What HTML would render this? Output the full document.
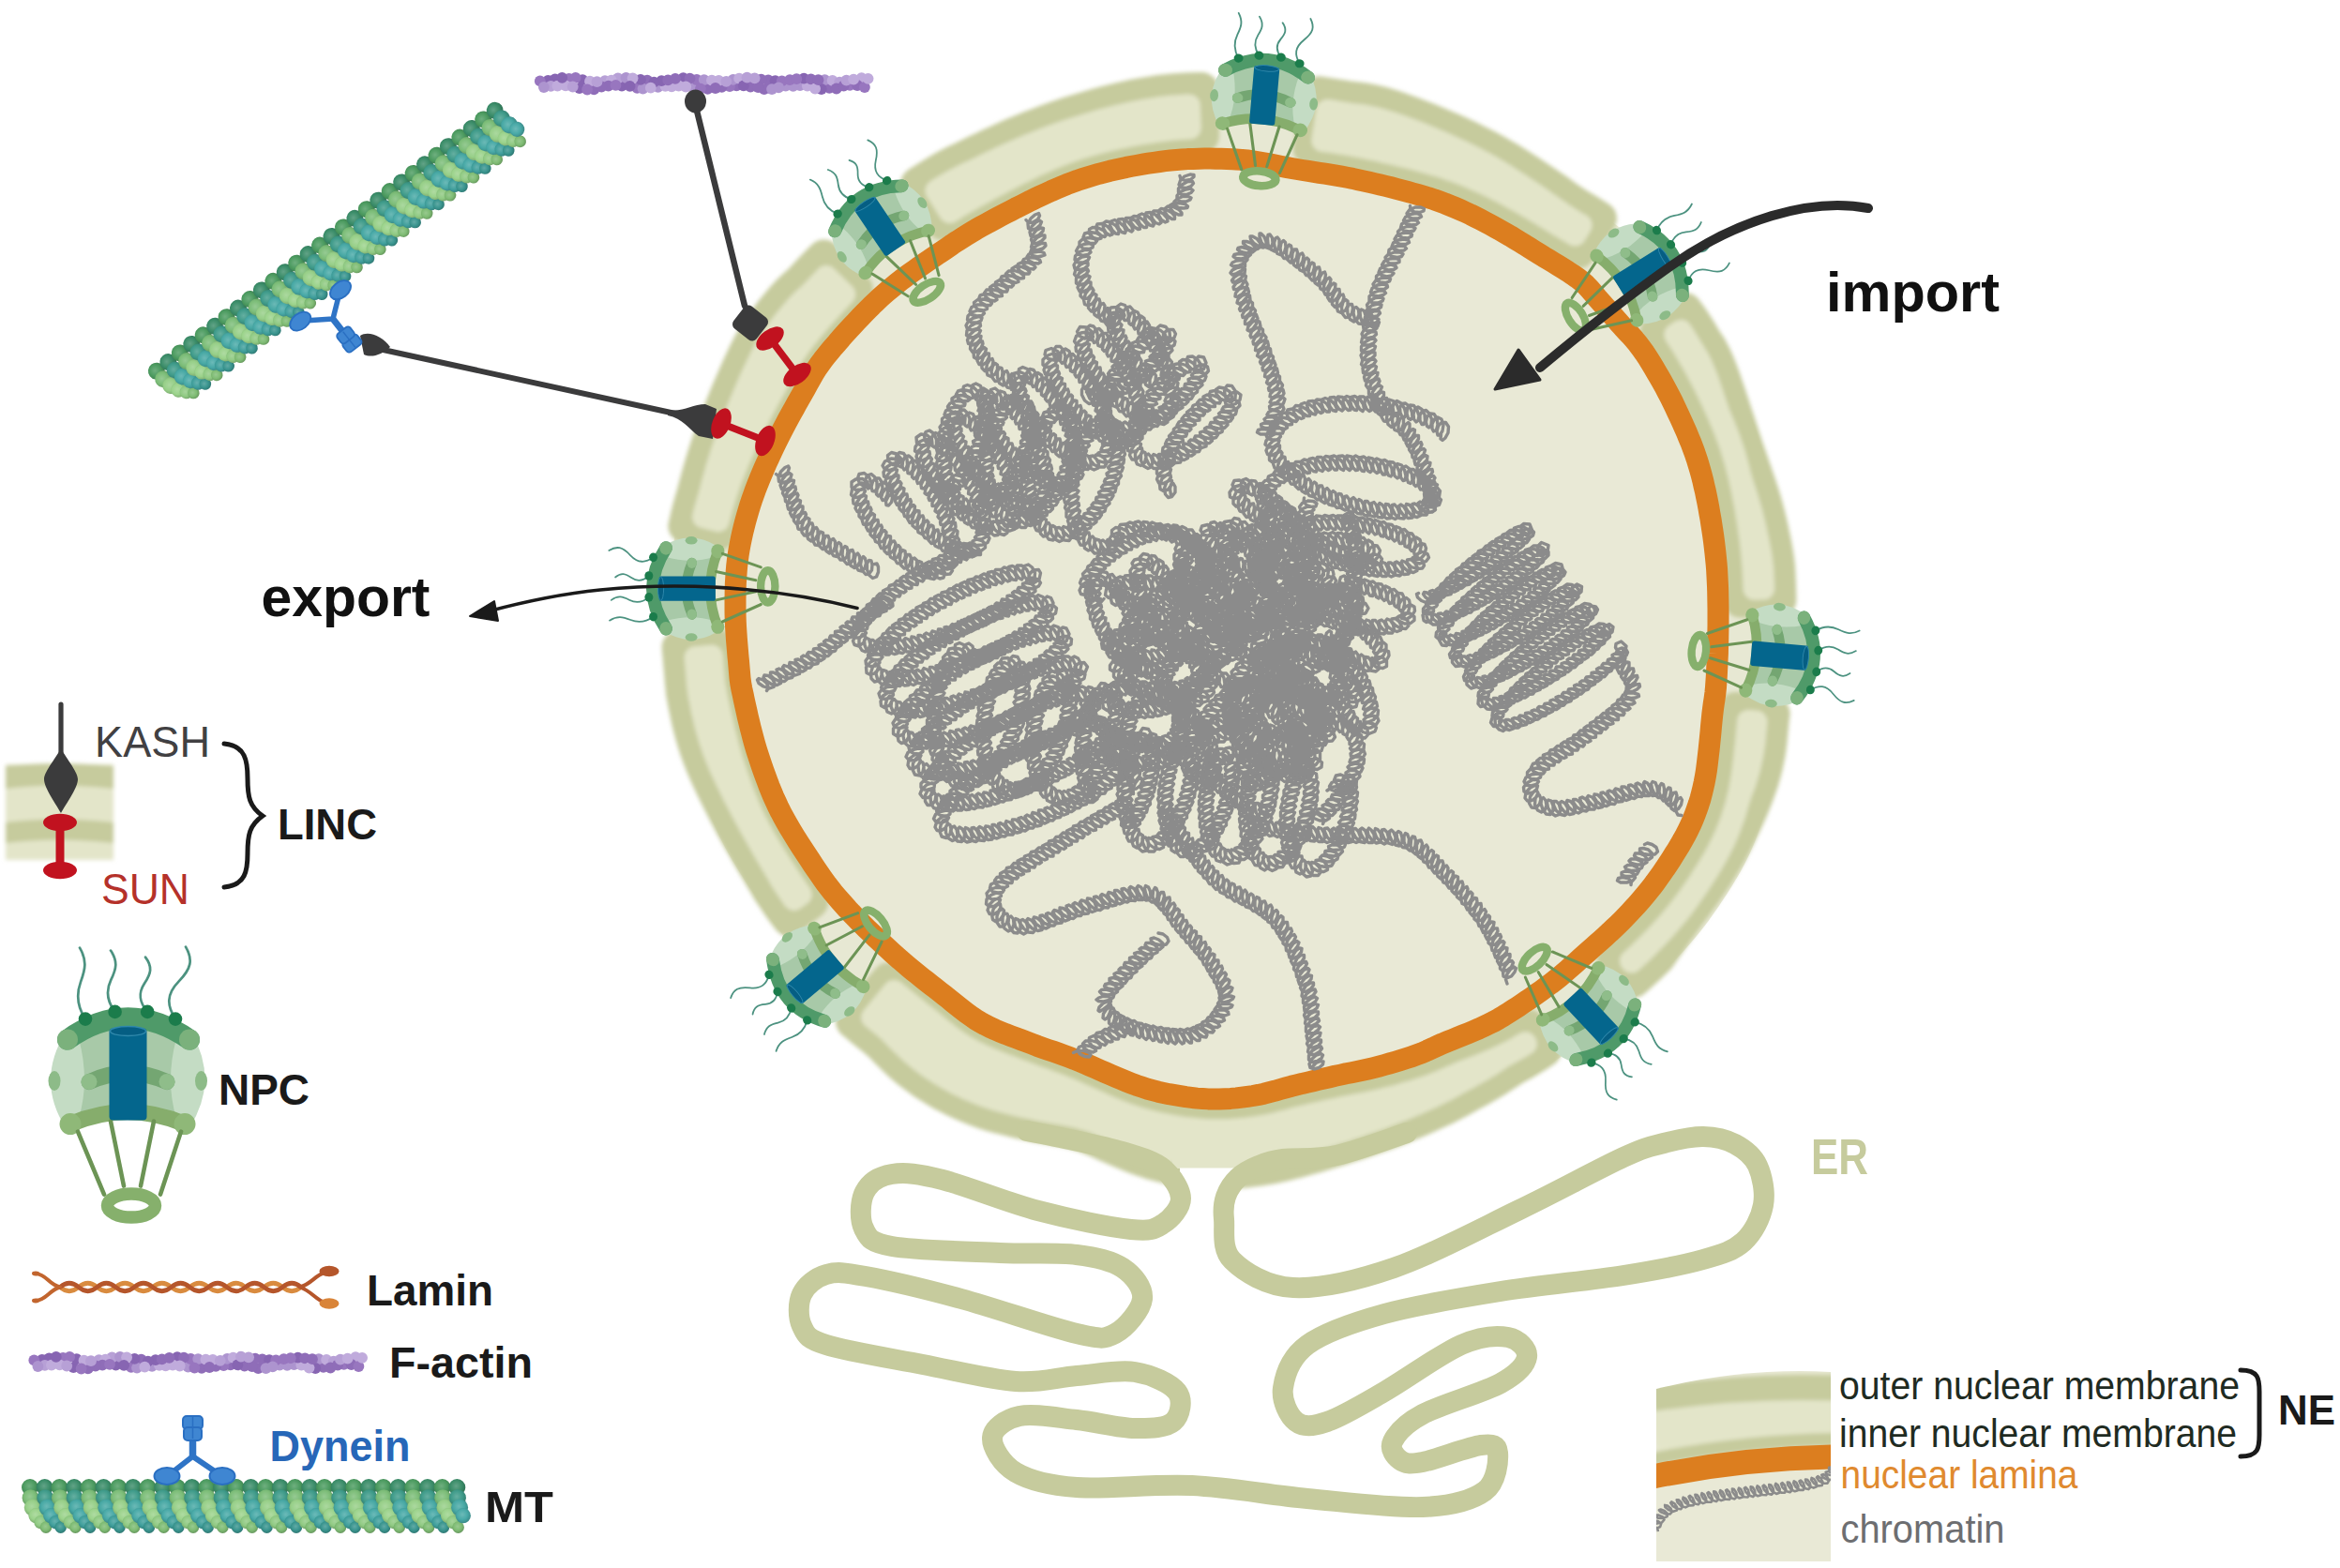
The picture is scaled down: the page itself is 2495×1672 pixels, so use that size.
<!DOCTYPE html>
<html><head><meta charset="utf-8"><title>Nucleus</title>
<style>html,body{margin:0;padding:0;background:#fff}svg{display:block}text{font-family:"Liberation Sans",sans-serif}</style></head><body>
<svg width="2495" height="1672" viewBox="0 0 2495 1672">
<defs>
<filter id="soft" x="-5%" y="-5%" width="110%" height="110%"><feGaussianBlur stdDeviation="2.1"/></filter>
<g id="npc">
<path d="M-45 -66 c-9 -13.7 -10 -25.8 -5 -39.5 s7 -22.8 -1 -36.5" fill="none" stroke="#4c9280" stroke-width="2.7" stroke-linecap="round"/>
<path d="M-13.4 -73.7 c-9 -11.8 -10 -22.2 -4.3 -34 s7.7 -19.6 -0.3 -31.3" fill="none" stroke="#4c9280" stroke-width="2.7" stroke-linecap="round"/>
<path d="M21.2 -73.7 c-9 -10.5 -10 -19.8 -3.1 -30.3 s8.9 -17.5 0.9 -28" fill="none" stroke="#4c9280" stroke-width="2.7" stroke-linecap="round"/>
<path d="M51 -66 c-9 -13.9 -10 -26.2 3.5 -40 s15.5 -23.1 7.5 -37" fill="none" stroke="#4c9280" stroke-width="2.7" stroke-linecap="round"/>
<path d="M-66 -52 Q0 -84 68 -52 Q98 0 66 50 Q0 26 -66 50 Q-98 0 -66 -52Z" fill="#c4dcc4"/>
<path d="M-52 -45 Q0 -66 52 -45 Q40 0 52 40 Q0 24 -52 40 Q-40 0 -52 -45Z" fill="#a8c9a8"/>
<ellipse cx="-78" cy="0" rx="6.5" ry="10.5" fill="#8dbb88"/><ellipse cx="78.5" cy="0" rx="6.5" ry="10.5" fill="#8dbb88"/>
<path d="M-61 46 Q0 20 61 46" fill="none" stroke="#86ad6c" stroke-width="17" stroke-linecap="round"/>
<circle cx="-61" cy="46" r="11.5" fill="#8fb878"/><circle cx="61" cy="46" r="11.5" fill="#8fb878"/>
<path d="M-41 1 Q0 -18 42 1" fill="none" stroke="#74a672" stroke-width="17" stroke-linecap="round"/>
<circle cx="-41" cy="1" r="8.5" fill="#8fbd8a"/><circle cx="42" cy="1" r="8.5" fill="#8fbd8a"/>
<path d="M-64 -44 Q0 -90 66 -44" fill="none" stroke="#4f9a69" stroke-width="22" stroke-linecap="round"/>
<circle cx="-64" cy="-44" r="11" fill="#7bb17c"/><circle cx="66" cy="-44" r="11" fill="#7bb17c"/>
<path d="M-53 54L-25 121" stroke="#6c9455" stroke-width="4.6" stroke-linecap="round"/>
<path d="M-18 43L-4 112" stroke="#6c9455" stroke-width="4.6" stroke-linecap="round"/>
<path d="M28 43L14 112" stroke="#6c9455" stroke-width="4.6" stroke-linecap="round"/>
<path d="M57 54L35 121" stroke="#6c9455" stroke-width="4.6" stroke-linecap="round"/>
<ellipse cx="4" cy="133" rx="25.5" ry="12.5" fill="none" stroke="#86b06c" stroke-width="13.5"/>
<rect x="-19.5" y="-56" width="40" height="98" rx="4" fill="#04668d"/>
<ellipse cx="0.5" cy="-53" rx="19" ry="5" fill="#055e83" stroke="#2f88ab" stroke-width="1.5"/>
<circle cx="-45" cy="-66" r="7.3" fill="#1b7c4b"/>
<circle cx="-13.4" cy="-73.7" r="7.3" fill="#1b7c4b"/>
<circle cx="21.2" cy="-73.7" r="7.3" fill="#1b7c4b"/>
<circle cx="51" cy="-66" r="7.3" fill="#1b7c4b"/>
</g>
<radialGradient id="mg0" cx="0.45" cy="0.42" r="0.62"><stop offset="0" stop-color="#6faf7f"/><stop offset="0.55" stop-color="#4c9b60"/><stop offset="1" stop-color="#3b784a"/></radialGradient>
<radialGradient id="mg1" cx="0.45" cy="0.42" r="0.62"><stop offset="0" stop-color="#96ca93"/><stop offset="0.55" stop-color="#7cbd78"/><stop offset="1" stop-color="#60935d"/></radialGradient>
<radialGradient id="mg2" cx="0.45" cy="0.42" r="0.62"><stop offset="0" stop-color="#abd89f"/><stop offset="0.55" stop-color="#97cf88"/><stop offset="1" stop-color="#75a16a"/></radialGradient>
<radialGradient id="mg3" cx="0.45" cy="0.42" r="0.62"><stop offset="0" stop-color="#afdba2"/><stop offset="0.55" stop-color="#9bd38b"/><stop offset="1" stop-color="#78a46c"/></radialGradient>
<radialGradient id="mg4" cx="0.45" cy="0.42" r="0.62"><stop offset="0" stop-color="#a6d49b"/><stop offset="0.55" stop-color="#90ca83"/><stop offset="1" stop-color="#709d66"/></radialGradient>
<radialGradient id="mg5" cx="0.45" cy="0.42" r="0.62"><stop offset="0" stop-color="#98c98f"/><stop offset="0.55" stop-color="#7fbc74"/><stop offset="1" stop-color="#63925a"/></radialGradient>
<radialGradient id="mt0" cx="0.45" cy="0.42" r="0.62"><stop offset="0" stop-color="#62a387"/><stop offset="0.55" stop-color="#3b8d69"/><stop offset="1" stop-color="#2e6d51"/></radialGradient>
<radialGradient id="mt1" cx="0.45" cy="0.42" r="0.62"><stop offset="0" stop-color="#65afa1"/><stop offset="0.55" stop-color="#3f9b8a"/><stop offset="1" stop-color="#31786b"/></radialGradient>
<radialGradient id="mt2" cx="0.45" cy="0.42" r="0.62"><stop offset="0" stop-color="#6bb9b6"/><stop offset="0.55" stop-color="#47a8a4"/><stop offset="1" stop-color="#37837f"/></radialGradient>
<radialGradient id="mt3" cx="0.45" cy="0.42" r="0.62"><stop offset="0" stop-color="#6cbab8"/><stop offset="0.55" stop-color="#48a9a7"/><stop offset="1" stop-color="#388382"/></radialGradient>
<radialGradient id="mt4" cx="0.45" cy="0.42" r="0.62"><stop offset="0" stop-color="#66b2af"/><stop offset="0.55" stop-color="#409f9c"/><stop offset="1" stop-color="#317c79"/></radialGradient>
<radialGradient id="mt5" cx="0.45" cy="0.42" r="0.62"><stop offset="0" stop-color="#61aaa5"/><stop offset="0.55" stop-color="#3a958f"/><stop offset="1" stop-color="#2d746f"/></radialGradient>
<g id="mt"><circle cx="9" cy="8" r="9" fill="url(#mg0)"/>
<circle cx="9.6" cy="19.2" r="9" fill="url(#mg1)"/>
<circle cx="11.8" cy="29.6" r="9" fill="url(#mg2)"/>
<circle cx="15.5" cy="38.2" r="8.1" fill="url(#mg3)"/>
<circle cx="20.5" cy="45.2" r="7.2" fill="url(#mg4)"/>
<circle cx="26" cy="50.6" r="6.3" fill="url(#mg5)"/>
<circle cx="24.7" cy="8" r="9" fill="url(#mt0)"/>
<circle cx="25.3" cy="19.2" r="9" fill="url(#mt1)"/>
<circle cx="27.5" cy="29.6" r="9" fill="url(#mt2)"/>
<circle cx="31.2" cy="38.2" r="8.1" fill="url(#mt3)"/>
<circle cx="36.2" cy="45.2" r="7.2" fill="url(#mt4)"/>
<circle cx="41.7" cy="50.6" r="6.3" fill="url(#mt5)"/>
<circle cx="40.4" cy="8" r="9" fill="url(#mg0)"/>
<circle cx="41" cy="19.2" r="9" fill="url(#mg1)"/>
<circle cx="43.2" cy="29.6" r="9" fill="url(#mg2)"/>
<circle cx="46.9" cy="38.2" r="8.1" fill="url(#mg3)"/>
<circle cx="51.9" cy="45.2" r="7.2" fill="url(#mg4)"/>
<circle cx="57.4" cy="50.6" r="6.3" fill="url(#mg5)"/>
<circle cx="56.1" cy="8" r="9" fill="url(#mt0)"/>
<circle cx="56.7" cy="19.2" r="9" fill="url(#mt1)"/>
<circle cx="58.9" cy="29.6" r="9" fill="url(#mt2)"/>
<circle cx="62.6" cy="38.2" r="8.1" fill="url(#mt3)"/>
<circle cx="67.6" cy="45.2" r="7.2" fill="url(#mt4)"/>
<circle cx="73.1" cy="50.6" r="6.3" fill="url(#mt5)"/>
<circle cx="71.8" cy="8" r="9" fill="url(#mg0)"/>
<circle cx="72.4" cy="19.2" r="9" fill="url(#mg1)"/>
<circle cx="74.6" cy="29.6" r="9" fill="url(#mg2)"/>
<circle cx="78.3" cy="38.2" r="8.1" fill="url(#mg3)"/>
<circle cx="83.3" cy="45.2" r="7.2" fill="url(#mg4)"/>
<circle cx="88.8" cy="50.6" r="6.3" fill="url(#mg5)"/>
<circle cx="87.5" cy="8" r="9" fill="url(#mt0)"/>
<circle cx="88.1" cy="19.2" r="9" fill="url(#mt1)"/>
<circle cx="90.3" cy="29.6" r="9" fill="url(#mt2)"/>
<circle cx="94" cy="38.2" r="8.1" fill="url(#mt3)"/>
<circle cx="99" cy="45.2" r="7.2" fill="url(#mt4)"/>
<circle cx="104.5" cy="50.6" r="6.3" fill="url(#mt5)"/>
<circle cx="103.2" cy="8" r="9" fill="url(#mg0)"/>
<circle cx="103.8" cy="19.2" r="9" fill="url(#mg1)"/>
<circle cx="106" cy="29.6" r="9" fill="url(#mg2)"/>
<circle cx="109.7" cy="38.2" r="8.1" fill="url(#mg3)"/>
<circle cx="114.7" cy="45.2" r="7.2" fill="url(#mg4)"/>
<circle cx="120.2" cy="50.6" r="6.3" fill="url(#mg5)"/>
<circle cx="118.9" cy="8" r="9" fill="url(#mt0)"/>
<circle cx="119.5" cy="19.2" r="9" fill="url(#mt1)"/>
<circle cx="121.7" cy="29.6" r="9" fill="url(#mt2)"/>
<circle cx="125.4" cy="38.2" r="8.1" fill="url(#mt3)"/>
<circle cx="130.4" cy="45.2" r="7.2" fill="url(#mt4)"/>
<circle cx="135.9" cy="50.6" r="6.3" fill="url(#mt5)"/>
<circle cx="134.6" cy="8" r="9" fill="url(#mg0)"/>
<circle cx="135.2" cy="19.2" r="9" fill="url(#mg1)"/>
<circle cx="137.4" cy="29.6" r="9" fill="url(#mg2)"/>
<circle cx="141.1" cy="38.2" r="8.1" fill="url(#mg3)"/>
<circle cx="146.1" cy="45.2" r="7.2" fill="url(#mg4)"/>
<circle cx="151.6" cy="50.6" r="6.3" fill="url(#mg5)"/>
<circle cx="150.3" cy="8" r="9" fill="url(#mt0)"/>
<circle cx="150.9" cy="19.2" r="9" fill="url(#mt1)"/>
<circle cx="153.1" cy="29.6" r="9" fill="url(#mt2)"/>
<circle cx="156.8" cy="38.2" r="8.1" fill="url(#mt3)"/>
<circle cx="161.8" cy="45.2" r="7.2" fill="url(#mt4)"/>
<circle cx="167.3" cy="50.6" r="6.3" fill="url(#mt5)"/>
<circle cx="166" cy="8" r="9" fill="url(#mg0)"/>
<circle cx="166.6" cy="19.2" r="9" fill="url(#mg1)"/>
<circle cx="168.8" cy="29.6" r="9" fill="url(#mg2)"/>
<circle cx="172.5" cy="38.2" r="8.1" fill="url(#mg3)"/>
<circle cx="177.5" cy="45.2" r="7.2" fill="url(#mg4)"/>
<circle cx="183" cy="50.6" r="6.3" fill="url(#mg5)"/>
<circle cx="181.7" cy="8" r="9" fill="url(#mt0)"/>
<circle cx="182.3" cy="19.2" r="9" fill="url(#mt1)"/>
<circle cx="184.5" cy="29.6" r="9" fill="url(#mt2)"/>
<circle cx="188.2" cy="38.2" r="8.1" fill="url(#mt3)"/>
<circle cx="193.2" cy="45.2" r="7.2" fill="url(#mt4)"/>
<circle cx="198.7" cy="50.6" r="6.3" fill="url(#mt5)"/>
<circle cx="197.4" cy="8" r="9" fill="url(#mg0)"/>
<circle cx="198" cy="19.2" r="9" fill="url(#mg1)"/>
<circle cx="200.2" cy="29.6" r="9" fill="url(#mg2)"/>
<circle cx="203.9" cy="38.2" r="8.1" fill="url(#mg3)"/>
<circle cx="208.9" cy="45.2" r="7.2" fill="url(#mg4)"/>
<circle cx="214.4" cy="50.6" r="6.3" fill="url(#mg5)"/>
<circle cx="213.1" cy="8" r="9" fill="url(#mt0)"/>
<circle cx="213.7" cy="19.2" r="9" fill="url(#mt1)"/>
<circle cx="215.9" cy="29.6" r="9" fill="url(#mt2)"/>
<circle cx="219.6" cy="38.2" r="8.1" fill="url(#mt3)"/>
<circle cx="224.6" cy="45.2" r="7.2" fill="url(#mt4)"/>
<circle cx="230.1" cy="50.6" r="6.3" fill="url(#mt5)"/>
<circle cx="228.8" cy="8" r="9" fill="url(#mg0)"/>
<circle cx="229.4" cy="19.2" r="9" fill="url(#mg1)"/>
<circle cx="231.6" cy="29.6" r="9" fill="url(#mg2)"/>
<circle cx="235.3" cy="38.2" r="8.1" fill="url(#mg3)"/>
<circle cx="240.3" cy="45.2" r="7.2" fill="url(#mg4)"/>
<circle cx="245.8" cy="50.6" r="6.3" fill="url(#mg5)"/>
<circle cx="244.5" cy="8" r="9" fill="url(#mt0)"/>
<circle cx="245.1" cy="19.2" r="9" fill="url(#mt1)"/>
<circle cx="247.3" cy="29.6" r="9" fill="url(#mt2)"/>
<circle cx="251" cy="38.2" r="8.1" fill="url(#mt3)"/>
<circle cx="256" cy="45.2" r="7.2" fill="url(#mt4)"/>
<circle cx="261.5" cy="50.6" r="6.3" fill="url(#mt5)"/>
<circle cx="260.2" cy="8" r="9" fill="url(#mg0)"/>
<circle cx="260.8" cy="19.2" r="9" fill="url(#mg1)"/>
<circle cx="263" cy="29.6" r="9" fill="url(#mg2)"/>
<circle cx="266.7" cy="38.2" r="8.1" fill="url(#mg3)"/>
<circle cx="271.7" cy="45.2" r="7.2" fill="url(#mg4)"/>
<circle cx="277.2" cy="50.6" r="6.3" fill="url(#mg5)"/>
<circle cx="275.9" cy="8" r="9" fill="url(#mt0)"/>
<circle cx="276.5" cy="19.2" r="9" fill="url(#mt1)"/>
<circle cx="278.7" cy="29.6" r="9" fill="url(#mt2)"/>
<circle cx="282.4" cy="38.2" r="8.1" fill="url(#mt3)"/>
<circle cx="287.4" cy="45.2" r="7.2" fill="url(#mt4)"/>
<circle cx="292.9" cy="50.6" r="6.3" fill="url(#mt5)"/>
<circle cx="291.6" cy="8" r="9" fill="url(#mg0)"/>
<circle cx="292.2" cy="19.2" r="9" fill="url(#mg1)"/>
<circle cx="294.4" cy="29.6" r="9" fill="url(#mg2)"/>
<circle cx="298.1" cy="38.2" r="8.1" fill="url(#mg3)"/>
<circle cx="303.1" cy="45.2" r="7.2" fill="url(#mg4)"/>
<circle cx="308.6" cy="50.6" r="6.3" fill="url(#mg5)"/>
<circle cx="307.3" cy="8" r="9" fill="url(#mt0)"/>
<circle cx="307.9" cy="19.2" r="9" fill="url(#mt1)"/>
<circle cx="310.1" cy="29.6" r="9" fill="url(#mt2)"/>
<circle cx="313.8" cy="38.2" r="8.1" fill="url(#mt3)"/>
<circle cx="318.8" cy="45.2" r="7.2" fill="url(#mt4)"/>
<circle cx="324.3" cy="50.6" r="6.3" fill="url(#mt5)"/>
<circle cx="323" cy="8" r="9" fill="url(#mg0)"/>
<circle cx="323.6" cy="19.2" r="9" fill="url(#mg1)"/>
<circle cx="325.8" cy="29.6" r="9" fill="url(#mg2)"/>
<circle cx="329.5" cy="38.2" r="8.1" fill="url(#mg3)"/>
<circle cx="334.5" cy="45.2" r="7.2" fill="url(#mg4)"/>
<circle cx="340" cy="50.6" r="6.3" fill="url(#mg5)"/>
<circle cx="338.7" cy="8" r="9" fill="url(#mt0)"/>
<circle cx="339.3" cy="19.2" r="9" fill="url(#mt1)"/>
<circle cx="341.5" cy="29.6" r="9" fill="url(#mt2)"/>
<circle cx="345.2" cy="38.2" r="8.1" fill="url(#mt3)"/>
<circle cx="350.2" cy="45.2" r="7.2" fill="url(#mt4)"/>
<circle cx="355.7" cy="50.6" r="6.3" fill="url(#mt5)"/>
<circle cx="354.4" cy="8" r="9" fill="url(#mg0)"/>
<circle cx="355" cy="19.2" r="9" fill="url(#mg1)"/>
<circle cx="357.2" cy="29.6" r="9" fill="url(#mg2)"/>
<circle cx="360.9" cy="38.2" r="8.1" fill="url(#mg3)"/>
<circle cx="365.9" cy="45.2" r="7.2" fill="url(#mg4)"/>
<circle cx="371.4" cy="50.6" r="6.3" fill="url(#mg5)"/>
<circle cx="370.1" cy="8" r="9" fill="url(#mt0)"/>
<circle cx="370.7" cy="19.2" r="9" fill="url(#mt1)"/>
<circle cx="372.9" cy="29.6" r="9" fill="url(#mt2)"/>
<circle cx="376.6" cy="38.2" r="8.1" fill="url(#mt3)"/>
<circle cx="381.6" cy="45.2" r="7.2" fill="url(#mt4)"/>
<circle cx="387.1" cy="50.6" r="6.3" fill="url(#mt5)"/>
<circle cx="385.8" cy="8" r="9" fill="url(#mg0)"/>
<circle cx="386.4" cy="19.2" r="9" fill="url(#mg1)"/>
<circle cx="388.6" cy="29.6" r="9" fill="url(#mg2)"/>
<circle cx="392.3" cy="38.2" r="8.1" fill="url(#mg3)"/>
<circle cx="397.3" cy="45.2" r="7.2" fill="url(#mg4)"/>
<circle cx="402.8" cy="50.6" r="6.3" fill="url(#mg5)"/>
<circle cx="401.5" cy="8" r="9" fill="url(#mt0)"/>
<circle cx="402.1" cy="19.2" r="9" fill="url(#mt1)"/>
<circle cx="404.3" cy="29.6" r="9" fill="url(#mt2)"/>
<circle cx="408" cy="38.2" r="8.1" fill="url(#mt3)"/>
<circle cx="413" cy="45.2" r="7.2" fill="url(#mt4)"/>
<circle cx="418.5" cy="50.6" r="6.3" fill="url(#mt5)"/>
<circle cx="417.2" cy="8" r="9" fill="url(#mg0)"/>
<circle cx="417.8" cy="19.2" r="9" fill="url(#mg1)"/>
<circle cx="420" cy="29.6" r="9" fill="url(#mg2)"/>
<circle cx="423.7" cy="38.2" r="8.1" fill="url(#mg3)"/>
<circle cx="428.7" cy="45.2" r="7.2" fill="url(#mg4)"/>
<circle cx="434.2" cy="50.6" r="6.3" fill="url(#mg5)"/>
<circle cx="432.9" cy="8" r="9" fill="url(#mt0)"/>
<circle cx="433.5" cy="19.2" r="9" fill="url(#mt1)"/>
<circle cx="435.7" cy="29.6" r="9" fill="url(#mt2)"/>
<circle cx="439.4" cy="38.2" r="8.1" fill="url(#mt3)"/>
<circle cx="444.4" cy="45.2" r="7.2" fill="url(#mt4)"/>
<circle cx="449.9" cy="50.6" r="6.3" fill="url(#mt5)"/>
<circle cx="448.6" cy="8" r="9" fill="url(#mg0)"/>
<circle cx="449.2" cy="19.2" r="9" fill="url(#mg1)"/>
<circle cx="451.4" cy="29.6" r="9" fill="url(#mg2)"/>
<circle cx="455.1" cy="38.2" r="8.1" fill="url(#mg3)"/>
<circle cx="460.1" cy="45.2" r="7.2" fill="url(#mg4)"/>
<circle cx="465.6" cy="50.6" r="6.3" fill="url(#mg5)"/>
<circle cx="464.3" cy="8" r="9" fill="url(#mt0)"/>
<circle cx="464.9" cy="19.2" r="9" fill="url(#mt1)"/>
<circle cx="467.1" cy="29.6" r="9" fill="url(#mt2)"/>
<circle cx="470.8" cy="38.2" r="8.1" fill="url(#mt3)"/></g>
<g id="actin"><circle cx="243.8" cy="6.2" r="5.9" fill="#8f6db8"/>
<circle cx="214.3" cy="2.3" r="5.9" fill="#8f6db8"/>
<circle cx="282" cy="2.2" r="5.9" fill="#ad94cf"/>
<circle cx="313.3" cy="4.9" r="5.9" fill="#8f6db8"/>
<circle cx="289.8" cy="2.6" r="5.9" fill="#c0abdc"/>
<circle cx="92" cy="2.5" r="5.9" fill="#8765b2"/>
<circle cx="169" cy="4.7" r="5.9" fill="#ad94cf"/>
<circle cx="183.5" cy="5.8" r="5.9" fill="#8f6db8"/>
<circle cx="87.9" cy="-5.5" r="5.9" fill="#b7a0d6"/>
<circle cx="207" cy="3.2" r="5.9" fill="#9876bf"/>
<circle cx="248.2" cy="-3.5" r="5.9" fill="#8f6db8"/>
<circle cx="130.6" cy="3.8" r="5.9" fill="#ad94cf"/>
<circle cx="74" cy="-2.8" r="5.9" fill="#b7a0d6"/>
<circle cx="286.1" cy="-5.3" r="5.9" fill="#8765b2"/>
<circle cx="255.6" cy="-2.8" r="5.9" fill="#8765b2"/>
<circle cx="266.7" cy="2.7" r="5.9" fill="#ad94cf"/>
<circle cx="252" cy="6.1" r="5.9" fill="#ad94cf"/>
<circle cx="308.4" cy="-3.8" r="5.9" fill="#ad94cf"/>
<circle cx="108.3" cy="4.9" r="5.9" fill="#9876bf"/>
<circle cx="316.6" cy="-3.1" r="5.9" fill="#c0abdc"/>
<circle cx="262.7" cy="-2.7" r="5.9" fill="#9876bf"/>
<circle cx="20.8" cy="-4.6" r="5.9" fill="#8765b2"/>
<circle cx="335.2" cy="1.8" r="5.9" fill="#9876bf"/>
<circle cx="171.9" cy="-4" r="5.9" fill="#9876bf"/>
<circle cx="138.4" cy="2.8" r="5.9" fill="#c0abdc"/>
<circle cx="229.2" cy="3.5" r="5.9" fill="#8f6db8"/>
<circle cx="210.7" cy="-4.2" r="5.9" fill="#ad94cf"/>
<circle cx="13.3" cy="-3.2" r="5.9" fill="#8765b2"/>
<circle cx="347.6" cy="-5.9" r="5.9" fill="#c0abdc"/>
<circle cx="217.1" cy="-5.3" r="5.9" fill="#c0abdc"/>
<circle cx="293.7" cy="-4.7" r="5.9" fill="#8f6db8"/>
<circle cx="96.5" cy="-6.1" r="5.9" fill="#ad94cf"/>
<circle cx="198.6" cy="3.9" r="5.9" fill="#8f6db8"/>
<circle cx="46.8" cy="5.1" r="5.9" fill="#8765b2"/>
<circle cx="157.5" cy="-5.9" r="5.9" fill="#8765b2"/>
<circle cx="179.7" cy="-3.9" r="5.9" fill="#ad94cf"/>
<circle cx="343.1" cy="2" r="5.9" fill="#8f6db8"/>
<circle cx="259.2" cy="4.4" r="5.9" fill="#ad94cf"/>
<circle cx="119.1" cy="-3.4" r="5.9" fill="#8f6db8"/>
<circle cx="50.2" cy="-3.9" r="5.9" fill="#8765b2"/>
<circle cx="350.9" cy="4" r="5.9" fill="#9876bf"/>
<circle cx="35.7" cy="-5.1" r="5.9" fill="#9876bf"/>
<circle cx="134.3" cy="-2.8" r="5.9" fill="#8765b2"/>
<circle cx="195.4" cy="-3.1" r="5.9" fill="#c0abdc"/>
<circle cx="304.8" cy="6" r="5.9" fill="#8765b2"/>
<circle cx="42.7" cy="-6.1" r="5.9" fill="#9876bf"/>
<circle cx="354.6" cy="-5.2" r="5.9" fill="#c0abdc"/>
<circle cx="4.8" cy="-2.6" r="5.9" fill="#9876bf"/>
<circle cx="114.5" cy="5.6" r="5.9" fill="#ad94cf"/>
<circle cx="16.3" cy="2.8" r="5.9" fill="#b7a0d6"/>
<circle cx="324.2" cy="-1.4" r="5.9" fill="#b7a0d6"/>
<circle cx="62.3" cy="6.3" r="5.9" fill="#8f6db8"/>
<circle cx="320.8" cy="5.5" r="5.9" fill="#8f6db8"/>
<circle cx="8.9" cy="4" r="5.9" fill="#ad94cf"/>
<circle cx="175.9" cy="5.6" r="5.9" fill="#9876bf"/>
<circle cx="126.3" cy="-1.4" r="5.9" fill="#8765b2"/>
<circle cx="240.6" cy="-4.3" r="5.9" fill="#8f6db8"/>
<circle cx="274.7" cy="2.8" r="5.9" fill="#ad94cf"/>
<circle cx="122.8" cy="4.7" r="5.9" fill="#c0abdc"/>
<circle cx="237.3" cy="4.1" r="5.9" fill="#8f6db8"/>
<circle cx="152.6" cy="2.5" r="5.9" fill="#c0abdc"/>
<circle cx="271.1" cy="-3.9" r="5.9" fill="#9876bf"/>
<circle cx="23.4" cy="2.6" r="5.9" fill="#c0abdc"/>
<circle cx="145.1" cy="3.3" r="5.9" fill="#c0abdc"/>
<circle cx="58" cy="-2.3" r="5.9" fill="#c0abdc"/>
<circle cx="112" cy="-4.1" r="5.9" fill="#8765b2"/>
<circle cx="32.1" cy="2.4" r="5.9" fill="#c0abdc"/>
<circle cx="298.1" cy="5.6" r="5.9" fill="#c0abdc"/>
<circle cx="301.5" cy="-3.8" r="5.9" fill="#8f6db8"/>
<circle cx="328.6" cy="2.5" r="5.9" fill="#8f6db8"/>
<circle cx="278.3" cy="-4.8" r="5.9" fill="#9876bf"/>
<circle cx="80.8" cy="-3.4" r="5.9" fill="#c0abdc"/>
<circle cx="77.7" cy="2.7" r="5.9" fill="#8f6db8"/>
<circle cx="28.3" cy="-6.1" r="5.9" fill="#8765b2"/>
<circle cx="141.2" cy="-3.7" r="5.9" fill="#8f6db8"/>
<circle cx="233.6" cy="-5.7" r="5.9" fill="#b7a0d6"/>
<circle cx="149" cy="-5.1" r="5.9" fill="#8f6db8"/>
<circle cx="70.3" cy="3.5" r="5.9" fill="#8f6db8"/>
<circle cx="55.1" cy="6.5" r="5.9" fill="#9876bf"/>
<circle cx="203.3" cy="-2.2" r="5.9" fill="#b7a0d6"/>
<circle cx="331.4" cy="-3.3" r="5.9" fill="#b7a0d6"/>
<circle cx="103.6" cy="-5.7" r="5.9" fill="#c0abdc"/>
<circle cx="85.5" cy="1.9" r="5.9" fill="#9876bf"/>
<circle cx="164.5" cy="-5.3" r="5.9" fill="#8f6db8"/>
<circle cx="39.7" cy="3.5" r="5.9" fill="#b7a0d6"/>
<circle cx="221.8" cy="2.4" r="5.9" fill="#8765b2"/>
<circle cx="339.1" cy="-4.3" r="5.9" fill="#c0abdc"/>
<circle cx="187.9" cy="-3.3" r="5.9" fill="#c0abdc"/>
<circle cx="191.8" cy="5" r="5.9" fill="#8f6db8"/>
<circle cx="100.6" cy="2.8" r="5.9" fill="#8765b2"/>
<circle cx="160.2" cy="3.5" r="5.9" fill="#c0abdc"/>
<circle cx="225.5" cy="-6.4" r="5.9" fill="#b7a0d6"/>
<circle cx="65.5" cy="-1.8" r="5.9" fill="#b7a0d6"/></g>
<g id="dyn" fill="#3f86d2" stroke="#2a6fc2" stroke-width="2" stroke-linejoin="round">
<path d="M0 0L-27 21M0 0L31 21" fill="none" stroke="#2f74c6" stroke-width="6" stroke-linecap="round"/>
<path d="M0 2L0 -18" fill="none" stroke="#2f74c6" stroke-width="7.5"/>
<ellipse cx="-27.5" cy="21" rx="13.5" ry="9"/>
<ellipse cx="31.5" cy="21" rx="13.5" ry="9"/>
<rect x="-10.5" y="-43" width="21" height="14" rx="4"/>
<rect x="-9.5" y="-31" width="19" height="14" rx="4"/>
<path d="M0 -42L0 -19" fill="none" stroke-width="1.5"/>
</g>
<clipPath id="lgclip"><path d="M1766 1481Q1860 1458 1952 1463L1952 1665L1766 1665Z"/></clipPath>
</defs>
<rect width="2495" height="1672" fill="#fff"/>
<path d="M1318 170 L1324 170.4 L1330 171 L1335.9 171.8 L1341.8 172.8 L1347.7 173.8 L1353.6 174.9 L1359.5 176.1 L1365.4 177.3 L1371.3 178.4 L1377.2 179.5 L1383.1 180.5 L1389 181.5 L1395 182.4 L1400.9 183.3 L1406.8 184.3 L1412.7 185.2 L1418.7 186.2 L1424.6 187.2 L1430.5 188.2 L1436.4 189.3 L1442.3 190.4 L1448.1 191.7 L1454 192.9 L1459.9 194.2 L1465.7 195.6 L1471.6 197 L1477.4 198.4 L1483.2 199.8 L1489 201.3 L1494.8 202.8 L1500.6 204.4 L1506.4 206 L1512.2 207.6 L1517.9 209.3 L1523.7 211.1 L1529.4 212.9 L1535 214.9 L1540.7 217 L1546.2 219.2 L1551.8 221.5 L1557.3 223.9 L1562.8 226.4 L1568.2 228.9 L1573.6 231.6 L1578.9 234.3 L1584.2 237.1 L1589.5 239.9 L1594.8 242.8 L1600 245.7 L1605.2 248.7 L1610.4 251.7 L1615.5 254.8 L1620.7 258 L1625.8 261.1 L1630.8 264.3 L1635.9 267.5 L1641 270.6 L1646.1 273.8 L1651.3 276.9 L1656.4 280 L1661.5 283.1 L1666.6 286.3 L1671.7 289.5 L1676.7 292.8 L1681.6 296.2 L1686.4 299.9 L1690.9 303.9 L1695 308.2 L1698.9 312.8 L1702.7 317.4 L1706.7 321.9 L1710.7 326.4 L1714.7 330.9 L1718.6 335.4 L1722.6 339.9 L1726.5 344.4 L1730.5 348.9 L1734.6 353.3 L1738.7 357.7 L1742.7 362.2 L1746.5 366.8 L1750.1 371.6 L1753.6 376.5 L1756.9 381.5 L1760.1 386.6 L1763.2 391.7 L1766.2 396.9 L1769.2 402.1 L1772.2 407.3 L1775.1 412.5 L1777.9 417.8 L1780.7 423.1 L1783.4 428.5 L1786 433.9 L1788.5 439.3 L1791.1 444.8 L1793.5 450.2 L1796 455.7 L1798.4 461.2 L1800.7 466.8 L1803 472.3 L1805.1 477.9 L1807.2 483.6 L1809.1 489.2 L1810.9 495 L1812.6 500.7 L1814.2 506.5 L1815.7 512.3 L1817 518.2 L1818.4 524 L1819.6 529.9 L1820.8 535.8 L1821.9 541.7 L1822.9 547.6 L1824 553.5 L1824.9 559.4 L1825.8 565.3 L1826.7 571.3 L1827.5 577.2 L1828.2 583.2 L1828.9 589.1 L1829.5 595.1 L1830.1 601.1 L1830.6 607.1 L1830.9 613 L1831.2 619 L1831.5 625 L1831.7 631 L1831.8 637 L1831.9 643 L1832 649 L1832 655 L1832 661 L1832 667 L1831.9 673 L1831.8 679 L1831.7 685 L1831.5 691 L1831.4 697 L1831.1 703 L1830.9 709 L1830.6 715 L1830.3 721 L1829.9 727 L1829.5 733 L1828.9 738.9 L1828.1 744.9 L1827.2 750.8 L1826.4 756.8 L1825.7 762.7 L1825.1 768.7 L1824.5 774.7 L1824 780.6 L1823.4 786.6 L1822.8 792.6 L1822.2 798.5 L1821.5 804.5 L1820.8 810.5 L1820.1 816.4 L1819.3 822.4 L1818.3 828.3 L1817.2 834.2 L1815.9 840.1 L1814.5 845.9 L1813 851.7 L1811.2 857.4 L1809.2 863.1 L1807.2 868.7 L1804.9 874.3 L1802.5 879.8 L1799.9 885.2 L1797.2 890.5 L1794.3 895.8 L1791.3 901 L1788.2 906.1 L1785 911.2 L1781.8 916.3 L1778.5 921.3 L1775.2 926.3 L1771.8 931.2 L1768.3 936.1 L1764.8 941 L1761.2 945.8 L1757.4 950.5 L1753.6 955.1 L1749.7 959.7 L1745.8 964.2 L1741.8 968.6 L1737.7 973 L1733.5 977.4 L1729.3 981.7 L1725.1 985.9 L1720.7 990 L1716.4 994.1 L1711.9 998.2 L1707.5 1002.2 L1703 1006.2 L1698.5 1010.1 L1694 1014.1 L1689.5 1018.1 L1685.1 1022.1 L1680.6 1026.2 L1676.1 1030.2 L1671.6 1034.1 L1667.1 1038 L1662.5 1041.9 L1657.8 1045.6 L1653 1049.3 L1648.2 1052.8 L1643.4 1056.4 L1638.5 1059.8 L1633.5 1063.3 L1628.6 1066.7 L1623.6 1070 L1618.6 1073.4 L1613.6 1076.7 L1608.6 1079.9 L1603.5 1083.1 L1598.3 1086.2 L1593.1 1089.1 L1587.7 1091.8 L1582.3 1094.4 L1576.9 1096.9 L1571.4 1099.3 L1565.8 1101.6 L1560.3 1103.8 L1554.7 1106 L1549.1 1108.3 L1543.6 1110.5 L1538 1112.8 L1532.6 1115.3 L1527.1 1117.8 L1521.7 1120.3 L1516.1 1122.7 L1510.5 1124.8 L1504.9 1126.8 L1499.2 1128.7 L1493.4 1130.5 L1487.7 1132.2 L1481.9 1133.9 L1476.2 1135.5 L1470.4 1137.1 L1464.6 1138.6 L1458.7 1140 L1452.9 1141.3 L1447 1142.5 L1441.1 1143.7 L1435.2 1144.8 L1429.4 1146.1 L1423.5 1147.3 L1417.6 1148.7 L1411.8 1150 L1405.9 1151.3 L1400.1 1152.7 L1394.3 1154.1 L1388.4 1155.4 L1382.6 1156.9 L1376.8 1158.3 L1371 1159.9 L1365.2 1161.5 L1359.4 1163.2 L1353.6 1164.7 L1347.8 1166.2 L1342 1167.4 L1336 1168.5 L1330.1 1169.4 L1324.2 1170.2 L1318.2 1170.9 L1312.2 1171.4 L1306.2 1171.7 L1300.2 1172 L1294.2 1172 L1288.2 1171.9 L1282.3 1171.5 L1276.3 1171.1 L1270.3 1170.4 L1264.4 1169.7 L1258.4 1168.7 L1252.5 1167.7 L1246.6 1166.7 L1240.7 1165.5 L1234.9 1164.2 L1229.1 1162.7 L1223.3 1161.1 L1217.6 1159.2 L1211.9 1157.3 L1206.3 1155.2 L1200.7 1153 L1195.1 1150.7 L1189.6 1148.4 L1184.1 1146 L1178.6 1143.6 L1173.1 1141.2 L1167.6 1138.8 L1162.1 1136.4 L1156.6 1134 L1151.1 1131.7 L1145.5 1129.4 L1139.9 1127.3 L1134.3 1125.2 L1128.6 1123.2 L1123 1121.2 L1117.3 1119.3 L1111.6 1117.3 L1106 1115.3 L1100.4 1113.1 L1094.8 1111 L1089.1 1108.9 L1083.5 1106.8 L1077.9 1104.7 L1072.3 1102.6 L1066.7 1100.3 L1061.2 1098 L1055.7 1095.5 L1050.4 1092.8 L1045.1 1089.9 L1040 1086.8 L1035.1 1083.4 L1030.2 1079.9 L1025.4 1076.2 L1020.8 1072.5 L1016.1 1068.7 L1011.4 1064.9 L1006.8 1061.2 L1002 1057.5 L997.3 1053.8 L992.5 1050.1 L987.8 1046.4 L983.1 1042.7 L978.4 1038.9 L973.8 1035.2 L969.1 1031.3 L964.6 1027.5 L960 1023.6 L955.5 1019.6 L951 1015.6 L946.6 1011.6 L942.2 1007.5 L937.8 1003.4 L933.4 999.3 L929.1 995.1 L924.8 990.9 L920.5 986.7 L916.3 982.5 L912.1 978.2 L907.9 973.9 L903.8 969.5 L899.8 965 L895.8 960.5 L891.9 956 L888 951.4 L884.3 946.7 L880.7 942 L877.2 937.1 L873.8 932.1 L870.4 927.2 L867 922.2 L863.7 917.2 L860.4 912.2 L857.1 907.2 L853.8 902.2 L850.6 897.1 L847.4 892 L844.3 886.9 L841.2 881.8 L838.2 876.6 L835.3 871.3 L832.5 866 L829.8 860.6 L827.3 855.2 L824.8 849.7 L822.5 844.2 L820.2 838.6 L818.1 833 L816 827.4 L814 821.8 L812 816.1 L810.1 810.4 L808.2 804.7 L806.4 799 L804.7 793.2 L803.1 787.4 L801.6 781.6 L800.1 775.8 L798.7 770 L797.3 764.2 L796 758.3 L794.7 752.5 L793.4 746.6 L792.2 740.7 L790.9 734.9 L789.8 729 L789 723 L788.5 717 L788 711.1 L787.5 705.1 L786.9 699.1 L786.4 693.1 L785.9 687.2 L785.4 681.2 L785 675.2 L784.6 669.2 L784.3 663.2 L784.1 657.2 L784 651.2 L784 645.2 L784 639.2 L784.1 633.2 L784.2 627.2 L784.4 621.2 L784.8 615.2 L785.2 609.2 L785.7 603.3 L786.4 597.3 L787.2 591.4 L788.2 585.4 L789.3 579.5 L790.5 573.7 L791.8 567.8 L793.2 562 L794.7 556.2 L796.3 550.4 L798 544.6 L799.7 538.9 L801.6 533.2 L803.6 527.5 L805.6 521.9 L807.8 516.3 L810 510.7 L812.3 505.2 L814.7 499.6 L817.1 494.2 L819.6 488.7 L822.1 483.2 L824.6 477.8 L827.2 472.4 L829.9 467 L832.6 461.7 L835.4 456.4 L838.2 451 L841 445.8 L843.9 440.5 L846.8 435.3 L849.7 430 L852.7 424.8 L855.7 419.6 L858.6 414.4 L861.5 409.1 L864.4 403.9 L867.4 398.6 L870.5 393.5 L873.9 388.6 L877.5 383.7 L881.2 379 L885 374.4 L888.8 369.8 L892.8 365.3 L896.7 360.7 L900.7 356.2 L904.7 351.8 L908.8 347.4 L912.9 343 L917 338.6 L921.2 334.3 L925.4 330 L929.6 325.8 L933.9 321.7 L938.3 317.5 L942.8 313.5 L947.3 309.6 L951.9 305.8 L956.6 302 L961.3 298.3 L966.1 294.7 L971 291.2 L975.8 287.7 L980.7 284.2 L985.7 280.8 L990.6 277.4 L995.6 274 L1000.5 270.6 L1005.5 267.3 L1010.5 263.9 L1015.4 260.5 L1020.4 257.2 L1025.5 254 L1030.6 250.8 L1035.7 247.7 L1040.8 244.6 L1046.1 241.6 L1051.3 238.7 L1056.6 235.8 L1061.9 233 L1067.2 230.2 L1072.5 227.4 L1077.8 224.7 L1083.1 221.9 L1088.5 219.2 L1093.9 216.5 L1099.2 213.8 L1104.6 211.2 L1110 208.6 L1115.5 206.1 L1120.9 203.6 L1126.4 201.2 L1132 198.9 L1137.5 196.6 L1143.1 194.5 L1148.8 192.4 L1154.5 190.5 L1160.2 188.7 L1165.9 187 L1171.7 185.3 L1177.5 183.8 L1183.3 182.3 L1189.2 181 L1195 179.7 L1200.9 178.4 L1206.8 177.3 L1212.7 176.2 L1218.6 175.2 L1224.5 174.2 L1230.4 173.3 L1236.4 172.5 L1242.3 171.7 L1248.3 171 L1254.3 170.5 L1260.2 170 L1266.2 169.6 L1272.2 169.4 L1278.2 169.2 L1284.2 169.1 L1290.2 169.1 L1296.2 169.2 L1302.2 169.3 L1308.2 169.5 L1314.2 169.8Z" fill="none" stroke="#e7e8d3" stroke-width="140" stroke-linejoin="round"/>
<g filter="url(#soft)">
<path d="M1406.1 99.2 L1414 100.5 L1422 101.7 L1430.4 103.1 L1438.9 104.5 L1447.8 105.5 L1456.8 106.7 L1465.7 108.5 L1474.3 110.6 L1482.7 113.1 L1491 115.7 L1499.2 118.6 L1507.4 121.6 L1515.5 124.7 L1523.7 128 L1532 131.4 L1540.5 135 L1549.3 138.8 L1558.3 142.9 L1567.3 147.1 L1576.1 151.5 L1584.8 155.9 L1593.3 160.4 L1601.6 165.1 L1609.5 169.8 L1617.2 174.6 L1624.7 179.4 L1632.2 184.2 L1639.7 189.2 L1647.2 194.2 L1654.4 199.1 L1661.3 203.9 L1667.9 208.6 L1674.2 213.2 L1680.7 217.4 L1687.4 221.4 L1694.5 225.7 L1702 230.3 L1705.9 232.8 L1683 268.2 L1679.5 266 L1672.4 261.6 L1665.5 257.4 L1658.7 253.3 L1651.9 249.2 L1645.2 245 L1638.4 240.7 L1631.5 236.4 L1624.4 232.2 L1617.3 227.9 L1610 223.8 L1602.7 219.8 L1595.4 215.9 L1588 212 L1580.5 208.2 L1572.9 204.6 L1565.1 201.1 L1557.2 197.7 L1549.2 194.6 L1541.1 191.6 L1533 188.9 L1524.9 186.4 L1516.9 184 L1508.9 181.8 L1501 179.6 L1493 177.6 L1485.1 175.6 L1477.1 173.6 L1469.2 171.8 L1461.2 169.9 L1453.1 168.2 L1445 166.5 L1436.8 165 L1428.7 163.5 L1420.6 162.2 L1412.6 160.9 L1404.6 159.6 L1396.7 158.4Z M1796.9 330.2 L1803.4 339 L1809.1 347.6 L1814.2 355.8 L1818.8 363.6 L1823.7 370.9 L1827.8 378.6 L1831.5 386.8 L1834.9 395.4 L1838.1 404 L1841 412.5 L1843.8 420.7 L1846.5 428.9 L1849.2 437.2 L1852 445.7 L1854.9 454.4 L1857.8 463.3 L1860.7 472.3 L1863.7 481.3 L1866.8 490.1 L1869.8 498.9 L1872.8 507.5 L1875.7 516.1 L1878.5 524.5 L1881.1 532.9 L1883.5 541.3 L1885.7 549.8 L1887.8 558.3 L1889.7 566.9 L1891.5 575.6 L1893.2 584.4 L1894.7 593.4 L1895.9 602.4 L1896.5 611.5 L1896.9 620.4 L1897.2 629.2 L1897.4 637.9 L1897.4 640 L1855.9 640.7 L1855.8 638.6 L1855.7 630.4 L1855.4 622.1 L1855 613.7 L1854.5 605.4 L1853.8 597 L1853 588.6 L1852.1 580.3 L1851 572.1 L1849.9 563.8 L1848.6 555.7 L1847.3 547.5 L1845.9 539.3 L1844.3 531.2 L1842.7 523 L1840.9 514.8 L1838.9 506.5 L1836.8 498.3 L1834.4 490 L1831.9 481.8 L1829.1 473.6 L1826.1 465.5 L1822.9 457.6 L1819.6 449.9 L1816.3 442.3 L1812.9 434.8 L1809.4 427.3 L1805.9 419.8 L1802.1 412.2 L1798.1 404.7 L1794.1 397.4 L1790 390.2 L1785.9 383 L1781.6 375.8 L1777 368.4 L1772.1 361 L1766.7 353.6Z M1890.6 761 L1889.7 768.1 L1889 775.2 L1888.3 782.9 L1887.5 790.9 L1886.5 799.2 L1885 807.4 L1883.3 815.8 L1881.1 824.6 L1878.4 833.9 L1875.1 843.3 L1871.5 852.8 L1867.7 862.2 L1863.5 871.7 L1859.2 880.9 L1854.8 889.9 L1850.2 898.9 L1845.5 907.7 L1840.6 916.2 L1835.7 924.3 L1830.9 932.1 L1826 939.6 L1821.1 946.8 L1816.1 954 L1810.9 961.2 L1805.6 968.5 L1800.1 975.9 L1794.7 983.4 L1789.3 990.8 L1784.1 998.3 L1779.1 1005.8 L1773.9 1013.3 L1768.7 1020.8 L1762.2 1027.2 L1755.7 1033.4 L1749.2 1039.2 L1743 1044.9 L1741.4 1046.3 L1720.4 1022.7 L1722 1021.4 L1728.1 1015.9 L1734.2 1010.3 L1740.3 1004.5 L1746.3 998.6 L1752.3 992.5 L1758 986.4 L1763.7 980.1 L1769.3 973.7 L1774.8 967.2 L1780.1 960.5 L1785.3 953.6 L1790.3 946.7 L1795 939.7 L1799.7 932.8 L1804.2 925.8 L1808.7 918.6 L1813.1 911.3 L1817.3 903.7 L1821.4 895.8 L1825.2 887.7 L1828.7 879.5 L1831.9 871.1 L1834.7 862.7 L1837.2 854.1 L1839.3 845.4 L1841.1 836.8 L1842.7 828.2 L1843.9 819.6 L1844.9 811.3 L1845.8 803.1 L1846.7 795.1 L1847.5 787 L1848.2 779 L1849 771.1 L1849.8 763.5 L1850.7 755.9Z M1646.9 1120 L1639.5 1124.8 L1631.6 1129.7 L1623.1 1134.7 L1614.3 1139.4 L1606 1144.8 L1598.1 1150 L1590.2 1154.8 L1582.7 1159.2 L1575.6 1163.2 L1569 1166.8 L1562.9 1170.1 L1556.5 1173.6 L1548.9 1177.7 L1540.1 1182.2 L1530.7 1186.5 L1521.7 1190.5 L1513.3 1194.2 L1505 1197.7 L1496.6 1201.1 L1488.1 1204.5 L1479.2 1207.9 L1470.3 1211.1 L1461.8 1214 L1454 1216.7 L1446.8 1219.1 L1439.7 1221.4 L1432.6 1223.8 L1425.2 1226.1 L1417.8 1228.4 L1410.5 1230.6 L1403.5 1232.6 L1396.8 1234.5 L1389.9 1236.4 L1382 1238.6 L1372.9 1240.9 L1362.6 1243.2 L1351.9 1245.2 L1341.3 1246.9 L1331 1248.2 L1320.6 1249.1 L1309.9 1249.8 L1299 1250 L1288.1 1249.7 L1277.2 1249.1 L1266.5 1248 L1256.2 1246.6 L1246.4 1244.7 L1236.9 1242.5 L1227.3 1239.8 L1217.4 1236.5 L1207.4 1232.8 L1197.6 1228.8 L1188 1224.7 L1178.9 1220.7 L1170.2 1216.7 L1161.9 1213.2 L1153.9 1210.2 L1146.1 1207.8 L1138.3 1205.9 L1130.8 1204.4 L1123.7 1203.2 L1117 1202.1 L1110.4 1201 L1103.5 1199.7 L1096.1 1198.2 L1087.9 1196.5 L1079.2 1194.5 L1070.8 1192.4 L1062.8 1190.3 L1055.1 1188.1 L1046.9 1185.5 L1038.1 1182.2 L1028.5 1178.2 L1018.1 1173.4 L1007 1167.8 L995.9 1161.4 L985.5 1154.8 L976.3 1148.2 L968.3 1142.1 L961.6 1136.5 L956 1131.3 L950.6 1126.1 L945.2 1120.7 L939.5 1114.6 L933 1109 L926.2 1103.6 L919.4 1098 L912.5 1092.2 L909 1089.3 L947.4 1044.4 L950.6 1047.1 L957 1052.4 L963.4 1057.6 L969.8 1062.7 L976.2 1067.8 L982.5 1072.7 L988.8 1077.6 L994.9 1082.4 L1001.1 1087.4 L1007.4 1092.6 L1014.2 1097.8 L1021.4 1103.1 L1029 1108.2 L1037.1 1112.9 L1045.3 1117.1 L1053.5 1120.8 L1061.5 1124.1 L1069.3 1127.1 L1077 1130 L1084.4 1132.8 L1092 1135.6 L1099.6 1138.5 L1107.4 1141.3 L1115.1 1143.9 L1122.5 1146.5 L1129.7 1149.1 L1136.7 1151.8 L1143.8 1154.6 L1150.8 1157.6 L1158 1160.7 L1165.3 1164 L1172.7 1167.2 L1180.2 1170.5 L1187.8 1173.7 L1195.7 1176.9 L1203.9 1179.9 L1212.2 1182.7 L1220.7 1185.3 L1229.3 1187.5 L1237.8 1189.4 L1246.2 1191 L1254.7 1192.5 L1263.2 1193.7 L1271.9 1194.7 L1280.7 1195.5 L1289.6 1195.9 L1298.5 1196 L1307.4 1195.7 L1316.2 1195.1 L1324.9 1194.3 L1333.5 1193.2 L1342.3 1191.8 L1351 1190.1 L1359.5 1188 L1367.7 1185.8 L1375.4 1183.6 L1382.9 1181.5 L1390.3 1179.7 L1397.9 1177.9 L1405.6 1176.1 L1413.3 1174.3 L1421 1172.5 L1428.6 1170.8 L1436.3 1169.1 L1444 1167.6 L1451.9 1166 L1460 1164.3 L1468.3 1162.4 L1476.5 1160.3 L1484.6 1158.1 L1492.6 1155.8 L1500.6 1153.4 L1508.6 1150.8 L1516.8 1148 L1525.1 1144.9 L1533.1 1141.5 L1540.5 1138 L1547.6 1134.9 L1554.6 1131.9 L1561.8 1129 L1569.3 1126 L1576.9 1122.9 L1584.7 1119.6 L1592.5 1116.1 L1600.4 1112.3 L1608.3 1108.1 L1615.9 1103.6 L1623.1 1099.1 L1630.1 1094.5Z M841.2 980.3 L835.4 972.5 L830.1 965 L825.2 957.9 L820.6 951 L816.5 943.8 L812.2 936.5 L807.9 929.2 L803.5 921.8 L799 914.2 L794.6 906.3 L790 898.3 L785.4 890 L780.8 881.7 L776.4 873.4 L772.1 865.2 L768 857 L763.9 848.8 L760 840.8 L756.2 832.8 L752.5 824.7 L748.9 816.4 L745.6 807.8 L742.5 799.3 L739.8 790.9 L737.4 782.5 L735.2 774.2 L733.3 766.1 L731.6 757.8 L729.7 748.7 L727.9 738.4 L726.9 728.2 L726.1 718.7 L725.4 710.6 L724.7 702.6 L723.9 694.3 L723.6 690 L761.8 687 L762.1 691.1 L762.8 699.2 L763.5 707.2 L764.3 715.2 L765 723.8 L766.1 732.6 L767.8 741.4 L769.5 749.7 L771.3 757.6 L773.1 765.6 L774.9 773.6 L776.9 781.6 L778.9 789.7 L781.1 797.8 L783.5 805.9 L786 814 L788.6 821.9 L791.3 829.8 L794.2 837.6 L797.2 845.5 L800.3 853.4 L803.7 861.3 L807.3 869.1 L811.1 876.9 L815.2 884.6 L819.4 892 L823.7 899.3 L828.1 906.4 L832.5 913.4 L837 920.3 L841.5 927.2 L846 933.9 L850.6 940.7 L855.2 947.5 L860.1 954.5 L865.3 961.5Z M730.4 560.9 L732.5 551.7 L734.7 542.5 L737.2 533.6 L739.8 524.7 L742.2 515.7 L744.6 506.6 L747.2 497.6 L749.8 488.7 L752.6 480 L755.4 471.5 L758.4 463.2 L761.4 455 L764.5 446.7 L767.7 438.4 L771 430.1 L774.3 421.9 L777.7 413.9 L781.1 406 L784.5 398.2 L787.9 390.5 L791.3 383.3 L794.6 376.3 L798.4 368.6 L803.3 359.9 L809.3 350.3 L816 340.9 L822.5 332.5 L828.7 324.9 L834.6 317.9 L840.6 311.3 L847 305.2 L853.6 299.3 L859.6 292.9 L865.7 286.4 L872 280 L878.5 273.5 L912.9 308.6 L906.9 314.6 L901.1 320.5 L895.4 326.5 L889.7 332.6 L884.2 338.7 L878.7 344.9 L873.2 351.1 L867.8 357.5 L862.4 364.1 L856.9 371.1 L851.7 378.6 L846.8 386.2 L842.6 393.7 L838.7 400.9 L834.8 407.8 L830.8 414.7 L826.8 421.8 L822.9 428.9 L818.9 436.1 L815.1 443.4 L811.2 450.7 L807.5 458.1 L803.8 465.6 L800.3 473.1 L796.9 480.6 L793.5 488.2 L790.2 495.8 L787 503.6 L783.9 511.5 L780.9 519.5 L778.2 527.6 L775.6 535.7 L773.2 543.8 L771 552 L768.9 560.3 L767 568.7Z M978.1 196.2 L985.7 191.3 L993.4 186.5 L1001.4 181.7 L1009.4 177 L1017.6 172.9 L1025.5 169.1 L1033.1 165.4 L1040.6 161.8 L1048.2 158.2 L1055.8 154.6 L1063.6 151 L1071.5 147.4 L1079.6 143.8 L1087.9 140.3 L1096.3 136.8 L1105 133.4 L1113.9 130 L1123.1 126.7 L1132.3 123.5 L1141.5 120.4 L1150.6 117.6 L1159.7 114.9 L1168.7 112.3 L1177.6 109.9 L1186.5 107.6 L1195.4 105.5 L1204.3 103.5 L1213.2 101.8 L1222.1 100.2 L1231.2 98.7 L1240.6 97.4 L1250.2 96.5 L1259.9 95.8 L1269.4 95.3 L1278.9 95.1 L1281.3 95.1 L1281.9 145.1 L1279.8 145.1 L1271.3 145.4 L1262.8 145.8 L1254.3 146.4 L1245.8 147.2 L1237.4 148.1 L1229 149.3 L1220.8 150.5 L1212.6 151.9 L1204.3 153.3 L1196.1 154.9 L1187.9 156.7 L1179.7 158.5 L1171.5 160.6 L1163.3 162.8 L1155.1 165.1 L1146.9 167.7 L1138.8 170.5 L1130.7 173.5 L1122.8 176.7 L1115 180 L1107.4 183.4 L1099.8 186.9 L1092.4 190.5 L1085 194.1 L1077.7 197.8 L1070.4 201.5 L1063.2 205.2 L1056 209 L1048.8 212.8 L1041.5 216.7 L1034.2 220.7 L1026.9 224.9 L1019.7 229.3 L1012.6 233.7 L1005.6 238.3Z" fill="#c6cb9d" stroke="#c6cb9d" stroke-width="36" stroke-linejoin="round"/>
<path d="M1415.3 117.9 L1423.4 119.2 L1431.8 120.5 L1440.3 121.8 L1449.1 122.8 L1457.8 124.2 L1466.4 126.1 L1474.8 128.4 L1483 130.9 L1491.1 133.7 L1499.1 136.6 L1507.2 139.6 L1515.2 142.7 L1523.3 146 L1531.4 149.5 L1539.8 153.1 L1548.3 156.9 L1556.9 160.9 L1565.5 165.1 L1573.9 169.3 L1582.1 173.6 L1590.2 178.1 L1598 182.6 L1605.6 187.3 L1612.9 192 L1620.2 196.7 L1627.5 201.5 L1634.8 206.3 L1642 211.2 L1648.9 216 L1655.6 220.7 L1662.1 225.3 L1668.5 229.8 L1675.2 233.9 L1682 238.1 L1685.6 240.2 L1679.3 250.4 L1675.8 248.3 L1668.9 244.2 L1662.1 240.1 L1655.4 236 L1648.6 231.9 L1641.7 227.6 L1634.6 223.4 L1627.3 219.1 L1619.9 214.8 L1612.4 210.8 L1605 206.8 L1597.5 202.9 L1589.8 199.1 L1582 195.3 L1574 191.7 L1565.9 188.2 L1557.6 184.9 L1549.3 181.8 L1540.9 178.9 L1532.5 176.3 L1524.2 173.9 L1516.1 171.6 L1508 169.5 L1499.9 167.4 L1491.9 165.5 L1483.8 163.6 L1475.7 161.7 L1467.6 159.9 L1459.5 158.2 L1451.2 156.5 L1442.9 155 L1434.6 153.5 L1426.4 152.2 L1418.3 151 L1410.3 149.8Z M1792.2 352.9 L1797.4 360.8 L1802 368.5 L1806.6 375.8 L1811 383 L1814.8 390.8 L1818.2 399 L1821.4 407.3 L1824.2 415.6 L1827 423.8 L1829.6 431.8 L1832.3 439.8 L1835.6 447.7 L1839 455.8 L1842.3 464.1 L1845.3 472.6 L1848.2 481.2 L1850.8 489.8 L1853.1 498.4 L1855.3 507 L1857.7 515.4 L1860.5 523.7 L1863.1 531.8 L1865.6 540.1 L1867.9 548.3 L1869.9 556.6 L1871.9 565 L1873.7 573.4 L1875.4 581.9 L1877.1 590.5 L1878.4 599.2 L1879.3 608 L1879.7 616.8 L1880.1 625.4 L1880.1 627.6 L1870.6 627.8 L1870.5 625.7 L1870.2 617.2 L1869.7 608.6 L1869.1 600 L1868.3 591.3 L1867.4 582.8 L1866.4 574.3 L1865.2 565.9 L1864 557.5 L1862.6 549.2 L1861.2 540.8 L1859.7 532.5 L1858 524.2 L1856.3 515.7 L1854.3 507.3 L1852.2 498.7 L1849.8 490.1 L1847.2 481.5 L1844.4 472.9 L1841.3 464.4 L1838.1 456.1 L1834.7 448.1 L1831.3 440.2 L1827.8 432.6 L1824.3 425 L1820.7 417.3 L1816.9 409.6 L1812.8 401.8 L1808.7 394.1 L1804.5 386.7 L1800.3 379.4 L1795.9 372.1 L1791.3 364.6 L1786.3 356.9Z M1872.5 769.8 L1871.7 777.3 L1871 785.2 L1870.1 793.3 L1868.9 801.5 L1867.3 809.7 L1865.4 818.1 L1863 826.8 L1860.1 835.7 L1856.7 844.6 L1853.6 853.5 L1851.1 862.7 L1848.2 871.9 L1844.9 880.9 L1841.4 889.7 L1837.4 898.4 L1833.2 906.9 L1828.7 915.1 L1824.2 922.9 L1819.5 930.4 L1814.9 937.6 L1810.1 944.8 L1805.3 951.9 L1800.2 959.1 L1794.9 966.2 L1789.4 973.3 L1783.7 980.2 L1777.9 986.9 L1772 993.4 L1766.1 999.7 L1760 1006 L1753.8 1012.2 L1747.5 1018.2 L1741.1 1024 L1739.6 1025.5 L1738.9 1024.7 L1740.5 1023.3 L1746.8 1017.5 L1753.1 1011.5 L1759.3 1005.3 L1765.4 999.1 L1771.3 992.7 L1777.1 986.2 L1782.9 979.5 L1788.6 972.7 L1794.1 965.6 L1799.4 958.5 L1804.4 951.3 L1809.3 944.2 L1814 937.1 L1818.7 929.8 L1823.3 922.3 L1827.9 914.6 L1832.3 906.4 L1836.5 898 L1840.5 889.3 L1844 880.5 L1847.2 871.6 L1850.1 862.5 L1852.6 853.3 L1854.7 844.1 L1856.5 835 L1857.9 826 L1859.1 817.3 L1860.1 808.9 L1861 800.7 L1861.9 792.5 L1862.7 784.4 L1863.4 776.5 L1864.2 768.9Z M1626.8 1113 L1619 1117.7 L1610.8 1122.2 L1602.6 1126.7 L1595 1132 L1587.5 1136.8 L1580 1141.3 L1572.7 1145.4 L1565.8 1149.3 L1559.3 1152.8 L1552.9 1156.2 L1546 1160.1 L1538 1164.3 L1529.4 1168.5 L1520.6 1172.5 L1512.3 1176.2 L1504.2 1179.7 L1496.1 1183.1 L1487.9 1186.4 L1479.5 1189.7 L1470.9 1193 L1462.4 1196 L1454.4 1198.7 L1446.9 1201.3 L1439.7 1203.6 L1432.5 1206 L1425.1 1208.4 L1417.7 1210.7 L1410.2 1212.9 L1402.9 1215.1 L1395.9 1217.1 L1389 1219 L1381.6 1221.1 L1373.3 1223.3 L1363.9 1225.5 L1353.9 1227.6 L1343.9 1229.3 L1334 1230.7 L1324.2 1231.8 L1314.2 1232.5 L1304 1232.9 L1293.7 1232.9 L1283.4 1232.5 L1273.3 1231.6 L1263.3 1230.4 L1253.7 1228.9 L1244.5 1226.9 L1235.3 1224.5 L1226.1 1221.6 L1216.7 1218.3 L1207.3 1214.6 L1198.2 1210.7 L1189.3 1206.8 L1180.8 1202.9 L1172.6 1199.2 L1164.7 1196 L1156.8 1193.3 L1149 1191.2 L1141.3 1189.5 L1133.8 1188.1 L1126.7 1186.8 L1119.7 1185.7 L1112.8 1184.4 L1105.5 1182.9 L1097.7 1181.3 L1089.3 1179.5 L1080.8 1177.5 L1072.7 1175.4 L1064.9 1173.3 L1057.1 1171 L1048.8 1168.1 L1039.9 1164.6 L1030.5 1160.5 L1020.4 1155.6 L1010 1150 L999.9 1143.9 L990.7 1137.7 L982.5 1131.7 L975.4 1125.9 L969.3 1120.6 L963.8 1115.4 L958.4 1110.1 L952.8 1104.3 L946.9 1098.3 L940.3 1093 L933.6 1087.6 L930.2 1084.8 L953.3 1056.9 L956.5 1059.5 L962.9 1064.8 L969.3 1069.9 L975.7 1075 L981.9 1080 L988 1084.8 L994.1 1089.7 L1000.3 1094.9 L1006.9 1100.2 L1013.9 1105.7 L1021.6 1111.1 L1029.7 1116.3 L1038.1 1121 L1046.6 1125.1 L1054.9 1128.8 L1062.9 1132.1 L1070.7 1135.1 L1078.2 1138 L1085.7 1140.9 L1093.3 1143.8 L1101.1 1146.8 L1108.8 1149.6 L1116.3 1152.2 L1123.5 1154.9 L1130.5 1157.5 L1137.4 1160.3 L1144.3 1163.3 L1151.3 1166.4 L1158.4 1169.6 L1165.7 1173 L1173.2 1176.3 L1180.8 1179.7 L1188.7 1183 L1196.9 1186.3 L1205.3 1189.4 L1214 1192.3 L1222.8 1194.8 L1231.6 1197 L1240.3 1198.9 L1249 1200.5 L1257.6 1202 L1266.5 1203.3 L1275.5 1204.3 L1284.7 1205 L1294 1205.3 L1303.2 1205.3 L1312.4 1205 L1321.5 1204.3 L1330.4 1203.4 L1339.5 1202.2 L1348.6 1200.7 L1357.6 1198.8 L1366.2 1196.6 L1374.3 1194.5 L1381.8 1192.4 L1389.2 1190.6 L1396.5 1188.9 L1404.1 1187.2 L1411.8 1185.5 L1419.5 1183.8 L1427.2 1182.1 L1434.7 1180.5 L1442.3 1179 L1450.1 1177.6 L1458.2 1176 L1466.6 1174.3 L1475.1 1172.3 L1483.5 1170.2 L1491.8 1168 L1499.9 1165.6 L1508.1 1163.2 L1516.5 1160.5 L1525.2 1157.5 L1533.8 1154.2 L1541.7 1150.6 L1549 1147.4 L1555.8 1144.5 L1562.8 1141.8 L1570.1 1138.9 L1577.8 1135.9 L1585.7 1132.7 L1593.8 1129.3 L1602 1125.5 L1610.3 1121.4 L1618.5 1116.9 L1626.3 1112.2Z M846.5 958.9 L841.6 951.8 L837 944.9 L832.6 938 L828.6 930.8 L824.3 923.6 L820 916.4 L815.7 909.1 L811.5 901.6 L807.1 894 L802.7 886.2 L798.4 878.4 L794.1 870.5 L789.9 862.6 L785.8 854.7 L781.8 846.9 L777.9 839 L774.2 831.3 L770.5 823.5 L766.9 815.5 L763.5 807.4 L760.4 799.1 L757.6 790.8 L755.1 782.7 L752.8 774.5 L750.8 766.4 L749 758.3 L747.3 750 L745.5 740.7 L744.1 731 L743.4 721.6 L742.7 713.1 L742 705.1 L741.6 701.1 L758.8 699.6 L759.2 703.6 L759.9 711.5 L760.6 719.9 L761.4 728.7 L762.9 737.7 L764.7 746.4 L766.4 754.5 L768.2 762.5 L770 770.5 L771.9 778.6 L773.9 786.7 L776 794.8 L778.3 803.1 L780.7 811.2 L783.3 819.2 L786 827.2 L788.7 835.1 L791.6 843.1 L794.7 851.1 L798 859.1 L801.5 867 L805.2 875 L809.2 882.8 L813.4 890.5 L817.6 898 L822 905.3 L826.4 912.4 L830.9 919.4 L835.3 926.3 L839.8 933.2 L844.3 939.9 L848.9 946.8 L853.7 953.8Z M750.1 551.2 L752.3 542.5 L754.8 533.9 L757.3 525.4 L759.5 516.7 L761.9 508 L764.3 499.3 L766.9 490.8 L769.6 482.5 L772.4 474.2 L775.3 466.2 L778.3 458.1 L781.3 450 L784.5 441.9 L787.7 433.8 L791 425.9 L794.3 418.1 L797.6 410.3 L801 402.6 L804.4 395.2 L807.8 388.1 L811.3 380.9 L815.4 373 L820.5 364.2 L826.5 355.3 L832.8 346.9 L838.8 339.3 L844.6 332.3 L850.4 325.7 L856.5 319.5 L863 313.8 L869 307.7 L874.9 301.4 L881 295.1 L900.2 313.8 L894.4 319.9 L888.7 326 L883.1 332.2 L877.6 338.4 L872.1 344.6 L866.7 351 L861.2 357.6 L855.7 364.5 L850.3 372 L845.1 379.8 L840.5 387.6 L836.4 395 L832.6 402.1 L828.7 408.9 L824.8 416 L820.8 423.1 L816.9 430.4 L813 437.6 L809.2 445 L805.4 452.4 L801.7 459.9 L798.1 467.5 L794.6 475 L791.2 482.6 L787.9 490.3 L784.6 498.1 L781.5 506 L778.4 514 L775.6 522.2 L772.9 530.3 L770.4 538.6 L768.1 546.8 L765.9 555.2Z M998.5 203.3 L1006.2 198.6 L1013.9 194 L1021.8 189.7 L1029.6 185.9 L1037.3 182.3 L1044.8 178.7 L1052.2 175.1 L1059.7 171.5 L1067.3 168 L1075 164.4 L1082.9 160.9 L1090.8 157.5 L1098.9 154.1 L1107.2 150.8 L1115.7 147.5 L1124.4 144.2 L1133.2 141.1 L1142.1 138.1 L1150.8 135.3 L1159.6 132.6 L1168.3 130.1 L1176.9 127.6 L1185.6 125.3 L1194.2 123.2 L1202.9 121.2 L1211.5 119.4 L1220.1 117.8 L1228.9 116.3 L1237.8 114.9 L1247 113.8 L1256.3 113.1 L1265.5 112.5 L1267.8 112.4 L1268.8 136.4 L1266.6 136.5 L1257.9 137.1 L1249.2 137.9 L1240.6 138.9 L1232 140.1 L1223.6 141.3 L1215.3 142.7 L1207 144.2 L1198.6 145.9 L1190.3 147.6 L1182 149.6 L1173.6 151.6 L1165.3 153.9 L1157 156.3 L1148.6 158.9 L1140.3 161.7 L1132.1 164.8 L1123.9 168 L1116 171.4 L1108.2 174.9 L1100.5 178.5 L1093 182.1 L1085.5 185.8 L1078.1 189.6 L1070.8 193.3 L1063.6 197.2 L1056.4 201 L1049.2 204.8 L1042 208.8 L1034.6 212.9 L1027.3 217.1 L1019.9 221.5 L1012.7 226Z" fill="#e3e5c9" stroke="#e3e5c9" stroke-width="24" stroke-linejoin="round"/>
</g>
<rect x="1250" y="1218" width="74" height="28" fill="#e3e5c9"/>
<rect x="1258" y="1245.5" width="62" height="40" fill="#fff"/>
<path d="M1095 1206C1104.2 1207.8 1132.5 1213.2 1150 1217C1167.5 1220.8 1185 1224.2 1200 1229C1215 1233.8 1230.2 1237.8 1240 1246C1249.8 1254.2 1259 1268.2 1259 1278C1259 1287.8 1248.8 1299.5 1240 1305C1231.2 1310.5 1228.2 1313.3 1206 1311C1183.8 1308.7 1140.5 1299.8 1107 1291C1073.5 1282.2 1031 1264.5 1005 1258C979 1251.5 964.8 1249.8 951 1252C937.2 1254.2 927 1261.3 922 1271C917 1280.7 916.2 1300.3 921 1310C925.8 1319.7 926.8 1324.7 951 1329C975.2 1333.3 1033.2 1334.5 1066 1336C1098.8 1337.5 1126.2 1335.3 1148 1338C1169.8 1340.7 1185.3 1344.2 1197 1352C1208.7 1359.8 1219.3 1373.3 1218 1385C1216.7 1396.7 1200.7 1415.8 1189 1422C1177.3 1428.2 1175.3 1428.2 1148 1422C1120.7 1415.8 1062.5 1395.2 1025 1385C987.5 1374.8 947 1365.3 923 1361C899 1356.7 892.3 1355.8 881 1359C869.7 1362.2 859.3 1370.8 855 1380C850.7 1389.2 850.7 1405 855 1414C859.3 1423 859.5 1427.2 881 1434C902.5 1440.8 950.3 1448.5 984 1455C1017.7 1461.5 1055.7 1471 1083 1473C1110.3 1475 1126.8 1468.7 1148 1467C1169.2 1465.3 1192.2 1460.2 1210 1463C1227.8 1465.8 1248.2 1475.2 1255 1484C1261.8 1492.8 1258.5 1509.5 1251 1516C1243.5 1522.5 1227.2 1523.3 1210 1523C1192.8 1522.7 1168.5 1516.2 1148 1514C1127.5 1511.8 1102 1506.8 1087 1510C1072 1513.2 1058.7 1523 1058 1533C1057.3 1543 1068 1561.2 1083 1570C1098 1578.8 1116.7 1583.7 1148 1586C1179.3 1588.3 1230 1582 1271 1584C1312 1586 1353 1594.2 1394 1598C1435 1601.8 1485.5 1608.3 1517 1607C1548.5 1605.7 1569.7 1599.7 1583 1590C1596.3 1580.3 1597.7 1557.2 1597 1549C1596.3 1540.8 1592.3 1539.3 1579 1541C1565.7 1542.7 1531.3 1556.3 1517 1559C1502.7 1561.7 1498.3 1560.7 1493 1557C1487.7 1553.3 1481 1545.2 1485 1537C1489 1528.8 1497.8 1518.3 1517 1508C1536.2 1497.7 1581.5 1485.2 1600 1475C1618.5 1464.8 1626.7 1455.2 1628 1447C1629.3 1438.8 1619.7 1428.2 1608 1426C1596.3 1423.8 1580 1424.3 1558 1434C1536 1443.7 1499.8 1470.3 1476 1484C1452.2 1497.7 1430.7 1510.7 1415 1516C1399.3 1521.3 1389.8 1522 1382 1516C1374.2 1510 1366 1493.7 1368 1480C1370 1466.3 1376 1447.2 1394 1434C1412 1420.8 1441.7 1410.5 1476 1401C1510.3 1391.5 1557.5 1383.8 1600 1377C1642.5 1370.2 1695 1365.7 1731 1360C1767 1354.3 1794.7 1349 1816 1343C1837.3 1337 1848.3 1333.7 1859 1324C1869.7 1314.3 1877.5 1298.5 1880 1285C1882.5 1271.5 1879 1253.8 1874 1243C1869 1232.2 1859.7 1225.2 1850 1220C1840.3 1214.8 1828.7 1212.2 1816 1212C1803.3 1211.8 1788.2 1215.3 1774 1219C1759.8 1222.7 1756.7 1222.2 1731 1234C1705.3 1245.8 1660.8 1270.3 1620 1290C1579.2 1309.7 1526.2 1338.2 1486 1352C1445.8 1365.8 1407.7 1374.3 1379 1373C1350.3 1371.7 1326.3 1356.2 1314 1344C1301.7 1331.8 1306.2 1311.3 1305 1300C1303.8 1288.7 1304.5 1283.3 1307 1276C1309.5 1268.7 1314.2 1261.5 1320 1256C1325.8 1250.5 1334 1246.3 1342 1243C1350 1239.7 1354.2 1237.8 1368 1236C1381.8 1234.2 1403 1236.7 1425 1232C1447 1227.3 1487.5 1212 1500 1208" fill="none" stroke="#c6cb9d" stroke-width="22" stroke-linecap="round" stroke-linejoin="round"/>
<path d="M1318 170 L1324 170.4 L1330 171 L1335.9 171.8 L1341.8 172.8 L1347.7 173.8 L1353.6 174.9 L1359.5 176.1 L1365.4 177.3 L1371.3 178.4 L1377.2 179.5 L1383.1 180.5 L1389 181.5 L1395 182.4 L1400.9 183.3 L1406.8 184.3 L1412.7 185.2 L1418.7 186.2 L1424.6 187.2 L1430.5 188.2 L1436.4 189.3 L1442.3 190.4 L1448.1 191.7 L1454 192.9 L1459.9 194.2 L1465.7 195.6 L1471.6 197 L1477.4 198.4 L1483.2 199.8 L1489 201.3 L1494.8 202.8 L1500.6 204.4 L1506.4 206 L1512.2 207.6 L1517.9 209.3 L1523.7 211.1 L1529.4 212.9 L1535 214.9 L1540.7 217 L1546.2 219.2 L1551.8 221.5 L1557.3 223.9 L1562.8 226.4 L1568.2 228.9 L1573.6 231.6 L1578.9 234.3 L1584.2 237.1 L1589.5 239.9 L1594.8 242.8 L1600 245.7 L1605.2 248.7 L1610.4 251.7 L1615.5 254.8 L1620.7 258 L1625.8 261.1 L1630.8 264.3 L1635.9 267.5 L1641 270.6 L1646.1 273.8 L1651.3 276.9 L1656.4 280 L1661.5 283.1 L1666.6 286.3 L1671.7 289.5 L1676.7 292.8 L1681.6 296.2 L1686.4 299.9 L1690.9 303.9 L1695 308.2 L1698.9 312.8 L1702.7 317.4 L1706.7 321.9 L1710.7 326.4 L1714.7 330.9 L1718.6 335.4 L1722.6 339.9 L1726.5 344.4 L1730.5 348.9 L1734.6 353.3 L1738.7 357.7 L1742.7 362.2 L1746.5 366.8 L1750.1 371.6 L1753.6 376.5 L1756.9 381.5 L1760.1 386.6 L1763.2 391.7 L1766.2 396.9 L1769.2 402.1 L1772.2 407.3 L1775.1 412.5 L1777.9 417.8 L1780.7 423.1 L1783.4 428.5 L1786 433.9 L1788.5 439.3 L1791.1 444.8 L1793.5 450.2 L1796 455.7 L1798.4 461.2 L1800.7 466.8 L1803 472.3 L1805.1 477.9 L1807.2 483.6 L1809.1 489.2 L1810.9 495 L1812.6 500.7 L1814.2 506.5 L1815.7 512.3 L1817 518.2 L1818.4 524 L1819.6 529.9 L1820.8 535.8 L1821.9 541.7 L1822.9 547.6 L1824 553.5 L1824.9 559.4 L1825.8 565.3 L1826.7 571.3 L1827.5 577.2 L1828.2 583.2 L1828.9 589.1 L1829.5 595.1 L1830.1 601.1 L1830.6 607.1 L1830.9 613 L1831.2 619 L1831.5 625 L1831.7 631 L1831.8 637 L1831.9 643 L1832 649 L1832 655 L1832 661 L1832 667 L1831.9 673 L1831.8 679 L1831.7 685 L1831.5 691 L1831.4 697 L1831.1 703 L1830.9 709 L1830.6 715 L1830.3 721 L1829.9 727 L1829.5 733 L1828.9 738.9 L1828.1 744.9 L1827.2 750.8 L1826.4 756.8 L1825.7 762.7 L1825.1 768.7 L1824.5 774.7 L1824 780.6 L1823.4 786.6 L1822.8 792.6 L1822.2 798.5 L1821.5 804.5 L1820.8 810.5 L1820.1 816.4 L1819.3 822.4 L1818.3 828.3 L1817.2 834.2 L1815.9 840.1 L1814.5 845.9 L1813 851.7 L1811.2 857.4 L1809.2 863.1 L1807.2 868.7 L1804.9 874.3 L1802.5 879.8 L1799.9 885.2 L1797.2 890.5 L1794.3 895.8 L1791.3 901 L1788.2 906.1 L1785 911.2 L1781.8 916.3 L1778.5 921.3 L1775.2 926.3 L1771.8 931.2 L1768.3 936.1 L1764.8 941 L1761.2 945.8 L1757.4 950.5 L1753.6 955.1 L1749.7 959.7 L1745.8 964.2 L1741.8 968.6 L1737.7 973 L1733.5 977.4 L1729.3 981.7 L1725.1 985.9 L1720.7 990 L1716.4 994.1 L1711.9 998.2 L1707.5 1002.2 L1703 1006.2 L1698.5 1010.1 L1694 1014.1 L1689.5 1018.1 L1685.1 1022.1 L1680.6 1026.2 L1676.1 1030.2 L1671.6 1034.1 L1667.1 1038 L1662.5 1041.9 L1657.8 1045.6 L1653 1049.3 L1648.2 1052.8 L1643.4 1056.4 L1638.5 1059.8 L1633.5 1063.3 L1628.6 1066.7 L1623.6 1070 L1618.6 1073.4 L1613.6 1076.7 L1608.6 1079.9 L1603.5 1083.1 L1598.3 1086.2 L1593.1 1089.1 L1587.7 1091.8 L1582.3 1094.4 L1576.9 1096.9 L1571.4 1099.3 L1565.8 1101.6 L1560.3 1103.8 L1554.7 1106 L1549.1 1108.3 L1543.6 1110.5 L1538 1112.8 L1532.6 1115.3 L1527.1 1117.8 L1521.7 1120.3 L1516.1 1122.7 L1510.5 1124.8 L1504.9 1126.8 L1499.2 1128.7 L1493.4 1130.5 L1487.7 1132.2 L1481.9 1133.9 L1476.2 1135.5 L1470.4 1137.1 L1464.6 1138.6 L1458.7 1140 L1452.9 1141.3 L1447 1142.5 L1441.1 1143.7 L1435.2 1144.8 L1429.4 1146.1 L1423.5 1147.3 L1417.6 1148.7 L1411.8 1150 L1405.9 1151.3 L1400.1 1152.7 L1394.3 1154.1 L1388.4 1155.4 L1382.6 1156.9 L1376.8 1158.3 L1371 1159.9 L1365.2 1161.5 L1359.4 1163.2 L1353.6 1164.7 L1347.8 1166.2 L1342 1167.4 L1336 1168.5 L1330.1 1169.4 L1324.2 1170.2 L1318.2 1170.9 L1312.2 1171.4 L1306.2 1171.7 L1300.2 1172 L1294.2 1172 L1288.2 1171.9 L1282.3 1171.5 L1276.3 1171.1 L1270.3 1170.4 L1264.4 1169.7 L1258.4 1168.7 L1252.5 1167.7 L1246.6 1166.7 L1240.7 1165.5 L1234.9 1164.2 L1229.1 1162.7 L1223.3 1161.1 L1217.6 1159.2 L1211.9 1157.3 L1206.3 1155.2 L1200.7 1153 L1195.1 1150.7 L1189.6 1148.4 L1184.1 1146 L1178.6 1143.6 L1173.1 1141.2 L1167.6 1138.8 L1162.1 1136.4 L1156.6 1134 L1151.1 1131.7 L1145.5 1129.4 L1139.9 1127.3 L1134.3 1125.2 L1128.6 1123.2 L1123 1121.2 L1117.3 1119.3 L1111.6 1117.3 L1106 1115.3 L1100.4 1113.1 L1094.8 1111 L1089.1 1108.9 L1083.5 1106.8 L1077.9 1104.7 L1072.3 1102.6 L1066.7 1100.3 L1061.2 1098 L1055.7 1095.5 L1050.4 1092.8 L1045.1 1089.9 L1040 1086.8 L1035.1 1083.4 L1030.2 1079.9 L1025.4 1076.2 L1020.8 1072.5 L1016.1 1068.7 L1011.4 1064.9 L1006.8 1061.2 L1002 1057.5 L997.3 1053.8 L992.5 1050.1 L987.8 1046.4 L983.1 1042.7 L978.4 1038.9 L973.8 1035.2 L969.1 1031.3 L964.6 1027.5 L960 1023.6 L955.5 1019.6 L951 1015.6 L946.6 1011.6 L942.2 1007.5 L937.8 1003.4 L933.4 999.3 L929.1 995.1 L924.8 990.9 L920.5 986.7 L916.3 982.5 L912.1 978.2 L907.9 973.9 L903.8 969.5 L899.8 965 L895.8 960.5 L891.9 956 L888 951.4 L884.3 946.7 L880.7 942 L877.2 937.1 L873.8 932.1 L870.4 927.2 L867 922.2 L863.7 917.2 L860.4 912.2 L857.1 907.2 L853.8 902.2 L850.6 897.1 L847.4 892 L844.3 886.9 L841.2 881.8 L838.2 876.6 L835.3 871.3 L832.5 866 L829.8 860.6 L827.3 855.2 L824.8 849.7 L822.5 844.2 L820.2 838.6 L818.1 833 L816 827.4 L814 821.8 L812 816.1 L810.1 810.4 L808.2 804.7 L806.4 799 L804.7 793.2 L803.1 787.4 L801.6 781.6 L800.1 775.8 L798.7 770 L797.3 764.2 L796 758.3 L794.7 752.5 L793.4 746.6 L792.2 740.7 L790.9 734.9 L789.8 729 L789 723 L788.5 717 L788 711.1 L787.5 705.1 L786.9 699.1 L786.4 693.1 L785.9 687.2 L785.4 681.2 L785 675.2 L784.6 669.2 L784.3 663.2 L784.1 657.2 L784 651.2 L784 645.2 L784 639.2 L784.1 633.2 L784.2 627.2 L784.4 621.2 L784.8 615.2 L785.2 609.2 L785.7 603.3 L786.4 597.3 L787.2 591.4 L788.2 585.4 L789.3 579.5 L790.5 573.7 L791.8 567.8 L793.2 562 L794.7 556.2 L796.3 550.4 L798 544.6 L799.7 538.9 L801.6 533.2 L803.6 527.5 L805.6 521.9 L807.8 516.3 L810 510.7 L812.3 505.2 L814.7 499.6 L817.1 494.2 L819.6 488.7 L822.1 483.2 L824.6 477.8 L827.2 472.4 L829.9 467 L832.6 461.7 L835.4 456.4 L838.2 451 L841 445.8 L843.9 440.5 L846.8 435.3 L849.7 430 L852.7 424.8 L855.7 419.6 L858.6 414.4 L861.5 409.1 L864.4 403.9 L867.4 398.6 L870.5 393.5 L873.9 388.6 L877.5 383.7 L881.2 379 L885 374.4 L888.8 369.8 L892.8 365.3 L896.7 360.7 L900.7 356.2 L904.7 351.8 L908.8 347.4 L912.9 343 L917 338.6 L921.2 334.3 L925.4 330 L929.6 325.8 L933.9 321.7 L938.3 317.5 L942.8 313.5 L947.3 309.6 L951.9 305.8 L956.6 302 L961.3 298.3 L966.1 294.7 L971 291.2 L975.8 287.7 L980.7 284.2 L985.7 280.8 L990.6 277.4 L995.6 274 L1000.5 270.6 L1005.5 267.3 L1010.5 263.9 L1015.4 260.5 L1020.4 257.2 L1025.5 254 L1030.6 250.8 L1035.7 247.7 L1040.8 244.6 L1046.1 241.6 L1051.3 238.7 L1056.6 235.8 L1061.9 233 L1067.2 230.2 L1072.5 227.4 L1077.8 224.7 L1083.1 221.9 L1088.5 219.2 L1093.9 216.5 L1099.2 213.8 L1104.6 211.2 L1110 208.6 L1115.5 206.1 L1120.9 203.6 L1126.4 201.2 L1132 198.9 L1137.5 196.6 L1143.1 194.5 L1148.8 192.4 L1154.5 190.5 L1160.2 188.7 L1165.9 187 L1171.7 185.3 L1177.5 183.8 L1183.3 182.3 L1189.2 181 L1195 179.7 L1200.9 178.4 L1206.8 177.3 L1212.7 176.2 L1218.6 175.2 L1224.5 174.2 L1230.4 173.3 L1236.4 172.5 L1242.3 171.7 L1248.3 171 L1254.3 170.5 L1260.2 170 L1266.2 169.6 L1272.2 169.4 L1278.2 169.2 L1284.2 169.1 L1290.2 169.1 L1296.2 169.2 L1302.2 169.3 L1308.2 169.5 L1314.2 169.8Z" fill="#e9e9d6" stroke="#dc7e1f" stroke-width="23" stroke-linejoin="round"/>
<g fill="none" stroke="#8b8b8b" stroke-width="6.8" stroke-linejoin="round" stroke-linecap="round" transform="scale(0.5)">
<path d="M2516 375l2 7 9 3 12-2 7-6 0-4-8-1-12 4-9 9-3 9 5 6 10 1 11-4 5-6-2-4-10 0-11 6-9 9 0 8 6 5 11 0 10-4 4-5-5-4-10 2-12 5-7 8 0 8 8 5 11 0 9-4 2-4-6-3-12 0-11 5-7 6 0 7 9 6 11 1 8-1 1-3-6-5-13-2-12 1-7 4 1 7 7 8 10 5 7 0 0-4-6-7-12-6-12-1-6 5 0 7 6 9 9 6 6 0 0-6-7-8-11-6-11-2-6 5 1 9 6 10 8 5 5-2-1-7-8-9-11-6-10 0-5 6 2 10 7 9 8 3 4-3-3-8-9-9-11-5-9 1-3 8 3 10 8 8 7 2 2-4-5-9-10-9-11-4-7 3-2 9 5 10 8 7 6 0 1-6-7-9-11-8-10-1-7 5 1 9 7 9 8 5 4-1-1-7-8-10-11-6-10 0-4 6 2 10 6 9 8 4 3-3-3-9-8-9-11-6-9 1-3 8 3 10 7 9 7 2 2-5-4-9-10-9-10-5-8 3-2 9 5 10 7 7 6 1 1-7-6-10-11-8-10-2-7 5 1 10 6 10 8 5 5-2-2-8-8-9-12-6-10 1-3 7 3 10 9 8 7 2 3-4-5-9-12-6-12-1-7 4 0 9 8 9 10 3 7-2-1-6-9-5-14-2-11 3-3 8 5 8 10 5 10 0 4-5-5-5-11-2-13 2-8 7 0 8 8 6 12 1 8-3 1-5-8-4-12 2-11 5-5 9 4 7 10 3 11-2 6-5-2-5-10 0-12 4-9 9-1 8 7 6 11 0 10-5 3-6-5-3-11 2-11 7-6 10 2 8 9 3 11-3 8-7 0-5-7-1-10 5-9 10-3 10 5 6 10 0 10-6 5-7-2-4-8 2-10 7-6 11 0 10 7 4 11-3 8-8 3-7-5-3-9 5-8 10-4 11 4 8 8 1 10-5 6-8 0-7-6 0-8 7-7 11-1 11 6 6 10-1 8-8 4-9-3-5-7 3-7 9-4 13 2 10 8 3 9-5 7-10 1-8-5-3-7 6-5 12 0 13 6 7 8-1 8-8 3-10-2-7-5 0-5 9-3 13 3 11 7 5 8-4 6-10 1-10-3-5-6 3-4 11 0 13 5 10 8 2 7-6 4-11 0-9-5-3-5 6-3 11 2 13 6 8 8 0 6-8 3-11-2-8-4-1-5 8-2 12 3 12 6 6 8-2 M2188 469l5 6 10-1 10-6 4-8-2-5-8 3-9 8-6 11 1 10 7 4 10-4 8-7 3-7-4-3-8 4-9 9-4 12 2 8 8 2 10-4 8-8 1-6-5-1-10 5-8 10-3 10 3 7 9 1 10-5 7-7 0-5-7 0-10 5-9 10-3 10 5 6 10 0 10-3 6-6-1-5-8 0-11 5-10 7-3 8 4 6 11 3 10-2 6-2-2-5-9-3-13 2-10 4-4 6 4 8 10 5 10 1 5-3-2-5-10-4-13-1-11 4-3 6 5 8 10 6 9 1 4-4-4-5-11-5-13-1-9 4-2 7 6 8 10 6 9 0 2-4-6-6-12-5-12-1-8 5 0 8 7 8 11 5 7-1 0-5-8-7-12-4-12 1-6 6 2 9 9 7 10 3 6-2-2-6-10-6-13-2-11 3-3 7 5 8 10 6 9 1 4-4-5-6-11-4-13-1-9 5-1 8 7 7 10 5 8 0 2-5-7-6-12-4-12 1-7 5 1 8 8 8 10 3 7-1-1-5-8-6-13-3-11 1-5 7 3 8 9 7 10 2 5-3-3-6-10-5-13-1-10 3-3 8 6 8 10 5 9 0 3-4-5-6-12-3-13 1-8 6 1 8 8 7 11 2 8-3 0-5-9-4-13 0-11 5-4 9 4 7 11 3 11-1 5-5-3-5-11-1-13 4-8 8-1 8 8 6 12 0 9-4 2-6-7-3-11 3-11 7-5 9 3 8 10 2 11-3 7-6-1-6-9 0-11 6-8 10-1 10 6 5 10-1 10-6 4-8-4-3-9 3-10 9-5 11 2 8 9 3 10-5 7-8 1-6-6-1-9 6-7 11-1 11 5 7 9-1 9-8 4-9-1-5-7 2-8 10-4 12 1 10 7 4 10-5 7-9 2-8-4-3-7 5-7 11-1 12 4 8 8 1 8-6 5-10 0-8-5 0-7 7-4 12 1 12 6 6 8-2 8-8 2-10-2-6-5 2-6 9-2 13 3 11 7 3 9-5 5-10 0-10-4-3-6 5-3 12 2 13 6 8 8-1 7-8 1-11-2-8-5-1-4 8 0 13 4 12 8 5 8-4 4-10-1-11-3-6-5 2-3 10 2 13 7 10 8 2 6-6 3-11-2-10-5-4-4 5-1 11 4 13 7 8 7 0 6-7 1-12 M2711 930l-1-8-8-6-11-1-8 2-2 5 7 4 12 0 12-3 7-7-2-8-9-5-12-1-7 3 1 5 9 3 13 0 11-5 4-8-5-7-10-4-11 1-5 4 3 5 11 1 13-3 9-7 1-8-7-5-12-2-9 4-3 5 6 3 12-1 12-5 6-9-3-8-9-3-12 1-7 5 1 6 9 1 12-5 8-9 3-9-7-6-11 1-10 5-4 7 4 3 10-2 10-9 6-11-2-8-9-2-10 3-8 8-1 6 6 2 10-6 8-10 3-11-5-7-9 0-10 6-6 8 1 5 8-1 9-7 6-12 0-10-6-5-10 3-9 7-3 8 3 3 8-3 9-9 4-12-2-9-7-2-10 4-8 8-1 7 5 2 8-5 8-11 2-11-3-8-9 0-10 6-6 8 1 6 6 0 8-7 7-11 1-11-6-6-9 2-9 6-4 9 2 4 7-2 8-8 6-12-1-10-7-4-9 4-9 7-3 8 4 3 8-4 8-10 4-11-2-9-8-2-10 5-7 8-1 8 5 1 9-6 7-11 2-12-5-6-9 0-9 6-5 9 1 6 6-1 8-8 6-12 0-10-6-5-9 2-9 7-3 9 2 4 8-3 8-9 4-12-2-10-7-3-9 4-8 9-2 8 4 2 8-5 7-10 3-12-3-8-8-1-10 5-6 9 0 7 5 0 8-6 7-11 2-12-5-6-9 1-9 6-5 9 1 5 6-1 9-8 6-11 0-11-6-5-10 3-8 7-4 8 2 4 8-3 8-9 5-11-1-10-7-3-10 4-8 7-2 8 4 2 8-4 9-10 4-11-2-8-9-2-10 4-7 8-1 7 5 1 10-6 8-10 3-11-4-7-10 0-10 5-6 8 1 5 7 0 9-7 8-11 2-10-6-5-10 1-9 6-5 7 2 4 8-2 10-7 7-10 1-9-7-5-10 2-10 5-4 6 4 4 9-3 11-6 7-9 0-9-7-4-11 1-9 4-3 5 4 3 11-1 12-5 8-8 0-7-8-5-11-1-9 2-2 4 6 4 11 1 13-3 7-6 0-7-8-6-11-3-8 2-1 3 7 5 12 3 13-2 6-5-1-7-8-8-10-3-7 0 0 4 8 7 12 5 11 0 6-5-1-8-7-9-9-5-5 0 1 6 7 9 11 7 9 2 6-3 0-10-4-10-7-7-3 0 0 7 4 12 8 10 8 3 5-3 3-9-1-11-5-7-4 1-1 8 1 12 6 11 8 4 7-4 3-10 0-11-4-5-4 2-3 10 2 13 5 10 8 3 7-6 3-11-1-10-4-4-5 5-2 11 2 13 6 9 8 0 6-7 3-11-2-9-4-2-5 7-1 12 2 12 7 7 7-1 6-9 2-11-2-7-5 0-4 8-1 13 4 12 6 5 8-4 5-9 2-11-3-6-6 3-3 10-1 13 5 10 7 3 7-5 5-10 0-10-4-4-5 4-3 11 1 13 5 9 8 1 7-7 3-11-1-8-4-2-5 6-3 13 2 12 6 7 8-1 7-9 2-10-2-8-5 1-4 8-2 12 2 12 7 5 8-3 6-9 2-10-2-6-5 2-6 10-1 13 3 11 6 3 8-4 6-10 2-9-3-4-6 4-5 10-2 13 4 9 7 2 8-5 6-10 1-9-4-2-7 6-5 11-1 13 5 8 8 0 8-7 5-10-1-8-5 0-6 8-5 12 1 12 6 6 8-2 8-9 3-10-2-6-6 2-6 10-2 13 3 11 7 3 9-5 5-10 0-10-4-3-6 5-3 11 1 13 7 9 8-1 6-8 2-11-2-8-6 0-4 8 1 12 5 12 8 5 7-5 4-10-1-11-5-5-5 2-1 11 3 12 8 10 8 1 6-7 1-11-3-10-6-3-3 5 1 12 5 12 9 6 7-1 4-9 0-12-5-8-5 0-2 7 2 12 7 11 8 5 7-4 3-9 M3007 439l1 8 8 5 11 1 9-3 1-5-7-3-12 0-12 5-6 8 3 7 9 4 12 0 7-4-2-4-9-3-13 2-10 6-4 7 5 7 11 3 11-1 5-4-4-5-11-1-12 3-9 6-2 8 7 6 11 2 10-2 3-5-6-4-11 0-13 4-7 7 1 8 9 5 11 1 8-4 1-4-8-4-12 1-12 5-5 8 3 7 10 4 11 0 7-4-2-5-9-2-13 2-10 6-3 8 5 6 11 3 10-1 5-4-4-5-11-1-13 3-9 6-1 8 7 6 12 2 9-2 3-5-6-4-12 0-13 4-7 7 2 7 8 6 12 0 8-3 0-5-8-3-13 1-11 5-5 8 4 7 10 4 11-1 6-4-2-4-10-3-13 3-10 6-3 8 6 6 11 3 10-2 5-5-5-4-11-1-13 4-8 7 0 8 8 5 11 1 9-3 2-5-7-3-12 1-12 5-6 8 3 7 9 4 12 0 7-5-1-4-9-2-12 2-11 7-3 8 5 7 11 2 11-3 5-4-4-5-10 0-12 4-9 8 0 9 7 5 11 0 10-4 2-5-5-3-12 1-11 6-7 9 2 8 9 3 11-1 8-5 1-5-8-2-12 3-10 8-4 8 4 7 10 2 11-2 6-6-2-4-9-1-12 5-9 8-2 9 6 5 11 1 10-4 4-6-4-3-10 1-12 6-7 9 1 8 8 4 11-1 9-5 1-6-6-2-11 3-11 8-5 9 3 7 10 2 11-2 7-6-1-5-8-1-11 5-10 9-2 9 5 6 11 0 10-4 5-6-3-4-9 1-12 7-7 9 0 9 7 4 12-2 9-5 2-6-5-3-10 4-11 8-5 10 3 8 9 2 11-4 7-6 0-6-7-1-10 6-9 10-3 10 5 6 10-1 11-5 5-7-3-4-8 1-10 8-7 10 1 10 7 4 10-3 9-7 2-7-4-3-9 4-9 10-4 11 2 8 9 2 10-5 7-8 1-6-6-1-9 6-8 11-2 11 5 7 10-1 9-7 5-8-2-5-7 2-9 8-5 12 0 10 7 4 10-3 8-8 3-8-4-3-8 3-8 11-3 11 2 9 8 2 10-5 7-9 0-7-5-1-8 6-6 11-2 12 5 7 9-1 9-7 5-9-1-6-7 1-7 8-5 13 0 10 7 5 9-3 8-8 2-10-3-4-7 4-6 10-2 14 5 9 7 1 8-6 5-11-1-8-5-2-6 8-2 12 3 13 7 6 7-3 6-9 1-11-3-7-5 2-4 10 1 13 4 11 8 3 7-5 4-11 0-10-3-4-5 4-3 11 0 13 4 9 8 2 7-6 5-10 0-9-3-3-6 5-5 11-1 12 3 9 8 2 9-7 5-9 1-7-4-2-7 6-6 11-2 12 4 8 8 0 9-7 6-9 0-7-6 0-8 8-5 11-1 11 5 7 9-2 9-7 4-9-2-5-6 2-8 8-5 12 1 10 6 5 9-3 9-8 3-9-3-3-8 3-8 10-4 12 2 9 8 2 9-4 8-8 1-8-4-2-8 5-8 11-2 12 3 7 9 1 9-6 6-8 1-6-6-1-9 7-7 11-1 11 5 6 9-1 9-6 5-8-1-5-7 1-9 8-6 11 0 10 6 5 10-2 8-7 4-8-3-4-8 3-8 9-6 11 1 9 8 3 10-3 8-7 3-6-5-3-9 4-9 9-5 9 1 8 8 3 11-2 8-6 2-5-5-2-11 3-10 7-6 9 2 7 8 3 11-1 8-4 1-5-6-2-12 2-11 6-6 8 3 7 10 4 11-1 7-5-1-4-9-2-12 2-11 8-2 9 M1655 1011l6 5 10-2 9-7 3-9-2-4-7 3-9 9-5 12 1 9 7 3 10-3 8-8 2-7-4-3-8 4-8 10-4 12 3 8 8 2 10-5 7-9 1-6-6-1-9 6-7 11-2 11 4 7 10-1 9-6 5-8-1-6-7 1-8 8-7 12 1 10 6 5 9-3 9-7 3-8-2-4-8 3-9 10-4 12 2 9 8 2 9-4 8-9 1-7-4-2-8 5-8 11-2 12 4 8 9 0 9-6 5-9 0-7-6 0-8 8-6 12 1 11 5 6 10-3 8-8 3-9-2-4-7 2-7 10-3 13 2 10 8 2 9-5 6-9 1-9-5-3-7 6-4 12 0 13 5 7 8 0 8-8 3-11-2-7-5 0-5 9-2 13 3 11 7 5 8-4 6-10 0-10-3-5-5 3-4 11 1 13 5 10 8 1 7-6 3-11-1-10-5-2-4 6-2 12 3 12 7 7 7-1 6-8 2-11-3-8-5 0-4 8 0 12 5 12 7 5 8-4 4-10 0-11-4-6-5 3-2 10 1 13 6 10 8 2 7-6 3-10-2-11-4-3-4 4-2 11 3 13 6 9 8 0 6-7 2-11-2-9-4-2-5 6-1 12 4 13 6 7 8-2 6-9 1-11-3-8-5 1-3 8 0 13 4 11 8 5 7-4 5-10-1-11-4-6-4 3-3 10 2 13 6 10 8 2 6-6 3-11-2-10-4-4-4 6-2 11 4 13 7 8 7-1 6-8 1-11-2-9-5-1-4 7 0 13 5 12 7 6 8-3 4-10 0-11-3-7-5 1 M1635 1473l4-6-4-10-8-7-9-3-3 3 3 7 10 7 13 4 9-3 2-8-5-9-9-7-8-1-2 5 6 7 11 7 12 2 8-4 0-9-6-9-10-5-6 0 0 6 7 7 12 6 11 0 6-5-2-9-7-9-9-4-5 2 2 7 9 7 12 5 10-2 4-6-4-10-8-7-9-3-3 4 4 7 10 7 13 3 9-3 1-8-5-9-9-6-8-1-1 5 6 7 11 6 12 1 7-4 0-9-7-8-10-5-6 1 1 5 8 8 12 5 11-1 5-6-2-9-9-8-9-3-4 3 2 6 10 7 13 3 10-2 3-8-5-8-10-7-8-1-3 4 5 7 12 6 12 1 8-5 1-8-7-8-10-5-7 1-1 5 8 6 12 5 12-1 6-6-2-8-9-8-10-3-5 2 2 6 9 6 13 3 11-3 3-7-4-9-10-6-9-1-4 3 4 6 11 6 13 1 9-5 2-7-7-8-10-5-8 0-2 4 7 7 12 4 12-1 7-5-1-9-8-7-10-3-7 1 0 5 9 6 13 3 11-2 5-6-3-9-9-6-10-3-5 3 3 6 10 5 13 2 10-3 3-7-5-8-10-6-9-1-3 3 4 6 11 6 13 1 9-5 1-7-6-8-10-6-8 0-2 5 7 6 12 5 12 0 7-5-1-8-8-8-10-4-6 1 0 5 9 7 12 4 12-2 5-6-3-8-9-8-9-2-5 2 2 6 10 6 13 3 10-2 3-7-5-9-9-7-9-1-3 4 5 6 11 6 12 1 9-3 1-8-6-9-10-5-8 0-1 5 7 6 12 5 12 0 7-5-1-8-8-8-10-4-6 1 1 6 M2395 1700l-4 6 4 9 9 8 8 2 4-3-4-7-11-7-12-2-9 3-2 7 6 9 9 6 8 1 2-4-6-8-12-5-12-1-7 4 0 9 7 8 9 5 7-1 0-5-8-8-12-4-12 0-5 6 2 9 8 8 10 3 5-2-3-7-9-7-13-3-10 2-3 7 4 9 9 7 8 2 4-4-5-7-11-6-12-3-9 4-1 8 6 9 9 5 8 1 1-5-6-7-12-6-12 0-7 5 1 8 7 8 10 5 6-1-1-6-8-7-13-5-11 1-5 6 3 9 9 8 9 3 4-3-3-6-9-7-13-3-10 2-3 8 5 9 9 6 9 2 3-4-6-7-11-6-12-2-8 4-1 8 6 9 10 5 7 0 1-5-7-7-12-5-12-1-6 6 1 8 8 8 9 5 6-2-1-6-9-7-12-4-11 1-5 7 4 9 9 7 9 3 4-3-4-7-10-6-12-3-10 2-2 8 5 9 9 6 8 1 3-4-6-7-11-6-12-1-8 4-1 8 7 9 10 5 7 0 0-6-8-7-12-5-11 0-6 6 1 8 8 8 10 4 5-2-1-6-9-7-13-4-11 2-4 7 4 9 9 7 9 2 4-3-4-7-11-6-12-3-9 3-2 8 5 9 10 6 8 1 2-5-6-7-12-5-12-1-8 4 1 9 7 8 10 5 7-1-1-6-8-6-12-5-12 1-5 6 3 9 8 7 10 3 5-2-3-6-10-7-13-2-10 2-3 8 5 8 10 6 9 1 3-3-5-7-12-5-12-1-9 5 0 9 7 7 11 4 7 0 1-5-8-6-13-3-12 2-5 7 3 8 9 6 10 1 6-3-2-6-10-3-13 0-11 5-2 8 6 8 11 2 10-1 3-5-6-5-12 0-12 4-7 8 2 9 10 4 11-1 8-6-1-5-9-2-12 5-9 9-1 10 6 5 11 0 10-7 3-7-5-3-9 4-9 9-4 12 4 8 9 1 10-6 5-9-1-7-6 1-8 8-4 13 2 11 6 4 10-4 6-9 2-10-4-4-7 5-4 11 0 13 6 9 8 0 7-8 3-11-2-8-6-1-4 8 0 13 4 11 8 6 8-4 4-11-1-11-5-6-5 3-1 11 4 12 8 9 8 1 6-8 0-11-5-10-5-2-3 6 2 11 9 11 9 5 7-4 2-9-3-11-8-7-5 2 0 7 7 10 10 8 10 1 6-7-2-10-7-9-8-4-3 4 3 8 9 9 12 5 9-2 2-8-4-10-8-7-7-2-2 5 6 9 11 8 11 2 7-4 0-9-6-9-9-6-5 1 0 6 8 9 12 6 10 0 5-6-2-9-8-9-8-3-4 2 3 8 9 8 12 4 9-1 3-7-3-10-9-8-7-2-3 4 5 8 10 8 12 3 8-3 1-8-5-10-9-6-7-1 0 6 6 8 12 7 11 2 6-5 0-9-7-10-9-5-5 2 1 6 8 9 12 6 10 0 5-6-2-10-8-8-8-4-4 3 3 7 9 9 12 5 9-1 3-8-3-10-8-8-7-2-3 4 5 9 10 8 11 4 8-3 1-8-4-10-8-7-7-1-1 6 7 9 10 8 11 2 7-5-1-9-6-10-8-5-5 1 1 7 8 9 11 6 10 1 5-7-2-9-8-9-8-4-3 3 3 8 9 9 12 5 9-2 2-7-3-10-8-8-7-2-2 4 4 9 10 8 12 4 7-3 2-9-6-10-8-7-6 0 0 6 6 9 11 8 10 2 7-5-1-9-6-10-7-5-5 1 1 7 7 10 11 7 10 1 5-6-2-10-6-10-7-4-3 3 2 8 7 10 11 7 9 0 4-7-2-11-6-9-6-3-3 4 3 10 7 11 10 6 7-1 3-7-1-11-4-9-6-3-2 6 2 10 5 12 8 7 8-1 4-9 1-11-3-8-3-2-4 7-1 12 4 13 6 6 6-1 6-8 3-11-2-8-5 0-4 7-2 13 1 12 6 6 9-2 6-9 3-10-1-6-5 1-6 9-3 12 2 12 6 4 8-3 7-8 3-10-3-5-6 3-6 9-3 13 3 10 7 3 8-4 7-9 2-9-4-4-7 5-5 11-2 13 4 8 8 1 8-6 6-10-1-8-4-1-7 7-4 12 0 12 6 7 8-1 7-9 4-10-2-6-6 1-6 9-2 13 3 11 6 4 9-4 6-9 1-10-3-4-6 3-5 11-1 13 4 9 8 2 8-6 5-10 0-9-4-2-6 6-4 12 0 12 5 8 8 0 7-8 4-10 0-7-5-1-6 8-4 13 1 11 6 6 8-2 8-8 3-10-2-6-6 2-6 9-3 12 3 11 6 4 9-4 6-9 2-9-3-4-6 3-6 11-2 13 3 9 7 2 9-5 6-10 1-8-4-2-6 5-6 11-2 12 4 9 8 0 9-6 5-9 0-8-5 0-7 7-5 11-1 12 5 7 9-2 8-7 5-10-2-6-6 2-7 8-4 13 1 11 6 4 9-3 7-8 4-9-3-4-7 3-7 9-4 13 2 9 7 3 9-4 8-8 2-8-4-3-8 5-7 10-4 11 2 8 8 2 10-4 7-7 2-6-4-2-10 4-9 9-5 10 2 7 8 3 11-3 8-5 2-4-5-2-12 2-11 6-6 8 1 6 9 5 11 0 8-3 2-4-7-3-13 0-12 4-6 8 3 6 8 5 11 2 8-3-1-5-8-4-12 0-12 4-5 7 3 7 10 6 10 1 6-3-2-5-9-4-13-1-11 4-4 7 5 7 9 6 10 1 5-3-4-6-11-5-12-1-10 4-2 7 5 8 10 6 9 1 3-4-6-6-10-5-13-2-9 3-1 8 6 9 9 6 7 1 2-5-6-7-11-7-12-2-7 4 0 8 5 9 9 7 6 0 1-6-7-8-10-8-10-3-7 4-1 9 5 10 8 7 4 0 0-7-5-10-10-9-10-3-6 5 0 10 5 10 6 6 4-2 0-8-6-11-10-9-9-1-5 6 1 11 4 10 6 4 3-3-1-10-6-12-9-7-9 0-4 8 1 11 5 9 5 3 3-6-2-11-7-11-9-6-8 2-3 9 2 11 5 8 5 1 2-7-3-12-8-10-9-5-7 4-2 10 3 11 5 6 4-1 1-9-4-12-8-9-8-3-6 6-1 10 2 11 6 5 4-4 0-10-5-12-8-8-8-1-5 7-1 11 4 10 5 3 3-6-1-11-5-12-8-7-8 1-4 9 0 11 4 9 5 1 2-7-1-12-5-12-8-5-8 2-4 10 1 11 3 7 5-1 2-8-1-13-5-11-8-4-6 4-4 10 0 11 3 6 5-3 2-10 0-13-5-10-7-3-7 5-5 10 0 10 4 4 5-4 3-10 1-13-4-9-8-3-7 6-6 9-1 9 4 3 6-4 5-11 3-12-3-9-6-2-9 4-8 8-2 7 3 2 7-4 10-8 7-9 0-7-6-4-11 0-9 3-5 4 4 3 11 1 12-3 9-6 2-7-7-7-11-3-9 1-4 4 5 5 12 2 13-2 8-5 1-7-7-7-11-4-9 2-2 4 7 5 12 2 12-1 8-6-2-8-8-7-10-3-8 2 0 5 9 5 12 2 12-2 5-7-3-8-9-6-10-2-6 3 2 5 10 5 13 1 11-3 3-8-5-7-10-6-10 0-4 4 5 5 11 4 13 0 9-5 1-8-7-7-11-4-8 0-2 5 7 5 12 3 12-1 8-5-2-8-8-7-10-4-7 2 0 5 8 5 13 3 12-2 5-7-3-8-9-6-10-2-6 2 3 6 10 5 13 2 10-3 3-7-5-9-10-5-9-1-4 3 5 6 11 5 13 0 9-4 1-8-7-8-10-4-8 0-2 5 7 6 12 3 12 0 7-6-1-8-8-7-10-4-7 2 1 5 8 6 13 3 11-2 5-7-3-8-9-7-10-2 M2396 2178l-4 6 2 10 8 8 8 3 4-2-3-8-9-8-12-4-9 2-3 7 4 10 8 7 8 2 2-4-5-8-10-8-12-2-8 3-1 8 6 10 9 6 6 0 1-6-7-8-12-6-11-1-6 5 1 9 7 9 9 4 5-1-1-7-9-8-12-5-11 2-4 6 4 10 8 7 9 3 4-4-5-7-10-7-13-2-9 4-1 8 6 9 11 5 7-1 1-5-7-6-13-4-12 1-6 6 2 9 9 6 11 3 6-3-3-5-9-5-14-2-10 4-3 7 5 8 10 5 10 1 3-4-4-5-11-4-13 0-9 4 M2470 1734l7 3 9-4 7-9 2-9-4-4-6 5-6 11-2 12 3 9 8 1 8-5 6-10 1-8-5-1-7 6-5 12-1 12 5 7 8-1 8-7 5-10-1-6-6 0-6 9-5 12 1 11 6 5 9-2 7-9 3-9-2-5-6 3-7 9-3 13 2 10 7 3 9-4 7-10 1-8-3-3-7 5-6 11-2 12 4 9 8 0 9-6 5-10 0-7-5-1-7 7-5 12 0 12 6 6 8-1 8-8 4-9-1-7-6 2-7 8-4 13 2 11 6 4 9-3 7-9 3-9-3-5-7 4-6 10-2 13 3 9 7 3 9-6 6-10 1-8-4-2-7 5-5 12-1 12 5 8 8 0 8-7 5-10-1-7-5-1-7 8-3 13 1 12 6 5 8-2 7-9 3-10-2-6-6 3-6 9-2 13 4 11 7 3 8-5 6-10 0-9-3-4-6 5-5 11 0 13 5 9 8 1 8-8 3-11-1-8-5-1-5 8-2 12 2 12 6 7 9-3 6-9 1-11-3-7-5 2-4 10 0 13 5 11 7 3 8-5 4-11-1-10-4-4-5 4-2 11 2 13 6 9 8 1 7-8 2-11-2-9-5-2-4 7-1 12 4 12 7 7 8-2 5-9 1-12-3-7-5 1-4 8 1 13 6 11 7 4 7-4 4-10-1-11-4-6-4 3-2 11 2 13 6 9 8 2 6-6 3-11-2-10-4-3-5 5-1 11 3 13 7 8 8 0 5-8 2-12-2-8-5-2-4 8 0 12 3 12 7 6 8-2 5-9 1-11-3-7-5 1-3 8 0 13 3 11 7 5 8-4 5-9 1-11-3-6-5 3-4 10 0 13 3 10 7 3 8-4 5-10 1-10-3-4-6 4-4 11-1 12 3 10 8 2 8-6 6-10 0-8-4-3-6 6-5 11-1 12 4 9 8 0 9-6 5-10-1-8-5 0-6 7-5 11-1 12 5 7 9-1 8-8 5-9-2-6-6 1-6 8-5 12 0 11 6 5 9-2 8-8 4-9-3-5-7 3-7 9-4 12 1 10 7 4 10-4 7-9 3-8-4-3-8 5-7 10-3 12 2 8 8 2 10-5 7-9 1-7-5-1-8 6-7 11-3 11 4 7 9 0 10-6 5-8 0-6-7 0-8 7-6 12-1 11 5 5 10-1 9-8 4-8-2-4-7 2-9 8-5 12 1 10 7 4 9-4 8-7 3-8-3-3-9 4-8 10-4 11 3 9 8 2 10-5 7-8 1-7-5-1-9 6-8 10-2 11 4 7 8 1 10-6 6-8 0-5-6 0-10 6-7 11-2 11 5 5 10-1 9-5 6-8-2-5-8 2-10 8-7 10 0 9 6 5 11-2 9-6 4-7-4-3-9 3-10 8-5 10 1 9 7 3 11-3 8-6 3-7-6-2-9 4-10 9-5 11 3 7 9 2 11-4 7-7 0-5-7-1-10 5-9 10-2 10 4 6 10 0 10-5 6-6-2-5-8 1-10 7-8 10 0 10 6 4 11-1 9-7 4-6-4-3-10 2-9 9-6 11 2 8 8 3 10-4 8-6 2-7-6-1-9 4-10 10-4 10 4 7 9 1 11-4 6-7 0-5-7 0-10 6-9 9-2 10 5 6 10 0 10-6 5-7-2-4-8 2-11 7-7 10 0 9 7 5 11-2 9-6 3-7-4-3-10 3-10 9-5 10 2 8 8 3 11-3 8-7 1-6-6-1-10 4-9 10 M2664 1776l7-3 3-9-3-11-5-7-5 0-1 8 4 12 8 9 9 4 6-5 1-11-3-10-6-6-4 3 0 9 6 12 8 8 9 1 5-7 0-11-4-9-6-4-3 5 1 10 7 12 9 7 8-2 4-8-2-11-5-9-5-1-2 6 3 12 7 10 9 5 7-3 3-10-3-11-5-7-5 1-1 8 5 12 8 10 9 2 6-5 1-11-4-10-6-5-4 3 1 9 6 12 8 8 9 1 5-8-1-11-5-9-5-3-3 5 2 11 7 11 9 6 8-2 3-9-2-11-5-8-5-1-2 7 3 12 8 10 10 4 6-4 2-10-3-11-6-6-4 1-1 9 5 12 9 9 9 1 6-6 0-10-5-10-5-5-4 4 1 10 7 11 9 7 9 0 4-8-2-11-5-9-6-2-2 5 3 11 7 11 10 5 8-3 2-9-3-11-6-8-6 1 0 7 5 11 9 9 9 3 6-5 1-10-5-10-6-6-4 3 1 8 6 11 10 8 9 1 4-7-1-11-5-9-7-4-3 5 3 10 8 10 10 6 8-2 3-8-3-11-6-8-6-1-1 6 4 11 9 9 9 4 7-3 2-10-4-10-6-7-5 1-1 7 6 11 9 9 10 2 5-5 0-10-4-11-7-5-4 3 2 9 6 11 10 8 9 0 4-7-1-11-6-9-5-4-3 5 2 10 8 11 9 6 8-2 3-8-2-11-6-8-5-2-2 7 4 11 8 10 9 5 7-4 2-10-3-11-6-6-5 1 0 7 5 12 8 9 9 3 6-5 1-10-4-11-5-5-4 3 0 9 5 11 8 9 8 2 6-7 0-11-3-10-5-3-4 4 1 10 5 12 7 8 8 1 5-8 1-11-4-10-4-2-3 6 0 12 4 12 8 7 7-1 5-9 1-11-2-8-5-1-3 8-1 12 4 12 7 6 7-3 5-9 2-11-3-7-5 1-4 9 0 13 3 11 7 5 8-4 5-9 1-11-3-5-4 3-5 10-1 13 4 10 7 3 8-5 5-10 1-10-4-3-5 4-5 11 0 13 4 9 8 1 8-6 4-11 0-8-4-2-6 7-4 12 1 12 5 7 9-1 7-8 3-10-2-7-5 0-5 9-3 13 3 11 6 5 8-3 7-10 1-10-3-5-5 3-5 10-1 13 4 10 7 3 8-6 5-10 1-9-4-3-6 5-4 11 0 13 5 8 8 1 7-7 4-10 0-8-5-2-6 7-3 13 1 12 6 6 8-1 7-8 3-10-2-7-5 1-5 8-3 13 2 11 6 5 9-3 6-9 2-10-2-5-6 3-6 10-1 13 3 10 7 3 8-5 6-10 1-9-4-4-6 6-5 11 0 12 4 9 8 1 8-7 5-10-1-8-4-1-7 7-4 12 0 12 6 7 8-1 8-8 3-10-1-7-6 1-6 9-3 12 1 11 6 5 9-3 7-8 3-10-3-5-6 3-6 10-3 13 3 10 7 3 9-5 6-9 1-9-3-3-6 5-7 11-2 12 4 9 8 1 8-6 6-10 1-7-5-1-7 6-6 12-1 11 4 8 9-1 9-7 5-9-1-6-6 0-7 8-6 12 0 11 6 5 9-2 8-8 4-8-2-5-7 2-7 9-5 12 2 11 7 3 9-4 7-8 3-8-3-3-8 4-7 10-4 12 3 9 8 2 9-6 7-8 1-8-5-1-8 6-7 11-1 12 4 7 9 0 9-7 5-9 0-6-7 1-8 7-6 12 0 11 6 5 9-2 9-7 4-9-3-4-7 2-8 9-4 12 1 10 7 4 10-4 7-9 3-8-4-3-8 5-7 10-3 12 3 9 M3441 1421l7 4 9-4 7-9 2-9-3-4-7 5-6 11-1 13 4 8 7 1 9-6 5-10 0-8-5-1-6 7-5 12-1 12 5 7 9-1 8-7 5-10-1-6-5 0-8 8-5 12 0 11 4 5 9-1 9-7 5-9-1-4-6 1-9 8-7 10-1 11 5 4 8 0 10-5 6-6-1-5-7 1-11 5-10 7-4 8 5 7 9 2 10-1 7-3-1-4-10-3-12 0-11 4-4 7 4 7 9 6 11 0 5-3-2-4-10-4-13-1-11 3-3 8 5 7 10 6 10 0 4-3-5-5-11-5-13-1-9 5-1 7 6 8 10 5 9 0 2-4-6-6-12-4-13 0-7 5 0 8 8 7 10 4 7 0 0-5-8-7-12-3-12 1-6 6 3 8 8 7 10 3 6-2-2-5-10-6-12-3-11 2-4 7 5 9 9 6 9 2 4-4-4-6-11-5-13-2-9 4-1 7 6 9 10 5 8 0 2-4-7-6-11-5-13 0-7 5 0 8 8 8 10 4 7-1 0-6-8-6-13-3-12 1-5 6 3 9 9 7 9 3 6-3-3-6-9-6-13-2-11 2-3 7 4 8 10 7 9 2 3-4-4-6-11-6-12-2-9 3-2 8 6 9 9 6 8 0 2-4-6-7-12-6-12-1-7 5 0 8 7 9 10 5 7-1-1-6-8-7-12-4-11 0-6 6 3 9 8 7 9 4 5-2-2-7-10-6-12-4-10 2-4 7 4 9 10 7 8 2 4-4-5-7-11-6-12-1-9 3-1 8 6 9 10 5 8 0 1-5-7-6-12-5-12 1-7 6 2 8 8 7 10 3 6-1-1-7-10-5-13-2-10 3-4 8 5 8 11 5 10 0 3-4-5-5-11-3-14 2-7 7 0 8 8 6 12 1 8-4 1-5-8-3-13 2-11 6-4 9 4 7 11 2 11-3 5-6-3-4-10 0-12 7-7 9 1 9 8 4 11-2 8-7 2-7-6-1-10 5-9 10-2 12 5 6 10-1 9-7 4-9-3-5-7 3-7 10-2 14 5 9 9 1 8-8 3-11-3-8-5-1-4 8-1 13 6 12 8 4 7-4 4-10-2-11-5-6-4 3-1 10 4 13 7 9 9 1 6-8 0-11-4-10-6-2-3 5 2 12 7 11 9 6 8-3 3-9-3-12-6-7-6 0 0 8 5 11 10 9 9 2 6-5 0-11-6-10-7-4-4 3 2 9 8 10 11 6 9-2 3-7-3-11-7-8-7-2-2 5 5 9 10 9 11 4 7-4 1-9-5-10-8-6-6 0 0 6 7 10 11 7 10 2 6-5-1-10-6-10-8-5-5 2 2 8 8 10 11 6 10 0 4-7-2-10-7-9-8-3-3 4 4 8 9 9 11 5 9-2 2-8-4-10-8-8-7-1-1 6 6 9 10 8 11 2 7-4 0-9-6-10-8-6-5 1 0 7 8 9 11 7 10 1 5-6-1-10-7-9-8-4-4 2 2 8 9 9 12 5 9-1 3-7-3-10-8-8-7-2-3 4 5 8 10 9 11 4 8-3 1-9-4-10-8-7-7 0 0 6 6 9 10 7 11 3 6-4 0-10-5-10-8-5-5 1 0 7 8 9 10 7 10 1 5-5-1-10-6-10-7-4-4 2 2 8 8 10 10 7 9 0 4-7-2-11-6-9-6-3-2 3 2 10 7 11 10 6 8-1 3-7-1-10-4-10-6-2-3 5 2 10 5 11 8 8 8 0 5-8 0-11-2-9-4-2-4 6-1 12 4 12 5 7 8 0 6-9 2-11-1-7-4-1-5 7-2 13 2 12 6 6 8-2 6-8 3-11-2-7-5 1-5 9-2 13 2 11 7 5 8-4 6-9 2-10-3-5-6 3-5 10 0 14 5 10 8 1 M3478 1887l1-8-8-6-11-2-9 2-2 5 7 4 13 0 12-3 6-7-2-8-9-5-11-1-7 3 0 5 9 3 13 0 11-5 4-7-4-7-10-5-10 0-6 4 3 5 10 3 13-1 10-5 3-8-6-7-10-4-10 0-4 4 5 5 11 3 13 0 9-5 1-7-7-8-10-4-9 0-2 5 6 5 12 4 13-1 7-5 0-8-8-8-11-3-7 1 0 5 8 6 12 2 12-1 6-6-3-9-9-6-10-3-6 3 M1902 1052l-8 7-5 10 1 8 5 1 6-7 3-13-1-12-6-6-8 2-7 9-3 10 3 6 5-1 5-10 2-13-4-11-7-3-8 5-5 10-1 10 4 4 5-5 4-11-1-13-6-9-8 0-6 7-3 11 2 9 6 1 4-7 0-13-5-11-7-6-9 3-4 11 2 11 4 6 6-3 1-10-5-12-10-8-11 2-3 9 4 11 10 6 8-2-1-7-11-7-14 1-9 6 0 11 9 6 11-1 9-5 0-7-8-2-10 5-10 9-2 11 6 6 10-1 10-5 4-8-3-4-9 2-9 9-5 11 1 9 8 3 10-3 8-9 1-7-4-2-9 5-7 11-3 12 4 7 9 0 10-6 5-9-1-6-6 1-8 7-5 12 0 11 6 6 9-3 8-8 3-9-2-5-7 3-7 10-4 13 3 10 8 2 8-5 7-9 1-8-4-3-7 6-6 11-1 12 4 8 9 0 8-7 5-9-1-7-5 0-7 7-4 13 0 11 6 6 9-2 7-9 3-10-2-5-6 2-6 10-3 13 3 10 7 3 9-4 6-10 1-9-4-4-6 5-5 11 0 13 4 9 8 1 8-7 4-11 0-8-5-1-6 7-3 13 1 12 6 6 8-2 7-8 3-11-3-6-5 1-5 9-1 14 3 10 7 4 8-4 5-10 1-10-4-5-5 4-4 12 1 13 5 9 7 1 8-7 3-10-1-10-5-2-5 7-1 12 2 13 7 7 8-2 5-9 2-11-3-7-5 0-4 9 1 13 4 11 8 4 7-4 4-10 0-11-5-5-5 3-1 11 2 13 7 9 8 1 6-7 2-11-4-10-5-2-3 6 1 12 5 12 7 6 9-2 4-10-2-11-5-8-4 1-2 8 4 13 8 9 10 2 6-5 0-11-5-10-7-4-4 4 3 10 8 10 11 5 8-2 3-10-5-11-9-6-6 0-1 7 8 9 14 4 10-1 5-7-4-9-11-7-10 1-3 4 5 5 12 3 13-3 8-8-2-7-9-5-11-1-8 5 1 6 8 1 12-3 11-7 3-9-6-7-11-1-11 5-4 5 4 4 10-1 11-7 7-10-1-9-8-3-11 3-9 6-1 5 6 3 11-5 9-9 3-11-4-6-9-1-11 5-6 7 2 5 8 0 9-8 7-10 1-10-6-5-10 2-10 6-3 8 4 4 8-3 9-10 4-11-1-9-8-2-10 4-8 8-1 7 5 2 9-6 7-11 3-11-5-7-8 0-10 6-6 8 1 6 7 0 9-8 5-12 0-11-6-5-9 3-9 8-3 8 3 4 7-3 8-10 4-12-3-9-7-3-9 5-7 9-2 7 4 3 8-6 7-11 1-12-4-8-8 0-9 7-5 9 0 7 6 0 7-8 5-12 0-12-6-5-9 2-8 9-3 9 2 5 7-2 6-10 4-13-3-10-7-3-9 4-6 10-2 9 4 3 7-5 5-11 2-13-5-9-8 0-8 7-5 10 1 7 5 1 6-7 4-12-1-12-6-7-8 2-7 9-3 10 2 6 6-2 5-9 2-13-3-11-7-4-8 5-6 10-1 10 4 4 6-5 4-11 0-13-6-9-7-1-8 7-3 11 1 9 5 1 5-7 2-12-3-13-7-6-8 2-5 10-1 11 4 7 4-2 3-9-1-13-7-11-9-2-6 6-2 11 5 11 7 3 2-6-2-11-10-11-11-3-8 6 1 12 10 8 10 1 5-7-6-6-13-1-13 6-5 9 4 7 10 3 12-4 5-7-2-4-9 1-11 7-7 11 1 9 7 4 11-3 8-7 2-8-5-2-9 5-8 10-3 11 4 8 9 1 10-6 5-9 0-6-7 1-8 7-6 12 0 11 6 5 9-2 9-8 3-9-3-4-7 3-8 10-3 12 2 10 8 2 9-5 7-9 1-8-4-2-8 6-6 11-1 12 4 8 8 0 9-7 5-10-1-6-5 0-7 7-5 13 1 11 6 6 9-3 7-8 3-10-2-5-6 3-7 9-2 13 3 11 7 3 8-5 6-10 1-9-3-3-7 5-5 11-1 13 5 9 8 0 8-7 4-10 0-8-5-1-6 7-4 13 1 12 7 6 8-2 7-9 2-10-2-6-5 1-6 10-1 13 2 11 8 4 8-5 5-10 1-10-3-4-6 4-4 11 0 13 5 9 8 2 7-7 4-11-1-9-4-2-6 7-2 12 2 13 6 7 8-2 7-9 1-11-2-7-5 1-4 9-1 13 4 11 8 4 7-4 5-11 0-10-4-5-5 3-3 11 2 13 6 10 8 1 7-7 2-12-2-9-5-2-4 6 0 12 4 12 8 7 8-2 4-9 0-12-4-7-5 0-2 8 2 13 8 11 8 3 7-6 1-10-3-11-6-5-5 4 1 10 7 12 9 7 9-1 4-9-3-11-7-8-6-1-1 6 5 11 12 8 11 0 6-5-2-10-8-9-10-2-5 3 4 7 11 6 14 1 9-7 0-8-7-7-11-3-9 4 0 6 8 3 13-1 11-5 4-9-5-8-11-2-10 3-5 5 3 4 11 0 12-6 7-9 0-8-8-4-11 1-9 6-2 6 7 2 11-4 9-9 4-9-3-7-10-2-11 5-6 7 1 5 8-1 10-6 8-11 1-9-6-6-11 2-9 7-4 7 4 3 9-3 9-9 5-11-2-8-8-3-10 4-8 8-1 7 5 1 9-6 8-10 3-11-4-7-10 0-9 6-6 8 1 6 7-1 9-8 6-11 0-11-6-5-10 3-8 7-4 9 3 4 8-4 8-9 4-12-2-10-8-2-10 4-7 9-1 8 5 2 7-6 7-11 2-12-4-7-9 0-9 6-5 10 1 6 6 0 7-8 5-12 0-11-6-6-9 2-8 8-3 10 2 5 7-3 7-10 3-12-2-10-8-3-9 4-6 9-2 9 5 3 6-5 6-11 1-13-4-8-8 0-8 6-6 10 1 8 5 0 7-7 4-13-1-11-6-6-8 2-8 8-3 10 3 6 6-2 5-10 2-12-2-11-7-4-9 5-6 10-1 9 4 4 6-4 4-12 0-13-4-8-8-1-8 7-4 10 2 9 4 1 5-7 3-12-2-13-7-6-8 2-6 10-1 10 2 7 5-2 4-9 0-14-6-10-8-3-6 6-4 10 2 11 6 4 4-5 0-11-5-13-10-7-8 3-3 9 3 12 9 6 5-1-1-10-10-9-13-2-10 7 1 11 9 6 12-1 7-6-1-5-10-1-13 6-7 10-1 9 7 4 12-2 9-7 2-6-5-2-9 4-10 10-3 11 4 8 9 0 10-5 6-8-1-6-7 0-9 7-6 12 0 10 6 6 9-3 9-7 3-9-3-4-7 3-8 10-3 12 2 9 7 3 10-5 7-9 1-8-5-2-7 6-6 11-2 12 4 8 9 0 9-7 4-10 0-6-6 0-7 8-5 12 1 12 6 5 9-2 7-9 3-10-2-5-6 3-7 10-3 13 3 10 7 3 9-5 6-10 1-9-4-2-6 5-5 11-1 13 4 8 8 1 9-7 4-11-1-8-5 0-6 8-3 12 1 12 6 6 8-2 7-9 3-10-3-6-5 2-5 9-2 13 3 11 7 4 8-5 6-10 1-10-4-4-6 5-4 11 0 13 5 9 8 1 7-7 4-11 0-8-5-2-6 7-2 12 2 13 6 6 8-1 6-9 3-11-3-7-5 1-5 9 0 13 4 11 7 4 8-4 5-10 0-11-4-5-6 4-2 11 2 13 6 9 7 1 7-7 3-11-2-9-6-3-4 7 0 12 4 12 7 7 8-2 5-9 0-12-4-7-5 0-3 9 3 13 6 10 8 4 7-5 3-12-4-10-5-5-4 4 1 10 5 12 10 8 8-1 4-8-2-11-5-9-7-1-2 7 5 10 10 9 10 3 7-5 0-11-8-10-8-4-4 3 2 8 11 8 13 2 9-3 1-8-6-9-12-4-8 2-1 4 8 5 14 2 12-6 4-8-4-7-11-3-11 1-5 6 4 5 10 0 13-5 8-8 0-9-9-5-12 1-8 5-2 6 6 2 12-3 11-9 3-10-4-6-9-2-11 4-6 7 1 5 9 0 10-7 8-10 1-10-7-4-10 1-10 6-3 7 4 4 9-3 9-9 5-11-2-9-8-2-10 4-8 7-1 7 6 1 9-5 8-11 2-11-4-7-9 1-10 5-5 9 1 5 7-1 9-8 6-11 0-11-7-4-9 2-9 8-3 8 3 4 8-4 8-9 4-12-3-9-7-3-10 5-7 9-1 7 5 2 8-6 6-11 2-12-4-7-9 0-9 7-5 9 1 6 6 0 8-8 5-13-1-11-6-5-9 3-8 8-3 9 2 5 7-3 7-10 3-13-2-9-7-3-9 5-7 9-1 8 4 3 7-5 6-12 1-12-5-8-8 0-8 7-5 9 1 8 5 0 7-8 4-12-1-12-6-6-9 3-7 8-3 10 2 6 6-2 6-10 3-13-3-11-8-3-8 5-6 10-1 9 4 4 6-5 5-12 0-13-5-8-8-1-7 8-5 10 1 8 6 1 5-7 2-13-2-12-6-6-8 2-6 10-2 11 3 6 5-2 4-9 0-13-5-11-8-3-8 6-3 11 2 10 4 3 5-5 1-12-5-12-7-7-9 1-5 10 3 12 5 7 7-1 1-10-8-10-13-5-11 5-2 8 8 10 13 2 7-4-1-7-10-3-12 5-9 9-1 10 8 5 11-2 9-6 2-7-6-3-9 5-9 9-4 11 4 8 10 1 9-6 6-8 0-6-7 1-10 7-6 12 0 11 6 4 10-2 8-8 4-8-4-4-7 3-8 10-4 12 3 9 7 3 10-5 7-9 1-8-5-2-8 6-6 12-1 12 4 7 9 0 8-7 5-10-1-7-6 1-7 8-4 13 1 11 6 5 9-3 7-8 3-10-3-5-6 4-6 10-3 12 3 10 7 3 9-5 6-10 1-9-5-2-6 5-5 12 0 12 4 8 8 0 8-7 5-10-1-7-6-1-6 8-3 13 1 12 7 5 8-2 7-9 2-10-2-6-6 2-5 10-2 13 3 11 8 3 8-5 5-10 1-10-4-3-6 4-4 12 1 13 5 8 7 1 8-7 4-11-1-8-5-1-6 7-2 12 2 13 7 6 8-2 6-9 2-11-3-7-5 2-5 9 0 13 4 11 8 4 7-5 5-11 0-10-4-4-5 4-3 11 2 13 6 9 8 1 6-8 3-11-2-9-5-2-5 7 0 12 4 12 8 7 7-3 5-9 0-11-4-8-6 1-2 9 3 13 6 10 8 4 7-5 2-12-3-11-5-4-4 4 0 10 6 12 9 8 9-1 4-9-2-11-6-8-5-1-3 7 5 11 10 9 10 2 6-4 0-11-7-10-8-4-5 3 3 7 10 9 14 2 9-4 1-7-6-9-12-4-8 2 0 5 8 5 13 1 12-5 4-8-4-7-11-4-11 1-5 6 5 5 10 0 13-5 8-8-1-8-9-5-11 1-9 5-1 6 7 1 11-3 11-8 3-11-4-6-10-1-11 4-6 7 2 4 9 0 11-7 7-10 0-9-6-5-11 2-9 6-3 7 4 3 9-3 10-9 4-11-2-8-8-2-11 4-7 7-1 7 7 1 9-6 7-11 2-11-4-6-9 0-10 6-5 9 1 5 8-1 8-9 6-11 0-10-7-5-10 3-8 8-3 8 4 4 8-4 7-10 4-12-3-9-7-2-10 5-7 9-1 7 5 1 8-6 7-11 1-12-4-7-9 1-9 7-5 9 1 6 7-1 7-8 5-13-1-10-6-5-9 3-8 8-3 9 3 4 7-3 7-10 3-13-3-9-8-2-8 5-7 9-1 8 4 2 7-5 6-12 1-12-5-8-8 0-8 8-5 9 1 7 5 0 7-8 4-12-1-12-6-5-9 2-7 9-2 10 2 5 6-2 6-10 2-13-3-10-8-3-8 5-5 10-1 9 3 3 7-5 4-12 0-13-5-8-8 0-7 7-4 11 1 8 5 1 6-8 2-13-3-12-6-5-8 2-6 10-2 11 4 6 5-2 3-10 0-14-5-10-9-3-7 7-2 11 1 10 5 3 5-6 0-12-5-12-8-7-9 3-4 10 3 11 7 7 7-3-1-8-9-11-14-3-9 4-1 11 10 8 11 1 7-5-2-7-10-1-12 5-9 10 1 10 8 3 10-1 9-7 2-7-6-2-9 5-9 10-4 11 5 7 9 0 10-6 6-8-1-5-8 1-9 8-6 11 1 11 6 4 10-3 8-7 3-9-4-4-7 4-8 10-3 13 3 8 8 2 9-5 7-9 0-8-5-1-7 6-6 12-1 12 4 7 9-1 9-7 4-10-1-6-6 1-7 9-4 12 1 11 6 5 9-4 7-8 3-10-3-4-7 4-6 10-2 13 3 9 7 2 9-5 6-10 0-9-4-2-6 6-5 12 0 12 5 8 8 0 8-8 4-10-2-7-5 0-6 8-3 13 2 11 6 6 8-3 7-9 2-10-3-6-5 3-5 10-2 13 4 10 7 3 8-5 6-10 0-10-4-3-6 5-4 12 1 13 5 8 8 0 7-7 4-11-1-8-6-1-5 8-2 12 3 12 7 6 7-3 6-9 2-10-3-7-5 2-4 10 0 13 4 10 8 4 7-6 4-10 0-10-4-4-6 4-2 12 3 12 6 9 8 0 6-7 2-11-2-10-6-1-4 7 1 12 4 12 8 6 7-2 5-10-1-12-4-6-5 1-2 9 3 13 6 10 9 3 7-6 1-12-3-10-6-4-3 4 0 11 7 12 10 7 8-2 3-8-2-12-7-8-7 0 0 8 5 10 10 8 11 2 7-7-2-11-8-8-8-4-4 5 3 8 12 7 12 1 9-4 0-10-8-8-11-3-7 2 0 5 9 6 14-1 10-5 4-8-5-7-12-3-11 3-4 5 5 4 11-1 12-5 7-9-1-9-9-3-11 2-9 5 0 5 7 2 12-4 9-9 3-10-4-6-11-1-10 5-5 7 2 5 9-2 10-7 7-10 0-9-7-5-11 2-9 7-2 7 4 3 9-4 9-9 5-11-3-8-9-2-10 5-7 8 0 6 6 0 9-6 8-11 1-11-4-6-10 1-10 7-4 8 2 5 7-2 8-9 6-11-1-10-6-4-10 3-8 8-3 8 4 3 8-4 7-10 4-12-3-9-8-1-10 5-6 9-1 7 5 1 8-7 6-11 2-12-5-6-9 1-9 7-4 9 1 6 6-2 8-8 4-12-1-11-6-4-9 3-8 8-2 9 3 4 7-3 6-11 3-12-3-10-8-2-9 6-6 9 0 9 4 1 7-6 5-12 1-12-5-7-8 1-8 7-5 10 2 7 5-1 7-8 3-13-1-11-7-5-8 3-7 9-3 10 4 5 6-3 5-11 1-13-3-10-7-2-9 5-5 11 0 9 4 3 6-6 4-12-1-13-5-8-8 1-8 8-3 11 2 7 5 0 5-8 2-13-3-12-8-5-8 4-5 10 0 10 3 6 5-3 4-11-2-13-6-9-8-2-6 7-3 12 4 9 5 3 3-6-1-13-7-12-10-4-8 4-1 12 6 10 9 4 6-6-5-8-13-6-14 4-5 8 3 9 12 4 11-3 5-6-4-6-10 1-11 8-6 10 1 9 9 3 11-3 7-8 2-6-7-1-10 5-7 11-2 11 4 6 10 0 9-7 5-8-2-5-7 2-8 8-6 12 1 10 7 4 10-4 8-8 2-8-4-3-7 4-7 11-3 12 3 9 8 1 9-6 6-9 1-8-5 0-8 6-6 12 0 12 5 7 9-2 8-8 4-9-1-6-6 2-7 8-4 13 2 11 6 4 9-4 7-9 2-9-3-4-7 4-6 11-1 12 4 10 7 1 8-6 6-10 0-8-5-2-6 7-5 12 1 12 5 7 9-1 7-8 3-10-1-7-5 1-6 8-3 13 2 12 7 4 8-3 6-10 2-10-3-5-6 4-4 10-1 13 3 10 8 2 8-6 5-10 0-9-4-3-6 6-3 12 1 12 5 8 8 0 7-8 3-11-2-8-5 0-4 8-2 13 3 11 7 6 8-3 5-10 1-11-3-6-5 3-4 10 1 13 5 10 8 3 7-6 3-11-1-10-4-3-5 5-1 11 2 13 7 8 9 0 5-9 1-11-3-8-5-1-3 7 0 13 6 12 9 5 7-4 3-10-1-11-5-7-5 2-2 11 5 12 8 9 8 1 6-6 0-12-5-10-6-3-3 6 3 10 7 11 11 5 9-4 1-9-5-10-7-7-6 1 0 9 8 9 12 5 10 0 5-8-5-11-9-6-9-1-3 4 6 8 13 4 13-2 6-7-2-8-10-6-11 0-7 3 2 5 10 3 14-3 9-8 2-8-7-6-11-1-10 4-3 7 5 3 11-2 11-7 6-10-2-8-10-3-11 4-7 6 0 5 7 1 11-5 9-10 2-10-5-6-11 0-9 6-5 7 3 4 8-2 11-8 6-11-1-9-8-3-10 3-9 7-2 7 5 2 10-4 8-11 4-11-4-7-9-1-10 5-6 8 0 6 7 0 9-7 7-11 0-11-5-5-10 1-9 7-4 9 2 4 8-2 8-9 5-12-1-10-7-3-10 4-8 8-2 8 4 3 8-5 8-11 2-12-4-8-8-1-9 6-6 9 0 7 5 1 8-7 6-12 1-12-6-6-9 2-8 7-4 10 2 5 6-2 7-9 5-12-2-11-7-4-9 4-7 9-2 9 3 4 7-5 6-10 2-13-3-9-8-1-9 6-5 10 0 7 4 2 7-7 5-12 0-12-6-7-8 1-8 8-3 10 1 7 6-1 6-9 3-13-2-11-7-5-8 4-7 10-1 9 3 5 6-4 5-11 1-13-5-9-7-2-8 6-5 11 1 9 4 2 6-6 3-13-2-12-6-7-8 1-6 8-3 11 3 8 5-1 5-9 0-13-4-11-8-5-8 5-4 11 1 10 4 5 5-4 2-11-4-13-7-8-9 0-6 10 2 11 5 8 8 0 1-9-7-10-13-6-12 4-2 9 7 9 13 3 8-4 0-7-10-3-12 4-10 9 0 11 6 5 11-1 10-6 2-8-4-3-9 4-10 9-4 11 3 9 9 1 10-5 7-8 0-6-7-1-9 7-7 12 0 11 5 5 9-1 9-8 4-8-2-5-7 2-8 10-4 12 1 10 7 3 10-4 7-9 2-9-4-2-8 5-6 11-2 12 4 8 8 1 9-7 5-9 0-7-6-1-7 8-5 12 1 12 5 6 9-2 8-9 3-9-2-6-6 2-6 10-3 13 2 10 7 4 9-5 6-9 1-10-3-3-7 5-5 11-1 13 4 8 8 1 8-6 5-11 0-8-5-1-6 7-4 13 1 12 5 6 9-1 7-9 3-10-2-7-6 2-5 9-2 13 3 11 7 4 8-4 6-10 1-10-4-4-5 4-4 10-1 13 5 10 8 1 7-6 4-11 0-9-5-2-5 6-3 13 2 12 6 7 8-1 7-8 2-11-3-8-5 1-4 8-1 13 4 12 8 4 7-4 5-10 0-11-4-5-5 3-2 11 1 13 6 9 8 2 6-6 3-12-2-10-5-2-4 6 0 11 4 13 7 7 8-1 5-10 0-11-4-8-5 0-2 8 2 13 7 11 9 3 6-5 2-10-3-11-5-5-5 3 0 11 7 11 9 7 8 0 5-8-2-12-8-8-6-2-1 6 5 11 11 8 12 1 6-5-2-10-7-9-11-3-5 4 4 6 11 6 14 2 9-7 0-8-7-7-11-3-9 3 0 7 8 3 12-1 12-5 4-9-5-8-11-2-10 2-6 5 4 5 11 0 12-6 7-9 0-8-8-4-11 1-9 6-2 6 6 2 11-4 10-8 4-10-4-8-10-1-10 4-6 7 1 5 7 0 11-7 7-10 1-10-6-5-10 2-10 6-3 7 3 4 8-3 10-9 5-11-2-9-8-3-10 5-7 7-2 7 5 2 9-6 8-10 3-12-4-7-9 0-10 6-6 9 1 5 7 0 8-8 7-12 0-10-6-5-10 2-8 8-4 8 3 4 7-3 8-9 4-12-2-10-7-3-10 5-7 9-1 8 4 2 8-6 7-11 2-12-5-8-8 0-9 7-5 9 0 7 6 0 7-8 6-12-1-11-6-6-9 2-7 9-4 9 2 5 7-3 7-9 3-13-2-10-7-3-9 4-7 10-1 8 4 3 6-4 6-12 1-12-4-9-8 0-8 6-5 11 0 7 5 1 7-7 4-13-1-12-6-6-9 2-7 9-3 10 3 6 5-2 6-9 2-13-3-11-8-4-8 5-5 10-1 9 4 4 5-4 5-12-1-13-5-9-8 0-7 7-4 11 2 8 5 2 5-8 1-12-3-12-6-6-8 2-6 10 0 11 3 7 5-2 3-10-2-14-7-9-8-2-7 6-1 13 5 9 6 3 4-7-4-12-10-8-14-1-6 10 4 9 12 6 10-3 3-5-8-6-13 2-10 7-4 11 5 7 11 1 10-5 5-7-3-5-9 2-10 8-6 11 1 9 8 4 11-4 7-8 2-7-5-2-9 6-8 11-2 11 4 7 9 0 9-6 6-9-1-6-7 1-8 8-5 12 0 10 6 5 9-2 9-8 3-10-3-4-7 4-7 10-4 12 3 10 7 2 10-5 6-10 1-8-4-2-7 6-6 12-1 12 4 8 9-1 8-7 5-10-1-7-6 1-6 8-5 13 1 11 6 5 9-3 8-8 2-10-3-5-5 3-6 10-3 13 3 10 8 2 8-5 6-10 1-9-4-3-6 6-5 11 0 13 5 8 7 1 8-8 4-10-1-8-5-1-5 8-3 13 1 12 7 6 8-3 6-9 3-10-3-6-5 2-5 9-1 13 3 11 7 3 8-4 6-11 0-10-4-4-6 5-3 11 1 13 5 9 8 1 7-7 3-11-1-9-5-2-5 7-1 13 3 12 6 7 8-3 6-9 1-11-3-7-5 1-4 10 1 13 5 10 8 4 7-5 4-11-2-10-4-5-4 4-2 11 3 13 7 9 8 0 6-8 1-11-3-9-5-2-3 6 0 12 7 12 9 6 7-4 3-9-2-12-5-6-6 1-1 10 6 11 9 8 9 2 5-7-1-12-6-9-7-3-3 5 4 10 10 9 12 3 8-5 0-8-7-10-11-4-6 2 2 6 10 6 14 3 10-6 3-7-6-8-12-4-10 3-2 5 7 4 12 0 12-4 6-9-3-8-10-4-11 2-7 5 2 5 9 2 12-5 9-9 2-9-7-5-11 0-10 5-3 7 4 3 10-3 11-8 6-10-2-8-10-3-10 4-8 7 0 5 6 1 10-5 9-10 2-11-5-6-9 0-10 6-5 8 1 4 8-1 10-8 6-11 0-10-7-4-10 3-9 7-3 8 4 2 9-3 9-10 3-12-2-8-9-2-9 5-7 9-1 6 5 1 9-6 7-11 2-12-5-6-9 1-9 7-5 8 1 6 7-2 8-8 5-12 0-11-7-4-9 3-8 9-3 8 3 4 7-4 8-10 3-13-3-9-8-2-9 6-6 9-1 8 5 1 7-6 6-11 1-13-5-7-8 1-9 7-4 10 1 6 6-1 7-8 4-12-1-12-7-5-8 4-8 8-2 10 3 4 6-3 6-10 3-13-4-10-7-2-9 5-5 10-1 9 4 2 6-5 5-12 0-13-5-8-8 1-7 7-4 11 1 7 5 0 6-8 3-13-2-12-7-5-8 3-6 9-2 10 3 6 6-3 4-10 1-13-5-10-7-3-8 6-4 11 1 10 4 3 5-6 2-12-2-13-7-8-8 2-6 8-1 12 3 7 6 0 3-9-2-12-6-11-9-3-8 6-1 11 5 10 8 4 4-6-4-10-13-8-12 1-7 8 5 11 11 4 11-3 3-8-5-3-12 2-11 8-5 10 4 7 9 2 12-5 5-8-1-4-8 1-10 7-7 11 1 11 7 4 10-3 8-7 3-8-4-4-9 5-7 10-4 11 3 9 8 1 10-5 6-9 1-7-6-1-8 7-6 12-1 11 5 6 9-1 9-7 4-10-2-5-6 2-7 9-5 12 2 11 7 4 9-4 7-9 2-9-3-4-7 5-6 10-3 13 4 9 8 1 9-6 5-10 0-7-4-2-7 7-5 12 0 12 6 7 8-1 8-8 3-10-1-7-6 1-6 9-3 13 2 11 7 5 8-4 7-10 1-9-3-5-6 4-5 10-1 13 4 10 8 2 8-6 4-10 0-9-4-2-6 6-3 12 0 12 6 8 8-1 7-8 3-11-2-7-5 0-5 8-2 13 3 12 7 5 8-3 6-10 1-11-3-5-6 3-4 10 0 13 5 10 7 3 M2072 1158l-1 9 6 10 8 6 6 0 0-6-6-9-12-7-11-1-6 5 2 10 6 9 9 4 5-2-2-7-9-8-12-5-10 1-3 7 3 9 8 8 8 3 3-4-4-7-10-8-12-4-9 3-1 8 5 10 9 6 7 1 1-5-6-8-11-7-12-1-7 4 0 9 7 9 9 5 6-1-1-6-8-8-12-5-11 0-5 6 3 9 8 8 9 4 4-3-3-7-9-7-13-4-9 2-3 7 4 9 9 7 8 2 3-4-5-8-11-6-13-2-8 4 0 8 6 9 9 6 7-1 1-5-7-7-12-6-12 0-6 5 2 9 7 8 10 4 5-2-2-6-9-7-12-4-11 1-4 7 4 9 9 7 9 3 3-3-4-7-10-7-13-2-9 3-2 8 6 8 10 6 8 1 1-4-6-7-12-6-12-1-7 5 0 8 8 9 10 4 6-1 0-6-9-6-12-4-11 1-5 6 2 9 9 7 10 3 4-3-2-6-10-6-13-3-10 3-3 7 5 9 10 6 9 1 2-4-5-6-11-5-13-1-8 4-1 8 7 8 10 5 8-1 1-5-8-6-12-4-12 1-6 6 2 8 8 8 11 3 6-2-2-6-9-6-13-2-11 3-4 7 5 8 9 6 10 1 4-3-4-6-11-5-13 0-9 4-2 8 7 8 11 4 9-1 1-4-6-6-13-2-12 1-7 6 1 8 9 7 11 2 7-3-1-5-9-4-13 0-11 4-4 7 4 8 11 4 10 0 5-5-4-5-11-1-13 2-8 7-1 7 7 7 13 1 9-4 1-5-7-3-12 2-11 6-5 11 5 8 11 0 10-4 6-6-4-6-10 1-9 10-5 12 3 8 10 3 10-8 4-10-2-7-5 0-7 10 0 14 6 10 7 3 7-5 4-11-3-11-7-3-3 5 1 11 5 12 9 7 7-1 5-10-2-12-6-7-5 0-1 7 4 12 8 10 9 3 7-5 1-11-5-10-6-5-4 2 1 9 7 11 10 8 8 0 5-7-2-11-6-9-6-3-3 5 4 10 8 10 11 4 7-2 3-9-4-11-7-7-6 0-1 7 6 10 10 8 10 2 6-5 0-9-5-10-8-6-4 2 1 8 8 10 11 7 9 0 4-7-2-10-7-9-7-3-3 3 3 9 9 9 12 5 8-2 2-8-4-10-8-8-6-1-1 6 5 9 11 8 11 3 6-5 1-9-6-10-8-5-5 0 0 7 7 10 12 6 10 1 5-6-2-10-7-9-8-4-4 3 3 8 9 9 12 5 9-2 3-7-4-10-8-8-7-2-3 5 5 8 11 8 11 3 8-3 1-9-6-10-8-6-6 0-1 6 7 8 11 7 11 2 6-5-1-10-7-9-8-4-5 1 2 7 8 9 12 5 10-1 4-7-3-9-8-8-8-3-3 3 4 8 10 8 12 4 8-3 2-8-5-10-9-6-7-1-1 5 6 8 11 7 12 1 7-4-1-9-6-9-9-5-6 1 1 6 8 8 12 5 10 0 5-6-2-9-8-8-9-4-4 3 3 7 9 7 12 5 10-2 3-7-4-10-9-7-8-2-3 4 5 8 11 6 12 3 9-4 0-8-6-9-9-6-7 0 0 5 6 8 12 5 12 1 6-6-1-8-8-9-9-4-6 2 2 6 9 7 12 5 11-2 4-6-4-9-9-8-9-2-3 3 4 7 10 6 13 3 9-4 2-7-6-9-9-6-8-1-2 5 6 7 12 5 12 1 7-5 0-9-8-8-10-4-6 1 0 6 8 6 13 4 11-1 6-7-4-8-9-7-10-3-4 3 3 6 10 6 13 2 10-3 2-8-5-9-11-5-9 0-2 4 6 6 11 4 13 0 8-6-1-9-8-7-11-2-7 2 0 4 8 5 14 2 12-6 4-7-5-7-10-4-12 2-4 7 4 3 11 0 13-8 3-14-4-7-12 1-9 10 0 11 5 4 7-6 1-13-6-12-8-6-9 3-3 11 3 11 6 7 5-2 0-8-6-12-10-8-10 0-4 6 1 11 6 9 7 4 3-5-3-9-9-10-11-5-8 2-2 9 4 10 7 8 7 1 1-6-6-10-10-8-11-3-6 5 0 9 6 10 8 6 5-2-2-7-7-9-12-7-10 0-4 7 2 10 8 8 7 4 4-4-4-8-9-8-11-5-9 2-3 8 5 10 8 7 7 1 2-4-6-9-11-7-11-3-7 4-1 9 6 9 9 6 6 0-1-7-7-8-12-6-10-1-6 6 2 9 8 9 8 4 5-2-3-8-9-8-12-5-10 2-3 7 4 10 8 7 8 2 3-4-5-7-10-8-12-3-9 4-1 8 6 9 9 7 7 0 0-5-6-8-12-7-11-1-7 5 1 9 8 9 9 5 5-2-1-6-9-8-12-5-10 1-5 6 3 9 9 8 8 3 4-3-3-7-11-7-12-3-9 2-2 8 5 9 9 7 8 1 2-5-6-7-11-6-12-2-8 4 0 9 7 9 9 5 7-1 0-6-8-7-12-5-12 0-5 6 2 9 8 8 9 4 5-3-2-6-9-7-13-4-10 3-4 7 5 9 9 6 9 2 3-4-5-6-11-7-12-2-9 4-1 8 6 9 10 5 7 1 2-6-7-7-12-4-12 0-7 5 1 8 8 8 10 4 6-1-1-6-9-7-12-3-11 1-5 7 4 8 9 7 9 3 5-3-4-7-10-5-13-2-10 3-2 8 6 8 9 6 9 0 2-4-5-6-12-5-13 0-8 5 1 8 7 8 11 4 7-1 0-6-8-6-13-3-11 1-6 7 3 8 9 7 10 2 6-3-3-5-10-5-13-2-10 4-3 7 5 8 10 6 9 0 4-4-5-6-12-3-13 0-8 6 0 7 7 8 11 3 8-1 1-5-7-6-13-1-12 3-6 7 3 8 9 5 11 1 7-3-2-5-10-4-14 1-10 6-2 8 6 7 11 3 10-2 4-5-6-5-12 0-12 5-6 8 1 8 9 4 12-1 8-7-1-5-8-1-11 5-9 11 1 12 8 4 9-3 8-8 1-9-7-4-6 7-4 13 1 12 7 7 11-3 4-11 0-11-4-5-4 2-4 11 4 14 8 8 8 1 5-8 1-11-4-10-6-2-4 7 3 11 8 11 9 5 7-3 3-10-3-11-6-7-6 2 0 8 6 11 9 8 9 2 6-6-1-10-4-10-7-5-4 4 2 10 8 10 10 6 9-1 3-8-3-11-6-8-6-2-2 5 4 10 9 10 11 4 7-4 1-9-5-10-7-7-5 0 0 7 6 10 10 8 10 2 6-5-1-10-6-10-8-5-4 3 3 8 8 9 11 7 9-1 4-7-3-11-7-8-7-3-3 5 4 9 10 9 11 3 8-2 2-9-5-10-8-7-6 0-1 5 6 10 11 7 10 3 7-5 0-10-7-9-8-5-5 1 1 7 8 9 12 6 10 0 4-6-2-10-8-9-7-3-4 3 4 8 9 9 12 4 9-2 2-8-4-10-9-7-7-1-1 5 5 8 11 8 11 2 7-4 1-8-6-10-9-6-6 1 1 6 7 9 12 6 10 0 6-5-2-10-7-8-9-4-4 2 2 7 9 8 12 5 10-1 3-7-3-10-9-8-8-2-3 4 5 8 10 7 12 3 9-3 1-8-6-9-8-7-7 0-1 5 6 8 12 7 11 1 7-5-1-9-7-9-9-4-6 1 2 6 8 8 12 5 11 0 4-7-3-9-8-8-8-3-4 3 3 7 10 7 12 4 10-3 2-7-5-9-9-7-8-1-2 4 6 7 11 7 12 2 7-4 1-9-7-9-9-5-7 1 0 5 8 8 12 5 11 0 6-6-2-9-8-8-10-4-5 2 3 7 9 7 13 4 10-3 3-7-4-9-9-6-9-2-3 3 4 7 11 6 13 2 8-3 2-8-7-9-9-5-8 0-1 5 7 6 12 5 12 0 6-5-1-9-8-8-10-4-6 2 1 6 9 6 13 3 11-2 4-7-4-8-9-7-9-1-5 3 4 6 11 5 13 1 9-4 2-8-7-8-10-4-9 0-2 5 7 6 12 2 13-2 6-6-1-8-9-6-11-2-8 5 2 4 9 3 13-1 11-6 2-11-7-6-11 0-10 6-1 10 7 1 11-7 4-15-5-11-8-3-9 8-1 13 4 8 5 2 3-8-3-12-8-10-10-4-6 5-1 10 4 11 7 5 5-3-2-8-7-11-10-7-9 0-4 7 2 11 7 9 7 3 2-5-4-9-10-10-10-4-8 3-2 8 5 11 8 7 6 0 0-6-6-10-11-7-11-2-6 5 1 9 6 10 8 5 5-2-2-8-8-9-11-5-10 0-4 7 3 10 7 8 8 3 3-4-4-8-10-8-12-4-8 3-2 8 5 9 9 7 7 1 1-5-6-9-11-7-12-2-6 4 0 9 6 10 9 5 6-1-1-7-8-8-12-6-11 0-4 7 2 9 8 8 8 4 4-3-3-7-10-8-12-4-9 2-3 7 5 10 8 7 8 1 2-4-5-8-11-7-12-2-7 3-1 9 6 9 9 6 7 0 0-6-8-8-11-6-12 0-5 5 1 9 8 9 9 4 5-2-2-7-9-7-12-5-10 1-4 7 3 10 9 7 8 2 4-3-4-7-11-7-12-3-9 3-2 8 6 9 9 6 8 1 1-5-6-7-12-6-12-1-7 5 1 8 7 9 10 4 6-1-1-6-8-7-13-4-11 0-5 6 3 9 8 8 10 3 4-2-3-7-10-7-12-3-10 3-3 7 5 9 9 6 9 2 2-4-5-7-11-6-12-2-8 4-1 8 7 9 9 5 8 0 0-5-7-7-12-5-12 1-6 5 2 9 8 8 9 3 6-2-2-6-9-6-12-4-11 3-4 7 4 8 9 7 10 2 3-4-4-6-11-6-12-1-9 4-2 7 6 9 10 5 8 0 2-5-6-6-12-4-13 0-7 6 1 8 8 7 10 4 7-2 0-5-9-6-13-3-11 2-5 7 3 9 10 6 10 1 5-3-3-5-11-5-13-1-10 4-2 7 6 8 10 5 10 0 2-4-5-6-12-3-13 1-8 6 1 8 7 6 11 4 8-3 1-5-9-4-13-1-11 3-5 7 3 8 10 5 11 1 6-5-3-5-11-2-13 2-9 6-2 7 6 7 12 2 10-3 3-6-6-3-12 1-12 6-6 8 3 9 11 3 11-3 6-6-1-5-9-1-12 8-5 12 1 9 7 4 11-5 6-11-1-8-5-1-6 8-3 13 4 13 9 4 7-4 4-11 0-10-5-6-6 5-1 11 5 12 8 8 8 0 5-8 0-12-6-9-6-1-2 7 4 11 8 11 9 4 7-4 2-10-4-11-7-6-4 2 0 8 6 11 10 8 9 2 5-7-1-10-5-10-7-4-3 4 2 10 9 10 10 6 8-2 3-8-3-11-7-8-6-2-1 6 4 11 10 9 11 3 6-4 1-10-5-10-7-6-5 1 0 7 7 10 10 8 10 1 6-6-2-10-6-10-8-4-4 3 3 9 9 9 11 6 9-1 3-8-3-10-8-8-7-3-2 5 5 10 10 8 11 3 7-3 1-9-5-10-8-6-6 0 0 6 7 9 11 8 10 1 6-5-1-10-6-9-8-5-5 2 2 8 8 9 12 5 9 0 4-7-3-10-7-8-8-3-3 4 4 8 10 8 12 4 8-2 2-9-5-9-8-7-7-1-1 5 6 9 11 7 11 2 7-4 0-9-7-10-8-5-6 1 1 7 8 8 11 6 11 0 5-6-2-10-8-8-8-4-4 3 2 7 10 8 12 5 9-2 3-7-4-10-9-7-7-2-3 4 6 8 10 7 12 3 8-3 1-9-6-9-9-6-7 0 0 5 7 8 11 7 12 1 6-6-1-9-8-9-9-4-5 2 2 7 9 7 12 5 10-1 4-7-3-9-9-8-8-2-3 3 3 7 11 8 12 3 9-3 2-8-6-9-9-7-7-1-2 5 6 8 12 6 11 1 8-4-1-9-7-9-9-4-6 1 0 5 8 8 13 4 11 0 5-6-3-9-8-8-9-3-5 2 3 7 10 7 12 3 10-2 3-8-5-9-9-6-8-1-3 3 5 7 11 6 13 2 8-4 0-8-6-9-10-5-8 1 0 5 7 6 13 5 11-1 7-5-2-9-8-7-10-4-6 2 2 7 9 5 13 3 11-3 3-6-4-9-10-6-9-2-4 4 4 6 12 5 13 1 8-5 1-8-6-8-11-4-8 1-2 5 8 6 12 2 12-2 7-7-3-8-9-6-11-1-7 4 2 5 10 3 13-1 11-6 1-11-8-6-11 0-9 5-1 9 8 2 10-6 6-15-6-12-8-2-8 7-2 13 4 9 5 1 3-8-3-13-9-10-9-3-6 5-1 11 4 10 7 5 5-3-2-9-7-11-11-6-8 0-4 8 2 11 7 8 7 2 2-5-4-9-10-9-11-4-7 3-1 9 4 10 8 7 6-1 0-6-7-10-11-7-10-1-6 5 2 10 6 9 8 5 4-3-2-8-9-9-11-5-9 1-4 7 4 10 7 8 8 3 2-4-4-9-10-8-12-4-8 3-1 9 5 9 9 7 6 0 1-5-7-9-11-7-11-2-6 5 0 9 7 10 9 5 5-2-2-7-8-8-12-6-10 1-4 6 3 10 7 8 9 3 3-3-3-7-10-8-12-4-9 2-3 8 5 10 9 6 8 2 1-5-6-8-11-7-11-2-8 4 0 9 7 9 9 5 6 0 0-6-8-8-12-6-11 0-5 6 2 9 8 8 8 4 5-2-2-7-10-8-12-4-10 2-3 7 4 9 9 8 8 1 3-3-5-8-11-6-12-3-8 4-1 8 5 9 10 6 7 0 1-5-7-8-12-5-11-1-7 5 1 9 8 8 9 4 6-1-1-6-9-7-12-5-11 1-5 7 4 9 8 7 9 3 4-3-3-6-11-7-12-3-10 3-2 7 6 9 9 6 8 1 2-4-5-7-12-6-12-1-8 5 0 8 7 8 10 5 7 0 0-6-8-7-12-4-12 1-6 6 3 8 8 8 10 3 5-2-2-6-10-7-12-3-11 2-3 7 4 9 10 7 9 1 3-4-5-6-11-5-12-2-9 5-1 7 6 9 10 5 8 0 2-5-7-7-13-4-12 1-6 5 1 9 8 7 11 3 6-1-1-6-9-6-13-2-11 2-4 6 3 9 10 6 10 2 4-4-3-5-11-5-13-1-10 4-1 8 6 8 10 5 9-1 2-4-6-6-12-3-13 1-7 6 1 8 8 7 11 3 7-2 0-5-8-5-13-2-12 4-4 7 3 8 10 5 11 1 5-4-3-5-10-4-14 2-9 7-1 7 6 7 11 2 10-2 3-4-7-6-12 1-12 5-6 9 3 7 9 4 12-2 7-7-2-5-9 0-11 6-8 9 0 11 10 6 10-5 7-8 2-7-7-3-10 7-3 13 2 12 6 5 10-3 6-11-1-11-4-4-5 4-2 10 3 14 9 8 8-1 5-8 0-11-5-9-5-1-3 7 3 13 8 10 9 4 7-4 1-10-3-11-6-6-4 2-1 9 7 11 9 8 9 1 5-7-1-11-6-9-6-4-3 5 3 10 8 10 10 6 8-3 3-8-4-11-6-7-6-1-1 6 5 10 9 9 10 3 7-4 1-10-6-10-7-6-5 2 1 7 7 10 11 7 9 1 5-6-1-10-7-9-7-4-4 3 3 9 9 9 11 5 9-1 3-8-4-10-7-8-7-2-2 5 5 9 10 9 11 3 8-4 0-9-5-9-8-7-6 1 0 6 7 10 11 7 11 1 5-5-1-10-7-9-7-5-5 3 2 7 9 9 11 6 10-1 3-7-3-10-8-9-7-2-3 4 5 8 9 9 12 4 8-3 2-9-5-10-9-6-6-1-1 6 6 8 11 8 11 1 7-4-1-10-6-9-9-5-5 1 1 7 8 9 12 6 10-1 5-6-3-10-8-8-8-3-3 3 3 7 10 8 12 5 9-3 2-7-4-10-9-7-7-2-2 5 5 8 11 8 12 2 7-4 1-9-7-9-8-6-7 1 0 5 8 9 11 6 11 0 6-5-2-9-7-9-9-4-5 2 3 7 9 8 12 4 10-1 3-7-3-10-9-7-8-3-3 4 4 8 11 7 12 3 8-3 2-9-6-9-9-6-7 0-1 5 6 7 12 6 11 1 7-5-1-8-7-9-9-5-6 2 1 6 9 7 12 5 11-1 4-6-3-9-8-8-9-3-4 3 3 7 10 7 12 3 10-3 3-7-5-9-10-7-8-1-2 4 5 7 12 6 12 1 8-4 0-8-7-9-10-5-7 1 0 5 8 7 12 5 12-1 6-6-3-9-8-7-10-3-5 2 2 6 10 6 12 3 11-2 3-8-5-8-9-6-9-1-4 3 5 6 11 6 13 0 9-4 1-8-7-8-11-4-8 1-1 4 7 6 13 3 12-1 6-6-2-9-9-7-11-1-6 2 2 6 10 4 13 1 11-6 2-9-6-6-11-3-10 1-3 6 7 6 11-2 12-6 5-12-7-9-11 1-9 8 0 12 6 3 5-6 3-14-7-13-8-4-7 4-3 10 3 12 7 5 4-3-1-9-6-12-10-7-9 0-4 9 2 10 7 9 6 2 2-5-4-11-9-9-11-4-8 4-1 9 5 10 8 7 5-1 0-7-7-10-10-8-11-1-5 6 1 10 7 10 8 4 4-3-3-8-8-9-12-6-9 1-3 8 3 10 8 8 7 2 2-5-4-8-11-8-11-4-8 3-1 9 6 10 8 6 6 0 1-6-7-9-12-6-11-1-5 5 1 9 7 9 8 5 5-2-2-7-8-9-12-5-10 1-4 7 3 9 8 8 8 3 3-4-4-7-10-8-12-4-8 3-2 8 5 9 8 7 7 1 2-5-6-8-12-7-11-2-7 5 0 9 7 9 9 5 6-1-1-6-8-8-12-6-10 0-5 6 2 9 8 9 9 3 4-3-3-7-10-7-12-4-10 2-2 7 4 10 9 7 8 2 2-4-5-8-11-7-12-2-8 4-1 8 7 9 9 6 7-1 0-5-7-7-12-6-11-1-6 6 1 9 8 8 9 4 5-1-1-7-9-7-13-4-10 1-4 7 3 9 9 7 9 2 4-3-4-7-11-6-12-3-9 3-2 8 5 9 10 6 8 0 1-4-6-7-12-6-12-1-7 5 1 8 7 9 9 4 7-1 0-5-9-7-12-5-11 1-5 6 2 9 9 8 9 2 5-2-3-6-10-7-12-2-10 2-3 7 5 9 9 6 9 2 3-4-5-7-12-5-12-1-9 4 0 8 7 8 10 5 7 0 1-5-7-7-12-4-12 1-7 5 2 8 8 8 10 3 6-2-1-6-9-5-13-3-11 3-4 7 4 8 10 6 9 2 4-3-4-6-10-6-14-1-9 5-1 8 6 7 10 5 9 0 2-5-6-5-13-4-12 1-7 5 1 8 8 8 11 2 7-2-1-5-8-5-13-1-12 3-4 7 3 7 10 6 10 1 6-4-4-5-10-4-13 1-10 5-2 8 7 7 10 4 10-1 3-6-7-5-12 0-12 3-7 7 2 8 9 5 11 1 8-5-1-6-9-1-12 3-10 6-4 9 6 7 13 1 10-5 3-6-4-3-10 2-12 9-2 13 4 7 8 0 10-6 5-11-5-7-5 3-6 10-1 13 5 11 11 2 6-8 2-11-2-9-5-2-5 8 1 13 6 11 9 4 7-3 3-10-2-11-6-7-6 3 0 9 6 12 9 8 8 1 5-6 0-11-4-10-7-3-3 5 2 10 8 10 10 6 8-2 3-9-3-11-6-8-6 0-2 7 6 10 9 9 10 3 6-4 1-10-5-11-7-5-5 1 1 8 7 11 11 7 9 0 5-6-2-10-7-10-7-3-3 4 3 9 9 9 11 6 8-2 3-8-4-11-7-7-7-2-1 6 5 9 10 9 11 3 7-4 1-9-6-10-7-7-6 1 1 7 7 10 11 7 10 1 5-6-2-10-6-9-8-4-4 2 2 8 9 9 12 6 9-1 3-8-3-10-8-8-7-2-3 5 5 8 10 8 12 4 7-3 1-9-5-10-8-6-6-1-1 6 7 9 11 7 11 2 6-5-1-10-7-9-8-4-5 1 2 7 8 9 12 6 10-1 4-6-3-10-8-9-8-3-3 4 4 8 9 8 12 4 9-3 2-8-5-9-8-7-7-1-2 5 6 8 11 7 11 2 8-4 0-9-7-9-8-6-6 1 0 6 8 9 12 5 10 1 6-6-2-10-8-8-9-4-4 3 3 7 9 8 12 4 9-1 4-8-4-9-9-8-8-1-3 4 5 7 11 7 12 3 8-4 1-8-6-9-9-6-7 0 0 5 7 8 11 6 12 1 6-5-1-9-8-9-9-4-5 1 1 7 9 7 12 5 11-1 4-7-3-9-9-8-8-2-4 3 4 7 10 7 12 3 9-3 2-8-5-9-9-6-8-1-2 4 6 8 11 6 12 1 8-4 0-9-7-9-10-4-7 1 1 5 8 7 12 5 12-1 5-6-3-9-8-7-9-4-5 3 2 6 10 7 13 3 10-3 3-7-5-9-9-6-9-2-3 4 5 7 11 5 13 2 8-5 1-8-7-8-10-5-8 1-1 5 8 6 12 4 12-1 6-6-2-9-9-7-10-2-6 2 2 6 10 5 13 2 10-3 4-8-5-8-11-5-9 0-4 3 5 6 11 3 13-1 9-7-1-9-8-6-11-1-8 3-1 7 10 3 12-3 10-8 2-11-10-7-11 3-7 9 2 11 8 0 4-9 1-14-9-11-8-2-6 7-1 11 5 10 7 3 2-6-3-10-7-11-10-5-8 3-2 10 4 11 7 6 5 0 0-8-6-10-10-9-10-1-6 6 1 10 7 10 7 4 4-3-3-8-8-10-11-6-9 1-4 8 4 10 8 8 6 2 2-5-4-9-10-8-11-4-8 4-1 8 5 11 9 6 6 0-1-7-7-9-11-7-10-1-6 5 1 10 7 9 8 5 5-2-2-8-9-9-12-5-9 1-4 7 3 10 8 8 8 2 3-3-4-8-10-9-12-3-8 3-2 8 5 10 9 6 7 1 0-6-6-8-11-7-11-1-7 4 1 9 6 10 9 5 5-1-1-7-8-9-12-5-10 1-5 6 3 9 8 8 8 4 4-3-3-8-10-7-12-4-9 2-3 7 5 10 8 7 8 1 2-4-5-8-11-7-12-2-8 4 0 9 6 9 9 5 7 0 0-5-7-8-12-6-11-1-6 6 2 9 7 9 9 3 5-2-2-6-9-8-12-4-10 2-4 7 4 9 8 7 9 3 3-4-4-7-11-7-12-3-9 4-1 8 6 9 9 6 8 0 1-5-7-7-11-6-12-1-7 5 1 9 7 8 9 5 6-1 0-6-9-7-12-5-11 1-5 7 3 8 9 8 9 3 4-3-3-6-10-7-12-3-10 3-3 7 5 9 9 6 9 1 3-4-6-7-11-5-13-1-8 4 0 8 7 9 10 5 7-1 0-5-7-7-12-4-12 0-6 6 2 9 8 7 10 3 6-2-2-6-10-6-12-3-11 3-4 7 5 8 9 7 9 1 4-3-4-7-11-5-13-1-9 4-1 8 6 8 10 5 9 0 1-5-6-6-12-4-13 1-7 5 1 8 9 8 10 3 7-2-1-5-9-6-13-2-11 3-5 6 4 8 9 7 10 1 6-3-4-6-11-4-13-1-9 5-2 8 6 7 10 4 10 0 2-4-6-6-12-3-13 3-7 6 1 8 9 6 11 2 7-2 0-5-8-5-13 0-12 5-4 8 4 7 11 4 10-1 6-4-3-5-12-2-13 4-8 8 0 8 7 5 12 1 9-5 1-8-6-2-11 4-10 9-4 10 6 8 12 0 9-8 3-8-2-4-11 3-6 12 0 13 5 8 8 0 8-9 2-12-4-7-5 1-3 9 1 13 6 11 10 3 7-7 1-11-3-10-5-4-4 4 0 12 7 12 9 6 8-1 3-9-2-11-5-8-5-1-2 7 4 11 9 10 9 4 7-5 1-10-5-10-6-6-5 1 1 9 6 11 10 8 10 0 4-6-1-11-6-9-7-4-3 4 3 10 8 10 11 5 8-1 3-9-4-11-7-7-6-1-1 6 5 9 10 9 10 3 7-4 1-9-5-10-8-7-5 2 0 7 8 10 10 7 10 1 5-6-1-10-7-10-7-4-4 3 3 9 8 9 11 6 9-2 3-7-3-11-8-8-7-1-2 4 5 9 10 9 11 3 8-3 1-9-5-10-8-7-6 0 0 7 6 9 11 7 11 1 6-5-1-9-7-10-8-4-5 2 2 7 9 9 11 6 10-1 4-7-3-10-8-8-8-3-3 4 4 8 10 8 12 4 8-2 2-8-5-10-8-7-7-1-1 5 6 9 11 7 11 2 7-4 0-9-7-10-8-5-6 1 1 7 8 8 12 6 10 0 5-6-2-10-8-8-8-4-4 3 3 7 9 8 12 5 9-2 3-8-4-9-9-7-7-2-3 4 6 8 10 7 12 3 8-4 1-8-6-10-9-6-7 0 0 6 7 8 12 6 11 1 6-5-1-9-8-9-9-4-5 2 2 6 9 8 12 5 10-1 4-7-3-9-9-8-8-3-4 4 4 7 11 7 12 3 9-3 2-8-6-9-9-6-7-1-2 5 6 7 12 6 11 2 8-5-1-9-7-8-9-5-7 1 1 6 8 7 13 5 11-1 5-6-3-9-8-8-9-3-5 3 3 6 10 7 12 3 10-2 3-7-5-9-9-7-9-1-2 4 5 7 11 6 12 1 9-4 0-8-7-9-9-5-8 1 0 5 7 6 12 5 12-1 6-5-2-9-8-7-10-4-6 3 2 6 10 6 13 2 10-2 4-7-4-9-10-6-9-2-4 4 4 6 12 5 12 1 9-5 1-8-7-7-10-5-8 1-2 5 7 6 13 2 12-2 6-7-2-8-9-6-11-1-7 4 2 6 10 2 13-1 10-6 3-9-8-8-12 0-9 4-2 8 9 4 10-6 7-12-3-14-11-3-7 6-4 12 5 10 6 1 2-7-2-12-8-12-10-3-6 5-1 10 4 11 6 5 5-3-1-10-8-10-10-7-9 1-3 7 2 11 6 9 7 2 3-6-5-9-9-9-11-4-7 3-2 9 5 10 7 7 6 0 0-7-6-10-11-7-10-1-6 5 1 10 7 9 7 5 5-2-2-8-9-10-12-5-9 1-3 7 3 10 8 8 7 2 3-4-5-8-10-9-11-3-8 2-2 9 5 10 9 7 6 0 1-6-6-8-12-7-11-2-6 5 1 9 6 9 9 5 5-1-1-7-9-9-12-5-10 0-4 7 3 9 8 9 8 3 3-3-3-8-10-8-12-4-9 2-2 8 5 10 8 7 8 1 1-5-5-8-11-7-12-2-7 4 0 9 6 9 9 6 6-1 0-6-8-8-12-6-11 0-5 6 2 9 8 8 9 4 4-2-2-7-10-8-12-4-10 2-3 7 4 9 8 8 9 2 3-4-5-8-11-7-12-2-8 3-1 8 6 10 9 5 7 1 1-5-7-8-12-6-11-1-7 5 1 9 7 9 10 4 6-1-2-7-8-7-13-4-10 1-5 6 3 9 9 8 9 3 4-3-3-7-11-7-12-3-9 3-3 7 5 9 10 7 8 1 2-5-6-7-11-5-12-2-8 5 0 8 7 9 9 4 7 0 0-5-7-7-12-5-12 0-6 6 2 9 9 8 9 3 6-2-3-6-9-7-13-3-10 2-4 7 5 9 9 6 9 2 3-3-4-7-11-6-13-1-9 4-1 8 7 8 10 5 8 0 1-4-7-7-12-4-12 0-7 5 1 8 8 8 10 4 7-2-1-6-9-6-13-2-11 2-5 6 4 9 9 6 10 2 5-3-4-6-10-5-13-1-10 4-2 7 6 8 10 5 9 0 3-4-6-6-12-4-13 1-7 5 0 8 8 8 11 3 7-2 0-5-8-5-13-2-11 3-6 6 3 8 10 6 10 2 6-4-2-6-11-3-13 1-10 4-2 8 6 7 10 4 10-1 4-5-6-5-12-1-13 3-7 7 1 8 8 5 12 2 8-5 0-6-8-2-13 3-10 6-4 9 5 7 12 2 11-5 4-6-4-4-10 2-11 9-4 13 4 7 8 1 10-6 5-10-3-8-7 2-5 10-2 13 4 11 10 3 8-8 2-11-2-9-4-2-5 6 0 13 6 12 8 5 8-3 3-10-2-11-5-7-6 2-1 9 6 12 8 9 9 1 5-6 1-11-5-10-6-4-4 5 2 10 8 11 10 6 8-2 3-8-3-11-6-8-5-2-2 7 4 11 9 9 11 3 6-4 1-9-5-11-6-6-5 1 0 8 6 10 11 8 10 1 5-6-2-10-6-10-7-4-4 4 3 8 8 10 11 6 9-1 3-8-3-10-7-9-7-1-2 5 5 9 10 9 11 3 7-3 1-9-5-10-8-7-5 0 0 7 6 9 11 8 10 1 6-5-1-10-7-9-8-5-4 2 2 8 9 9 11 6 9 0 4-7-3-10-7-9-8-3-2 5 4 8 10 9 11 3 8-2 2-9-5-10-8-7-7 0-1 5 6 9 11 8 11 2 7-5 0-9-7-9-8-6-6 2 2 6 8 9 11 6 10 0 5-6-2-10-8-8-8-4-4 3 3 8 10 8 12 5 9-2 3-8-5-10-8-7-8-2-2 5 6 8 10 7 12 3 8-4 0-8-6-10-8-6-7 0 0 6 7 9 12 6 11 1 6-6-2-9-7-9-9-4-5 2 2 7 9 8 12 5 10-1 4-7-3-10-9-7-8-3-3 4 4 7 11 8 12 3 8-3 2-8-6-10-9-6-7-1-1 5 6 8 12 7 11 1 7-5 0-8-7-9-9-5-7 1 1 6 9 8 12 5 11-1 5-6-3-9-8-8-9-3-5 2 3 7 10 7 13 4 9-2 3-8-5-9-9-7-8-1-2 4 5 7 11 7 12 1 8-4 1-8-7-9-9-5-7 0-1 6 8 7 12 5 12 0 5-6-1-9-9-8-9-3-6 2 2 6 10 7 12 3 11-1 4-8-5-9-9-6-9-2-3 4 4 6 11 6 13 1 8-3 2-8-6-8-10-6-8 0-2 5 7 7 12 4 12-1 7-5-1-8-8-8-10-4-7 2 1 6 9 6 13 2 11-3 4-6-4-9-9-6-10-1-5 3 4 7 11 4 13-1 9-5 1-7-6-8-11-3-10 2-1 6 7 4 12 0 12-4 6-8-4-10-11-3-11 3-5 7 5 7 11-3 8-9 2-15-10-8-8 3-6 10 1 12 7 5 4-5 0-10-5-13-11-7-8 2-3 9 2 11 6 8 6 0 1-7-5-11-9-9-10-3-6 5 0 10 5 11 7 5 5-3-2-8-8-10-10-7-10 1-4 7 3 10 7 9 7 3 3-5-4-9-10-9-11-4-8 3-2 8 5 10 8 7 6 1 1-6-6-9-11-8-11-2-6 5 0 9 7 10 8 5 5-2-2-7-8-9-11-6-10 0-4 7 2 9 M3073 927l-1 9 4 3 6-5 6-11 1-13-6-9-9 0-7 8-3 11 2 8 5-1 5-8 2-13-4-12-8-4-7 4-5 10 0 10 3 6 6-3 3-11-2-14-6-9-8-1-7 7-2 11 2 9 4 3 5-6 1-12-5-12-7-7-8 2-5 8 0 12 4 8 4 0 3-8-1-13-6-11-8-5-7 5-3 10 1 11 5 6 4-3 2-10-4-12-7-10-8-1-6 6-1 12 3 10 5 3 4-5-1-11-5-12-9-7-7 1-5 8 1 11 4 9 5 1 3-7-3-12-7-11-9-5-7 4-2 10 2 11 5 7 5-2 1-9-4-12-8-9-9-3-6 6-1 11 4 10 6 5 3-4-1-10-5-12-9-7-8 0-5 7 1 12 5 9 5 2 3-6-3-11-7-11-9-5-8 2-2 10 2 11 6 7 5 0 1-8-4-11-9-10-9-3-6 5-1 10 4 11 6 5 4-2-1-9-6-12-9-8-9 0-4 7 0 11 5 9 6 4 3-5-2-10-7-11-11-6-8 2-2 8 3 11 6 8 5 1 2-6-5-11-9-10-9-3-7 4-1 9 4 11 7 6 5-1-1-8-6-11-10-8-10-1-5 6 1 11 6 9 7 4 3-3-2-9-8-11-10-6-9 1-3 8 3 11 6 8 7 2 2-5-5-10-9-9-11-4-7 3-1 9 4 11 7 6 6 0 0-8-6-9-11-8-10-1-6 5 1 10 7 10 7 4 4-2-2-8-8-10-11-6-10 1-3 8 3 10 8 8 7 2 2-4-4-9-10-8-11-4-8 3-2 9 6 10 9 6 6 0 0-6-7-8-12-7-11-1-5 6 1 9 7 9 9 4 5-2-2-8-10-7-12-4-10 2-3 7 4 9 9 7 8 2 3-4-5-8-11-6-13-1-8 5 0 8 7 8 10 5 8-1 0-5-8-7-13-3-12 2-5 7 3 8 10 6 10 2 5-3-3-6-11-5-13 1-9 6-2 8 7 7 11 2 10-1 2-5-7-6-13 1-11 5-6 9 3 7 10 3 11 0 7-7-2-6-9 0-12 6-8 9-2 8 7 6 11-1 10-7 2-7-4-2-10 4-9 9-5 11 3 8 10 2 11-6 5-9 0-6-7 1-8 8-7 11 0 11 7 5 10-3 8-8 2-9-3-4-7 4-6 10-3 13 3 9 9 2 9-7 5-10-1-8-4-1-7 7-4 12 1 12 5 7 9-1 7-9 3-11-3-6-5 2-5 9-1 13 3 11 7 4 8-5 5-10 1-10-4-4-6 4-3 11 1 13 5 9 8 1 7-7 3-11-1-9-4-1-5 6-2 13 3 12 7 7 8-2 5-9 1-11-3-8-4 1-4 9 0 13 4 11 8 5 7-5 5-11-1-10-4-5-5 3-2 11 2 13 6 9 8 2 7-7 2-11-2-10-4-3-5 6-1 12 5 13 7 7 8-2 4-9 1-11-3-8-5 0-3 8 1 12 5 12 8 5 7-4 4-11-1-11-5-6-4 3-2 9 3 13 7 10 8 2 6-6 2-11-2-10-5-4-4 4 0 12 4 12 8 8 8-1 5-8 0-11-4-9-5-1-3 6 2 12 5 12 9 5 7-2 4-10-2-11-5-7-4 1-2 8 4 13 7 10 8 3 7-6 1-10-2-11-5-5-4 3-1 11 5 12 9 8 8 1 5-8 0-11-5-9-5-3-3 5 2 12 6 11 9 7 7-2 4-9-1-12-6-8-5 0-1 8 3 11 8 11 9 3 6-4 2-10-3-11-5-6-5 2 0 9 5 12 9 9 9 1 5-7 0-11-5-9-6-4-3 4 2 11 7 11 9 7 8-1 3-9-1-11-6-9-6-1-1 7 3 10 9 11 9 4 7-4 2-9-4-11-6-7-5 1 0 8 6 12 9 8 10 1 5-6 0-10-6-10-6-4-4 3 2 9 8 11 10 6 9-1 3-8-3-11-6-8-7-2-2 6 5 9 9 10 11 3 8-4 0-9-5-10-8-6-5 1 0 6 7 10 12 7 11 0 4-6-2-10-8-8-8-4-4 3 4 9 10 8 13 2 8-3 2-8-6-9-11-6-9 3 0 5 8 5 13 2 13-4 4-11-6-6-10-3-12 4-2 8 5 3 11-3 10-10 2-12-6-7-9 1-9 7-3 10 4 6 6-4 6-10 2-13-3-10-10-2-8 7-4 11 1 9 5 1 5-7 3-12-3-13-8-6-8 2-5 10-1 11 3 6 5-1 4-10-1-13-6-11-8-3-6 6-3 11 1 10 4 4 5-4 1-11-3-13-8-8-8 0-5 8-1 11 3 9 5 2 4-7-1-12-5-12-8-6-8 3-4 9 1 12 5 7 4-1 2-9-3-13-6-10-9-3-6 5-2 11 2 10 6 5 4-3 0-10-5-13-8-8-8-1-5 8-1 11 4 10 5 2 3-5-1-12-6-12-9-6-7 2-4 10 2 11 5 8 5 0 1-8-3-12-7-10-9-4-7 4-2 11 3 11 6 5 4-2 0-9-5-12-8-8-9-2-5 7 0 11 4 10 5 3 4-4-2-11-6-11-10-7-8 2-3 8 2 11 5 9 5 1 2-6-3-12-8-10-9-5-7 4-2 10 3 11 6 6 5-1 0-8-5-11-9-9-10-2-5 6 0 10 4 10 7 5 3-3-1-9-7-12-10-7-9 1-3 7 2 11 6 9 6 3 2-6-3-10-9-10-10-5-7 2-2 9 3 11 7 8 5 0 1-7-6-11-9-9-10-2-6 5 0 10 5 10 7 5 4-2-1-8-7-10-11-8-9 0-4 7 2 11 6 9 7 3 3-4-4-9-8-10-11-5-8 2-3 8 4 11 8 7 6 1 1-6-6-9-10-8-11-3-6 4 0 10 6 10 7 5 5-1-1-7-7-10-12-6-10 0-4 6 2 10 8 9 8 3 3-3-3-8-10-9-11-4-10 2-2 9 5 9 9 7 7 1 1-5-6-8-11-7-11-2-7 4 0 9 7 10 10 4 5-1-1-6-9-8-12-4-11 1-4 6 3 9 9 8 10 2 4-4-5-6-11-6-12-1-9 4-2 8 6 8 11 5 9-2 1-5-7-5-13-2-12 2-6 6 2 8 9 7 12 0 6-4-2-5-10-2-13 1-10 5-3 9 7 7 12 2 10-4 3-5-6-3-12 1-11 5-7 11 4 9 10 1 11-3 6-6 0-5-8 0-12 5-8 12 0 9 6 5 10-2 10-7 3-7-4-3-10 3-8 10-3 12 3 8 9 1 9-5 6-9 0-7-6-1-9 8-4 12 1 12 5 5 9-3 8-8 3-9-2-5-8 2-6 11-1 13 3 9 8 3 8-6 5-10 1-9-4-2-7 5-4 13 1 12 6 8 8-1 7-8 3-11-2-7-5 0-5 8-2 13 3 12 8 5 8-4 5-10 0-10-3-6-5 3-4 10 1 14 4 10 8 2 8-6 3-11-1-10-4-3-5 6-2 11 3 13 6 8 8-1 6-8 2-11-2-8-5-1-5 8 1 13 4 11 8 6 7-4 4-10 0-11-3-6-5 2-3 9 2 13 5 11 9 3 7-6 2-11-2-10-4-4-4 4-1 11 3 13 7 8 8 0 5-7 2-12-3-9-5-2-4 7 1 12 5 12 8 6 7-2 5-10-1-11-4-8-5 1-2 9 2 12 6 11 9 4 7-5 2-11-2-11-5-5-4 3-1 10 4 13 8 9 8 1 5-7 1-11-3-10-5-3-4 5 1 12 6 12 8 6 8-1 4-9-1-11-4-9-5 0-3 7 3 12 7 11 8 5 7-4 3-11-3-11-5-6-4 2-1 9 4 12 8 10 9 2 6-6 0-11-3-11-5-4-4 4 0 11 7 12 9 7 8-1 4-8-1-11-5-9-6-2-2 6 3 12 7 11 9 5 8-3 2-10-3-11-6-7-4 1-1 8 5 11 8 10 9 2 6-5 1-11-4-10-7-5-4 3 2 10 6 11 10 7 8 0 5-7-2-11-5-10-6-2-3 5 3 10 9 11 10 5 7-3 2-9-3-11-7-7-5 0-1 6 5 11 10 9 10 2 6-5 0-10-6-10-7-5-4 2 1 9 8 10 11 6 10-1 4-7-4-10-7-8-7-3-2 4 4 9 10 9 12 3 8-4 0-8-6-10-8-6-7 1 0 7 8 8 13 4 11-1 4-6-3-10-11-7-10 0-3 4 5 6 13 3 13-5 6-8-3-8-11-4-12 5-5 7 2 4 11-1 9-10 3-13-3-8-8-2-10 7-5 11 2 7 5 0 6-8 3-13-3-12-8-5-8 4-5 10-1 10 4 5 5-3 4-11-2-14-6-9-7-1-7 7-2 11 1 10 5 2 5-7 0-12-4-12-7-7-8 2-5 10 0 11 3 7 5 0 3-9-1-13-7-11-8-3-6 5-3 10 1 11 5 5 4-3 2-10-4-13-8-9-8-1-5 7-1 12 3 9 5 3 4-6-1-11-6-12-8-7-8 2-4 9 1 11 5 8 5 1 2-8-3-12-7-11-9-4-6 4-3 10 3 11 5 6 5-2 0-9-5-12-8-9-8-2-6 7 0 11 4 10 5 4 3-5-1-10-6-12-9-7-8 1-4 8 2 11 5 9 5 2 2-7-3-11-7-11-9-5-7 3-3 10 3 11 6 7 5-1 0-8-5-12-9-9-9-2-5 5-1 11 4 10 6 5 4-3-1-9-6-12-10-7-9 0-4 7 2 11 6 9 5 3 3-5-3-11-8-10-10-5-7 2-3 9 3 11 6 7 6 1 1-8-5-10-9-9-10-3-6 4-1 10 5 11 6 5 5-1-1-9-7-11-10-7-9-1-5 7 2 11 6 9 7 3 3-4-3-9-9-10-10-6-8 2-3 8 3 11 7 8 7 1 1-6-5-10-10-9-11-3-6 4-1 10 5 10 8 6 5-1-1-7-7-11-11-7-10 0-5 6 2 10 7 9 8 4 3-3-3-9-9-9-11-5-9 1-3 8 4 11 8 7 7 2 2-5-5-9-11-8-11-2-8 4 0 8 6 10 9 6 6-1-1-7-8-8-11-5-11 0-5 6 2 9 8 8 9 4 4-3-3-8-10-7-13-3-9 3-2 8 5 9 10 6 8 1 2-5-6-7-13-5-12 0-7 6 1 8 8 7 10 4 7-2-1-6-9-6-13-1-11 4-4 7 5 8 10 5 10 0 5-5-5-6-12-1-12 3-8 7 0 7 8 6 12 1 9-5 0-6-8-1-12 2-11 7-4 9 5 7 12 2 10-5 5-6-3-4-9 2-11 7-7 10 2 10 8 3 11-4 7-7 1-7-5-1-9 5-9 11-1 13 6 6 9-2 8-7 5-9-2-5-6 2-9 9-3 13 2 10 7 3 9-4 6-10 2-8-4-3-7 5-6 11 0 13 5 8 8 0 8-7 4-11-1-7-5-1-6 8-3 13 2 12 7 6 8-4 6-9 2-10-3-6-5 2-5 10-1 14 4 10 9 3 8-6 3-11 0-10-4-3-5 6-3 11 2 13 6 8 8 0 6-8 3-11-3-8-5-1-4 8 0 12 4 12 7 6 7-3 5-10 1-11-3-6-5 1-4 10 2 13 5 11 8 2 7-5 3-11-1-10-5-4-4 4-2 11 3 13 7 8 8 1 6-8 1-11-3-9-4-2-4 6 0 13 5 12 8 6 7-2 5-10 0-11-4-7-5 0-3 9 2 13 7 10 8 4 6-5 3-10-2-11-4-6-4 4-2 10 4 12 7 9 8 2 6-7 1-12-3-9-5-3-4 5 1 12 5 12 8 6 8-1 4-9 0-11-4-8-5-1-3 8 3 12 7 11 8 4 7-4 3-10-3-11-5-6-4 2-1 9 4 12 7 10 9 2 6-6 1-12-4-10-5-4-4 4 1 11 6 12 8 7 9 0 4-8-1-12-4-8-6-2-3 6 3 12 8 10 9 5 7-3 2-9-2-11-5-7-5 0-1 8 4 12 8 10 10 2 6-5 0-11-4-10-6-5-4 3 1 9 6 12 9 8 9 0 5-7-2-12-5-9-6-2-3 5 3 10 8 11 10 5 8-2 2-9-3-11-6-8-6 0-1 7 6 11 9 9 10 2 6-4 0-10-5-11-6-5-5 2 1 9 8 10 10 7 9 0 4-7-2-11-6-9-7-3-4 5 4 10 10 8 11 4 8-3 2-8-5-10-9-7-7 1 0 6 8 8 11 6 11 1 6-7-2-10-9-8-10-2-4 3 4 7 12 6 13-1 8-6 0-8-9-7-13 0-7 5 1 5 11 3 12-8 6-10-1-9-9-5-11 6-6 9 0 7 5 1 8-7 4-14-2-11-6-5-9 3-6 9-1 11 4 5 5-3 3-11 0-13-5-10-8-1-8 7-2 11 2 9 4 3 4-7 1-12-3-12-7-7-9 2-5 9 0 11 4 8 5-1 2-8-1-13-6-11-8-4-7 5-3 11 2 10 5 5 4-3 1-10-4-13-7-9-8-1-6 7-1 11 4 10 5 3 3-6-1-11-6-12-8-7-7 2-4 9 0 11 4 8 6 1 2-8-3-12-7-11-9-4-6 4-2 10 2 11 5 6 4-2 1-9-4-12-8-9-9-2-6 7 0 11 4 10 6 3 3-4-1-11-6-11-9-7-8 1-4 8 1 11 5 9 6 1 2-6-4-12-7-10-9-5-7 3-3 10 3 11 6 7 5-1 0-8 M3025 1265l-4 2 2 7 8 7 10 4 10-1 3-7-4-8-7-5-6-1-2 4 5 7 10 6 11 0 7-3 0-7-5-7-8-4-6 2 1 5 7 6 11 3 10-1 5-5-2-7-6-6-8-2-4 3 2 5 9 6 11 1 9-2 3-7-3-7-8-4-7 0-3 4 5 5 10 4 11 0 8-4 1-7-6-6-8-3-6 1-1 5 7 5 11 3 10-2 6-5-1-7-7-5-8-2-5 2 2 5 8 5 11 1 10-2 4-6-3-7-8-5-8 0-3 3 4 5 9 4 12 0 8-4 2-6-5-7-8-3-7 1-2 4 6 5 10 3 11-1 7-5 0-7-6-6-9-2-5 2 0 4 7 5 12 2 10-3 5-5-2-7-8-5-8-1-4 3 2 5 9 4 11 0 9-3 4-7-4-6-8-4-8 0-3 4 5 5 10 3 11-1 8-5 1-7-6-6-8-2-7 1-1 5 6 4 11 2 11-2 6-6-1-7-7-5-8-1-6 2 1 5 8 4 12 1 9-4 4-6-3-7-7-4-9 0-3 4 3 4 9 3 12 0 8-5 2-7-5-6-8-3-7 2-2 4 5 4 10 2 11-2 7-6 0-7-6-5-9-2-6 3 0 5 7 3 11 0 10-3 5-7-3-7-7-4-9 1-5 4 3 4 9 2 11-2 9-6 2-7-6-6-9-1-8 4 0 7 9 3 11-9-6-15-13-1-6 5 2 9 6 6 8 2 3-4-4-6-9-5-11-1-9 3-1 7 5 7 8 4 6-1 1-5-6-5-11-3-11 1-6 5 1 7 7 6 8 2 5-3-1-5-8-4-12-2-9 3-4 6 3 7 7 4 8 1 4-4-4-5-9-3-12 0-8 4-2 6 5 7 8 3 7-1 2-4-6-5-10-2-11 1-7 5 0 7 6 5 9 3 6-3-1-4-7-4-11-2-10 3-5 6 2 7 7 4 9 1 4-3-2-5-9-3-12 0-9 3-3 7 4 6 9 4 7-1 3-3-4-5-10-3-12 2-7 5-1 6 5 6 9 2 7-1 1-5-7-4-10-1-11 2-6 6 1 7 7 5 9 1 5-3-1-5-8-3-11 0-10 3-4 7 3 6 8 4 8 0 4-4-4-4-9-3-11 1-9 5-2 7 5 6 9 2 7-1 2-4-5-4-10-2-11 2-7 6 0 7 6 5 9 1 6-2 0-4-7-4-11 0-10 3-5 7 2 6 8 4 8 1 5-4-2-4-9-3-11 1-9 5-3 7 4 6 9 3 8-2 3-3-4-5-10-1-11 2-8 6-1 7 6 5 9 2 7-3 1-4-6-4-11 0-10 5-6 6 2 7 7 4 9 0 5-4-1-4-8-3-11 2-9 6-3 7 4 6 8 3 9-3 3-4-3-4-9 0-11 4-7 8 0 8 7 4 8-1 7-5 0-6-6-1-9 4-8 11 2 11 6 4 10-4 3-10-4-7-8 0-1 8 4 11 10 7 9 0 5-6-2-8-7-7-6-1-2 4 4 7 9 7 11 2 8-4 0-7-5-7-7-4-6 1 1 6 7 6 10 4 10-1 5-5-1-7-7-6-8-2-3 3 2 5 9 6 11 2 9-3 3-6-4-7-7-5-8 0-2 4 5 5 10 5 11 0 8-4 1-7-6-6-8-4-6 2 0 4 6 6 11 3 11-1 5-6-1-7-6-5-9-2-4 2 2 5 8 5 11 2 10-3 3-6-3-7-7-4-8-1-3 3 4 6 9 4 12 0 8-4 1-6-4-7-9-3-6 0-2 5 6 5 11 3 11-1 6-5 0-7-7-6-8-2-6 2 1 4 8 5 11 2 10-2 5-6-3-7-7-5-8-1-4 3 2 5 9 4 12 1 9-4 3-6-4-7-9-4-7 1-3 3 5 5 10 3 11-1 8-4 1-7-6-6-8-3-7 2 0 4 6 5 11 2 11-2 5-6-1-7-7-5-8-1-5 2 1 5 8 4 12 1 9-4 4-6-3-7-8-4-8 0-4 4 4 4 9 4 12-1 8-5 2-6-5-6-8-3-8 1-1 4 5 4 11 3 11-3 6-5 0-7-6-5-9-2-6 3 0 4 7 4 12 1 10-4 5-6-3-7-7-4-9 0-4 3 2 5 9 3 11-1 9-5 3-7-5-6-8-3-8 2-3 4 5 4 10 1 11-3 7-7 0-7-7-4-9 0-7 4 1 5 9 3 11-7 2-15-15-6-8 8 2 9 8 6 7 0 1-4-6-7-10-5-11 0-6 5 0 7 7 7 8 2 5-2-2-5-7-6-12-2-10 3-4 6 3 7 8 5 8 0 3-3-4-6-9-4-12 0-8 4-2 7 5 6 8 4 7-1 2-4-6-5-11-3-10 1-7 5 0 7 6 6 9 2 6-2-1-5-7-5-12-1-10 3-4 6 2 6 7 5 8 1 5-3-3-5-9-4-11 0-9 4-3 6 4 7 8 3 8 0 2-4-4-5-10-2-12 1-7 5-1 6 6 6 8 3 7-2 1-4-7-5-11-2-10 3-6 6 1 7 7 4 9 2 5-3-2-5-8-3-11-1-10 4-4 6 4 7 8 4 8-1 3-3-3-5-10-3-11 1-8 5-2 7 5 6 8 3 8-2 1-4-5-4-10-2-11 2-7 6 0 7 6 5 9 1 6-2 0-4-7-4-11-1-10 4-5 6 2 7 8 4 8 0 5-3-2-5-9-3-11 1-10 5-2 7 4 6 8 3 8-1 3-4-4-5-10-1-11 2-8 5-1 7 6 6 9 1 7-2 1-4-6-4-11 0-11 3-6 6 2 7 7 5 9 0 5-4-1-4-8-3-11 1-9 5-4 7 3 7 9 2 8-1 4-4-3-4-10-1-11 2-8 7-1 7 6 5 9 1 7-2 2-5-6-3-10 0-11 6-5 7 1 7 7 3 9-1 6-5-1-5-7 0-10 3-9 9-1 9 6 5 8-1 8-7-1-7-5-2-8 7-1 12 6 11 10 1 5-6 0-9-7-7-6-1-1 6 5 8 10 7 10 1 6-4-1-8-5-7-8-3-4 3 2 6 8 6 11 4 9-2 4-6-4-8-7-5-7-1-2 4 5 6 9 6 11 1 8-4 1-7-5-7-8-4-6 1 0 5 6 6 11 4 11-1 5-5-1-7-7-6-8-2-4 2 2 5 8 5 11 3 10-3 3-6-3-7-7-5-8 0-3 3 4 5 10 5 11 1 8-4 2-7-5-7-8-3-7 1-1 4 6 5 10 3 11 0 7-5-1-7-6-6-8-2-6 2 1 4 8 5 11 2 10-2 5-6-3-7-7-5-8-1-4 3 3 5 9 4 11 1 9-3 3-7-4-6-9-4-7 0-2 4 5 5 10 3 11-1 7-4 1-7-6-6-8-3-6 2-1 4 7 5 11 2 10-2 6-6-1-6-7-6-9-1-5 3 2 4 8 5 12 1 9-4 4-6-3-7-8-4-8 0-3 4 3 4 10 4 11-1 8-4 2-7-5-6-8-3-7 1-2 4 6 5 10 2 11-2 7-5 0-7-7-5-8-2-6 2 0 5 8 4 11 1 10-3 5-6-3-7-7-5-8 0-5 3 3 5 8 3 12 0 9-5 3-6-5-6-8-4-8 1-2 4 4 5 10 2 11-2 8-6 0-6-5-6-9-2-7 3-1 4 7 4 11 0 10-3 6-7-2-6-8-5-8 0-5 4 1 4 9 3 11-2 9-6 3-7-5-6-9-2-8 4-2 7 9 4 11-8-4-15-13-3-7 4 1 9 6 7 7 3 5-4-3-6-9-5-11-2-9 3-3 7 5 7 8 4 7-1 1-4-5-5-11-4-11 1-7 4 0 7 7 6 8 3 5-2 0-5-8-5-11-2-10 2-5 6 3 7 7 5 8 1 4-3-3-5-9-4-11-1-9 4-3 6 4 7 9 4 7-1 2-4-4-5-10-3-12 1-7 5-1 7 6 6 8 2 7-1 0-5-6-4-11-2-11 2-6 6 2 7 7 5 8 1 5-3-1-4-8-4-12-1-9 3-4 7 3 6 8 4 8 0 3-3-3-5-10-3-11 1-8 4-2 7 5 6 8 3 8-1 1-4-5-5-11-2-11 2-7 5 1 7 6 6 9 1 6-2-1-5-7-3-11-1-10 3-5 6 2 7 8 4 8 1 5-4-3-4-8-3-12 0-9 4-3 7 4 6 9 3 7 0 3-4-4-5-10-2-11 2-8 5-1 7 6 6 9 2 7-2 0-5-6-3-10-2-11 3-6 7 1 7 7 4 9 1 6-3-2-5-7-3-12 0-9 5-4 6 3 7 8 3 8-1 4-3-3-4-9-3-12 2-8 6-2 6 5 6 9 2 8-2 2-4-6-4-10 0-11 3-6 6 0 7 7 5 9 0 6-3 0-4-7-3-11 1-10 5-5 6 3 7 8 3 9-1 4-4-2-4-8-1-11 2-9 7-2 8 6 5 8 1 8-3 2-5-5-4-10 2-9 6-6 8 2 8 9 3 8-4 5-6-3-6-8 1-7 9 0 13 7 8 9-1 4-9-2-9-6-4-6 3 2 8 7 9 10 4 9-2 3-7-4-7-6-6-6 0-2 6 6 7 10 5 11 0 6-4-1-7-5-7-8-3-5 2 2 6 8 6 11 3 9-2 4-5-3-8-7-5-7-1-3 3 4 6 9 5 11 1 8-3 2-7-4-7-8-4-7 1-1 4 6 6 10 4 11-1 7-4-1-7-6-7-8-2-5 2 1 5 7 5 11 2 10-2 5-5-2-7-8-6-8-1-3 3 3 6 9 4 11 1 9-3 2-7-4-6-8-4-7 0-2 4 5 5 10 3 11 0 8-5 0-6-5-6-9-3-6 1 0 5 7 5 11 2 10-2 6-5-2-7-7-5-8-2-5 3 2 4 8 5 12 1 9-3 4-6-3-7-8-4-8 0-3 3 4 5 9 3 12 0 8-4 1-6-4-7-9-3-7 1-1 4 6 5 10 3 11-2 7-5-1-7-6-5-8-3-6 3 0 4 8 5 11 1 10-3 5-6-2-7-8-4-8-1-4 3 2 5 9 4 11 0 9-4 3-7-4-6-8-4-8 1-2 4 4 4 10 3 11-1 8-5 1-7-6-6-9-2-6 2-1 4 7 4 10 2 11-3 6-6-1-7-8-4-8-1-5 2 1 5 8 3 11 1 10-4 4-7-3-6-9-4-8 0-3 4 3 5 10 2 11-1 8-6 2-7-5-5-9-2-7 1-2 5 6 4 10 0 11-3 6-6-1-7-7-5-9 0-6 4 1 4 8 3 12-3 8-7 1-11-10-5-10 7 3 12 9 1 3-6-6-8-10-5-10-1-7 5 2 8 6 6 8 2 4-2-2-6-9-5-11-2-9 3-3 6 3 7 8 5 8 0 2-4-4-5-10-4-12 0-7 4-1 7 5 6 9 3 6-1 0-5-6-5-11-2-11 1-5 6 1 7 7 5 8 2 5-3-2-4-8-5-11-1-10 3-4 6 4 7 7 4 8 1 4-4-4-5-10-3-11 0-8 4-2 7 5 6 8 3 7-1 2-4-6-5-10-2-11 2-7 5 0 7 7 5 8 2 6-2 0-5-8-4-11-1-10 3-5 6 2 7 8 4 8 1 4-3-2-5-9-3-11 0-9 4-3 6 4 7 8 3 8 0 3-4-5-5-10-2-11 1-8 5-1 7 6 5 9 3 6-2 1-4-6-5-11-1-10 3-6 5 1 7 7 5 8 1 6-3-1-4-8-4-12 0-9 4-4 6 3 7 8 4 8 0 4-4-4-5-9-2-11 1-9 5-2 7 5 6 9 2 7-1 2-4-5-4-10-2-11 3-7 5 0 7 6 5 9 1 7-2 0-4-7-4-11 0-11 4-5 6 3 7 7 4 9 0 5-4-2-4-9-3-11 1-9 5-3 7 4 7 8 2 8-1 3-4-4-4-9-2-11 3-8 6-1 7 6 5 9 1 7-2 1-5-6-3-10 0-11 5-5 7 1 7 8 3 9 0 5-4-1-4-8-3-11 3-9 7-3 7 5 6 8 1 8-3 3-5-4-4-9 2-10 5-5 10 2 8 7 2 9-3 4-8-2-6-8 2-6 10 1 12 9 8 10-3 2-7-3-10-7-4-4 2 1 7 7 9 11 5 9-2 3-6-3-7-7-6-6-1-2 5 5 6 9 6 11 1 7-3 1-8-6-7-8-3-5 1 1 5 7 6 10 4 10-1 6-5-2-8-7-5-8-2-3 3 2 5 9 6 11 2 9-3 3-6-4-7-8-5-7 0-2 4 5 5 10 5 11 0 8-4 0-7-5-7-8-3-6 1 0 5 6 5 11 3 10-1 6-5-1-7-7-6-8-2-5 3 2 5 8 5 12 1 9-2 4-6-3-7-8-5-7 0-4 3 4 5 10 4 11 1 8-4 2-7-5-6-8-4-7 1-1 4 6 5 10 3 11-1 7-5-1-7-6-6-8-2-6 2 1 5 7 4 11 2 10-2 5-6-2-7-7-5-8-1-5 3 3 5 9 4 11 1 9-4 3-6-4-7-8-4-8 1-2 4 5 5 10 3 11-1 7-5 1-7-5-6-9-2-6 1-1 5 7 4 10 2 11-2 6-6-1-6-7-6-9-1-5 3 2 4 8 4 11 1 10-3 4-7-3-6-8-4-8 0-4 3 3 5 10 3 11-1 9-4 2-7-5-6-9-3-7 1-2 4 6 5 10 2 11-2 7-5 0-7-7-6-8-1-6 2 0 4 7 4 11 1 10-3 5-6-2-7-8-4-8-1-5 4 3 4 8 3 12-1 9-4 3-7-5-6-8-3-8 1-3 4 5 4 10 2 11-3 7-6 1-7-7-5-9-1-6 3-1 5 7 3 11-1 10-6 4-9-4-6-11-2-7 9 6 10 10-4-1-10-9-8-12-2-7 4 0 7 5 7 9 4 5-2-1-5-8-6-11-3-10 2-4 6 2 7 7 5 8 1 4-3-4-6-9-4-11-1-9 4-2 6 5 7 8 4 7-1 1-4-5-5-10-3-11 0-7 5 0 7 6 6 8 2 6-1 0-5-8-5-11-2-10 3-5 5 2 7 7 5 9 1 4-3-2-5-9-3-12-1-9 4-3 6 4 7 8 3 8 0 2-4-4-5-10-2-11 0-8 5-1 7 6 6 8 2 7-1 1-4-7-5-11-2-10 2-6 6 1 7 7 5 8 1 6-2-2-5-8-4-11-1-10 4-4 6 3 7 8 4 8 0 4-3-3-5-10-3-11 0-8 5-3 6 5 7 9 3 7-2 2-4-5-4-11-2-11 2-7 5 0 7 6 5 9 2 6-2 0-4-7-4-11-1-10 3-5 6 2 7 7 4 9 1 5-3-2-5-9-3-11 0-10 5-3 6 4 7 8 3 8-1 3-4-4-4-9-2-11 1-8 6-2 6 6 6 9 2 7-2 1-4-6-4-11-1-10 3-6 6 0 7 7 5 9 0 6-3-1-4-7-3-12 0-9 5-5 6 3 7 8 3 9 0 4-4-3-5-9-2-11 2-9 6-2 7 5 5 9 3 7-2 3-5-5-4-10 0-11 4-7 6 0 7 7 4 9 1 6-3 0-5-6-3-11 2-10 5-4 7 2 6 8 4 9-2 5-5-3-4-8 0-11 3-8 8-1 8 6 5 8 0 8-5 1-6-5-2-9 3-8 10-1 11 5 6 10-2 5-10-2-8-7-1-4 7 3 10 9 9 10 1 5-5 0-8-6-7-7-3-3 4 3 7 8 7 11 3 9-3 2-7-5-7-7-5-6 0-1 5 6 7 10 5 11 0 6-5 0-7-6-6-8-3-5 1 1 6 8 6 11 3 10-2 4-6-3-7-7-5-7-1-3 3 3 6 9 5 12 1 8-4 2-6-4-7-8-4-7 0-1 4 5 6 11 4 10 0 7-5 0-7-6-6-8-3-6 2 1 5 7 5 11 2 11-1 4-6-2-7-7-5-8-2-4 3 3 5 8 5 12 1 9-3 3-6-4-7-8-4-7 0-3 3 5 6 10 3 11 0 8-4 1-7-6-6-8-3-7 1 0 4 6 5 11 3 11-2 6-5-1-7-7-5-8-2-5 2 1 5 8 4 11 2 10-3 4-6-3-7-8-4-8-1-3 3 3 5 10 4 11 0 9-4 2-7-5-6-8-3-7 0-2 5 5 4 10 3 12-1 6-5 1-7-7-6-8-2-6 2 0 5 7 4 11 1 11-2 5-6-2-7-7-5-9-1-4 3 2 5 8 4 12 0 9-4 3-6-4-7-8-3-8 0-2 4 4 4 10 3 11-1 8-5 1-7-6-5-8-3-7 2-1 4 6 4 11 2 11-2 6-6-1-7-7-5-9-1-5 2 1 5 7 4 12 0 10-4 4-7-3-6-8-4-9 0-3 4 3 4 9 3 11-1 9-5 2-7-5-6-9-2-7 1-2 5 5 4 10 1 11-4 7-6-1-7-7-5-9 0-6 4 0 4 8 3 12-3 8-6 2-11-8-6-11 5 1 13 9 3 4-6-5-9-10-6-10-1-7 5 1 8 6 6 8 3 4-3-1-5-9-6-11-2-9 2-4 6 3 7 8 5 7 1 3-4-4-5-10-4-11-1-8 4-1 7 5 7 8 3 7-1 1-5-6-5-11-2-11 1-6 5 1 7 6 6 9 2 5-3-1-4-8-5-11-1-10 2-5 6 3 7 8 5 8 0 3-3-3-5-9-4-11 0-9 4-2 7 4 6 8 4 8-1 2-4-5-5-11-2-11 1-7 5 0 7 6 5 8 3 7-2 0-5-7-4-11-2-11 3-5 6 2 7 7 4 8 1 5-2-2-5-8-4-12 0-9 3-3 7 3 6 8 4 8 0 3-4-4-4-9-3-12 1-8 5-1 6 5 6 9 3 7-2 1-4-6-4-10-2-11 2-7 6 1 7 7 5 8 1 6-2-1-5-7-4-11 0-10 4-5 6 3 6 8 5 8 0 4-4-3-4-9-3-11 1-9 4-2 7 4 6 9 3 7-1 3-4-5-4-10-2-11 2-7 5-1 7 6 6 9 1 7-2 0-4-7-4-10-1-11 4-5 6 1 7 7 4 9 0 5-3-1-4-8-3-12 1-9 4-3 7 3 6 8 3 9-1 3-3-3-5-10-2-11 3-8 5-1 7 5 6 9 2 7-3 2-4-6-4-10 0-11 4-6 7 1 6 7 4 9 1 6-4-1-4-8-3-10 2-10 5-4 7 4 7 8 2 9-2 4-4-4-4-8-1-11 4-8 7-1 8 7 5 9 0 7-4 1-5-6-3-10 3-8 8-3 10 6 8 9-1 7-8-1-9-7-3-5 7 1 12 8 9 8 3 7-5 0-10-5-7-6-2-4 4 3 8 9 7 10 3 8-3 2-7-4-8-8-4-6 0 0 5 6 7 11 5 10 0 6-5-1-8-6-6-8-2-4 2 2 6 8 6 11 2 9-2 4-6-3-7-8-5-7-1-3 4 5 5 9 5 11 1 8-4 2-6-5-7-8-4-7 1 0 4 6 6 10 4 11-1 6-5 0-7-7-6-8-2-5 2 1 5 8 5 11 2 10-2 4-6-2-7-8-5-8-1-3 3 3 6 9 4 12 1 8-4 3-6-5-7-8-4-7 1-2 4 6 5 10 3 11 0 7-5 0-7-6-6-8-3-6 2 0 5 7 5 11 2 11-2 5-6-2-7-7-5-8-1-5 2 3 5 8 5 11 1 10-3 3-7-3-7-8-4-8 0-3 4 4 5 10 3 11 0 8-4 2-7-6-6-8-3-7 1-1 4 6 5 11 2 11-1 6-6-1-7-6-5-9-2-5 2 1 5 7 4 12 2 10-3 4-7-3-6-7-5-8 0-4 3 3 5 9 3 11 0 9-4 2-7-4-6-8-3-8 1-2 3 5 5 10 3 11-2 7-5 1-7-6-5-9-2-6 1 0 5 6 4 11 1 11-2 5-6-1-7-7-5-9-1-5 3 2 5 8 3 11 0 10-4 3-6-3-7-8-3-9 0-3 4 4 5 10 2 11-2 8-5 1-7-5-5-9-2-7 2-1 4 5 4 11 1 11-4 6-6-1-7-7-4-9-1-6 3 1 5 8 3 11-2 10-5 3-7-4-7-9-2-8 3-3 6 6 5 12-4 3-14-11-10-11 5-1 8 5 8 8 3 4-2-1-6 M2315 830l-5-4-3 5 0 11 6 12 9 7 9-2 3-9-2-11-6-8-6 0-1 8 5 11 10 9 10 2 5-5 0-11-6-10-8-4-3 2 2 9 8 10 12 5 9-1 3-8-4-10-8-8-7-2-1 5 5 9 10 8 12 2 7-4 0-9-6-9-8-6-6 1 0 7 8 8 12 6 11-1 5-6-3-9-8-8-9-4-4 3 3 8 10 7 12 3 10-2 2-8-5-9-9-7-8-1-2 5 6 7 11 6 12 1 8-5 0-8-7-8-10-5-7 1 0 5 8 7 13 4 11-1 5-6-2-9-9-7-10-3-5 3 3 6 10 6 13 2 10-3 3-7-5-9-10-5-9-1-3 4 5 6 11 4 13 1 8-5 1-8-7-8-11-4-8 1-1 5 8 6 13 3 12-2 6-6-3-9-9-6-10-2-6 2 1 6 10 4 13 1 11-3 3-8-5-8-10-4-10-1-4 4 5 5 11 4 13-1 9-6 0-8-7-7-11-3-9 2-1 5 7 5 12 1 12-4 7-7-3-8-9-5-12 0-7 4 2 4 9 3 13-2 11-7 2-8-6-6-11-2-11 3-3 7 5 3 12-2 11-8 4-11-5-9-12 0-9 9 0 12 6 4 8-7-1-13-8-11-12-3-6 5 0 11 7 10 8 4 4-3-3-9-10-8-13-4-8 3-2 8 5 10 10 6 7 0 1-5-7-7-11-6-13 0-6 6 2 8 8 8 9 4 6-2-1-6-10-7-13-3-10 3-4 7 4 8 10 7 9 1 4-4-4-6-11-5-13 0-9 4-1 8 6 8 11 4 9-1 1-4-7-6-12-3-13 2-6 5 1 9 9 7 11 2 6-2-1-6-9-4-13-2-11 3-4 8 4 8 10 5 10 0 5-3-4-5-10-4-14 1-9 5-2 8 7 7 11 3 9-1 3-4-7-5-12-2-12 2-8 7 2 8 8 6 11 1 8-2 0-5-8-4-13 0-12 4-5 7 4 8 11 4 10 0 6-4-3-4-10-3-13 2-10 6-2 8 7 7 11 2 10-2 3-5-5-4-12-1-13 4-7 8 1 8 8 5 12 0 8-3 1-5-8-3-12 1-12 6-4 9 4 7 10 3 11-2 6-5-2-4-10-2-12 4-9 8-2 9 6 5 12 1 10-4 3-6-5-4-10 2-12 7-6 10 2 8 9 3 12-3 7-6 0-6-7-1-11 5-8 11-2 11 6 5 10-1 9-6 4-9-4-5-7 4-8 10-4 12 4 10 9 1 9-7 5-9-2-9-7 0-5 8-2 13 4 12 9 5 8-6 3-10-1-11-5-4-6 4 0 12 6 12 8 7 9-1 4-10-2-11-6-8-5 0-1 7 4 12 10 9 10 2 5-5 0-10-5-10-7-5-5 3 2 9 9 9 10 6 9-1 4-7-3-11-8-8-7-2-2 5 5 9 10 8 11 3 8-4 1-9-6-10-9-5-6 0 0 6 8 9 12 6 11 0 5-6-2-9-8-9-9-3-4 2 3 7 9 8 13 4 9-3 3-7-5-9-9-7-8-1-2 4 5 7 11 6 13 2 8-5 0-8-7-9-10-4-7 0 0 5 8 8 12 4 12-1 5-6-2-8-9-8-9-3-6 2 3 6 10 7 13 2 10-3 3-7-5-8-10-6-9-1-3 3 5 7 11 5 13 0 9-5 0-8-7-7-10-5-8 1-1 5 7 6 13 3 12-2 6-6-2-8-9-6-10-3-7 2 2 6 9 5 14 1 10-3 4-7-5-8-10-5-10-1-4 4 4 5 12 4 13-1 8-5 1-8-7-7-11-3-9 1-1 5 7 4 12 2 12-3 7-6-2-9-9-5-12-1-7 3 1 5 10 3 13 0 11-6 3-8-5-7-11-3-10 2-5 5 4 4 11 1 13-5 8-9-2-9-8-4-12 2-8 7 0 6 8 1 12-7 5-13-5-12-11-2-8 9 0 13 6 8 7-2 0-10-7-11-11-7-10 1-3 8 3 10 8 8 8 1 2-5-6-8-11-7-12-1-7 5 1 9 7 8 9 5 6-1-1-7-8-7-13-4-11 2-4 6 3 9 10 7 9 2 4-4-4-6-11-5-12-2-10 4-1 8 6 8 10 5 9 0 1-4-6-6-12-4-13 0-7 6 1 9 9 7 10 3 7-2-1-6-8-5-13-2-12 3-4 7 4 8 9 6 11 1 4-3-3-6-10-4-14 0-9 4-2 8 6 8 11 4 9-1 3-4-6-5-12-3-13 2-8 6 1 8 8 6 11 2 8-2 0-4-8-5-12-1-12 4-6 7 4 8 10 5 11 0 6-3-3-5-10-3-13 0-10 6-3 8 6 7 11 3 10-1 4-5-5-4-12-2-12 3-9 7 1 8 8 6 11 1 9-3 1-5-7-3-13 0-12 5-5 8 3 7 10 4 11 0 7-4-2-5-9-2-13 2-10 7-3 9 6 6 11 2 10-3 5-5-4-4-11 0-13 5-7 9 0 8 8 4 12 0 9-5 1-6-7-3-11 4-11 8-4 9 3 7 11 2 11-4 6-7-2-4-8 0-11 6-8 11 1 11 7 3 10-2 9-7 2-8-5-3-9 5-7 11-3 11 5 9 10-1 8-8 4-9-1-6-8 1-6 10 0 13 4 10 8 3 8-6 3-12-2-10-5-2-4 6 0 13 6 12 9 5 7-3 3-10-3-11-6-7-5 2 0 8 6 12 10 9 10 0 4-7-1-11-6-9-7-3-3 4 3 10 10 10 10 4 8-2 2-9-4-10-8-7-7 0 0 6 6 9 11 7 11 2 6-5-1-10-7-9-9-5-4 3 2 7 9 8 12 5 10-1 3-7-3-10-9-8-8-2-3 4 5 8 11 7 12 3 8-4 1-9-6-9-10-5-7 0 0 5 7 8 12 5 11 0 7-5-2-9-8-8-10-4-5 2 2 6 9 7 13 3 10-1 4-8-4-9-9-6-9-2-4 4 5 6 10 6 13 1 9-3 1-8-6-9-10-5-8 0-2 5 7 6 12 5 13-1 6-5-1-9-8-7-11-4-6 2 1 6 9 5 13 3 11-3 4-6-3-9-10-6-10-1-5 3 4 6 11 4 13 1 9-4 2-8-6-8-11-4-9 0-2 5 6 5 12 3 13-1 7-7-1-8-8-6-11-3-8 3 1 4 8 5 13 1 12-4 5-7-4-8-10-4-11-1-5 4 3 5 10 3 13-1 10-6 2-8-7-7-11-2-10 2-3 5 6 4 12 0 12-4 8-8-2-8-10-5-11 1-8 4 1 6 9 2 12-4 9-8 2-11-8-6-11 2-9 8 0 9 7 3 9-9 1-14-8-12-10-1-6 8 1 12 7 9 6 2 2-7-5-11-11-7-11-2-7 5 1 10 8 9 9 4 4-2-2-7-10-8-12-4-10 2-3 8 5 9 9 7 9 1 2-5-5-7-12-5-12-1-8 4 0 9 7 8 10 4 8 0-1-6-7-6-13-4-12 2-5 6 3 9 9 6 10 3 5-3-3-6-10-5-13-2-10 4-3 8 6 8 10 5 9 0 3-4-5-5-11-4-14 0-8 6 0 7 8 7 10 4 9-1 0-5-7-5-13-3-12 3-6 7 3 7 9 6 11 2 6-3-2-5-9-4-14-1-10 5-4 7 5 8 11 4 10 0 4-4-4-5-11-3-14 2-8 6-1 8 7 6 11 3 9-2 2-5-7-4-12-1-12 3-7 7 2 8 9 5 11 1 8-3-1-5-9-3-13 0-11 5-4 9 5 7 10 3 11-1 5-4-3-5-11-1-13 2-9 7-1 8 7 6 11 2 10-3 3-5-6-3-12 0-12 5-7 8 2 7 9 5 11-1 8-4 0-5-8-3-12 3-11 8-3 8 4 7 11 2 11-3 5-6-3-5-10 1-12 5-8 9 0 9 7 5 12-1 9-6 2-7-5-2-10 4-11 8-4 11 4 8 10 1 10-5 6-8-1-5-8 0-10 8-5 12 1 10 7 4 10-3 7-10 1-9-4-2-7 5-5 13 2 13 6 7 8-2 7-9 0-12-4-7-5 2-2 10 2 13 M2021 1059l-1-9-7-8-9-5-6 2 2 6 9 8 13 4 10-2 4-7-5-9-9-6-9-2-3 3 5 8 11 5 13 1 8-5 1-8-7-8-11-4-8 1 0 5 8 6 12 3 12-2 6-7-3-8-9-6-10-2-7 3 3 6 10 4 13 0 10-4 3-8-5-7-11-5-10 1-4 4 6 5 11 2 13-2 8-6 0-7-7-7-12-2-8 2-1 5 7 4 13 1 12-4 5-8-2-7-10-5-11-1-7 4 2 6 9 2 13-2 11-6 3-7-6-7-11-3-10 1-4 5 4 5 11 1 12-4 9-7 0-8-8-6-11-1-9 3-2 6 7 3 12-1 11-6 6-8-2-7-10-4-11 1-8 4 1 5 9 2 12-3 10-7 4-8-5-7-11-2-11 3-5 5 3 5 11 0 12-6 8-8 0-8-7-5-11 0-10 4-2 6 5 3 12-2 11-7 5-9-2-8-9-3-11 2-8 6 0 6 8 1 11-5 10-9 2-9-4-6-11-1-10 5-5 7 2 4 9-2 11-7 7-10 0-9-8-4-11 2-8 7-3 7 5 2 10-4 9-10 3-12-3-7-9-1-10 6-6 8 1 7 7-1 8-8 6-12-2-11-8-5-9 5-6 9-1 10 6 3 6-6 2-12-4-14-10-5-7 3-3 11 4 12 7 5 4-3-1-11-10-10-12-4-8 3-2 10 7 10 10 5 6-1 0-7-9-7-13-3-11 3-4 7 4 8 10 6 11 0 4-3-5-5-11-4-13 1-9 6 0 8 7 7 11 2 9-2 1-4-7-5-13-1-12 5-5 7 2 8 10 4 11 0 7-3-2-6-9-2-13 2-10 6-3 8 5 7 11 2 11-2 4-5-4-4-11 0-12 4-9 7 0 8 8 6 11 0 10-4 1-5-6-3-12 2-11 6-6 8 3 8 9 3 12-1 7-6-1-5-9-1-12 4-9 8-3 8 5 6 10 2 11-3 5-6-3-4-10 0-12 6-8 9 0 8 7 5 12-1 9-4 2-6-5-3-11 2-11 8-5 9 2 8 9 3 11-3 8-6 0-5-8-1-11 4-9 10-3 9 5 6 10 1 11-5 5-6-2-5-9 1-11 7-7 10-1 9 7 5 11-2 9-6 3-7-4-3-10 4-10 9-5 10 3 8 8 2 11-4 7-7 1-6-7-1-10 6-8 11-2 10 5 6 10 0 10-6 5-8-2-5-8 1-9 9-6 11 1 10 7 4 10-3 8-8 2-8-4-3-8 4-8 11-2 12 3 8 8 1 10-6 6-9-1-8-6 0-7 8-5 12 1 12 5 5 10-2 7-9 3-10-3-5-6 3-5 10-2 14 5 10 9 1 7-6 4-11-1-9-5-2-6 7-1 13 4 12 7 6 8-3 5-10-1-11-5-7-5 2-1 9 4 13 8 9 10 1 5-7-1-11-5-10-5-3-4 6 3 11 9 10 11 4 7-3 1-9-4-11-9-6-6 1 1 7 8 9 11 6 11 0 5-7-3-10-9-8-8-2-3 3 4 7 10 8 13 2 9-4 1-8-7-9-9-5-8 0-1 5 7 8 13 4 12-2 6-6-2-8-9-7-10-3-6 3 2 6 10 5 13 1 10-3 3-8-5-7-10-6-9 0-4 4 5 6 11 3 13-1 9-6 0-8-8-6-11-3-8 1-1 5 7 5 13 1 12-3 6-7-3-8-9-5-11-1-7 3 2 5 9 4 13-1 11-6 3-7-5-7-11-4-10 1-5 4 5 5 11 2 13-3 8-7 0-8-7-6-11-1-9 2-2 5 6 4 13 0 12-5 6-8-3-7-9-5-12 1-7 4 1 4 9 3 12-2 11-7 3-8-5-7-11-2-10 2-5 5 3 4 10 1 13-4 8-9 1-8-7-5-12 0-9 4-3 5 6 3 11-1 12-7 6-9-2-7-9-3-11 1-8 5 0 5 7 2 12-4 11-8 3-9-5-6-10-2-11 4-5 6 2 4 9 0 12-6 8-10 1-8-7-5-11 1-10 5-3 6 5 3 11-2 10-9 5-10-2-7-9-3-11 4-7 6 0 7 7 0 10-6 8-10 2-10-5-6-11 0-9 7-5 8 3 4 8-2 9-9 5-13-3-9-8-2-9 4-7 10 1 9 5 1 6-7 5-13-3-13-8-5-8 3-5 11 2 12 6 4 4-4 0-12-8-12-10-5-8 3-2 11 6 11 8 5 6-2-1-8-10-8-12-3-10 2-4 8 6 10 10 5 9 0 2-4-6-7-12-4-13 3-7 6 2 8 8 6 11 2 8-3-2-6-9-3-13 0-11 4-4 8 5 7 11 5 11-2 4-4-4-4-11-2-13 2-9 7 0 8 7 6 12 2 9-3 2-5-7-3-12 0-12 4-6 8 2 8 10 4 11 0 8-4-1-5-9-2-12 2-11 7-3 8 5 7 11 2 10-2 5-5-3-5-10 0-12 4-9 8-1 9 8 5 11 0 10-4 2-5-5-3-11 1-12 7-6 8 2 8 9 4 11-2 8-5 0-5-7-2-12 4-10 8-4 9 5 6 10 2 11-4 6-6-2-4-10 0-11 6-8 9-1 9 6 5 12-1 9-5 3-6-4-3-10 2-11 8-6 10 2 8 8 3 11-3 8-6 1-6-6-1-11 4-9 10-3 10 4 6 10 1 10-5 6-7-2-5-8 1-10 7-7 11-1 9 7 5 10-2 9-6 4-8-4-3-9 3-9 9-5 12 2 8 8 2 10-4 8-8 0-7-5-1-9 6-7 11-2 11 4 7 9 0 10-7 5-9-2-6-7 2-8 9-5 12 1 10 7 4 10-3 7-10 2-8-4-3-7 4-6 11-2 13 5 9 9 0 8-7 4-10-1-8-5 0-6 8-3 13 3 12 7 5 8-4 5-9 2-11-5-6-6 4-2 11 2 13 6 9 8 1 7-8 1-12-4-9-5-2-3 7 2 12 7 12 10 4 7-4 2-10-4-11-6-6-6 2 1 10 7 10 11 7 9 0 4-7-3-12-8-8-7-2-2 5 5 8 10 9 12 3 8-5 0-10-7-8-9-6-6 1 1 6 8 9 13 4 11-1 4-7-3-9-9-7-9-2-4 3 3 7 12 6 12 1 9-4 2-8-7-8-10-5-8 0-2 5 7 7 12 3 13-2 6-6-2-8-8-7-11-2-7 2 2 6 9 4 13 1 11-4 4-7-5-8-10-5-10 0-5 4 4 6 11 2 13-1 9-6 1-8-7-6-11-3-9 1-2 5 7 5 12 1 12-4 7-7-2-7-9-6-11-1-8 3 1 5 9 4 13-1 11-6 4-7-5-7-10-4-11 1-6 4 4 5 10 2 13-3 9-7 1-8-7-6-11-2-9 3-3 5 5 4 12 0 12-5 7-8-2-8-8-4-12 0-8 4 0 5 8 2 12-2 11-6 4-9-4-7-10-2-11 2-6 5 2 4 9 1 13-4 9-8 2-9-7-5-11-1-10 4-4 6 5 3 11-1 11-6 7-9-1-8-9-4-11 1-8 6-1 5 6 2 12-4 10-7 5-10-5-7-10-2-10 4-7 6 2 5 8 0 11-6 9-9 1-10-7-5-10 1-10 6-4 6 4 3 10-2 10-9 6-11-2-8-9-2-10 4-8 7 0 7 6 1 9-6 8-11 2-11-5-6-11 0-9 8-4 9 3 5 7-3 8-10 2-13-3-10-8-2-9 7-4 12 2 8 4 1 7-8-2-14-6-11-10-3-8 7 1 12 5 9 8 3 4-6-5-9-10-8-13-2-8 6 1 9 8 8 10 4 6-2-2-7-10-6-13-2-10 3-3 8 5 8 11 5 9 0 3-4-5-5-12-4-13 2-8 7 1 8 9 6 11 2 7-3 1-4-9-5-13 0-11 5-5 8 4 7 10 4 11 0 6-4-3-5-10-3-13 3-9 7-2 8 6 6 11 2 10-2 4-6-6-4-11 0-13 5-7 8 2 8 8 4 12 0 8-3 1-6-8-3-12 3-11 6-5 9 4 7 10 2 11-1 7-5-2-5-10-1-12 4-9 8-2 9 6 5 11 1 10-4 4-5-4-4-11 1-12 7-7 8 1 8 9 4 11-1 9-5 1-5-6-2-12 2-11 8-4 10 4 7 9 2 11-3 7-6-1-5-8 0-12 4-9 10-2 9 6 6 11-1 10-4 4-7-3-3-10 1-11 7-7 10 1 9 8 4 11-3 9-6 2-6-6-2-10 4-10 9-4 10 3 7 10 2 10-5 7-7-1-5-7 0-10 6-8 10-2 10 6 6 10-1 10-6 4-8-3-4-8 3-9 8-6 11 1 9 8 4 10-4 8-8 2-7-5-2-8 5-8 11-3 11 3 8 10 1 9-7 6-9-1-6-6 1-8 7-6 12 1 12 7 5 9-3 7-9 3-9-3-4-7 3-6 11-2 13 4 9 8 2 8-7 5-10 0-8-6-2-6 7-3 13 3 12 6 6 8-2 6-9 1-12-4-6-5 2-3 10 2 13 6 10 10 2 6-7 1-12-3-9-5-3-4 5 1 12 8 12 9 5 7-3 3-9-3-12-7-6-6 1 0 8 7 10 10 8 10 1 5-7-2-11-7-9-8-3-3 4 4 8 10 9 12 3 9-4 1-8-6-9-9-6-7 0-1 5 8 9 12 5 12-1 5-6-2-9-9-7-9-3-6 2 3 7 10 6 13 2 10-4 3-7-6-8-10-6-9 0-3 4 6 7 12 3 13-1 7-5 0-8-8-7-11-4-7 2-1 6 9 5 13 1 11-3 5-7-3-8-10-5-10-2-6 4 3 5 10 4 13-1 10-5 2-8-6-7-10-3-10 0-4 5 6 5 11 2 13-3 8-7-1-8-8-6-11-1-8 2-1 5 7 4 13 0 12-5 5-8-3-7-10-4-11 0-7 4 2 5 9 2 13-2 11-6 2-9-6-6-10-2-11 2-4 5 4 4 11 0 13-3 8-8 0-9-8-5-12 0-8 4-2 5 6 3 12-2 12-5 6-8-3-8-10-4-11 2-7 5 1 4 8 2 12-3 11-8 3-8-6-7-11-1-10 3-5 5 3 4 10 0 12-5 8-9 1-8-8-5-11 0-9 5-3 6 6 2 11-2 11-7 5-9-2-8-10-3-11 3-7 6 0 5 7 1 12-5 9-9 3-9-5-7-11 0-10 5-5 7 2 4 9-2 11-7 7-10-1-10-8-4-10 3-9 7-2 7 5 2 10-4 9-11 3-11-4-7-9-1-10 6-5 9 1 7 7-2 8-8 5-12-2-11-8-5-9 5-6 9-1 10 6 3 6-6 3-12-3-13-9-7-10 4-3 10 2 11 8 6 5-3-1-9-8-11-12-6-9 3-2 8 5 11 10 6 7-1 0-6-8-7-12-5-13 2-5 8 4 8 10 6 9 2 5-4-3-6-12-4-13 0-9 5-1 8 7 7 11 4 9-2 2-5-7-4-12-2-13 3-6 7 2 8 10 6 11 0 7-3-2-5-9-3-13 1-10 5-4 9 5 7 11 3 11-2 4-4-4-5-10-1-13 3-9 8 0 8 7 6 12 0 9-3 2-5-6-3-12 1-12 5-6 8 2 8 10 4 11-1 7-5 0-5-8-1-12 2-11 7-4 9 5 7 11 2 11-3 5-6-3-4-10 0-12 5-8 8-1 9 7 5 11 0 10-5 3-5-5-3-11 2-12 7-6 9 2 7 9 4 11-2 8-6 0-5-7-2-11 5-10 8-4 9 5 7 10 1 10-4 6-6-2-5-9 1-11 6-8 9-1 9 7 5 11-1 9-5 4-6-4-3-11 2-10 8-6 10 2 8 9 3 10-3 8-6 2-6-6-2-11 5-9 10-3 10 4 7 9 0 11-5 6-7-1-5-8 1-11 7-7 11 0 10 6 4 11-2 9-7 3-7-3-3-9 3-9 9-5 12 3 8 8 2 10-4 7-8 1-7-5-1-9 5-8 12-1 12 5 6 9-1 9-7 5-9-2-5-6 1-9 9-4 13 2 10 7 4 9-4 7-9 2-9-4-4-8 5-5 11 0 13 4 8 8 1 8-7 4-11-2-9-5 0-5 8-1 13 2 12 8 5 9-4 4-10 0-11-4-5-5 3-2 11 3 13 8 9 8 0 5-8 1-11-4-9-7-2-3 7 4 12 8 10 9 4 7-4 2-10-5-11-7-6-5 2 1 8 8 11 11 7 10-2 4-7-4-10-8-8-7-2-2 4 4 8 M2082 1411l4-13-1-9-7-4-10 4-7 10 0 9 4 2 7-6 5-12-3-14-8-6-7 3-6 10 2 13 6 5 5-4 0-12-9-11-11-5-9 4-1 11 7 9 9 5 6-2-1-8-10-6-13-2-10 2-3 8 5 9 11 5 9 0 3-5-5-5-13-3-13 2-7 7 1 8 9 6 11 1 8-2-1-6-8-4-13 1-11 5-5 8 5 7 10 4 11-1 5-4-3-5-10-2-13 3-9 7-2 8 7 6 11 2 10-3 3-5-6-4-11 1-12 5-7 7 2 8 8 5 12-1 8-4 0-5-8-3-12 3-11 7-4 8 4 7 10 3 11-2 7-5-3-5-9-1-12 5-9 8-2 8 6 6 12 0 10-4 3-5-4-3-11 0-12 7-7 9 2 8 8 3 11-1 9-5 1-5-7-2-11 3-11 7-4 10 3 7 10 2 11-3 7-6-1-5-9 0-11 5-9 8-2 10 6 5 10 0 10-4 5-6-4-4-9 2-11 6-7 10 0 8 8 4 11-1 9-7 2-6-6-2-10 4-10 9-5 10 3 7 9 2 11-4 7-7 0-5-8 0-10 5-8 10-2 10 5 6 10 0 10-6 5-7-3-4-9 1-10 8-6 11 1 9 7 4 10-3 9-7 3-6-5-3-9 4-9 10-4 11 3 8 9 1 10-5 6-8 1-6-7 0-9 6-7 12-1 11 5 5 9-1 10-7 4-8-2-5-7 2-9 9-5 13 2 9 7 3 10-4 7-9 2-8-4-2-8 5-7 11-1 13 5 7 8 0 8-7 5-9-1-8-7 0-6 9-3 13 3 11 6 5 8-3 7-10 0-11-4-5-5 4-3 11 1 13 6 10 9 0 7-8 1-11-3-9-5-1-4 7 1 13 7 11 9 5 7-5 2-10-3-11-7-6-5 4 2 9 6 11 10 7 10 0 4-9-3-11-8-8-6-2-2 6 5 9 11 9 12 1 7-5-1-9-7-9-9-5-6 2 2 8 9 7 13 4 10-2 3-7-4-9-9-7-9-1-4 4 6 7 11 4 13 1 8-4 0-8-7-9-11-4-8 2 0 5 8 5 13 3 12-2 5-7-2-8-10-6-11-2-5 4 2 5 10 4 13 0 11-4 2-8-5-7-11-5-10 1-3 5 5 4 12 2 12-2 9-6-1-8-7-6-12-2-8 2-1 6 8 3 12 1 12-5 6-7-3-7-10-5-11-1-7 4 2 5 10 3 13-2 10-6 3-7-6-7-10-3-11 1-4 5 4 4 11 2 13-4 8-7 0-8-7-6-12-1-9 3-2 5 7 4 12-1 12-5 6-8-3-8-9-4-11 1-8 4 1 5 9 2 12-2 11-7 3-8-5-7-11-2-10 2-5 5 3 4 10 1 12-5 9-7 1-8-7-6-12 0-9 4-3 5 5 3 12-2 11-6 7-8-2-8-9-4-12 2-7 5-1 5 8 2 11-4 11-7 4-9-5-7-10-2-11 3-6 6 3 5 9 0 11-6 9-9 1-9-7-5-11 1-10 4-3 7 5 3 10-2 11-8 6-10-2-7-8-4-11 3-9 6 0 6 6 1 11-4 9-9 3-10-4-7-10-1-10 5-6 8 2 4 8-1 10-7 7-11 0-10-8-4-10 2-8 8-3 7 4 3 9-4 8-11 3-12-4-7-9-1-10 7-4 11 2 6 6-1 7-10 0-14-5-10-10-2-8 8 0 12 6 9 8 0 2-8-7-10-12-7-12 1-4 7 4 9 10 8 9 0 3-4-6-6-11-5-14 1-7 7 1 8 8 6 11 3 8-3-1-6-9-4-13 0-11 5-4 7 4 8 11 4 11-1 5-4-4-5-11-2-13 3-9 6-1 9 8 6 11 1 9-3 3-4-7-4-11 0-13 5-6 8 2 8 10 4 11-1 7-4 0-5-8-2-13 3-10 6-4 9 5 7 10 2 11-3 6-5-3-4-10 0-13 4-8 8-1 9 7 5 11 0 10-4 3-5-6-3-11 1-11 6-7 9 2 8 9 4 11-2 8-5 1-6-8-1-11 3-10 8-4 9 4 7 10 2 11-4 6-6-2-4-9 0-12 6-8 8-1 9 6 5 11 0 10-5 4-6-5-3-10 2-11 7-6 10 1 8 9 3 11-2 8-6 1-5-6-2-11 4-9 9-4 10 3 6 10 2 11-4 6-7-1-5-8 0-11 6-8 11-1 9 6 5 11-1 9-6 4-6-3-4-9 2-10 8-6 11 1 9 8 3 11-3 8-7 2-7-5-2-10 5-9 10-3 11 4 7 9 1 10-6 6-8-1-5-6 0-10 7-7 12 0 10 6 6 10-3 8-7 4-8-3-4-7 3-9 9-4 13 3 9 7 2 10-5 7-8 1-8-5-2-8 6-6 12-1 12 5 7 9-1 8-8 4-9-2-7-6 1-6 9-2 13 2 11 7 4 8-4 6-11 0-10-4-4-5 5-3 11 1 13 7 9 10-1 5-8 1-12-3-8-5 0-4 9 2 13 8 10 8 3 7-5 1-11-4-11-7-4-4 4 2 9 8 11 10 6 10-2 2-9-4-10-7-8-6-1-2 7 7 10 11 7 11 0 6-5-2-9-7-9-9-4-6 4 3 6 10 7 13 3 10-2 2-8-5-9-10-6-9 0-2 4 6 6 12 5 13 0 7-5 0-9-9-8-10-3-7 2 0 5 9 5 13 3 11-3 5-8-4-8-10-5-10-1-5 4 3 5 11 4 13-1 10-5 2-8-7-7-11-3-9 1-3 4 6 5 12 2 13-3 7-6-1-9-9-5-11-2-8 3 0 5 9 4 12 0 12-5 5-7-4-8-11-4-11 0-5 4 3 5 10 2 13-2 9-6 2-8-6-7-11-2-10 2-4 5 6 4 11 0 13-4 7-7-1-8-8-5-11-1-9 4-1 5 8 3 12-1 11-6 5-8-3-8-10-3-11 1-7 5 2 5 9 1 13-3 9-8 3-8-6-6-11-1-10 2-5 5 4 5 11-1 12-5 8-8 0-8-8-5-12 0-9 5-2 5 7 3 12-2 11-8 5-8-3-8-10-2-11 2-7 5 0 5 9 1 12-4 9-9 3-9-6-6-10 0-11 4-5 6 3 3 10 0 12-7 7-9 0-9-8-4-11 2-9 5-2 6 6 3 10-4 10-8 5-10-3-8-9-2-11 4-7 7 1 6 7 0 10-6 8-10 2-10-6-6-11 1-9 7-4 7 3 4 8-2 9-10 4-12-3-9-7-2-10 5-6 10 1 8 5 1 7-8 3-14-5-12-8-4-9 6-2 13 4 10 9 2 3-8-5-10-11-8-13 0-5 6 2 9 9 9 11 1 3-4-4-6-11-5-14 1-8 5 0 8 7 7 11 3 9-2 0-6-8-4-12 0-12 4-5 7 3 8 10 5 11-1 6-4-2-4-10-3-13 2-10 7-2 8 6 6 12 2 9-2 4-5-5-4-12 0-12 5-7 8 1 7 8 5 12 0 8-4 1-5-7-3-13 2-11 7-4 8 3 7 10 3 11-2 7-5-2-4-9-1-12 4-10 8-2 8 6 6 11 1 11-4 4-5-4-4-11 1-12 6-7 9 1 8 8 4 11-1 9-5 2-6-7-2-11 3-11 7-5 10 4 7 9 2 11-3 7-5 0-5-9-1-11 5-9 9-3 9 6 6 11 0 10-5 5-6-3-4-10 2-11 7-7 9 0 9 8 4 11-2 9-6 2-6-5-2-10 3-10 9-5 10 2 7 10 3 11-4 6-7 0-6-6 0-11 6-8 9-3 10 5 6 11 0 10-6 4-7-2-4-8 2-10 7-6 11 0 9 7 4 11-2 8-8 3-7-5-2-8 4-9 10-4 11 3 8 8 1 11-5 6-8 0-7-6 0-8 7-7 11-1 11 5 6 10-1 9-8 3-9-2-4-7 2-7 9-5 13 3 10 8 3 9-5 6-9 1-9-4-2-7 5-5 12 0 13 6 8 8-1 7-8 3-11-2-7-6 1-5 9 0 13 3 11 8 4 8-5 4-11-2-11-4-4-4 5-1 11 4 13 9 7 8-1 4-9-1-11-6-8-6 0-1 8 5 11 9 9 9 2 7-6-1-11-6-10-7-3-4 3 3 9 9 9 13 4 8-3 2-8-5-10-9-6-8 0-1 6 7 7 13 6 11 0 6-6-2-9-8-8-11-3-5 3 3 6 10 6 13 2 10-3 3-8-5-9-11-5-9 0-3 4 6 6 11 4 13-1 8-6 0-8-8-7-11-3-8 2 0 5 8 5 13 1 12-3 5-7-3-8-10-5-11-1-6 4 3 5 10 3 13-1 10-5 3-8-6-7-11-3-10 1-4 4 5 5 12 2 13-3 8-7-1-8-8-6-11-1-9 3-1 5 8 3 12 0 12-5 6-8-4-7-10-4-11 0-6 4 1 5 10 2 12-2 11-6 3-8-6-7-11-2-10 2-5 5 4 4 11 0 13-4 8-7 0-8-8-6-11 0-9 4-2 5 6 2 12-1 12-6 5-8-2-7-10-4-11 1-7 5 0 5 9 1 12-3 10-7 3-9-5-6-10-2-11 3-5 6 3 4 10-1 12-5 8-8 0-9-7-5-11 1-10 5-2 5 5 3 11-3 11-7 6-9-2-7-10-4-11 3-8 6 0 5 8 1 11-4 9-9 3-10-5-6-10-1-10 5-6 7 3 4 8-1 11-7 7-11 0-9-7-4-11 2-9 7-2 7 5 3 10-5 8-10 4-11-4-7-10-1-10 6-5 9 1 6 7-1 9-9 3-13-2-10-10-4-9 6-4 11 4 10 8 2 2-8-3-13-12-9-9-1-6 8 4 12 9 7 8 1 3-6-7-7-12-4-12 1-7 7 2 9 9 5 11 2 6-3-2-6-10-4-13 1-10 6-3 7 6 7 11 4 10-2 4-5-5-4-12-1-12 3-8 8 1 8 8 5 12 1 8-4 1-5-8-3-12 2-12 6-4 8 3 7 10 3 11-1 7-5-2-4-9-2-13 4-10 7-2 9 7 6 11 1 10-4 4-5-4-3-11 0-12 6-8 8 1 8 8 4 12 0 8-5 2-5-6-3-12 3-11 7-5 10 4 7 9 2 11-3 7-5-1-5-8-1-12 5-9 9-2 9 5 5 11 1 10-5 5-6-3-3-10 1-11 6-8 10 1 9 8 4 11-2 8-6 3-6-6-2-10 3-10 8-5 11 3 7 9 2 11-4 7-6 0-5-7-1-11 5-9 10-2 10 5 6 10 0 10-6 5-7-2-4-9 2-10 7-7 11 1 10 7 3 11-3 8-6 3-7-4-3-10 4-9 10-4 11 3 8 9 1 10-5 7-8 0-6-6 0-9 6-8 12-1 11 6 5 9-1 9-7 4-8-2-5-7 2-9 9-4 13 2 9 7 3 10-4 7-9 1-8-5-3-7 6-5 11-1 12 4 8 8 0 9-7 M2416 1757l-10-4-10 0-3 4 5 5 12 3 13-2 8-6-1-8-8-6-11-2-8 2-1 5 8 4 13 0 12-4 5-8-3-7-10-4-11 0-7 3 2 5 10 3 13-2 11-6 2-8-6-7-11-2-10 2-4 4 4 4 12 1 13-3 8-8-1-8-8-5-11-1-9 3-2 5 7 4 13-1 11-6 6-8-3-8-10-3-11 1-7 4 1 5 9 2 12-3 11-7 2-9-5-6-11-2-10 3-5 5 3 4 11 0 12-5 8-8 0-8-7-5-11 0-10 4-2 5 6 3 11-1 12-7 5-9-2-7-9-4-12 2-7 6 0 4 8 2 12-4 10-8 3-9-5-6-10-2-11 4-6 6 3 4 9 0 12-6 8-10 0-8-7-5-11 1-9 5-3 7 5 3 10-3 10-8 6-10-2-8-9-3-11 4-8 7 0 5 7 1 10-5 9-10 2-11-5-6-10 0-10 6-5 8 3 5 8-2 9-9 5-12-2-10-9-3-9 6-6 9 1 9 6 1 6-8 2-14-7-12-12-2-7 10 3 11 9 8 8-1 0-7-8-8-14-3-10 3-5 8 6 9 10 4 10 0 4-5-6-5-11-2-13 3-8 6 1 8 9 6 11 1 8-3 0-5-7-3-13 1-12 6-4 8 4 7 10 3 11-1 6-5-2-5-10-1-13 4-9 7-2 9 7 5 11 1 10-3 4-6-5-3-12 1-11 6-7 8 1 8 8 4 12-1 8-5 1-5-7-2-12 3-10 7-5 9 4 7 10 2 11-3 6-5-1-5-9 0-12 5-9 8-2 9 7 6 11 0 10-4 4-6-4-4-10 2-11 6-7 10 0 8 8 4 12-2 8-6 2-5-6-2-11 3-10 9-5 9 4 8 9 1 11-3 7-7-1-5-7 0-11 6-9 9-2 9 6 6 10 0 10-5 5-7-3-4-9 2-10 7-7 11 0 9 8 4 11-3 8-7 3-6-5-3-10 5-9 9-4 11 3 7 9 2 10-5 7-8 0-6-7 0-9 7-8 11-1 11 6 5 9-1 9-7 5-8-3-4-7 2-9 9-5 12 2 9 7 3 10-4 7-8 2-8-5-3-8 6-6 11-2 12 4 8 9 0 9-8 4-10-1-7-6 1-6 9-3 14 4 11 7 4 8-5 5-10 0-11-6-4-5 5-1 12 2 13 9 8 9-2 4-9-1-12-5-7-7 1 0 8 5 12 9 9 11 0 5-7-2-11-7-9-8-2-3 5 5 9 11 8 11 2 8-4 0-10-7-9-10-4-6 1 1 6 9 7 13 3 11-2 4-7-4-8-10-7-10-1-4 5 5 5 11 4 13 0 9-5 1-8-8-7-11-4-9 2-1 5 8 4 12 2 12-3 7-7-3-8-10-5-10-1-7 3 1 5 10 3 13 0 11-6 3-8-5-7-11-3-10 1-5 4 4 5 11 2 13-3 9-7 0-8-7-6-12-1-9 2-2 5 7 4 12 0 12-5 6-8-2-8-10-4-11 1-7 4 0 4 9 3 13-3 10-6 4-8-5-7-11-2-11 2-5 4 3 5 11 1 12-5 9-8 1-8-7-5-12-1-9 4-3 5 5 4 12-2 12-6 6-8-2-8-9-4-11 2-8 4-1 5 8 3 12-4 10-7 4-9-4-7-10-2-11 3-6 6 2 5 10 0 11-6 9-9 1-8-7-5-11 0-10 4-3 7 5 3 10-2 11-8 6-9-1-8-9-3-11 2-8 6-1 6 6 1 11-4 10-9 3-10-5-7-9-1-11 5-6 7 2 5 9-1 10-7 7-11 0-10-7-4-11 3-8 8-3 7 4 2 10-4 7-11 2-12-5-8-11 0-8 9-1 12 6 6 7-4 1-13-9-11-12-4-9 7 2 10 8 8 11 2 5-3-4-7-12-4-13 1-9 5 0 8 8 7 11 2 9-2 1-5-8-4-13 0-12 5-5 8 4 7 10 4 11-1 6-4-2-5-10-2-12 3-10 7-2 9 6 6 11 1 10-3 4-5-5-3-11 0-12 5-7 9 1 8 8 4 12-1 8-4 1-5-6-3-12 3-11 7-5 9 4 7 9 2 12-2 6-6-1-4-9-1-12 5-9 8-2 9 6 5 11 1 10-4 4-6-4-4-10 1-11 7-7 9 0 9 8 4 11-2 9-5 2-6-6-2-11 3-10 8-5 10 3 7 10 2 11-3 7-6-1-6-8 0-11 5-8 10-2 9 5 6 10 0 10-5 5-7-3-4-9 2-10 7-7 10 1 9 7 4 11-2 8-7 3-6-5-3-10 4-9 9-5 11 3 8 9 1 11-4 7-8-1-6-6 0-10 6-7 11-2 10 5 6 10 0 10-7 4-8-2-5-8 3-9 8-5 12 1 10 8 3 10-4 7-8 2-8-4-2-8 5-8 11-1 12 4 8 8 0 9-7 5-9-1-8-7 1-6 8-3 13 1 11 8 5 9-4 6-10 0-10-3-4-7 4-3 12 2 13 7 8 8 0 7-9-1-12-4-8-5 0-3 9 4 12 9 10 9 2 7-7-1-11-7-10-7-3-3 4 4 10 10 9 12 2 8-3 0-9-6-10-10-5-7 2 1 5 9 7 12 5 12-3 4-7-4-8-9-7-10-1-4 4 4 6 11 4 13 0 9-5 1-7-7-8-11-4-9 2-1 5 7 5 13 1 12-2 6-7-2-8-9-6-11-1-7 3 1 5 10 4 13-1 11-5 3-8-5-7-11-3-10 1-5 4 4 4 11 2 13-2 9-7 0-8-7-6-11-2-10 3-2 5 7 3 12 0 12-5 6-7-2-8-9-4-12 0-7 4 1 5 8 2 13-2 11-6 3-9-5-6-10-3-11 2-5 5 3 4 10 1 13-4 8-8 1-8-7-5-11-1-10 4-3 5 6 3 11-1 12-6 6-8-2-8-8-4-12 1-8 5 0 5 8 2 11-3 11-8 4-8-5-7-10-2-11 3-6 6 3 4 9 0 11-5 9-9 1-8-6-6-11 1-10 4-4 6 5 4 10-3 11-7 6-9-1-8-9-4-11 3-8 6-1 6 6 1 11-4 10-10 3-10-4-6-10-1-11 5-5 7 2 5 8-1 10-7 7-11-1-10-7-5-11 4-8 7-2 8 6 3 8-5 6-12 0-13-7-7-9 2-7 11 2 12 9 4 5-6-4-12-12-8-12 0-6 7 3 10 10 7 10 0 5-5-5-5-11-3-14 2-8 7 0 8 8 6 12 1 8-3 1-5-8-3-12 0-12 6-5 8 4 7 10 4 11-2 6-4-2-5-9-1-13 3-10 8-1 8 6 6 11 1 10-3 4-5-5-4-11 0-12 6-7 9 1 7 8 5 12-1 8-5 1-5-7-2-11 2-11 8-5 9 4 7 10 2 11-3 6-6-1-4-9-1-11 5-9 9-3 9 6 5 11 1 11-5 4-6-4-3-10 1-11 7-7 9 0 8 8 5 12-2 8-6 2-6-6-2-10 4-11 8-4 10 3 7 10 2 10-4 7-6 0-5-8-1-11 6-8 9-2 10 5 6 11 0 10-6 4-7-3-4-8 2-11 8-6 10 0 10 8 3 11-3 8-6 2-7-4-2-10 4-9 9-4 12 3 7 9 1 10-5 7-7 0-6-7 0-10 6-6 12-2 10 6 6 10-2 9-7 4-8-3-5-8 3-8 9-4 12 2 10 7 3 10-5 7-9 1-8-4-2-8 6-6 11 0 13 5 7 9-1 7-8 4-10-3-7-6 1-5 10-1 13 4 11 9 3 8-6 3-11-1-9-6-4-5 6 0 12 6 12 9 6 9-3 3-11-4-11-6-6-7 2 1 9 8 10 10 7 11-1 4-9-4-10-9-7-7-2-3 6 6 8 12 6 12 1 7-5-1-9-8-9-10-3-7 2 2 6 9 5 13 3 12-4 3-7-5-8-10-5-10-1-4 4 5 6 12 3 12-1 9-6 0-7-7-7-11-3-9 2-1 5 7 4 13 1 12-3 6-7-3-8-9-5-12-1-6 4 1 5 10 2 13-1 10-5 4-8-6-7-11-3-10 1-5 5 5 4 11 1 12-3 9-7 0-8-8-6-11-1-9 3-2 5 7 3 12 0 12-5 6-9-3-7-9-4-12 1-7 4 1 5 8 2 13-3 10-7 4-8-6-7-10-2-11 3-5 5 3 4 10 1 13-5 8-8 1-9-7-5-12 0-9 4-3 5 6 4 11-2 11-7 6-8-2-8-9-3-11 1-8 5 0 6 8 2 11-4 10-8 4-9-5-7-10-1-11 3-5 7 2 4 9-1 11-6 9-9 0-9-7-5-11 1-9 6-3 6 4 3 10-3 11-8 5-11-2-7-9-3-11 4-7 7 0 6 7 1 9-6 9-10 1-11-6-7-10 2-9 7-3 8 3 5 8-3 7-11 2-14-6-8-10 0-8 10 2 13 9 5 6-4-3-11-11-8-13-1-8 7 2 8 9 8 11 1 6-3-2-5-11-4-13 1-10 6-2 7 6 7 12 3 10-3 2-4-5-4-12-1-12 5-7 8 1 8 9 4 12 0 7-4 1-5-9-3-12 3-11 6-4 9 5 6 10 3 11-2 6-6-3-4-10-1-12 5-9 8-1 8 7 6 11 0 10-4 3-5-5-4-10 2-12 6-7 9 2 8 9 4 11-2 8-5 1-5-7-2-11 3-11 8-4 10 5 7 10 1 10-3 7-6-2-5-9 0-11 6-9 9-1 9 6 5 11 0 10-5 4-7-4-3-10 2-11 8-6 10 1 8 9 3 10-2 9-7 1-5-6-2-10 4-10 9-3 10 3 7 10 1 10-4 7-7-1-5-8 0-10 6-8 11-1 10 6 5 10-1 10-7 4-7-4-4-8 3-9 9-6 11 2 8 7 3 11-3 8-9 1-6-5-2-9 5-7 11-3 11 5 8 9 0 9-7 5-9-1-5-6 1-9 8-4 12 1 11 6 4 9-3 8-9 1-10-3-3-7 4-5 11-1 13 5 9 9 1 7-8 4-11-2-8-7 0-4 8 0 13 5 11 9 5 8-6 2-11-3-10-6-5-5 5 2 11 7 11 11 6 9-4 2-9-5-11-8-6-7 1 1 8 8 8 11 6 11-1 5-8-4-9-9-7-8-2-4 4 5 7 11 6 13 0 8-4 1-8-8-9-11-3-8 1 0 5 8 5 13 3 12-3 6-7-4-8-10-6-10-1-6 3 3 6 10 4 13-1 10-5 3-8-7-7-10-4-10 1-4 5 6 5 12 1 12-3 8-6-1-8-8-6-11-1-9 3 0 5 8 3 12 0 12-5 5-8-4-7-10-4-11 0-6 5 2 4 9 2 13-3 10-6 3-8-6-7-12-2-10 3-4 5 5 4 11 0 12-5 8-7 0-9-9-5-11 1-9 4-1 5 6 2 12-1 12-7 5-8-3-8-10-3-11 2-7 5 1 5 9 1 12-4 10-8 2-9-5-5-11-1-11 3-4 5 3 4 10 0 12-6 8-9 0-8-8-5-11 1-9 5-3 6 6 3 11-3 11-8 5-9-3-8-9-2-11 3-7 6 0 5 8 1 11-5 9-10 2-10-6-6-10 1-10 5-5 7 3 4 10-2 9-8 6-11-1-9-9-3-10 4-8 8 0 7 6 2 8-7 6-12-1-13-8-5-10 4-5 13 5 10 9 2 3-9-7-11-13-5-12 3-3 9 5 8 11 5 10-2 2-4-6-5-13-2-12 4-7 7 2 7 10 6 11 0 8-4-2-5-9-2-13 2-10 6-3 9 5 6 11 2 11-2 4-5-4-4-10-1-13 5-8 8 0 8 8 5 11 0 10-4 2-5-7-3-11 2-12 6-5 9 3 8 9 3 11-2 8-6-1-4-8-2-12 4-10 9-3 9 6 6 10 1 11-4 5-6-3-4-10 1-12 6-7 9 0 9 7 4 11-1 9-5 3-6-5-3-11 3-10 8-6 10 3 7 9 3 11-3 7-6 0-6-7-1-11 5-9 9-2 10 4 6 10 1 11-5 5-7-2-5-9 2-10 7-7 10 0 9 6 4 11-1 9-7 3-7-4-3-9 4-10 9-5 11 3 8 8 2 11-4 7-8 1-6-6-1-10 6-8 11-2 11 6 6 9-1 9-6 5-8-2-5-7 1-9 9-5 12 1 10 7 4 10-4 8-9 1-8-4-3-7 5-7 11-2 12 5 9 10 0 7-8 5-10-1-7-7 0-6 9-2 13 3 12 8 4 9-5 4-11-1-10-4-4-6 5-1 12 5 12 8 7 9-2 4-10-3-12-5-7-7 1 0 9 7 11 10 7 10 0 6-8-4-10-8-8-8-2-3 4 5 9 12 6 12 1 8-4-1-9-7-9-11-3-6 1 0 6 9 6 13 2 12-3 4-7-4-8-10-5-10-2-5 5 4 5 11 4 13-1 9-5 2-8-7-7-12-3-9 1-1 5 6 4 13 2 12-3 7-7-3-9-9-5-11 0-7 3 1 5 9 3 13-1 11-6 3-8-5-7-10-3-11 1-5 5 4 4 11 2 12-3 9-7 1-8-7-6-12-1-9 2-2 5 6 4 12 0 11-6 7-8-2-7-9-4-11 0-8 4 0 6 8 2 12-3 11-7 4-8-5-7-10-2-11 2-6 6 3 4 10 0 12-4 9-8 1-9-7-5-11-1-10 5-3 5 5 3 11-1 11-7 7-9-2-8-9-3-11 2-8 5-1 5 7 2 12-4 10-8 4-9-4-7-10-1-11 3-6 6 2 5 9 0 11-6 8-10 1-9-7-5-11 1-9 6-4 7 5 3 9-3 11-9 4-11-2-8-8-2-11 4-7 9 0 6 6 0 10-7 6-12-1-11-8-6-10 5-6 11 3 11 8 1 5-9-5-13-14-6-10 2-4 10 7 9 11 5 8-2 1-6-7-4-13-2-12 5-5 8 3 7 10 4 12 0 5-5-2-5-11-1-12 2-10 7"/>
<path d="M2781 1062l-1 8 6 7 11 4 9-1 2-6-7-5-12-1-12 5-6 8 3 8 10 4 12-2 6-4-2-6-11-1-11 5-9 9 0 9 7 6 12-2 9-6 2-6-6-3-10 4-9 10-3 11 3 7 10 1 10-7 6-8-2-6-6 2-9 8-5 12 1 11 7 4 9-4 8-9 1-9-4-3-7 5-5 11-2 12 4 9 9 1 8-8 5-10-1-7-5-1-6 8-4 13 2 12 7 5 8-3 6-9 2-10-3-6-6 2-4 11 0 13 4 10 7 3 8-6 4-11 0-10-4-3-5 5-3 12 2 13 7 8 8 0 6-9 2-11-3-8-4-1-4 8-1 13 5 12 7 5 8-3 4-10 0-11-4-7-5 2-2 10 2 13 6 10 8 3 7-6 2-12-2-10-5-4-4 5-1 11 5 13 8 8 8-1 5-8 0-12-4-9-5-1-3 7 2 13 6 11 9 4 7-3 3-10-3-11-5-7-5 2 0 9 4 12 9 9 9 1 6-6 0-11-5-10-7-3-3 4 2 10 8 11 11 5 8-2 2-9-4-11-8-7-6 0-1 8 8 9 13 5 12-3 3-10-7-9-14-1-8 7 2 8 10 0 9-10 4-13-6-10-8-1-8 7-4 11 2 8 6 1 5-9 0-13-4-11-8-5-8 4-4 11 1 10 4 6 5-3 2-11-3-13-7-9-8-1-6 7-1 12 3 9 5 3 3-6 0-12-6-12-9-6-7 2-4 9 1 12 5 7 5 0 2-8-3-12-8-10-9-3-6 4-2 11 4 11 5 5 4-3 0-9-6-12-9-8-9 0-4 7 1 11 5 9 6 3 3-5-3-11-8-10-10-6-7 3-3 9 3 11 7 7 5 0 1-7-5-10-10-9-9-3-7 5 0 10 6 10 7 6 4-3-2-8-7-10-11-7-10 1-3 7 2 10 7 9 7 3 3-5-4-9-10-9-11-3-8 3-1 8 5 10 9 7 6-1 0-6-7-8-12-6-11-1-6 7 3 9 8 8 9 3 4-2-2-8-11-6-13-3-9 4-2 7 6 9 10 5 9 0 2-5-7-5-13-4-13 3-6 7 2 7 10 6 11 1 7-5-2-4-10-3-13 2-10 8-2 9 7 5 11 1 10-4 3-7-6-3-11 3-11 8-5 10 5 8 9 1 11-4 6-7-2-6-8 1-9 7-7 11 0 11 8 4 10-3 8-8 2-8-4-3-8 5-7 11-2 12 3 8 9 0 9-6 5-11-1-7-6 1-6 8-4 12 1 12 7 5 8-3 7-9 2-10-2-5-7 3-5 11-1 13 5 9 7 3 8-6 4-11 0-9-5-3-5 6-3 12 2 13 6 7 8-1 7-8 2-11-3-8-4 0-5 9 0 13 4 11 8 5 7-4 4-10 0-11-3-5-6 3-2 10 2 13 6 10 8 1 6-6 3-11-2-10-5-3-4 5-1 12 4 12 8 8 8-2 5-9 0-11-4-8-5 0-2 7 1 13 7 11 8 4 7-4 3-10-2-11-5-6-5 3-1 9 5 12 8 9 8 2 6-7 0-12-4-9-6-4-3 5 2 12 7 11 9 6 8-2 3-9-3-12-6-7-5 0-1 7 5 11 10 8 10 2 6-6-1-11-7-9-9-3-5 5 5 8 13 6 14-2 6-11-6-10-13-1-10 8 0 10 6 2 8-7 5-13-2-12-8-6-9 4-5 10 0 10 4 6 5-4 3-11-2-13-7-9-8-1-6 7-2 12 3 9 6 2 3-7-1-12-5-12-8-6-8 3-3 10 1 11 4 7 5-1 2-9-4-12-7-10-8-3-7 5-1 11 3 11 6 4 4-3-1-10-5-12-9-8-9 0-4 8 1 11 5 9 5 2 3-5-3-12-8-10-9-5-8 3-2 9 3 11 6 7 6-1 0-7-5-11-9-9-10-3-6 6 0 10 6 11 6 4 4-3-2-9-7-10-10-7-10 1-3 8 3 10 6 9 7 2 2-5-4-10-10-9-11-4-7 4-1 9 5 10 7 6 7 0 0-7-8-9-11-7-10-1-6 6 2 10 8 9 8 3 4-3-3-7-10-8-12-4-10 4-2 7 6 9 9 7 8 0 2-6-7-6-12-5-12 0-7 6 2 10 9 6 10 3 6-3-2-6-10-5-13 1-10 4-3 8 6 8 12 3 10-2 3-5-6-4-13-1-12 6-6 9 3 7 10 4 11-3 7-6-1-4-8-1-12 6-8 10-1 10 7 4 10-1 10-7 2-8-4-3-9 5-9 9-3 13 4 8 9 0 9-6 6-9-1-7-7 1-7 8-5 12 1 11 6 5 10-3 7-9 2-9-3-5-6 4-6 11-2 13 5 9 7 2 8-7 5-10 0-8-5-2-6 6-3 13 1 12 6 7 8-2 7-8 2-11-2-7-5 1-5 9-1 13 5 11 7 4 8-4 4-11 0-10-3-5-5 4-3 11 1 13 6 9 8 1 7-7 2-11-2-9-5-3-4 7 0 12 4 12 7 7 7-2 6-9 0-12-4-7-5 0-2 9 1 13 6 11 9 3 6-4 3-11-2-11-4-5-5 3-1 11 4 12 8 9 8 1 5-7 1-12-4-10-5-2-3 6 1 11 7 12 9 6 8-3 3-9-3-11-5-8-5 0-2 9 5 11 9 9 9 3 7-6 0-11-6-10-6-4-5 4 3 9 8 10 12 5 9-3 2-8-6-11-10-5-8 2 1 8 11 6 14-3 8-12-4-11-11-1-10 7-4 10 4 6 7-3 5-11 1-13-6-10-8-1-7 7-3 12 2 9 5 1 4-7 1-13-5-12-7-5-8 3-4 9 0 12 5 6 4-1 2-10-2-13-8-10-8-2-6 6-2 11 3 10 5 5 5-5-1-11-5-12-9-7-8 0-4 9 1 11 4 9 5 1 3-6-3-12-7-11-10-5-7 4-2 10 3 11 6 7 5-2 0-8-5-12-9-9-9-1-6 6 0 10 5 10 7 4 3-3-2-10-7-11-10-6-8 1-4 8 3 11 6 8 6 2 2-6-4-10-10-10-11-3-7 4 0 9 5 11 7 6 5-1 0-8-7-10-11-7-10 0-5 6 2 10 7 9 8 3 4-3-4-8-9-9-12-4-9 3-2 8 5 10 9 6 7 1 1-5-7-9-12-6-11 0-7 5 2 9 8 8 10 4 6-3-3-6-9-6-13-2-11 4-3 8 6 8 10 4 10 0 3-5-6-6-12-1-13 2-7 8 2 9 9 4 11 0 8-3-1-7-10-2-12 4-10 8-2 9 7 6 11 0 10-5 4-6-6-4-10 3-10 9-5 10 3 8 10 2 10-5 6-8 0-6-7 0-9 8-6 12 0 10 6 5 10-2 8-9 2-9-3-4-7 4-7 11-2 12 4 10 8 1 9-6 5-10 0-8-5-1-7 7-4 12 1 12 6 7 8-2 7-9 3-11-3-6-5 2-5 9-1 13 3 11 8 4 8-5 5-11 0-10-4-4-5 5-3 11 1 14 6 8 8 0 6-7 3-11-2-9-5-1-4 7-1 13 4 12 7 5 8-2 5-10 0-11-4-7-5 2-2 9 1 13 6 11 8 3 7-6 3-11-2-10-5-5-4 5-1 10 4 13 8 9 8 0 5-8 0-12-3-9-5-1-4 6 2 12 6 12 8 5 8-3 3-9-2-12-5-7-4 1-2 9 4 12 9 10 9 2 5-6 1-10-4-11-7-4-3 4 1 9 7 12 11 6 8-1 3-8-2-11-8-8-6-1-1 6 5 10 12 8 11 1 7-8-4-10-10-7-11 1-3 8 8 6 14-4 8-12-1-11-9-5-10 6-6 10 1 9 5 2 6-8 3-13-3-12-8-6-8 4-5 10 0 10 4 7 5-3 3-10-3-13-6-10-8-2-7 7-2 11 3 10 5 3 4-5 0-12-6-12-8-7-7 2-5 8 1 12 5 8 5 1 2-8-3-12-7-11-9-4-7 5-2 10 3 11 5 6 5-2 0-10-5-12-9-8-9-1-5 6 0 11 5 10 6 3 4-4-3-11-7-10-10-7-8 2-3 9 3 11 6 8 6 1 1-7-5-11-8-9-11-4-7 5 0 10 5 10 7 6 4-1 0-9-7-10-11-7-10-1-4 7 2 10 6 9 8 4 3-5-4-9-9-9-11-4-8 2-2 9 4 10 9 7 6 1 1-6-6-9-12-7-11-1-7 6 2 9 7 8 9 5 6-3-3-7-9-7-13-4-10 3-3 7 5 9 10 6 9 1 2-4-5-6-13-5-13 1-7 6 1 8 9 7 11 2 8-4-2-4-9-4-13 0-11 7-3 8 6 7 11 2 11-3 3-6-5-4-11 1-12 7-6 10 3 8 9 3 11-3 7-7-1-7-7 0-10 7-8 10-1 11 7 5 10-2 9-7 3-8-4-4-8 4-8 10-3 12 3 9 8 1 10-6 5-9 0-8-5 0-7 7-5 12 1 13 6 5 8-2 8-9 3-9-3-6-7 2-5 10-1 13 3 10 7 3 9-5 5-11 0-9-4-3-6 5-3 12 1 13 6 8 8 0 7-8 2-11-2-8-4-1-5 8-1 13 4 12 7 5 7-3 5-10 1-11-4-6-5 3-3 10 1 13 6 10 8 2 7-6 3-11-2-10-5-4-4 5-1 12 4 13 7 7 8 0 5-9 1-11-3-8-5-2-4 8 2 13 6 11 8 5 7-4 3-10-1-11-5-6-5 2-1 9 4 12 7 10 9 2 6-7 1-11-4-10-5-4-4 5 1 11 6 11 9 7 8-1 4-9-2-11-6-8-5-1-2 6 5 12 9 9 10 3 6-4 1-11-6-10-8-5-5 3 2 9 10 8 14 3 9-5 1-10-10-8-13 1-6 9 5 6 11-3 9-12 0-13-6-7-9 2-8 9-2 11 4 6 6-3 4-10-1-14-6-10-8-1-7 6-2 11 2 10 5 3 4-6 0-12-4-12-8-7-8 2-4 9 0 11 4 8 5 0 3-9-3-12-7-11-8-3-7 5-2 10 3 11 5 5 4-3 0-10-5-12-9-8-8-1-5 8 0 11 5 9 5 3 4-5-3-12-7-11-9-5-8 2-3 9 3 11 M2818 1370l7 2 8-5 6-10 0-9-4-3-6 5-4 12 0 13 6 8 8 0 7-8 3-11-1-7-5-1-5 8-3 13 3 12 7 5 8-3 6-9 1-11-3-6-5 3-4 10 0 13 4 10 8 3 7-5 4-11 0-10-4-4-6 5-2 12 2 13 7 8 7 0 6-8 3-11-3-9-5-1-4 8 0 12 4 12 8 6 7-3 5-10 0-11-5-7-4 2-2 9 2 13 6 10 8 3 7-6 2-11-2-10-5-4-4 4 0 11 5 13 8 7 8-1 5-8-1-12-6-8-6-1-1 7 4 11 8 11 11 2 6-5 0-10-5-10-9-4-4 3 3 8 10 9 14 2 8-4 0-11-9-8-12-1-7 6 3 7 10 0 14-5 6-11-1-9-9-3-12 4-6 8-1 6 7 1 10-7 6-12 0-11-6-5-10 2-8 9-3 9 3 4 7-3 7-11 1-13-4-9-7-2-8 6-6 10 1 9 5 2 5-7 4-12-1-13-6-7-8 2-7 8-3 11 3 7 5-1 5-9 1-13-3-12-8-4-8 5-5 10 0 10 4 5 5-4 3-11-1-13-6-10-7-1-7 7-3 11 1 10 5 2 4-7 2-12-3-13-7-6-8 1-5 9-1 12 2 7 5 0 4-9-1-13-5-11-8-4-7 4-3 11 0 10 4 6 6-3 1-11-3-13-7-9-8-1-5 7-2 11 2 10 6 2 4-5-1-12-5-12-8-7-8 2-4 8 0 12 5 8 5 0 2-8-3-12-6-11-9-4-7 5-2 10 3 11 5 6 4-3 1-9-5-12-9-9-8-1-5 7 0 11 4 10 6 3 3-5-2-11-7-11-9-6-9 2-3 10 3 10 6 8 6 1 1-7-5-11-10-10-10-2-6 5 0 10 6 10 6 5 5-2-1-9-9-10-11-6-9 1-3 8 3 10 8 8 8 1 2-4-6-9-10-7-13-2-7 6 0 9 8 8 9 4 7-1-1-7-10-7-13-2-11 4-3 7 5 8 11 5 10-1 3-4-5-5-13-2-13 4-7 8 2 7 9 5 12 0 8-5-2-6-8-1-12 4-10 7-3 10 7 6 11 0 10-5 4-6-4-3-11 2-10 8-6 11 2 8 9 2 11-3 7-8 0-7-6 0-9 6-8 10-2 11 5 6 10 0 9-7 5-9-2-4-8 2-8 9-5 12 1 10 8 3 9-4 8-9 1-8-4-2-7 5-7 11-2 12 4 8 8 0 9-6 5-10 0-7-6 0-7 8-5 12 1 12 6 5 9-2 7-8 3-10-2-5-7 2-6 10-2 13 3 10 7 3 9-5 6-10 1-9-5-3-6 5-4 12 0 12 5 9 8 0 7-7 4-11-1-8-5-1-5 8-3 13 2 12 7 5 8-2 6-9 2-11-3-6-6 2-4 10 0 13 4 10 7 4 8-5 4-11 0-10-4-4-5 5-3 11 2 13 6 9 7 0 7-7 3-12-2-8-5-2-4 7-1 13 3 12 8 6 8-2 5-10 0-11-4-7-4 1-3 10 1 13 6 10 8 3 7-5 3-11-2-10-5-5-5 4 0 11 4 13 8 8 8 0 5-8 0-12-4-9-6-1-2 6 2 12 8 11 10 4 7-4 1-9-3-11-8-6-5 2 1 9 8 10 12 7 10-2 2-8-4-11-11-6-7 0-1 8 9 7 13 0 12-8 1-10-7-6-12 0-9 7-2 6 7 3 10-6 8-10 2-11-5-7-11 1-9 8-3 9 2 4 8-2 7-10 3-13-3-9-7-3-9 6-6 10 0 8 4 2 6-6 5-12 0-13-6-7-9 1-7 8-3 11 2 7 5-1 6-9 2-13-4-11-7-5-8 4-5 10-1 10 4 6 5-4 4-11-1-13-5-9-8-2-7 6-3 11 1 10 5 2 4-6 2-12-3-13-6-7-8 1-6 9-1 12 3 7 4 0 4-9 0-12-5-12-7-4-8 4-4 10 1 11 4 6 4-3 2-11-2-13-6-9-8-2-7 7-2 11 3 10 5 3 3-5 1-12-5-12-7-8-9 2-4 8 0 12 4 8 5 0 2-7-1-12-7-12-9-4-7 4-2 10 2 11 5 6 4-2 1-9-4-13-8-9-9-1-5 6-1 11 4 10 6 4 3-5-1-11-7-11-9-6-8 1-3 9 2 11 5 8 6 1 2-7-5-11-9-10-9-3-7 4-1 10 5 11 7 5 5-2-1-8-8-10-10-7-9-1-5 8 3 11 7 8 7 3 3-5-5-8-10-9-12-3-8 4 0 9 6 9 9 6 7-2 0-7-9-7-13-4-10 2-5 7 4 10 10 6 10 1 3-4-4-6-12-4-14 2-7 6 0 8 8 6 12 1 8-4 0-5-8-2-13 1-11 7-3 10 5 6 11 2 11-4 4-6-4-4-10 1-11 7-7 10 1 8 9 4 11-3 8-7 1-6-6-1-10 5-9 10-2 11 5 6 9 0 10-6 5-8-1-5-9 2-9 8-5 12 1 10 7 3 9-3 8-8 3-8-5-3-7 4-7 11-3 12 3 8 8 1 10-6 6-9-1-8-5 0-7 8-6 12 0 11 6 6 9-2 8-8 3-10-2-5-6 2-6 10-3 12 2 11 7 3 9-4 6-10 1-9-3-3-7 4-5 12 0 12 4 9 9 1 7-7 4-11 0-8-5-1-6 8-3 12 1 12 7 7 8-3 7-9 2-10-3-7-5 2-5 10-1 13 4 11 8 3 7-5 5-10 0-10-4-4-5 4-3 11 1 14 6 9 8 0 6-7 3-11-1-9-5-2-5 7-1 13 3 12 7 6 8-2 5-9 1-11-3-7-5 1-4 9 2 13 5 11 8 3 7-5 3-10-1-11-5-5-4 4-1 11 3 12 7 9 9 1 5-8 1-12-4-9-5-2-3 6 1 13 7 11 9 5 7-3 3-9-3-12-6-6-5 1 0 8 6 12 10 9 10 0 4-7-2-11-7-9-9-2-2 5 6 10 13 6 12-1 6-8-4-10-10-5-12 3-4 7 5 3 13-1 10-9 5-10-4-8-11-1-10 7-5 8 2 5 8-1 8-10 4-12-1-10-8-3-10 5-6 9-1 8 4 3 7-6 5-12 0-12-5-8-8 1-7 7-4 11 1 7 6 0 5-9 3-13-2-11-7-5-9 3-6 10-1 11 4 5 5-4 4-10 0-13-4-10-9-2-7 6-4 11 1 9 4 3 5-6 3-12-2-13-7-7-8 1-6 8-2 11 3 8 5 0 4-8 0-13-5-12-7-4-7 4-5 10 0 11 4 5 5-2 3-11-2-13-7-9-8-2-6 6-2 11 1 10 5 3 5-5 0-12-4-12-8-7-7 1-5 8-1 11 4 9 5 1 3-8-2-12-6-12-8-4-7 3-3 10 1 11 5 7 5-2 1-10-4-12-7-9-9-2-6 6-1 11 4 10 6 4 3-5-1-10-6-12-9-7-8 1-4 8 2 12 5 8 6 2 1-7-3-11-8-11-10-4-7 4-2 11 5 10 6 6 5-1-1-8-6-11-10-8-10-1-5 7 2 11 7 9 6 3 4-4-4-10-9-9-12-4-8 3-1 8 5 11 9 6 7-1 0-5-8-8-11-6-12 0-6 7 3 9 9 7 9 3 5-3-4-8-11-5-13 0-9 4-1 8 8 9 11 2 9-2 0-5-7-4-14 0-11 6-5 8 4 7 11 3 11-2 6-6-4-5-10 1-12 5-8 8 0 10 9 5 11-2 9-6 2-6-6-2-12 4-9 9-3 11 4 6 9 1 10-5 6-8-2-5-7 1-9 8-7 11 0 10 7 4 10-2 9-8 2-8-3-3-8 4-8 10-4 12 4 9 8 1 9-6 6-9 1-7-5-1-8 7-6 12 0 12 5 6 9-1 8-8 4-10-2-5-6 2-7 9-4 13 3 10 7 4 8-5 7-9 2-9-4-4-7 5-5 11-1 13 4 9 8 0 8-6 5-10 0-8-6-2-6 7-3 13 1 12 6 6 8-1 7-9 3-10-3-7-5 1-5 10-1 13 3 11 7 4 8-5 5-10 1-10-4-5-5 5-4 11 1 13 5 9 8 1 7-7 3-11-1-9-5-2-4 7-2 12 3 13 6 6 8-1 6-9 1-12-3-7-5 1-3 9 0 13 5 11 8 4 7-5 4-11-1-10-4-5-5 3-2 11 3 13 7 9 8 1 6-7 2-12-3-9-5-2-4 6 1 12 5 12 8 6 8-3 4-9-2-12-5-7-5 1-1 8 4 12 9 10 9 2 6-6 0-11-6-10-8-4-2 4 3 10 9 10 13 3 8-4 0-10-8-10-10-3-7 5 3 8 11 2 14-3 8-10-2-8-10-5-12 4-6 7 0 6 9 0 10-8 6-11 0-10-8-5-10 4-8 8-2 9 4 3 8-5 6-12 2-12-5-8-8 0-8 7-5 10 1 8 6-1 6-8 3-12-2-12-7-6-8 4-6 9-2 10 3 6 5-3 5-11 1-13-5-10-7-2-8 6-4 10 0 10 5 3 5-6 3-12-2-13-6-7-8 0-7 8-2 11 3 9 5 0 4-8 0-13-4-12-7-5-7 3-5 10 0 11 3 6 5-2 3-10-2-13-5-10-8-3-7 6-3 12 2 10 4 3 5-5 1-11-4-13-7-8-8 1-5 8-1 12 3 8 5 1 3-7-1-13-5-11-8-6-8 4-3 10 1 11 4 7 5-2 2-9-4-13-7-10-8-2-7 6-1 11 3 10 6 5 3-5 0-10-5-12-9-8-9 1-4 8 1 11 5 9 5 2 3-7-3-11-8-11-10-4-7 3-1 10 3 11 6 6 5-1 0-9-6-11-9-8-10-1-5 6 1 11 6 9 7 4 4-4-4-9-8-10-11-5-8 2-3 9 4 10 8 7 7 1 1-6-7-9-11-7-12-1-6 6 2 9 8 8 9 4 5-3-3-7-10-7-12-2-10 3-3 9 7 9 10 4 9-1 2-4-7-6-13-2-13 3-5 8 3 7 10 5 11-1 6-4-2-5-10-1-13 3-9 9-1 9 8 5 11 0 9-5 3-6-6-4-11 4-10 8-5 10 3 7 10 2 11-4 6-8-1-5-7 1-10 6-8 11 0 11 6 5 10-3 9-7 4-7-4-4-8 3-9 10-4 12 3 9 8 2 10-5 6-9 1-7-6-2-8 7-6 11-1 12 5 7 9-1 9-8 4-9-2-6-6 2-7 9-4 12 2 11 6 4 9-4 7-9 2-10-3-3-7 4-5 11-2 13 4 9 8 1 8-6 5-11 0-8-5-1-6 7-4 12 1 12 5 7 9-1 7-9 3-10-2-7-5 1-6 9-2 13 3 11 8 5 8-5 5-10 1-10-3-4-6 4-4 11 0 13 5 9 8 2 7-7 4-11-1-9-4-2-5 6-3 12 3 13 7 7 7-1 6-9 2-11-3-8-5 1-4 9 0 13 5 11 7 4 8-4 4-10 0-11-4-5-6 3-2 11 3 13 6 9 8 1 6-7 2-11-3-10-5-2-3 6 0 11 5 12 7 7 9-2 4-9-1-11-4-8-5 0-2 8 3 13 8 10 8 3 7-5 1-11-4-10-7-5-4 3 2 10 7 11 M2885 1322l-4 6 3 9 8 8 8 3 5-3-4-8-11-7-13-1-9 4-1 8 7 9 11 4 8-2 1-5-8-5-13-2-12 3-6 8 4 7 10 5 11 1 5-4-2-5-11-3-13 2-10 6-1 8 7 6 11 3 10-3 2-6-6-3-11 0-12 5-7 8 2 8 9 4 12-1 7-4 0-5-8-2-12 3-11 7-3 9 5 7 11 1 10-3 6-6-3-4-10 1-12 5-8 9 0 9 7 5 11-1 10-5 2-6-5-3-10 3-11 7-6 11 3 7 9 3 11-4 7-6 1-5-8-1-11 5-9 9-2 10 5 6 10 0 10-5 5-7-2-4-8 2-11 7-7 11 0 9 7 4 11-3 9-6 3-7-5-3-9 4-10 9-4 11 3 8 8 2 11-5 7-7 0-6-6-1-10 6-7 11-2 11 5 6 9-1 10-6 5-8-2-5-8 1-9 9-5 11 0 10 7 4 10-3 8-7 3-9-4-3-8 4-8 11-3 11 3 9 8 1 9-5 7-9 0-7-5-1-8 7-6 11-1 12 5 7 10-2 8-8 4-9-2-6-6 2-7 9-4 13 3 11 7 3 9-4 6-10 1-9-5-4-6 6-4 11 0 13 6 9 9-1 7-8 2-11-3-8-6 0-4 9 2 13 8 11 10 2 6-7-1-12-8-10-8 0-2 8 8 8 13 4 13-5 3-8-6-8-12-3-10 3-3 4 6 5 13-1 11-6 6-9-3-8-11-3-11 3-7 6 1 5 9 0 11-5 9-10 1-10-6-5-11 1-10 6-3 7 4 4 9-3 9-9 6-10-2-9-8-3-11 4-7 8-2 6 6 1 9-5 9-10 2-12-4-7-10 1-9 6-6 8 1 5 7-1 10-8 6-11-1-11-6-4-10 3-8 7-3 8 3 4 8-3 8-10 3-13-2-8-8-2-9 4-7 9-1 8 5 1 8-6 6-11 1-12-4-7-9 1-9 6-5 10 2 6 6-1 7-8 4-13 0-10-7-5-9 3-7 8-3 10 3 4 7-3 6-11 2-12-3-10-7-2-9 5-6 10 0 9 4 2 7-6 4-12 0-12-5-8-8 1-8 7-3 11 1 7 6 0 5-9 3-13-3-11-6-5-8 3-7 10-1 10 3 5 6-3 4-10 0-13-4-10-8-2-8 6-4 11 1 9 5 3 4-6 3-12-3-13-7-7-8 1-6 9-1 11 3 8 5 0 4-9-1-13-6-11-8-4-7 5-3 10 2 11 4 5 6-3 0-11-5-12-8-9-8 0-5 8 1 12 5 9 6 1 2-6-3-11-9-10-10-5-8 5 0 10 4 10 7 6 6-2-1-9-8-9-12-6-9 1-4 7 4 11 9 7 8 1 2-4-6-7-11-7-14 0-7 5 2 8 7 8 10 4 8-3-2-6-9-5-13-1-11 3-4 7 5 9 12 4 9 0 4-4-5-5-11-2-13 2-9 8 1 8 9 5 11 1 8-3 1-5-8-4-13 2-11 6-4 8 4 7 10 3 11-2 6-5-3-5-9 0-13 4-9 8-1 8 7 6 11 0 10-4 3-6-5-3-11 2-11 7-6 9 1 7 9 4 11-2 8-6 1-5-7-2-11 5-10 8-4 9 4 7 11 1 11-4 5-6-2-5-8 1-11 6-8 10-1 9 7 5 11-1 9-6 4-7-5-3-9 3-10 8-6 11 2 8 9 3 10-4 8-7 1-6-6-1-10 5-9 10-3 10 5 7 10 0 9-5 6-8-1-5-7 1-10 8-7 10 0 11 6 4 10-2 9-7 3-8-3-3-8 3-9 9-5 12 3 9 8 2 10-4 7-8 1-7-5-2-9 6-7 11-2 12 5 6 9 0 9-6 5-9-1-6-7 1-8 8-5 12 1 11 6 4 9-3 8-8 3-9-4-4-6 3-7 11-2 12 3 10 9 2 8-7 5-10 1-8-5-1-7 7-4 12 2 13 6 6 8-2 7-9 1-12-3-6-5 2-4 11 2 14 6 9 10 1 7-9-1-11-7-9-9 0 0 8 8 11 14 4 10-4 3-10-7-8-11-3-10 3-1 7 8 3 12-2 12-7 3-10-4-6-11-2-11 4-5 7 3 4 9-1 12-7 7-10-1-9-8-4-10 2-9 7-2 6 5 2 11-4 9-9 4-11-4-7-9-1-10 4-7 8 1 6 7 0 9-7 8-11 1-10-6-6-10 2-9 7-4 8 3 4 7-3 9-9 5-12-1-9-8-3-10 4-8 8-1 8 4 2 9-6 7-10 3-12-5-8-8 0-10 6-5 9 0 7 6-1 8-7 6-12 0-12-6-5-9 3-8 8-4 9 3 4 6-2 8-10 3-13-2-10-8-2-9 4-6 10-2 8 4 3 8-6 6-11 0-13-4-8-8 0-8 7-5 10 0 7 6 1 7-8 3-13-1-11-6-6-9 3-7 8-2 10 2 6 6-2 6-10 1-14-3-10-8-3-8 6-5 10 0 9 4 4 6-6 3-11-1-13-5-8-8 0-7 7-3 11 2 9 5 0 5-8 1-12-4-12-7-6-7 3-6 10 0 11 4 6 5-2 2-10-1-13-6-10-9-2-7 7-2 11 3 9 5 4 4-5 0-12-6-13-9-6-7 2-4 9 1 11 5 8 7 0 1-9-5-11-8-9-9-3-7 5 0 12 6 10 7 4 3-3-2-9-9-11-12-4-8 2-2 8 4 10 9 7 8 0 0-6-7-8-12-6-11 0-7 7 3 10 9 7 10 2 5-3-3-6-11-6-14 0-9 5-2 8 7 7 11 4 9-2 2-5-7-5-12-1-13 4-6 6 2 9 10 5 12 0 6-4-1-5-9-2-13 2-11 6-2 9 6 7 11 1 10-2 4-5-4-4-11 0-13 5-7 9 1 7 8 5 11-1 9-4 1-6-7-2-11 2-11 8-4 9 3 7 10 2 11-3 7-5-2-6-8 0-12 6-8 9-2 9 6 5 11 0 10-5 4-7-4-3-10 2-10 8-7 10 1 8 8 3 11-2 9-7 1-6-6-2-10 5-9 9-4 10 3 7 10 2 10-5 7-8-1-5-8 1-10 6-7 11-2 10 6 5 10-1 10-7 4-7-3-4-8 3-10 8-5 11 1 9 7 4 11-4 8-8 2-7-5-2-9 5-8 11-3 11 3 7 9 1 10-6 6-8 0-6-7 0-8 7-7 12 0 11 6 5 9-2 9-7 3-9-2-4-7 3-8 9-4 12 2 10 8 3 9-5 7-9 1-8-5-2-7 5-6 12-1 12 4 8 9-1 8-7 5-10-2-7-5 1-6 8-4 13 3 12 7 4 8-4 6-10 1-10-5-5-5 4-3 12 2 13 8 9 9-1 5-9-1-12-7-8-5 1-2 10 8 11 13 5 11-5 2-9-8-9-12-2-8 3 1 5 9 5 14-3 10-7 2-9-7-7-11 0-10 4-4 6 5 4 11-3 11-7 6-10-2-8-9-3-12 4-7 7 0 5 7 1 10-6 9-10 2-10-5-6-10 0-10 6-5 7 2 5 9-2 9-8 6-11 0-9-8-4-10 3-8 7-2 8 4 3 9-5 8-10 3-12-3-7-8-2-10 6-7 8 0 7 6 0 9-7 6-11 1-11-5-6-9 1-9 8-4 8 2 5 6-2 8-9 5-12-1-10-8-4-9 4-7 9-2 8 3 3 8-5 6-10 3-13-4-8-8-1-9 6-6 10 0 7 6 1 7-7 5-12 0-12-6-7-9 2-8 8-3 10 2 6 6-2 6-9 3-13-2-11-8-4-8 5-6 10-1 9 3 4 6-5 5-11 1-13-5-9-8-1-8 7-4 11 1 8 5 1 5-7 3-12-2-13-6-6-8 2-6 9-2 11 2 6 5-1 5-10 0-13-4-10-8-4-7 5-4 11 0 10 5 4 5-4 2-12-3-12-7-9-8 0-6 8-1 12 4 9 5 1 3-7-2-13-5-11-9-6-8 5-3 10 3 11 5 6 4-2 1-9-5-13-9-8-9-1-5 7 1 11 6 10 8 2 2-5-4-10-9-9-11-4-9 4 0 10 6 9 8 6 6-1-1-7-9-9-12-5-10 2-4 7 3 9 10 7 10 1 3-4-6-6-11-5-13 0-8 6 0 9 8 6 11 3 8-2 0-5-9-5-13-1-12 5-4 7 5 8 10 4 11-1 5-5-4-4-10-2-13 3-9 7-1 8 8 6 12 1 9-3 2-5-7-3-11 1-12 5-6 9 3 8 9 3 12-2 7-5-1-4-8-2-12 4-10 8-3 10 6 5 11 1 10-4 5-5-3-4-10 0-12 7-7 9 0 9 8 4 11-2 9-5 2-6-6-2-10 3-11 8-4 10 3 8 9 1 11-3 7-7 0-5-8-1-11 6-8 10-2 10 5 5 10 0 10-5 5-7-2-5-9 2-10 8-7 11 1 9 7 4 11-3 8-7 3-7-5-2-9 4-9 9-4 11 3 8 9 2 10-5 7-8 0-6-7-1-9 7-7 11-2 11 5 5 10-1 9-6 5-9-2-4-8 2-8 9-5 11 1 10 6 4 10-4 8-8 2-8-4-3-7 5-8 10-3 12 4 9 9 1 9-7 6-9-1-7-5 0-7 7-6 12 0 12 6 6 9-2 8-8 3-10-3-6-6 3-6 10-2 13 3 10 8 3 8-6 5-11 0-9-4-2-6 6-3 12 3 13 6 7 10-2 5-11-1-11-6-7-7 3 1 10 7 12 13 5 9-3 2-11-9-10-10-3-8 5 3 7 10 2 14-2 9-8 1-8-8-6-12 0-9 6-2 5 7 2 11-3 11-8 4-10-4-7-10-1-11 4-6 7 2 5 8-1 11-7 8-10 0-9-7-5-11 2-9 6-3 7 4 3 9-3 10-9 4-12-2-8-9-2-10 5-7 7-1 7 6 1 10-6 7-11 2-11-5-7-9 1-10 6-5 9 2 5 7-1 9-9 5-12 0-10-7-4-10 3-8 8-3 9 4 3 8-4 7-10 3-12-3-9-7-2-10 5-6 10-1 7 5 1 8-6 6-12 1-12-5-6-9 1-8 7-5 10 2 6 6-2 7-8 4-13-2-11-6-4-9 3-7 9-2 10 3 4 6-4 6-11 2-12-4-10-7-2-9 6-5 11 0 8 4 2 6-7 5-12-1-12-5-7-9 1-7 8-3 11 2 7 5-1 5-9 2-13-2-11-8-5-8 4-5 10-1 10 3 5 6-3 3-11 0-13-6-10-8-1-7 7-3 11 2 9 4 2 5-6 2-13-5-12-7-7-7 2-5 9-1 12 4 7 5-1 3-9-2-13-7-10-8-3-7 5-2 11 4 11 5 4 4-4-1-10-6-12-9-7-9 1-4 9 3 11 6 8 5 1 2-7-5-11-10-9-10-2-6 5 0 10 7 10 9 4 4-2-3-8-9-8-13-5-10 4-2 8 6 9 9 6 8 0 2-6-7-7-13-4-12 1-6 6 2 9 10 7 11 1 5-2-2-6-10-4-13 0-11 6-2 8 6 7 11 3 10-1 3-5-5-5-13-1-12 4-7 8 1 7 9 5 12 1 8-5 0-5-8-2-13 2-10 7-4 8 4 7 11 2 11-2 5-6-3-4-9 0-13 5-8 8-1 9 7 5 12 0 9-5 3-6-5-2-11 2-11 7-6 9 2 8 10 3 11-3 7-6 1-5-8-1-11 5-9 8-3 10 5 7 10 0 10-5 6-6-3-4-8 1-11 6-7 11 0 9 7 4 10-2 9-6 3-7-4-2-10 3-9 9-5 11 2 8 9 2 10-4 8-8 0-6-6-1-10 6-8 10-2 11 4 6 10 0 10-6 5-8-1-4-8 1-10 8-6 11 1 10 6 4 10-2 9-8 3-7-4-4-8 4-9 10-3 12 2 8 8 2 10-5 7-9 1-7-6-1-8 6-7 12-1 11 5 7 9-1 9-7 4-9-2-6-6 1-7 9-5 13 1 10 M2821 1757l3-7-5-8-9-6-9-2-4 4 5 7 12 5 13 0 8-5 0-8-7-7-10-5-8 1-1 5 8 6 12 3 12-1 7-7-3-8-9-6-10-3-6 3 1 5 10 5 13 1 11-3 4-8-5-8-11-5-10 0-4 4 5 5 11 4 13-1 9-5 1-8-7-7-11-3-9 1-2 5 7 4 13 2 12-2 7-7-2-8-10-6-11-1-7 3 1 5 9 3 13 0 11-4 4-8-4-7-11-4-10 0-5 4 3 5 11 2 13-2 9-6 1-8-7-7-11-2-10 3-2 5 6 3 12 0 12-4 7-7-2-8-9-5-11 0-8 5 0 4 9 3 12-3 11-6 4-8-5-7-10-3-12 3-5 5 3 4 10 0 12-4 9-8 1-9-8-5-11 0-10 5-2 6 5 2 11-2 11-7 6-10-3-8-10-2-11 3-7 6 1 6 7 0 11-5 9-10 1-11-6-5-10 1-9 6-5 7 3 4 10-2 9-10 4-11-2-9-8-2-10 4-7 9 0 8 6 1 8-7 5-12 1-11-6-7-10 2-8 9-2 10 3 5 5-2 6-11 1-13-5-11-8-1-7 6-4 11 1 9 6 3 5-7 0-12-4-12-7-7-7 2-5 10 0 12 5 7 5-2 1-9-3-12-7-10-9-3-6 6-1 12 4 10 5 4 4-4-1-11-7-12-9-7-9 2-3 8 2 12 6 8 5 1 2-7-4-11-9-10-10-3-7 5 0 9 4 11 7 6 5-2-1-8-7-11-11-7-9 0-4 6 2 11 6 9 7 3 3-3-3-10-9-9-12-5-8 3-2 8 5 10 7 7 7 1 1-5-6-10-11-7-11-2-6 5 0 9 7 9 8 5 5-1-1-7-8-9-12-5-11 0-4 7 3 9 8 8 8 3 4-3-4-7-10-8-12-4-9 3-2 8 6 10 9 6 7 1 1-5-6-8-11-6-12-1-7 5 0 9 8 8 9 5 6-2-1-6-8-7-12-4-12 1-4 7 3 8 9 8 9 2 4-3-3-6-10-7-13-2-10 3-2 8 6 9 10 5 8 1 2-5-6-6-11-5-13 0-8 5 1 9 8 7 10 4 7-1 0-6-8-5-13-3-12 2-5 6 3 9 10 6 10 2 5-3-3-6-10-5-13 0-10 4-3 8 6 7 11 5 9-1 3-4-5-5-13-3-13 2-7 6 1 8 8 6 11 3 8-3 0-6-8-4-13 1-11 5-5 7 4 8 11 4 11-2 5-4-3-5-10-1-14 4-8 9 0 8 8 5 12-1 9-7 1-5-7-2-12 5-7 12-1 10 9 7 11-5 6-10-2-10-7-3-4 7 0 14 7 11 10 4 6-4 2-12-5-11-7-4-4 3 2 10 9 10 11 5 9-2 2-8-4-10-8-7-8-1 0 6 6 8 11 7 11 2 7-5-1-10-7-8-9-5-6 2 2 6 9 8 13 5 10-2 4-7-4-9-9-7-9-2-3 3 4 8 11 6 13 1 9-4 0-8-6-8-10-5-7 0-2 5 8 7 12 4 12-1 6-5-2-9-8-7-10-3-6 2 1 6 10 5 13 2 11-2 3-7-4-9-10-5-9-2-4 4 4 6 11 4 13 0 9-4 1-8-7-8-10-4-9 1-2 4 7 6 13 3 12-2 7-6-2-8-9-7-10-2-7 2 0 5 9 5 14 1 11-4 4-7-4-8-11-5-10 0-5 4 3 5 11 3 13-1 10-6 1-8-6-6-11-3-10 1-2 4 5 5 12 2 13-4 7-7-1-8-9-5-11-1-8 3 0 5 8 3 13 0 12-5 4-9-4-7-10-3-11 1-6 4 3 5 10 1 13-2 9-7 2-9-7-6-11-1-10 3-3 5 5 3 11 0 12-5 7-9-1-8-9-4-12 1-8 5 0 5 7 2 12-3 11-8 3-9-4-7-11-1-10 4-6 5 2 5 10 0 12-7 7-10 0-8-7-5-11 2-9 6-3 6 6 4 10-5 9-9 4-11-3-7-9-1-11 5-6 9 1 5 7-1 8-7 7-12 0-11-8-5-10 3-7 9-2 9 3 3 7-4 7-11 1-13-5-8-8-1-8 7-4 11 2 8 6 1 5-9 1-13-3-11-7-5-9 3-5 11 1 11 4 5 5-3 2-11-3-13-8-9-8 0-6 7 0 12 3 9 5 2 4-6-2-13-7-11-9-5-7 3-2 10 2 11 5 7 6-1 1-9-6-11-9-9-9-2-5 6 0 11 5 10 7 4 3-4-2-10-8-10-10-6-9 1-3 8 3 11 7 8 7 2 1-6-5-10-10-9-10-3-7 4-1 9 5 11 9 5 5-1-1-7-8-9-11-7-10-1-5 7 2 10 8 9 8 3 3-3-3-8-10-9-11-4-9 2-3 8 5 10 8 7 8 1 1-5-6-8-11-7-11-2-7 4 0 9 6 9 9 5 6-1 0-6-9-8-12-5-10 0-5 6 2 10 8 8 9 3 5-3-3-7-11-7-12-3-9 2-3 8 5 9 9 6 8 2 3-5-6-7-11-6-13-1-7 5 0 8 7 8 10 5 7 0 0-6-8-7-13-4-12 2-5 6 3 8 9 7 9 3 6-2-3-7-10-6-13-1-10 3-3 7 5 9 10 5 9 1 4-4-6-6-11-5-13 1-8 5 0 8 7 7 11 4 8-1 0-6-7-5-13-2-12 3-6 7 3 7 9 6 11 2 7-4-3-5-10-4-13 1-10 5-3 7 6 8 11 3 10-1 4-5-6-4-11-1-13 4-8 8 2 7 8 5 12 0 8-5 0-6-8-1-12 3-10 9-2 11 6 5 11-1 10-7 2-9-5-2-10 5-5 13 1 12 9 7 10-5 4-11-3-11-7-4-4 5 2 11 7 12 11 5 8-3 2-9-4-11-8-7-7 1 1 7 7 10 11 7 11 0 5-7-3-10-7-8-8-3-4 3 4 8 10 8 12 3 9-3 2-7-6-10-9-6-8-1-1 6 7 7 12 6 11 0 7-5-1-8-8-9-10-4-6 2 2 6 9 6 12 4 11-2 5-6-4-9-10-7-9-2-4 4 4 6 11 5 13 1 9-3 1-8-6-9-10-4-9 0-1 4 6 6 12 4 13-1 7-5-1-8-9-8-10-3-7 2 1 5 8 6 13 1 12-2 4-7-3-8-10-6-11-1-5 4 4 5 10 4 14 0 9-5 2-8-6-7-11-4-9 1-3 4 6 5 12 2 13-2 7-6-1-8-8-6-11-2-8 2 0 6 8 3 13 1 12-4 5-8-4-7-10-5-11 0-6 4 3 5 10 3 13-2 10-6 2-8-6-7-11-2-10 1-4 5 6 5 11 0 13-4 7-7 0-8-9-5-11-1-9 3-1 6 8 3 13-2 11-6 4-8-3-7-10-3-11 1-7 5 2 5 10 1 12-4 9-8 2-8-6-6-11-1-10 4-4 6 5 4 10-2 12-7 6-9-1-8-9-3-11 2-8 6-1 6 7 1 11-5 9-9 3-9-5-7-10-1-10 6-5 7 2 5 8-2 10-8 6-11-2-11-7-3-10 4-8 8-2 8 5 2 9-5 7-12 1-12-5-7-9 1-8 7-4 10 3 7 5-2 6-9 2-13-2-11-9-4-9 6-4 11 0 9 5 4 5-5 2-12-3-14-7-7-8 1-5 9-1 11 3 8 6 0 4-9-3-12-7-11-8-3-7 4-2 11 3 11 6 5 4-3-1-10-5-12-9-8-8 0-5 8 1 12 6 8 5 2 2-5-3-11-8-10-10-5-8 3-1 10 4 11 7 6 5 0 0-8-6-10-10-9-10-1-6 6 1 10 7 10 7 4 3-3-2-9-8-9-11-6-10 1-3 8 4 11 8 7 7 2 1-5-5-9-10-8-11-3-8 4 0 9 6 10 8 5 6 0 0-7-8-8-11-7-11-1-5 7 2 9 7 9 9 4 4-3-3-7-9-8-12-5-10 2-3 8 5 9 9 7 7 2 3-4-6-8-11-7-12-2-7 4-1 9 7 9 9 5 7-1 0-5-8-7-12-5-11 0-6 6 2 9 8 8 10 3 5-3-2-6-10-6-13-3-10 2-3 7 4 9 10 6 9 1 3-3-5-7-11-5-13-1-8 4-1 8 7 9 10 4 8-1 1-5-8-6-12-3-12 1-6 6 2 8 9 8 10 2 6-3-2-5-9-5-13-1-11 3-3 7 4 8 11 6 10 0 4-4-5-5-11-4-13 1-9 6-1 8 8 7 11 2 9-1 1-5-7-4-13-2-12 5-6 7 3 8 10 4 11 0 7-4-3-6-9-1-13 2-10 7-1 10 7 6 11 0 10-4 3-7-7-4-11 4-9 9-3 13 6 7 10-1 9-9 1-11-4-4-8 5-2 13 4 13 9 6 9-4 3-10-3-11-7-6-6 3 2 9 7 10 10 7 10-1 4-8-3-10-8-8-7-2-2 5 5 9 11 8 11 2 7-4 1-9-7-9-9-5-6 1 1 6 8 8 12 5 11 0 5-7-3-10-9-7-9-3-4 3 4 7 10 7 13 2 9-3 2-8-6-9-9-5-8-1-2 5 6 6 12 5 12 1 8-6-1-8-8-8-10-4-7 2 0 5 9 6 13 3 11-2 5-7-3-8-10-6-10-2-5 3 3 6 11 5 13 1 10-5 2-7-6-8-10-4-9 0-3 4 6 5 11 4 13-1 8-6 0-8-9-7-10-3-8 2 0 5 8 5 12 1 12-2 6-8-4-8-9-5-11-1-6 3 3 5 10 4 13 0 10-5 3-8-6-7-11-4-10 1-3 4 5 5 11 2 13-2 8-7 0-8-8-6-12-1-8 2-1 5 7 4 13 0 12-5 5-7-2-8-10-4-12 0-6 4 1 5 10 2 13-2 10-6 3-8-6-7-11-3-11 3-4 5 5 4 10 0 13-5 8-7 0-8-9-6-11 1-9 4-2 5 7 3 12-2 11-7 5-9-4-8-10-2-11 3-6 6 1 4 9 1 11-5 9-10 1-10-6-5-11 1-10 6-3 6 4 3 9-2 11-9 5-11-3-8-8-2-10 4-8 7 0 7 7 1 9-6 7-12 1-11-6-5-9 1-9 8-3 10 3 4 6-3 7-10 3-13-4-10-9-2-8 6-5 11 1 8 4 2 7-7 3-13-3-13-7-6-8 3-5 9-1 12 4 6 6-2 2-10-2-13-6-10-8-2-7 6-2 12 3 10 5 3 4-5-1-12-5-12-10-6-8 2-3 9 2 11 5 8 5 0 1-7-3-12-10-10-9-3-6 5 0 11 4 10 6 5 4-2 0-10-8-11-10-7-9 1-4 7 3 11 6 9 6 2 3-5-4-10-10-9-10-4-8 3-1 9 5 10 7 7 6 0 0-7-6-10-11-7-11-1-5 5 1 10 7 9 7 5 5-3-2-8-9-9-12-5-9 2-4 7 4 10 8 8 8 2 2-4-5-9-10-8-12-2-8 3-1 9 6 9 9 6 7 0 0-5-7-9-12-6-11 0-6 5 2 9 7 9 9 4 5-2-2-7-9-7-13-4-10 2-3 7 4 9 9 7 9 2 3-4-5-7-11-6-12-2-9 4-1 8 7 8 10 6 7-1 1-4-7-7-12-5-12 0-7 6 2 9 8 7 10 3 6-2-1-5-10-6-12-3-11 3-4 7 4 8 10 6 9 1 4-3-4-6-11-5-13 0-9 5-1 7 7 8 10 4 9-1 1-4-6-6-13-3-13 2-6 7 2 8 9 6 10 2 7-2-1-6-9-4-13-1-11 5-4 7 5 8 10 4 11-1 5-4-5-5-11-2-13 3-8 7-1 8 9 6 11 1 9-4 1-4-7-4-13 2-10 7-4 9 4 8 12 1 10-5 5-7-5-6-10 3-7 11-2 14 8 8 8-1 7-10 0-13-5-5-5 3-2 12 6 12 9 7 10-1 4-10-4-11-7-8-5 0-2 7 6 10 11 8 10 2 6-6-1-10-7-9-8-4-5 2 3 8 9 8 12 5 10-3 3-7-5-10-9-7-7-1-3 4 6 8 11 7 13 1 7-5 0-8-7-9-10-4-6 0 0 6 8 7 13 4 11-1 5-6-3-9-9-7-9-3-5 3 3 7 10 5 13 2 10-3 2-7-5-9-10-5-9-1-3 4 6 7 12 4 12-1 8-5 0-8-8-7-10-4-8 1 0 6 8 5 13 3 11-3 6-6-3-8-9-7-11-1-5 2 2 6 10 5 13 0 10-4 3-8-5-7-11-5-9 0-4 4 5 6 12 3 13-2 8-6 0-8-8-6-11-3-8 2-1 4 7 5 13 1 12-3 6-8-3-7-9-5-12-1-6 3 1 5 9 3 14 0 10-6 4-8-6-7-10-3-11 1-4 4 4 5 11 2 13-3 8-8 1-8-8-5-11-1-10 3-1 4 6 4 12 0 12-6 6-8-3-8-9-3-11 1-8 4 1 5 9 2 12-3 11-8 2-9-5-6-11-1-10 3-5 5 3 4 11 0 12-6 7-9-1-8-7-4-12 1-8 5-2 6 6 3 11-4 10-9 4-10-4-7-9-1-11 4-6 8 2 5 7-1 10-7 7-11 1-9-7-5-11 2-9 8-2 8 4 3 8-5 8-10 3-13-6-8-8 0-8 6-6 10 1 7 7 0 7-9 3-12-3-12-6-4-9 3-6 10 0 11 4 5 5-5 3-11-1-13-6-9-9 0-7 8-1 11 3 9 5 1 3-7 0-13-7-12-8-4-7 4-3 10 2 11 5 6 5-2 1-10-5-12-9-9-8-1-5 7 0 11 4 10 7 3 3-5-3-11-8-10-9-6-8 2-3 9 3 11 7 8 6 0 0-7-5-10-10-9-10-3-6 5 0 10 6 10 7 5 5-2-2-8-8-10-11-6-9 0-4 7 2 11 8 8 7 3 3-5-5-8-9-9-12-4-7 3-2 8 5 11 9 6 6 0 0-6-6-8-12-7-11-2-6 5 1 10 7 9 9 4 5-2-2-6-9-8-12-5-10 1-4 6 4 10 8 8 9 2 3-4-5-7-10-7-12-3-9 3-1 8 5 10 10 6 7 0 1-6-7-7-12-5-11-1-7 6 1 8 8 8 9 5 7-2-2-6-9-7-13-4-10 2-4 7 3 9 9 6 10 3 4-4-4-7-11-5-13-1-9 3-1 8 6 8 10 6 8 0 2-5-7-7-12-3-12 0-7 6 1 8 8 7 10 4 7-2 0-6-9-5-13-2-11 3-5 7 4 8 10 5 10 1 5-3-4-6-11-4-13 1-9 5-2 7 7 8 11 3 9-1 2-5-6-4-12-2-13 3-7 7 2 9 10 5 11 0 7-3-1-5-9-3-13 2-10 6-3 8 5 7 11 2 11-4 4-5-4-4-11 1-12 8-5 11 3 8 11 2 11-7 4-9-4-7-9 3-4 11 1 14 9 9 8-1 5-9-1-13-6-7-5 0-1 9 6 12 10 8 9 1 5-6 M2511 1595l-7-1-7 8-2 11 2 9 4 1 5-6 1-13-5-12-7-6-8 2-4 10-1 11 4 7 5-1 3-9-2-13-6-11-8-3-7 5-3 11 2 10 5 5 5-4 0-10-4-13-7-8-8-1-6 8 0 11 4 10 5 2 3-6-2-12-6-12-8-6-8 3-3 9 1 12 5 7 5 0 2-9-4-12-8-10-8-3-7 5-1 11 3 11 6 5 4-3-1-10-5-12-9-8-9 0-5 8 1 11 6 9 5 3 3-5-3-11-8-11-10-5-7 2-2 9 3 11 6 8 6 0 1-8-6-10-9-9-10-3-6 6 0 10 6 10 7 5 4-3-2-8-8-10-11-6-10 1-3 7 3 11 8 8 8 1 2-5-5-8-11-8-12-2-8 6 1 8 7 9 11 4 6-3-2-6-11-6-14 0-10 7 0 10 10 6 12-2 7-9-2-6-10 1-7 10-3 13 6 10 8 1 8-8 3-11-3-9-5 0-4 8 0 14 6 11 7 4 7-4 4-11-2-11-5-5-4 3-1 10 4 13 9 9 8 0 5-7 0-12-4-9-6-2-3 6 2 11 7 11 9 6 8-3 3-9-3-12-5-7-5 0-1 8 4 11 9 10 9 3 7-6 0-10-5-10-6-5-4 2 1 9 7 12 10 7 9 0 4-8-2-10-6-9-6-3-3 5 4 10 9 10 10 5 7-3 2-9-4-11-7-7-6 0 0 7 6 10 10 8 10 2 6-5 0-10-6-10-8-5-4 3 2 8 8 9 11 6 9 0 4-7-3-11-8-8-7-3-2 5 4 8 10 8 11 4 9-3 1-9-6-10-8-6-7 0 0 6 7 8 11 7 12 0 6-5-2-9-8-9-8-4-6 2 3 7 9 8 13 3 10-2 3-7-5-9-9-7-9-1-3 5 6 6 11 5 13 1 8-5 0-8-8-8-11-4-7 2 0 5 8 5 13 2 12-3 5-8-4-7-10-5-10-1-6 4 4 6 11 3 13-3 9-6 1-9-8-6-12-1-9 4-2 5 7 3 13-2 11-8 4-9-4-7-10-2-12 4-5 8 2 4 9-1 10-7 7-11-1-11-8-3-10 4-8 8-2 7 6 3 9-6 7-12 1-11-4-7-10 0-9 8-4 10 2 6 6-2 7-9 3-14-3-10-7-4-9 5-5 10-1 9 4 4 6-5 4-12-1-13-5-8-8 0-7 8-3 11 2 8 5 1 4-8 1-13-3-12-7-5-9 3-4 10-1 11 4 6 5-2 3-10-2-14-6-10-8-2-6 6-3 11 2 10 4 4 5-5 1-12-5-12-7-8-8 1-5 8 0 12 3 8 5 1 4-8-2-12-6-11-8-5-8 4-3 10 2 11 5 6 5-2 1-9-4-12-8-10-8-2-6 6-1 11 3 11 6 4 3-5-1-10-5-12-9-7-8 0-4 9 1 11 5 9 5 1 2-6-3-12-7-10-10-5-7 4-2 10 3 11 6 6 5-1 0-8-5-12-10-8-9-2-5 6 0 11 5 10 7 4 4-4-2-9-8-11-11-6-8 1-3 8 3 11 7 8 6 2 2-6-5-9-10-9-12-3-6 4 0 10 6 9 8 6 6-2-2-7-8-9-12-5-11 2-4 8 5 9 10 7 9-1 2-4-6-7-14-3-12 5-5 11 6 8 12 1 10-8 2-8-7-4-9 7-4 13 2 13 8 5 8-4 5-10 0-11-4-5-5 4-2 11 3 14 7 8 8 0 6-8 0-12-4-9-5-1-2 7 1 12 7 11 9 5 7-3 2-10-2-11-5-7-5 2-1 9 5 12 8 9 9 2 6-6 0-11-5-11-5-4-4 4 2 11 7 11 9 7 9-2 3-8-2-11-6-8-6-2-1 6 3 11 9 10 11 4 6-4 2-10-5-10-6-7-5 1 0 8 6 11 10 8 10 1 5-6-1-10-6-10-7-4-4 3 3 9 8 10 11 6 9-2 3-7-4-11-7-8-7-2-2 6 6 9 10 8 11 3 7-3 0-9-5-10-9-6-5 1 0 6 8 9 11 7 11 0 5-6-2-10-8-9-8-3-4 3 3 7 9 8 12 4 10-2 3-8-5-9-9-7-8-1-2 4 6 8 12 6 12 1 7-5-1-8-7-9-10-4-7 2 1 6 9 6 13 3 11-2 4-7-3-8-10-7-11 0-4 3 4 6 12 4 13 0 9-6 0-9-7-7-11-2-9 2-1 5 8 5 12 0 12-5 5-8-3-8-11-4-12 3-5 5 2 4 10 1 13-5 8-10 0-9-7-4-12 1-9 7-1 7 5 2 10-5 10-9 3-12-6-8-9 1-10 6-5 8 2 6 8-1 8-10 5-12-2-10-7-3-10 4-7 10-1 9 4 2 7-6 6-11 0-13-6-8-8 1-8 8-3 10 1 7 6 0 6-9 1-13-3-11-7-5-8 4-5 10-1 11 5 5 4-4 3-11-1-13-5-9-8-2-7 8-3 11 2 9 5 2 4-6 1-12-4-13-7-6-8 2-5 9 0 11 3 8 5-1 3-8-2-13-6-11-8-4-7 5-3 10 2 11 5 5 4-3 1-10-4-13-7-9-8 0-6 7-1 11 4 9 5 3 4-6-2-11-6-12-8-6-8 2-3 9 1 11 5 8 5 0 2-7-4-12-7-10-9-4-7 4-2 11 4 11 6 5 4-2 0-9-6-12-9-8-9-1-5 7 1 11 5 10 6 3 3-5-2-10-8-11-10-6-8 2-3 9 3 11 7 8 5 0 2-7-6-10-9-9-10-3-6 5-1 10 6 10 7 5 5-2-2-8-7-10-12-6-10 1-3 7 3 10 8 8 8 2 2-5-5-8-11-7-12-2-8 6 0 8 8 9 11 3 7-3-2-7-11-5-14 3-9 9 2 11 10 4 12-6 6-9-4-7-9 3-5 10-1 14 6 10 8 0 7-7 2-12-3-9-4 0-4 7 0 14 6 11 8 5 7-4 3-11-2-11-5-6-4 3-1 10 4 12 9 9 8 1 6-7 0-11-4-10-6-3-3 6 2 11 6 11 10 6 7-2 3-9-2-11-6-8-5 0-1 7 4 11 9 10 9 3 7-4 1-11-5-10-6-6-4 2 0 9 7 11 10 8 9 0 5-7-2-11-6-9-7-3-2 4 3 10 8 10 11 5 8-2 2-9-4-10-7-8-6-1-1 7 6 10 10 8 11 3 6-5 0-10-6-9-7-6-6 2 2 8 8 9 11 6 10 0 4-6-3-10-7-9-8-3-3 4 4 8 10 8 11 4 9-2 2-9-6-10-9-6-6-1-1 6 6 8 12 6 11 2 7-6-1-9-8-9-9-4-5 2 1 6 9 8 13 4 11-3 3-7-4-8-9-7-9-2-4 4 5 7 12 5 12 1 9-5 0-8-7-8-11-4-8 2-1 5 8 5 13 2 12-3 6-8-4-8-10-4-11-1-5 4 3 6 11 2 13-3 8-7 1-7-7-7-12 0-9 4-2 5 6 3 12-2 11-8 4-10-4-7-10-2-10 4-6 8 2 6 8-2 10-8 7-10-1-11-8-4-10 4-8 8-2 8 6 2 8-5 7-12 1-12-5-7-8 1-9 7-4 11 2 6 5-2 7-9 3-13-3-11-8-4-8 5-6 10 0 9 3 4 6-4 4-12-1-13-5-8-8-1-7 8-3 11 2 8 5 1 5-7 1-13-4-12-7-6-8 3-5 10 0 11 3 7 5-2 3-10-1-13-6-10-8-3-7 6-3 11 2 10 5 4 4-5 1-11-4-12-8-9-8 1-5 8 0 11 3 9 5 2 3-7-1-13-6-11-8-5-8 3-3 9 2 12 4 7 5-2 2-9-4-12-8-10-8-2-6 5-2 11 4 11 5 4 4-4 0-10-6-12-9-7-8 0-5 8 1 11 5 9 6 2 2-6-3-11-7-11-9-5-8 3-2 10 3 11 6 7 5-1 0-7-5-12-9-9-10-2-5 6 0 10 5 10 7 5 3-3-1-9-8-11-10-6-9 1-4 7 3 11 7 9 7 1 2-5-5-9-10-9-11-3-8 4 0 9 6 10 9 6 6-2-1-7-9-8-12-5-11 2-4 8 5 9 10 6 10-1 3-5-8-7-13 0-12 8-2 12 7 6 12-2 8-9 1-9-7-2-7 7-3 13 3 13 8 5 7-4 5-10 0-11-5-5-4 3-2 11 3 13 8 9 7 0 6-7 1-12-4-9-5-2-3 6 1 12 7 12 9 5 7-3 3-10-2-11-5-7-5 1-1 9 4 12 9 9 9 2 5-5 1-11-4-10-7-5-4 4 2 9 7 11 9 8 9-1 4-8-2-11-6-9-6-2-2 6 4 10 8 10 10 5 8-3 1-10-4-11-7-6-5 0 0 7 6 11 10 8 10 2 6-6-1-10-6-10-7-4-4 3 2 8 8 10 11 6 9-1 3-7-3-11-7-8-7-2-2 5 4 9 11 8 11 4 7-4 1-8-5-10-8-7-7 1 0 6 8 9 11 6 11 1 5-5-1-10-8-9-9-4-4 3 3 7 9 8 12 4 10-2 3-7-5-10-9-7-8-1-2 4 5 7 11 7 13 1 8-5 0-9-8-8-10-4-6 1 0 6 8 6 13 3 12-2 4-7-3-8-10-6-10-1-5 4 4 5 11 4 13-1 9-5 1-9-7-7-12-2-9 2-1 5 7 5 13-1 12-5 5-8-3-7-11-4-12 2-5 6 2 4 9 0 12-5 9-10-1-9-7-4-11 1-9 7-2 7 6 3 10-5 8-10 4-11-5-8-10 0-10 7-5 8 2 6 7-2 9-9 3-12-1-10-7-4-9 4-7 10-1 9 4 3 6-5 5-12 1-12-6-9-9 0-7 8-3 11 1 7 5 0 6-8 2-13-4-12-7-4-7 3-6 10-1 10 4 6 6-3 3-10-1-14-6-9-8-2-6 6-4 12 2 9 5 3 4-6 1-12-3-12-7-7-9 1-5 9 0 11 3 8 5 0 3-8-1-12-6-12-9-4-7 4-3 11 2 11 5 5 4-2 1-10-3-13-8-9-8-1-6 6-1 12 3 9 6 4 3-5-1-12-6-12-8-6-8 1-4 9 1 11 5 9 5 0 3-7-4-12-7-10-9-4-7 4-2 10 3 11 6 6 5-2 0-9-6-11-9-9-9-1-5 6 0 11 6 10 6 4 3-5-2-10-8-10-10-7-8 2-3 9 3 11 6 8 6 1 1-7-4-10-10-9-10-3-7 4 0 10 5 10 8 6 5-2-1-8-8-9-11-7-11 1-4 7 3 10 8 8 9 2 3-5-5-8-11-6-13-2-8 6 0 9 9 8 12 2 6-4-3-7-11-3-13 5-7 12 4 9 11 2 10-7 4-10-4-6-7 3-5 10 M2306 1493l-2 8 7 9 13 2 9-5-1-8-9-1-11 6-8 11 1 10 7 5 11-4 8-9 1-8-5-2-8 6-6 12 0 12 5 7 9-1 8-8 3-11-2-6-5 1-6 10-2 13 3 11 7 3 8-4 6-10 0-10-4-4-5 4-4 11 1 13 5 9 9 1 7-7 2-11-1-9-5-2-4 7-2 13 4 12 7 6 7-2 5-9 1-11-3-7-5 1-3 9 1 13 5 11 8 4 7-5 3-11-1-11-5-4-4 4-1 10 3 13 6 9 8 1 6-8 2-11-3-10-5-2-4 7 1 12 5 11 8 7 8-2 4-10-1-11-4-8-5 1-2 8 2 13 7 10 9 3 7-5 2-10-3-11-5-5-4 3-1 10 5 12 9 8 9 1 4-8 0-11-5-9-5-3-4 6 3 11 8 11 9 5 7-2 3-9-3-12-6-7-6 0 0 8 5 11 9 9 10 2 6-5 0-11-6-10-7-5-4 3 2 9 8 10 12 6 9-2 3-7-4-11-7-8-8-1-2 6 6 9 11 7 12 2 6-5 0-10-8-9-9-4-6 2 2 6 10 8 13 2 10-3 3-7-5-8-10-6-10 1-3 5 6 5 12 2 13-2 7-9-2-8-9-4-11-1-8 4 2 7 9 1 12-3 10-7 3-9-7-7-12 0-9 4-4 6 4 3 12-1 10-8 6-10-2-8-9-3-11 4-8 7 1 6 6 1 10-7 8-10 2-10-6-7-10 2-9 6-5 8 3 5 8-3 9-9 4-12-1-9-8-3-9 4-8 8-1 8 5 3 8-6 6-11 2-12-4-8-9 0-9 7-5 10 1 7 6-1 7-8 4-13 0-11-7-5-9 3-7 9-3 9 3 5 6-3 6-10 3-13-4-10-8-3-8 6-5 10-1 9 4 2 7-5 4-12 0-13-6-8-8 1-7 8-4 10 2 8 5 0 6-9 2-13-3-11-7-5-8 3-6 9-1 11 3 5 6-2 4-11 0-13-5-10-7-2-8 6-4 10 1 10 4 3 5-5 2-12-2-13-6-8-8 1-6 8-2 12 3 8 4 0 4-8 0-13-4-12-8-4-8 3-4 10 1 11 4 6 5-2 2-10-3-13-6-10-8-2-7 7-1 12 3 10 5 3 3-5 0-12-7-12-9-6-7 2-4 9 3 12 6 7 6 0 1-9-7-11-11-7-12 1-4 9 5 10 12 6 9-3 0-8-9-4-14 4-8 11 0 9 9 5 11-4 7-8 1-8-7-1-8 7-5 11 0 13 6 6 9-2 7-9 3-10-3-6-6 3-5 11-2 12 4 11 8 2 8-6 4-10 0-9-4-3-6 6-3 12 2 13 6 7 7 0 7-9 3-11-3-8-5 1-4 8-1 13 4 11 7 5 8-3 5-11 0-10-4-6-5 3-3 10 2 13 6 10 8 2 6-6 3-11-2-10-4-3-4 5-2 12 4 13 8 7 7-1 5-9 1-11-3-8-5-1-3 8 1 13 6 11 8 4 7-3 3-10-1-11-5-7-5 3-1 9 4 13 7 9 8 2 6-6 2-11-4-11-5-3-4 4 1 11 6 12 8 7 8-1 5-8-2-12-5-8-5-1-2 7 3 11 8 11 10 4 7-4 1-10-4-11-6-6-4 1 0 9 6 12 10 8 9 0 5-6-1-11-6-9-7-4-4 5 4 9 8 10 11 5 8-2 3-9-5-11-8-7-6 0 0 6 6 9 11 8 12 0 5-5-1-10-8-8-9-4-5 3 3 8 10 6 13 3 9-3 3-9-7-9-10-4-8 0-2 5 7 6 13 3 12-3 6-7-2-8-10-6-12 1-6 4 2 5 10 2 14-3 9-9 1-8-7-5-11-1-10 5-2 7 6 2 11-3 10-7 5-10-3-8-10-2-11 4-6 7 0 5 9 0 11-7 7-11 0-9-6-5-10 2-10 7-3 8 4 3 9-4 8-9 4-12-2-8-9-2-10 5-6 9-1 7 6 0 8-6 6-12 1-12-5-6-9 2-9 7-4 9 2 6 7-2 7-9 4-13-2-10-7-4-9 4-7 9-2 9 4 4 7-5 5-11 2-13-4-8-8-1-9 6-4 11 0 8 5 1 6-8 4-12-1-12-6-6-8 1-8 9-2 11 2 6 6-2 5-9 2-13-4-11-7-4-8 5-5 10-1 10 4 4 5-4 4-12-1-13-5-9-8 0-7 7-3 11 1 8 4 2 6-7 1-13-3-12-6-6-8 2-6 9-1 11 3 7 6-1 3-9-1-13-5-11-7-4-8 5-4 11 2 11 4 4 4-4 2-11-3-13-8-8-8-1-5 8-1 11 3 10 6 1 3-6-1-12-6-12-9-5-8 3-3 11 3 11 6 6 5-2 0-9-6-11-11-8-10 1-4 8 4 11 10 7 8-1 1-8-9-6-15 0-10 9 0 10 9 6 12-3 7-8 0-7-6-1-10 8-6 12 1 11 6 5 9-3 8-9 2-10-3-3-6 4-7 11 0 13 4 9 8 1 8-7 4-11-1-8-5-1-5 7-3 12 2 13 7 6 8-2 6-9 2-11-3-7-5 2-5 10 0 13 5 11 7 3 8-5 4-11 0-10-5-4-5 4-2 11 2 13 6 9 8 0 6-7 3-11-3-9-5-2-3 7-1 12 4 12 8 7 8-3 4-10 0-11-4-7-4 1-3 9 2 13 6 11 9 3 6-5 3-11-2-11-5-5-4 4-1 11 4 12 8 9 8 0 5-7 1-12-4-9-5-2-3 6 1 12 6 11 9 6 7-3 4-9-2-11-5-8-5 1-2 8 5 12 8 9 9 3 6-5 1-10-4-11-7-5-4 3 2 10 6 11 9 7 9 0 5-8-2-11-6-9-6-2-3 5 4 11 9 10 11 4 7-4 1-9-4-11-8-6-6 1 0 8 8 9 11 7 10 0 5-6-2-11-8-8-9-3-3 3 4 8 11 8 13 2 8-4 1-8-7-9-10-5-8 2 0 5 8 6 13 3 12-3 5-8-4-8-10-5-11 0-5 4 4 6 11 2 13-3 9-7 0-9-9-6-12 1-8 4-1 5 7 2 12-2 11-9 3-9-4-6-10-2-11 5-6 7 3 4 9-1 10-7 7-10 0-10-8-4-11 3-8 7-2 7 4 2 10-5 9-10 2-11-3-8-9 0-10 5-6 9 1 6 7 0 8-8 6-12 0-10-6-6-10 3-8 8-3 9 3 4 7-3 7-10 3-13-3-9-8-3-9 6-6 9-1 9 5 1 7-5 5-12 1-13-6-7-8 1-8 7-4 10 1 7 6-1 6-8 3-13-2-11-6-5-8 3-7 10-2 10 3 5 6-4 5-10 1-13-4-10-8-2-8 6-4 10 0 10 5 2 5-6 3-12-1-13-6-7-8 1-7 8-2 11 2 8 5-1 4-8 1-13-3-11-7-6-9 4-4 10-1 11 4 5 5-2 3-10-1-14-6-10-8-2-7 7-3 11 2 9 5 4 5-6 0-12-4-12-7-8-7 1-6 9 0 12 4 8 4 0 3-8-2-12-6-11-9-4-7 4-2 10 3 12 6 5 4-3 0-10-6-12-11-7-8 1-4 8 3 12 8 7 7 0 2-8-9-8-14-3-12 6-1 10 9 8 12-1 8-8 0-6-8-1-11 7-6 12 0 10 8 5 10-4 7-9 2-8-5-3-7 5-5 11-1 13 5 8 9 0 7-8 4-10-1-8-6 1-6 8-2 13 3 12 7 4 8-3 6-10 1-10-4-6-5 4-4 10 0 13 5 10 8 2 8-7 3-10-1-10-5-2-4 5-2 12 3 13 7 8 7-2 6-8 1-11-2-8-5 0-4 8 0 13 5 11 8 5 7-4 4-10 0-11-5-6-5 3-1 10 2 13 7 9 8 2 6-6 2-12-3-10-5-3-3 5 0 12 4 12 8 7 8-1 5-9-1-11-4-9-5 0-2 7 2 12 7 11 8 5 8-4 2-10-3-11-5-7-4 2-1 10 5 12 8 9 9 1 6-6 0-11-5-10-5-4-4 5 2 10 7 11 10 7 8-2 3-9-3-11-6-8-6 0-1 6 5 11 9 9 10 3 6-4 1-11-6-10-7-5-4 2 1 8 8 10 11 6 10-1 4-7-4-10-7-8-8-2-3 5 5 8 11 7 12 2 7-4 1-9-8-9-10-4-6 1 1 5 9 8 13 2 11-3 4-7-5-8-10-6-11 1-3 5 5 4 12 3 13-3 8-8-2-9-9-4-11-1-8 5 0 6 9 2 12-3 10-8 3-9-6-7-11-1-10 5-5 6 4 4 10-2 11-8 6-10-2-8-8-3-11 3-8 7 0 7 6 1 9-6 8-10 3-11-5-7-10 1-9 7-5 8 1 5 7-2 9-8 6-13-2-10-7-3-9 3-8 9-2 8 4 3 8-5 7-10 2-13-4-8-8-1-9 6-6 10 1 8 5 0 7-7 5-13 0-11-6-6-9 1-8 9-3 10 3 6 5-3 6-9 3-13-2-11-8-3-9 5-5 10-1 9 3 3 6-4 5-12 0-13-5-9-8 0-7 7-4 11 1 8 4 1 6-7 3-13-2-12-7-6-8 2-6 9-2 11 3 6 5-1 5-10 0-13-4-11-8-3-7 5-5 10 1 10 4 5 5-5 2-11-2-13-5-9-8 0-7 7-2 12 2 8 5 2 4-7 0-12-4-13-8-6-7 3-5 10 0 11 4 7 5-1 3-10-3-12-6-11-9-3-7 6-1 12 3 10 5 4 4-4 0-11-7-12-9-7-8 2-4 9 3 11 6 8 8-1 0-8-7-9-13-6-12 3-3 9 7 10 13 2 9-6-1-6-10-2-12 6-6 11 1 11 8 4 10-4 7-9 1-9-5-1-7 6-6 12 0 13 6 6 8-1 8-8 3-11-3-6-5 2-6 9-2 13 3 11 8 4 8-5 5-11 1-9-4-4-6 4-3 12 1 13 6 9 7 0 7-8 3-11-2-8-5-1-4 7-1 13 3 12 7 6 8-3 5-10 1-11-4-6-5 1-3 10 1 13 6 10 8 4 7-6 3-11-1-10-5-4-4 4-2 11 3 13 8 8 8 0 5-7 1-12-3-9-4-1-4 6 1 13 5 11 8 6 7-3 4-9 0-11-5-8-5 1-2 9 3 13 7 10 9 3 6-6 2-10-3-11-6-5-4 4 1 10 5 12 9 8 8 0 5-8-1-11-5-9-5-2-3 5 3 11 7 11 10 6 8-4 2-9-4-11-6-7-5 0 0 8 5 12 10 8 10 2 5-6-1-10-5-10-7-4-4 3 2 9 9 10 11 5 8-1 3-8-4-11-8-7-7-1-1 5 6 9 11 7 12 1 7-5-2-9-7-9-9-4-6 3 2 7 10 6 12 3 11-3 3-8-6-9-11-5-9 0-2 5 6 6 13 3 12-4 7-7-2-7-10-6-12 0-6 5 1 4 9 2 14-3 9-8 2-9-7-5-11-1-10 5-3 7 5 3 11-3 10-8 6-10-3-8-10-2-10 4-7 7 0 5 7 1 11-7 7-11 1-10-5-5-10 1-10 7-4 8 4 5 7-4 9-9 5-12-2-9-8-3-10 5-7 9-1 7 4 2 8-6 7-11 2-12-6-8-8 1-9 7-4 10 1 6 5-1 8-8 4-13-1-11-7-5-8 4-8 9-2 9 3 4 7-3 6-11 1-13-3-9-8-2-8 6-6 10 0 9 5 2 6-7 4-12-1-12-5-7-8 0-8 8-3 11 2 7 5 0 6-9 2-13-3-11-7-5-8 4-6 10-1 10 3 5 6-3 4-11 0-13-5-10-8-2-7 7-4 10 1 10 4 2 5-5 2-12-2-13-7-8-8 1-6 9-1 11 2 8 6 0 3-8 0-13-5-11-7-5-8 4-4 10 1 11 4 6 5-3 2-10-3-13-7-10-9-1-5 7-2 11 3 10 6 3 4-6-2-11-6-12-9-6-8 3-3 9 3 11 6 8 7-2-1-8-6-11-12-7-11 1-4 9 6 11 11 5 9-4 0-7-10-4-14 4-8 11 1 10 9 4 11-4 7-9 0-7-5-1-9 7-6 13 0 11 6 6 10-3 7-9 3-9-3-5-6 3-6 10-1 14 4 9 7 2 8-6 5-10-1-9-4-3-5 6-3 13 1 12 6 8 9-2 6-8 2-11-2-8-5 1-5 8 0 14 4 11 7 4 8-4 4-10 1-10-4-6-6 4-2 10 2 13 6 10 7 1 7-6 3-12-3-9-4-3-4 6-1 12 4 12 7 7 8-1 M2404 1470l3-7-5-8-9-6-9-1-4 4 6 7 12 4 13-1 7-6 0-8-9-7-11-2-8 3 1 5 8 4 13-1 11-4 5-9-6-8-10-2-11 1-5 4 4 5 11 1 13-4 8-8 0-8-8-5-11 0-9 3-2 6 6 3 12-2 11-7 5-9-3-7-9-3-11 2-7 6 1 6 8 0 12-5 9-8 2-9-6-6-10-1-11 5-4 7 3 3 10-1 11-8 7-9-1-9-8-4-11 2-8 7-2 6 5 2 10-4 10-9 4-10-3-8-9-1-11 4-7 8 1 5 7 0 10-7 8-10 2-10-6-5-10 0-10 7-4 7 3 4 8-2 10-9 5-11 0-9-8-3-10 3-8 8-2 7 4 2 9-5 8-10 4-11-3-8-9-1-10 6-7 8 1 6 6 0 9-7 6-11 1-11-5-6-10 2-9 7-4 9 3 4 7-2 8-9 4-12-1-10-7-3-10 4-7 8-2 9 4 2 7-5 7-11 3-12-4-8-9-1-9 7-5 9 0 7 5 1 8-8 5-12-1-12-6-6-9 3-7 8-3 10 2 5 6-2 7-10 1-13-3-10-7-3-8 5-6 10 0 10 5 3 5-6 3-12-1-12-7-9-8 2-6 8-2 11 4 8 6 0 3-10-2-12-7-11-10-2-7 7 0 11 6 10 9 2 2-6-5-11-13-7-11 1-7 7 4 11 11 5 10 0 4-6-5-6-12 0-12 4-8 10 3 8 9 3 11-1 8-6-1-6-8-1-11 5-10 9-2 10 7 6 10-1 10-5 4-6-3-4-10 2-10 8-6 11 2 8 8 3 10-3 8-7 2-7-6-2-10 6-8 10-3 11 4 7 9 0 10-6 6-8-1-5-7 1-9 7-7 12 0 10 6 5 10-3 9-7 3-8-3-4-8 3-8 10-4 12 2 9 8 2 10-4 7-9 1-8-5-1-8 6-6 11-2 11 4 8 9 0 9-7 5-10-1-6-6 1-8 8-5 12 1 11 6 6 10-3 7-9 3-9-3-5-6 4-7 10-3 12 3 10 8 3 9-6 6-10 0-8-4-2-7 6-5 11-1 13 6 7 8 0 8-7 4-11-1-7-5 0-6 9-4 12 2 12 7 5 8-3 6-9 2-10-3-6-5 3-5 10-1 13 4 11 8 2 8-6 4-10 0-9-4-3-6 5-3 12 2 13 6 8 8-1 6-8 3-11-2-8-5 0-5 8-1 13 5 12 8 4 7-3 4-11 0-10-4-6-5 3-3 10 3 13 7 9 8 2 6-7 2-11-3-10-6-3-3 6 1 11 6 12 8 6 9-2 3-10-3-11-5-8-5 1-1 8 5 12 10 9 10 1 5-6-1-11-6-9-8-4-4 5 4 8 9 9 12 4 9-3 1-10-6-9-9-6-7 0 0 6 8 9 13 4 11-2 5-7-3-8-10-7-11-1-4 4 4 6 11 3 13 0 10-6 0-9-8-7-11-2-9 3-1 4 7 5 14 0 11-6 5-8-3-7-10-3-11 0-7 5 3 5 9 2 13-4 9-8 2-8-6-6-12-1-10 4-3 6 5 3 10-1 12-7 7-8-2-8-8-4-12 2-8 5-1 6 7 1 11-4 10-8 4-9-4-7-11-2-10 5-6 6 2 4 9 0 11-6 8-10 0-9-7-5-10 1-10 6-3 7 4 3 10-3 10-9 5-10-2-9-8-2-11 4-8 7-1 6 6 1 10-5 9-10 3-11-4-7-10 0-10 6-6 7 2 5 7-1 10-7 6-11 1-10-7-5-10 3-9 7-3 7 3 4 8-4 9-9 5-11-2-9-8-3-10 5-7 8-2 7 5 2 9-6 7-11 3-11-5-8-9 1-9 6-5 9 1 6 6-1 8-8 6-12-1-11-6-5-10 3-7 8-4 9 3 4 7-3 8-10 3-13-3-9-8-2-9 5-6 9-1 8 5 2 7-6 5-12 0-12-5-7-8 1-8 7-4 11 2 7 6-1 5-9 3-13-2-11-8-5-8 4-6 11-1 10 4 4 6-4 4-12-2-13-6-8-8-1-7 8-1 12 3 9 5 1 4-9-3-13-8-10-10-2-7 7 1 12 8 8 9 2 3-7-6-7-14-5-13 3-5 7 4 9 11 5 11-2 5-4-4-6-12 0-12 5-7 9 1 8 8 5 12-2 8-6 1-5-6-2-12 4-10 10-3 9 5 7 10 0 10-5 6-7-3-5-8 2-10 7-7 11 0 9 7 4 11-2 9-7 2-7-4-3-9 4-9 10-4 11 3 8 9 2 10-5 6-9 1-6-6 0-9 6-7 11-2 11 6 7 9-2 9-7 5-8-2-5-7 2-9 8-5 13 2 10 6 3 10-3 8-9 2-8-4-3-7 4-8 11-2 12 3 9 8 1 9-6 6-9 1-7-5-1-8 6-6 12 0 12 5 7 9-2 8-8 4-9-1-6-6 2-7 9-4 12 2 11 7 4 9-4 6-9 2-9-3-4-6 4-6 11-2 13 5 9 7 1 8-6 5-11 0-8-4-1-7 6-4 13 2 12 6 7 8-2 7-8 2-11-1-6-6 1-5 9-2 13 4 11 7 4 8-4 5-10 1-10-4-5-6 4-3 11 1 13 6 9 7 1 7-7 3-11-1-9-6-2-4 7-1 12 4 12 7 7 8-2 5-10 0-11-4-8-5 2-2 9 2 12 6 11 8 3 8-6 1-11-3-10-5-5-4 4 1 11 5 13 10 6 8-1 4-8-2-12-6-8-6 0-2 7 5 10 10 9 10 3 6-5 0-11-7-10-8-4-4 2 3 8 9 10 13 3 9-3 2-7-5-10-10-6-8 1-2 5 8 7 12 3 12 0 7-7-3-10-10-6-10-1-6 3 2 5 11 5 14-1 9-6 2-8-6-7-11-3-10 2-3 6 6 4 12 0 12-4 7-8-2-8-9-5-12 1-8 5 1 5 8 2 12-3 11-7 3-9-5-7-11-2-11 4-5 5 4 4 9 0 12-6 8-9 0-9-7-4-12 1-9 5-2 6 5 3 11-3 11-8 5-10-3-8-9-2-11 4-7 6 0 5 7 1 11-5 9-10 2-10-5-6-10 1-10 5-5 7 2 4 9-2 10-7 7-11-1-9-7-4-11 3-8 7-3 6 5 3 9-4 10-10 4-11-3-8-9-1-10 5-7 7 0 6 6 1 10-6 7-11 2-11-6-6-9 1-10 7-4 8 2 4 7-2 9-8 6-12-1-10-7-3-10 3-8 8-3 8 4 3 8-5 8-10 3-12-3-8-8-1-10 5-6 9 0 7 5 1 9-7 6-12 0-11-5-7-9 2-8 7-5 9 2 6 7-2 7-9 4-12-2-11-7-4-9 4-7 10-1 9 3 3 7-4 5-12 2-12-4-9-9-1-8 7-4 11 0 8 5 0 6-7 3-13-2-12-7-6-8 3-6 9-1 11 4 6 5-2 3-11-1-13-7-10-9-1-6 7-1 12 5 10 7 1 2-7-4-12-11-9-10-2-7 7 3 12 10 7 9 1 4-7-7-6-12-2-14 4-5 9 3 8 10 3 12-2 6-6-3-4-10 0-12 5-8 9 0 10 7 4 11-1 10-6 2-6-6-3-10 4-10 8-5 11 3 7 10 2 11-5 6-7 0-5-7 0-10 6-8 11-1 10 6 6 10-2 9-7 4-7-3-4-8 3-9 8-5 12 1 9 8 3 10-4 8-8 1-7-5-2-8 5-8 11-2 11 4 8 8 0 10-6 6-9-1-6-7 0-8 8-5 12 0 11 5 5 10-2 8-8 4-9-3-5-7 3-8 10-3 13 2 9 8 3 9-5 7-9 1-8-5-3-7 6-6 11-1 12 4 8 9 0 8-6 5-10-1-7-5 0-7 8-4 12 1 12 6 5 8-2 8-9 3-10-3-5-6 2-6 10-2 13 3 10 7 3 9-5 6-9 0-10-4-3-6 5-4 12 0 13 5 8 8 0 7-7 4-11-1-8-6-1-5 8-2 13 3 12 7 5 8-2 6-10 1-11-4-6-5 2-3 10 0 13 5 11 7 3 8-6 4-11-2-10-4-4-5 5-1 12 3 13 7 8 8-1 6-9 0-11-3-9-5 0-3 7 1 13 7 11 9 5 7-5 2-10-2-11-6-6-5 3 0 10 6 11 9 8 9 1 4-8-1-12-7-8-6-2-2 5 4 10 10 10 12 2 7-5 0-9-7-9-8-6-6 3 1 8 10 7 12 4 10-2 4-8-5-10-11-5-8-1-3 4 6 7 13 4 13-2 7-6-2-8-9-6-10-3-8 4 1 6 10 3 13-1 10-5 4-7-6-8-11-3-10 2-5 5 5 4 11 0 12-3 9-9-1-8-8-5-12 0-8 5-2 5 7 2 12-2 11-7 5-9-4-7-10-2-11 2-6 6 1 4 9 1 12-5 9-9 1-9-6-5-11 0-10 5-4 6 4 3 11-2 10-7 6-10-1-8-8-3-11 2-9 6-1 6 7 2 10-4 9-10 4-10-4-7-10-1-10 5-7 7 2 5 8 0 10-7 7-11 1-9-6-5-10 1-10 6-4 8 4 4 9-3 9-9 5-11-1-9-8-3-11 4-7 7-2 7 6 2 8-5 8-10 3-12-4-7-9 0-9 5-6 9 1 6 6-1 9-7 6-12 1-10-6-5-10 1-9 8-3 8 3 5 7-3 8-10 4-12-2-9-7-3-10 4-7 9-1 8 4 2 8-5 6-11 2-12-4-8-8 0-10 7-4 9 0 7 6 0 7-8 5-13-1-11-6-6-10 3-7 9-2 10 2 5 6-3 6-11 2-13-4-10-7-2-8 6-5 10 0 9 5 3 6-7 2-12-1-12-6-7-9 1-7 9-1 12 4 7 5-2 4-9-3-14-6-10-10-2-7 8 1 12 5 9 8 2 3-8-5-9-13-8-13 2-5 6 4 10 12 6 10 0 3-5-6-6-12-1-13 5-6 8 3 9 10 3 11-2 7-5-1-5-9-1-12 5-9 9-1 9 6 6 11-1 10-6 4-6-4-3-10 2-10 9-6 10 2 9 9 2 10-4 8-7 1-6-6-1-10 5-8 11-3 11 5 6 9 0 10-6 6-8-2-5-8 1-9 8-6 12 1 10 6 4 10-3 9-8 2-8-3-3-8 4-8 10-4 12 3 8 8 2 10-5 6-9 1-7-5-1-8 6-7 12-1 11 5 7 8-1 10-7 4-9-2-6-6 1-7 9-5 12 1 11 7 4 9-3 8-9 2-9-3-4-7 4-6 11-3 12 3 10 8 1 9-5 6-10 0-8-5-2-6 6-5 12 0 13 5 7 8-1 8-8 4-10-2-7-5 1-6 9-3 12 2 12 7 4 8-3 7-10 1-10-3-5-6 4-4 11-1 13 4 9 8 2 8-6 4-11-1-9-4-2-5 6-3 12 2 13 6 7 8-1 7-9 1-11-2-7-5 0-4 9-1 13 5 11 8 5 7-5 4-10 0-11-4-5-5 3-2 11 3 13 7 9 8 1 6-8 1-11-3-9-6-3-4 7 2 12 6 11 9 6 7-3 4-10-3-11-6-7-5 1 0 8 5 12 10 9 10 0 5-7-2-10-6-9-7-4-4 5 4 10 10 8 12 4 8-3 1-10-7-10-9-5-7 1 1 6 8 7 13 5 12-3 4-7-4-8-10-6-10-2-4 5 5 7 12 3 12-2 9-5 0-8-8-7-12-2-8 3-1 4 8 4 13 0 12-5 5-9-5-7-10-3-11 1-6 4 3 5 10 2 13-4 9-8 1-9-7-5-11 0-10 3-3 6 6 4 11-2 11-7 6-9-2-8-9-3-11 2-8 6 0 5 8 1 11-4 9-9 4-9-5-6-10-1-11 4-5 7 2 4 9-1 11-7 7-10 1-8-7-5-11 2-10 6-2 6 4 3 10-3 10-9 5-10-2-8-9-3-11 4-7 8-1 6 7 0 10-6 8-10 3-10-5-6-10 0-10 6-5 8 2 4 7-2 10-7 6-11 0-10-6-4-11 2-9 8-2 7 4 3 8-4 8-9 5-12-3-8-8-2-10 5-7 8-1 7 6 1 8-7 7-11 2-11-4-6-10 0-9 7-5 9 2 5 6-1 8-9 6-12-1-10-7-4-10 3-7 8-3 9 4 4 7-4 7-11 3-12-4-9-8-2-9 6-6 10 0 7 5 1 7-6 5-12 0-13-6-6-8 1-8 8-3 10 2 7 6-2 6-9 2-13-3-11-7-4-8 5-6 10 0 10 4 4 5-5 3-11-1-14-7-8-8 1-6 8-1 12 4 8 5 0 3-8-3-13-9-11-9-1-7 6 2 13 7 8 8 2 4-7-7-9-13-4-13 3-5 9 4 7 11 5 12-2 4-5-5-4-11-1-13 6-7 9 2 8 8 3 12-1 8-7 0-5-7-1-11 5-10 9-2 10 5 6 10 0 10-5 5-7-2-4-9 1-11 8-6 11 1 9 7 3 11-2 8-8 2-7-5-2-9 5-8 10-4 11 3 7 9 1 11-5 6-8 0-6-7 0-9 7-7 11-1 11 6 5 10-1 9-7 4-9-3-4-7 2-8 9-5 12 2 10 7 3 10-4 7-8 2-8-4-3-8 5-7 11-2 12 4 8 8 1 9-7 6-9-1-7-5 0-7 7-6 12 0 12 6 6 9-2 8-8 3-10-2-5-6 2-7 9-3 13 2 11 8 3 8-4 7-10 1-9-4-3-6 5-6 11-1 12 5 9 8 1 8-7 4-10 0-8-5-1-6 7-4 13 1 12 7 6 8-2 7-9 2-10-2-7-5 2-5 10-2 13 4 11 8 3 7-5 5-10 0-10-4-4-5 4-3 12 1 13 6 9 8 0 6-8 3-11-2-8-4-2-5 8-1 13 4 11 8 6 7-3 5-9 0-11-4-7-6 2-2 9 3 13 7 10 8 2 6-5 2-12-4-11-5-3-3 5 1 11 5 11 10 7 9-2 3-9-3-11-6-8-5 0-2 8 6 11 10 8 10 2 5-5 0-10-7-10-9-4-3 3 3 8 9 9 13 4 10-4 1-9-6-9-10-5-7 0-1 6 8 7 12 4 12-2 5-6-2-9-10-7-11 0-5 3 3 5 11 4 13-1 10-6 1-9-7-6-12-2-9 2-2 4 7 5 12 0 12-5 6-8-3-7-9-4-11 0-8 5 2 6 8 1 13-4 10-7 2-8-5-7-11-1-11 4-4 5 4 4 10-1 12-6 7-9 0-8-9-5-11 2-9 6-1 5 6 2 11-3 10-8 5-10-4-8-10-1-11 4-6 6 1 5 7 0 11-6 9-9 2-10-7-6-10 1-10 6-4 7 3 3 9-2 10-8 7-10-1-9-8-4-11 4-8 7-2 6 5 2 10-4 9-10 3-11-3-8-10 0-10 5-6 8 0 5 7 0 10-7 7-11 1-10-6-6-10 2-9 7-4 8 3 4 7-3 9-8 6-12-2-10-8-3-9 4-8 8-2 8 4 2 9-5 7-10 3-12-4-8-8-1-10 6-5 9 0 7 5 0 9-8 6-11 M2527 1161l0 7 8 6 11 2 9-2 1-5-7-4-12 0-12 4-6 7 2 8 10 5 11 0 7-4-1-5-9-2-13 1-11 6-3 8 5 7 11 3 11-2 4-5-3-4-11-1-13 4-8 7-1 9 8 5 12 1 9-4 2-5-6-3-12 1-12 6-6 8 3 8 10 4 11-2 7-5 0-5-9-1-12 3-10 8-3 9 6 7 11 1 10-4 5-6-3-4-10 1-11 6-8 9 1 10 7 4 11-2 9-6 2-6-5-2-11 3-10 9-4 11 4 7 9 1 11-5 6-7-1-6-8 0-9 8-7 11 0 10 6 5 10-2 9-8 2-9-3-3-8 4-7 11-2 12 5 9 9 1 8-8 4-10-1-7-6 0-7 9-1 13 4 11 7 4 8-4 5-11-2-11-4-4-5 4-1 11 4 14 9 7 8-1 4-8 0-12-5-8-6-1-3 8 5 12 8 9 9 4 7-5 1-11-6-10-6-5-4 3 1 8 8 11 10 6 10-1 4-8-4-10-7-8-7-2-2 5 5 9 10 9 12 2 7-4 0-9-6-10-8-5-6 0 0 7 8 9 12 5 11 0 5-6-3-9-8-9-9-3-4 3 3 8 11 7 12 3 9-3 3-8-6-9-9-6-8-1-2 5 6 7 12 5 12 1 7-5 0-9-8-8-10-4-6 1 0 6 9 7 12 3 12-2 4-7-3-8-9-7-10-2-5 3 3 6 11 6 13 1 10-4 2-8-6-8-10-5-9 0-3 4 6 6 12 4 13-1 7-6 0-8-8-6-11-4-7 2-1 5 9 5 13 2 11-3 5-7-3-8-9-5-11-1-6 3 3 5 10 4 13 0 10-5 3-8-6-7-11-4-9 1-4 4 5 5 12 2 13-2 8-7 0-8-8-6-12-1-8 2-1 5 7 4 13 0 12-4 6-8-4-7-9-5-11 0-7 4 2 5 9 2 14-2 10-6 2-8-6-6-11-3-10 2-4 5 5 4 11 1 12-5 8-8-1-8-8-4-11-1-9 5-1 6 7 2 11-3 11-7 5-9-4-7-10-2-11 3-6 6 1 5 9 0 12-6 8-11-1-9-7-4-10 2-9 7-2 8 5 2 9-5 8-11 1-13-7-7-8 2-8 8-2 12 4 5 6-3 4-12-4-14-8-8-7 1-6 9 2 13 6 7 5 0 1-8-5-12-11-8-10-1-5 6 2 11 7 9 8 3 3-4-4-8-10-8-12-4-9 4-1 8 6 10 9 6 7 0 1-6-7-8-13-5-11 0-6 6 2 9 8 8 10 3 6-3-3-6-10-6-13-2-10 2-3 7 5 9 10 6 10 1 2-4-5-6-11-5-13 0-8 5-1 8 8 8 11 4 8-2 0-5-8-5-12-2-12 2-6 6 2 9 10 6 11 1 6-3-3-5-9-4-14 0-10 4-3 7 5 8 11 4 10 0 4-4-5-5-12-3-13 2-8 6-1 7 8 7 11 3 9-3 1-4-7-4-12-1-12 3-7 7 3 8 9 5 12 1 6-4-1-5-9-2-13 1-11 5-3 8 5 7 10 3 11-1 5-5-4-4-11-1-13 3-8 7-1 8 7 5 12 2 9-3 2-5-6-4-12 1-12 5-6 8 2 8 9 4 12-1 7-4 0-6-9-1-12 3-10 7-4 8 5 7 11 2 10-3 6-6-3-4-10 0-12 6-9 8 0 8 7 5 12 0 9-5 2-6-5-3-11 3-11 8-5 9 2 8 10 2 11-3 7-7 0-5-8 0-10 5-9 10-2 10 6 6 10-1 10-6 4-7-3-4-8 2-10 9-5 12 2 9 8 2 10-4 7-8 1-8-7-2-8 7-5 12-1 12 5 6 10-1 8-9 3-11-3-5-6 3-5 10-1 14 6 10 7 1 7-6 4-11-2-10-7-2-4 7 1 12 5 12 8 6 8-3 4-11-3-11-5-6-4 2-1 9 5 13 10 8 8 0 5-7-1-10-5-10-7-3-4 6 4 9 9 10 11 5 7-3 2-9-5-11-8-7-5 1 0 6 7 10 11 7 10 1 6-6-2-10-7-9-9-4-4 3 3 8 10 8 12 4 10-2 2-8-5-9-9-7-7-1-2 4 5 8 12 6 12 2 7-5 0-9-7-8-10-5-6 1 0 6 8 7 13 4 11-1 5-7-3-8-9-7-9-3-5 3 3 6 10 6 13 2 10-3 3-8-6-8-10-5-9-1-2 4 5 6 12 5 13 0 8-6-1-8-7-7-11-4-7 2 0 5 8 5 12 3 12-2 6-7-3-9-10-5-10-2-6 3 3 5 10 5 13 0 10-4 3-7-6-8-10-5-10 1-3 4 5 5 12 3 12-1 9-6 0-8-8-7-11-2-9 2-1 4 8 5 13 1 12-4 6-7-3-8-10-5-11 0-7 3 2 5 10 3 13-1 10-5 4-8-6-7-11-3-10 1-4 4 4 5 11 1 13-3 8-7 0-8-8-6-11-1-9 4-2 4 7 4 12-1 12-6 6-9-4-7-9-3-12 1-6 5 1 5 9 1 13-4 9-8 2-9-6-5-11-1-10 5-4 6 4 4 10-3 11-7 7-10-3-9-9-3-11 4-7 7 0 7 8 1 9-7 6-12 0-11-8-6-10 4-6 10-1 9 6 4 6-6 2-12-3-13-10-7-8 4-3 10 2 12 7 6 5-3-1-10-6-11-12-7-9 2-3 8 3 10 8 8 7 1 2-6-6-9-11-7-11-2-7 5 0 10 8 9 9 4 5-2-2-6-9-8-13-4-10 3-3 7 4 8 9 7 9 2 3-4-4-7-12-6-13 0-8 4 0 8 7 8 10 5 8-1 0-6-7-6-13-3-12 2-6 6 3 8 8 7 11 3 6-3-2-6-10-5-13-1-10 4-4 7 5 8 10 5 10 0 4-4-5-5-11-3-13 1-8 5-1 8 7 7 11 3 9-1 1-6-7-4-12-1-13 3-6 6 3 8 9 6 11 1 7-3-2-5-9-4-13 1-11 5-3 7 5 7 10 4 10 0 5-4-4-5-11-2-13 2-8 7-1 8 7 6 11 2 10-3 2-4-7-5-12 0-12 5-6 8 2 7 9 5 11 0 8-4 0-5-9-3-13 2-11 7-3 8 5 7 10 2 11-2 5-4-3-5-10-1-13 5-8 8-1 8 7 5 11 1 10-4 3-5-6-4-11 2-12 6-6 9 2 8 9 3 12-2 8-5 0-5-8-2-12 4-9 9-3 9 4 6 11 1 10-4 6-7-4-5-9 2-10 7-7 10 0 9 7 4 11-2 9-7 2-7-5-2-9 5-9 9-4 11 4 8 10 1 10-6 5-9-1-6-6 1-9 8-5 13 2 11 6 4 9-4 7-9 1-10-5-4-5 6-5 11 0 13 7 9 9-1 6-9 2-11-2-8-6 1-4 9 1 14 7 10 8 3 6-5 3-11-4-11-6-4-3 4 1 11 6 12 10 7 9-3 3-9-3-11-6-7-6-1-1 7 5 11 10 9 10 2 6-5 0-10-6-10-8-5-5 3 3 8 8 9 12 6 9-1 3-7-3-11-9-8-7-1-2 4 5 9 11 7 11 2 8-3 1-9-7-10-9-5-7 1 1 6 8 7 12 6 11 0 5-6-2-10-9-8-9-3-5 3 3 6 10 7 13 3 10-3 3-7-6-9-10-6-8-1-2 4 5 7 12 5 12 0 8-4 0-9-7-8-11-4-7 2 0 5 8 6 13 3 11-2 6-6-3-8-9-7-10-2-6 3 3 5 10 5 13 1 10-3 3-8-5-8-11-5-9 0-3 4 5 6 11 3 13-1 9-5 0-8-8-7-11-3-8 2-1 4 8 5 12 2 12-3 6-7-2-8-10-6-11-1-6 4 2 5 10 3 13 0 10-5 3-8-5-7-10-4-11 1-4 5 5 4 11 2 13-3 8-6 1-8-8-6-11-2-9 3-2 5 7 4 12-1 12-4 6-8-2-7-10-5-11 1-7 4 1 5 9 2 12-3 11-6 3-8-6-7-11-2-10 3-5 5 4 4 11 0 12-5 8-9-1-9-8-4-11 1-9 5-2 5 7 3 12-4 10-8 3-10-4-7-10-1-11 6-5 7 2 5 8-2 10-8 5-13-2-9-8-3-10 5-6 11 1 8 5 1 7-8 2-14-5-12-8-4-9 6-2 12 3 10 6 4 5-6-2-11-9-10-9-5-9 3-2 10 5 11 8 6 5-1 0-8-8-9-11-6-11 0-4 7 3 9 8 9 9 2 4-4-5-7-10-7-13-2-9 3-1 9 7 9 9 5 8 0 1-5-8-7-12-5-12 1-6 6 2 8 8 8 11 3 5-3-2-5-9-6-13-2-11 3-3 7 5 8 10 6 9 1 4-4-5-6-11-4-13 1-9 5 0 7 7 8 11 3 8-1 1-4-7-6-13-2-12 3-6 6 2 8 9 6 11 2 7-3-2-5-9-4-13-1-11 5-4 7 5 8 11 4 10 0 5-4-4-5-11-3-14 2-9 6 0 8 7 6 11 3 9-2 2-5-6-4-12-1-13 4-6 8 2 7 9 5 11 1 8-4-1-5-8-3-13 1-11 6-4 8 4 7 11 3 11-1 5-5-3-4-10-1-13 3-10 7-1 9 8 5 11 1 9-3 3-5-5-3-12 0-12 5-7 9 2 8 9 4 12-1 8-5 0-5-8-2-12 3-10 7-4 10 5 7 10 1 11-3 5-6-2-4-9 0-12 5-9 10 0 9 7 4 11-1 10-5 3-6-5-3-11 3-11 9-4 10 2 7 9 2 11-3 7-7 0-7-8 0-9 6-8 11-1 10 5 6 11-1 9-8 3-8-3-4-7 3-8 10-4 12 4 10 8 2 9-6 6-10 0-8-6-1-8 7-3 13 3 12 6 6 8-3 7-10 0-12-4-5-5 3-3 11 2 14 8 9 9 0 5-8 1-11-3-9-7-2-4 8 4 11 7 11 9 4 7-3 2-11-4-11-7-6-4 2 1 9 6 10 11 8 10 0 4-7-3-11-6-9-7-2-3 4 4 10 10 9 11 3 8-3 1-9-5-10-8-6-7 0 0 7 7 8 12 6 11 1 5-6-2-9-7-9-9-4-5 3 3 7 10 8 12 3 10-2 3-7-5-9-9-7-9-1-2 4 5 7 12 6 12 1 8-4 0-9-7-8-10-5-7 1 0 6 8 6 12 4 12-1 6-6-3-9-9-7-10-3-5 3 2 6 10 6 13 1 11-3 3-7-6-8-10-6-9-1-3 4 5 7 12 3 12 0 9-5 0-8-7-7-11-4-8 1-1 5 8 6 12 2 12-3 6-6-2-8-9-6-11-2-6 3 1 5 10 5 13 0 11-5 3-7-5-7-10-5-10 0-5 4 5 5 11 3 13-2 9-6 0-8-7-6-11-2-9 1-2 5 7 5 13 0 12-4 6-7-2-7-10-5-11-1-7 3 1 5 9 4 13-2 11-6 3-8-5-6-10-3-11 1-5 5 4 5 11 0 12-4 9-7 0-8-7-5-12-1-9 4-2 5 6 3 12-2 11-6 6-8-3-8-10-3-11 2-7 6 1 5 8 0 12-5 9-9 1-10-6-5-11 1-9 6-4 7 5 4 9-4 9-9 4-12-5-9-9-1-9 7-5 10 4 8 6-2 5-10 1-14-7-11-8-1-6 7-2 13 6 9 5 1 2-7-3-12-10-10-10-3-6 5 0 11 6 10 9 4 3-3-2-8-9-9-13-5-9 3-2 8 5 9 9 7 7 1 2-6-7-8-12-5-11-1-7 5 1 9 8 8 10 4 6-2-2-6-9-6-13-4-11 2-4 7 5 9 10 7 9 1 3-4-4-6-11-5-13-1-9 5-1 8 7 8 11 4 8-1 1-4-7-6-12-3-13 1-6 7 2 8 9 7 10 2 7-3-2-5-9-4-13-2-11 4-4 8 5 8 10 4 10 0 5-3-4-5-11-4-13 1-9 6-2 8 8 7 11 3 9-2 2-5-7-4-12-1-12 3-7 6 1 8 10 6 11 1 7-3 0-5-9-3-13 0-11 5-4 7 4 8 11 4 10-1 6-4-4-5-10-2-13 3-9 6-2 8 7 7 11 2 10-3 3-5-6-4-11 0-13 5-7 8 2 7 9 5 11 0 8-5 0-4-7-3-13 3-11 6-4 8 4 7 11 3 11-2 6-6-3-4-9 0-13 4-9 8-1 8 7 6 11 0 10-4 3-6-5-3-10 2-12 7-6 9 2 8 9 4 11-3 8-6 0-6-7-1-11 5-9 9-3 10 5 7 10 0 11-6 5-7-2-4-9 2-11 7-6 12 2 9 7 3 10-3 8-7 2-8-6-3-8 6-7 11-2 12 4 7 10 0 9-8 4-10-2-6-6 2-6 9-3 13 4 12 8 2 7-5 5-10 0-10-6-4-5 6-1 12 3 13 7 7 9-2 5-10-1-12-4-7-5 1-2 9 3 13 10 9 8 2 6-6 0-11-5-10-7-4-4 5 3 10 9 10 10 6 8-2 3-9-4-11-8-7-6-1 0 6 6 10 10 8 11 2 6-6-1-9-7-10-8-4-4 2 2 7 8 9 13 5 10-1 3-8-4-9-9-8-8-2-2 4 5 8 11 8 12 1 8-4 0-8-6-9-10-5-7 0 0 5 8 8 12 5 12-1 5-6-2-8-8-8-10-3-5 2 2 6 10 7 13 2 10-3 3-7-5-8-10-6-9-1-3 4 5 6 12 5"/>
</g>
<use href="#npc" transform="translate(1348 100) rotate(5) translate(0 6.3) scale(0.68 0.632)"/>
<use href="#npc" transform="translate(1753 289) rotate(58) translate(0 6.1) scale(0.66 0.614)"/>
<use href="#npc" transform="translate(1899 699) rotate(95) translate(0 6.1) scale(0.66 0.614)"/>
<use href="#npc" transform="translate(1698 1085) rotate(137) translate(0 6.1) scale(0.66 0.614)"/>
<use href="#npc" transform="translate(868 1043) rotate(-130) translate(0 6.1) scale(0.66 0.614)"/>
<use href="#npc" transform="translate(731 628) rotate(-90) translate(0 6.1) scale(0.66 0.614)"/>
<use href="#npc" transform="translate(937 240) rotate(-34) translate(0 6.1) scale(0.66 0.614)"/>
<use href="#npc" transform="translate(136 1152.6) rotate(0) scale(1)"/>
<use href="#mt" transform="translate(172 417) rotate(-37.6) translate(0 -28)"/>
<use href="#actin" transform="translate(571 89)"/>
<path d="M741.5 112L794 326" stroke="#3b3b3c" stroke-width="6.5" stroke-linecap="round" fill="none"/>
<ellipse cx="741.5" cy="108" rx="11.5" ry="12.5" fill="#3b3b3c"/>
<rect x="-15.5" y="-15" width="31" height="30" rx="6" transform="translate(800 344.5) rotate(38)" fill="#3b3b3c"/>
<g transform="translate(821 361) rotate(53)" fill="#c1121f"><rect x="0" y="-3.8" width="48.2" height="7.5"/><ellipse cx="0" cy="0" rx="9.5" ry="17"/><ellipse cx="48.2" cy="0" rx="9.5" ry="17"/></g>
<path d="M404 372L720 441" stroke="#3b3b3c" stroke-width="6" stroke-linecap="round" fill="none"/>
<path d="M712 437C728 440 738 431 752 431L764 436L760 468L745 465C735 458 728 446 712 443Z" fill="#3b3b3c"/>
<path d="M384 358C392 352 408 358 416 370C408 378 396 382 388 378Z" fill="#3b3b3c"/>
<g transform="translate(769 451.5) rotate(21.5)" fill="#c1121f"><rect x="0" y="-3.8" width="50.5" height="7.5"/><ellipse cx="0" cy="0" rx="9.5" ry="17"/><ellipse cx="50.5" cy="0" rx="9.5" ry="17"/></g>
<use href="#dyn" transform="translate(355 340) rotate(142) scale(0.92)"/>
<g filter="url(#soft)"><rect x="6" y="815" width="115" height="102" fill="#e3e5c9"/>
<path d="M6 817Q60 811 121 817L121 841Q60 834 6 841Z" fill="#c6cb9d"/>
<path d="M6 877Q60 870 121 877L121 899Q60 892 6 899Z" fill="#c6cb9d"/></g>
<path d="M65 751L65 802" stroke="#3b3b3c" stroke-width="5.2" stroke-linecap="round"/>
<path d="M65 797C68 806 83 822 83 831C83 840 70 858 65 867C60 858 47 840 47 831C47 822 62 806 65 797Z" fill="#3b3b3c"/>
<g transform="translate(64 877) rotate(90)" fill="#c1121f"><rect x="0" y="-4.5" width="51" height="9"/><ellipse cx="0" cy="0" rx="9.2" ry="18"/><ellipse cx="51" cy="0" rx="9.2" ry="18"/></g>
<text x="101" y="807" font-size="46" fill="#414042" textLength="123" lengthAdjust="spacingAndGlyphs">KASH</text>
<text x="108" y="964" font-size="46" fill="#b5312a" textLength="94" lengthAdjust="spacingAndGlyphs">SUN</text>
<text x="296" y="895" font-size="46" font-weight="bold" fill="#1a1a1a" textLength="106" lengthAdjust="spacingAndGlyphs">LINC</text>
<path d="M239 793C262 795 264 812 264 830C264 850 266 860 280 870C266 880 264 890 264 910C264 928 262 944 239 946" fill="none" stroke="#1a1a1a" stroke-width="5" stroke-linecap="round"/>
<text x="233" y="1177.5" font-size="46" font-weight="bold" fill="#1a1a1a" textLength="97" lengthAdjust="spacingAndGlyphs">NPC</text>
<path d="M64 1372.5Q73.9 1381 83.8 1372.5M83.8 1372.5Q93.7 1364 103.5 1372.5M103.5 1372.5Q113.4 1381 123.3 1372.5M123.3 1372.5Q133.2 1364 143.1 1372.5M143.1 1372.5Q153 1381 162.8 1372.5M162.8 1372.5Q172.7 1364 182.6 1372.5M182.6 1372.5Q192.5 1381 202.4 1372.5M202.4 1372.5Q212.3 1364 222.2 1372.5M222.2 1372.5Q232 1381 241.9 1372.5M241.9 1372.5Q251.8 1364 261.7 1372.5M261.7 1372.5Q271.6 1381 281.5 1372.5M281.5 1372.5Q291.3 1364 301.2 1372.5M301.2 1372.5Q311.1 1381 321 1372.5" fill="none" stroke="#d98b3f" stroke-width="4.6" stroke-linecap="round"/>
<path d="M64 1372.5Q73.9 1364 83.8 1372.5M83.8 1372.5Q93.7 1381 103.5 1372.5M103.5 1372.5Q113.4 1364 123.3 1372.5M123.3 1372.5Q133.2 1381 143.1 1372.5M143.1 1372.5Q153 1364 162.8 1372.5M162.8 1372.5Q172.7 1381 182.6 1372.5M182.6 1372.5Q192.5 1364 202.4 1372.5M202.4 1372.5Q212.3 1381 222.2 1372.5M222.2 1372.5Q232 1364 241.9 1372.5M241.9 1372.5Q251.8 1381 261.7 1372.5M261.7 1372.5Q271.6 1364 281.5 1372.5M281.5 1372.5Q291.3 1381 301.2 1372.5M301.2 1372.5Q311.1 1364 321 1372.5" fill="none" stroke="#b5562b" stroke-width="4.6" stroke-linecap="round"/>
<path d="M64 1372.5C52 1370 50 1359 38 1358M64 1372.5C52 1376 50 1386 38 1387" fill="none" stroke="#c2652e" stroke-width="4" stroke-linecap="round"/>
<ellipse cx="38" cy="1358" rx="4" ry="2.4" fill="#c2652e"/><ellipse cx="38" cy="1387" rx="4" ry="2.4" fill="#c2652e"/>
<path d="M320 1372.5C332 1369 336 1360 346 1357M320 1372.5C332 1377 336 1385 346 1389" fill="none" stroke="#b5562b" stroke-width="4" stroke-linecap="round"/>
<ellipse cx="351" cy="1355.5" rx="10.5" ry="5.8" fill="#b5562b"/><ellipse cx="351" cy="1390" rx="10.5" ry="5.8" fill="#d98438"/>
<text x="391" y="1392" font-size="46" font-weight="bold" fill="#1a1a1a" textLength="135" lengthAdjust="spacingAndGlyphs">Lamin</text>
<use href="#actin" transform="translate(31.5 1453)"/>
<text x="415" y="1469" font-size="46" font-weight="bold" fill="#1a1a1a" textLength="153" lengthAdjust="spacingAndGlyphs">F-actin</text>
<use href="#mt" transform="translate(23 1578)"/>
<use href="#dyn" transform="translate(205.5 1553)"/>
<text x="287.5" y="1558" font-size="46" font-weight="bold" fill="#2767b8" textLength="150" lengthAdjust="spacingAndGlyphs">Dynein</text>
<text x="517" y="1623" font-size="46" font-weight="bold" fill="#1a1a1a" textLength="73" lengthAdjust="spacingAndGlyphs">MT</text>
<g clip-path="url(#lgclip)"><g filter="url(#soft)">
<rect x="1761" y="1450" width="196" height="220" fill="#e9e9d6"/>
<path d="M1762 1515Q1859 1497.5 1956 1498" fill="none" stroke="#e3e5c9" stroke-width="70"/>
<path d="M1762 1491.5Q1859 1476.8 1956 1480" fill="none" stroke="#c6cb9d" stroke-width="27"/>
<path d="M1762 1556Q1859 1536.5 1956 1535" fill="none" stroke="#c6cb9d" stroke-width="14"/>
</g>
<path d="M1762 1574.5Q1859 1555 1956 1553.5" fill="none" stroke="#dc7e1f" stroke-width="26"/>
<path d="M1767.8 1633.1 L1767.5 1629.8 L1763.6 1627.5 L1759.2 1627.4 L1757.7 1628.9 L1760.4 1630.3 L1765.6 1630.2 L1770.2 1628 L1771.1 1624.8 L1768.1 1622.1 L1763.5 1621.3 L1760.8 1622.3 L1762 1623.9 L1766.7 1624.6 L1772 1623.4 L1774.5 1620.5 L1772.9 1617.4 L1768.6 1615.6 L1764.9 1615.6 L1764.6 1617.1 L1768.2 1618.7 L1773.6 1618.9 L1777.6 1617.1 L1777.9 1613.9 L1774.7 1611 L1770.7 1609.5 L1768.9 1610.3 L1770.8 1612.4 L1775.7 1614.4 L1780.6 1614.5 L1782.9 1612.2 L1781.5 1608.4 L1777.9 1605.5 L1775.1 1604.9 L1775.4 1607 L1779 1610 L1784.1 1611.7 L1787.8 1610.6 L1788.1 1607.2 L1785.5 1603.3 L1782.2 1601.4 L1781.2 1602.5 L1783.4 1605.8 L1788.1 1608.7 L1792.4 1609.1 L1794.2 1606.5 L1792.8 1602.2 L1789.7 1599.2 L1787.7 1599.2 L1788.6 1602.1 L1792.4 1605.7 L1797.1 1607.4 L1800.1 1605.8 L1799.9 1601.8 L1797.3 1598 L1794.6 1596.7 L1794.3 1598.8 L1797.2 1602.6 L1801.8 1605.4 L1805.6 1605.1 L1806.6 1601.7 L1804.8 1597.4 L1802 1594.9 L1800.6 1595.9 L1802.3 1599.5 L1806.4 1603.2 L1810.7 1604.3 L1813 1601.8 L1812.1 1597.4 L1809.5 1594 L1807.4 1593.7 L1808 1596.7 L1811.3 1600.8 L1815.8 1603.1 L1818.9 1601.9 L1819.2 1597.9 L1817 1593.7 L1814.5 1592.2 L1814 1594.2 L1816.4 1598.3 L1820.7 1601.6 L1824.6 1601.7 L1825.9 1598.4 L1824.5 1593.9 L1821.8 1591.2 L1820.4 1592.1 L1821.8 1595.8 L1825.7 1599.8 L1830 1601.1 L1832.3 1598.8 L1831.7 1594.4 L1829.3 1590.8 L1827.2 1590.4 L1827.6 1593.4 L1830.8 1597.7 L1835.2 1600.1 L1838.4 1599 L1838.8 1595 L1836.7 1590.8 L1834.2 1589.2 L1833.6 1591.2 L1836 1595.4 L1840.2 1598.7 L1844.1 1598.9 L1845.5 1595.6 L1844.1 1591.1 L1841.5 1588.4 L1840.1 1589.2 L1841.4 1593 L1845.2 1597 L1849.5 1598.4 L1851.9 1596.1 L1851.4 1591.7 L1849 1588.1 L1846.9 1587.6 L1847.2 1590.7 L1850.3 1595 L1854.7 1597.5 L1857.9 1596.5 L1858.4 1592.5 L1856.4 1588.2 L1854 1586.6 L1853.4 1588.6 L1855.6 1592.8 L1859.8 1596.3 L1863.6 1596.5 L1865.1 1593.3 L1863.8 1588.7 L1861.3 1585.9 L1859.8 1586.8 L1861.1 1590.6 L1864.8 1594.6 L1869.1 1596.1 L1871.5 1593.9 L1871.1 1589.5 L1868.7 1585.8 L1866.6 1585.3 L1866.9 1588.4 L1870 1592.7 L1874.3 1595.3 L1877.5 1594.3 L1878.1 1590.3 L1876.1 1586 L1873.7 1584.3 L1873 1586.4 L1875.3 1590.6 L1879.4 1594 L1883.3 1594.3 L1884.8 1591 L1883.5 1586.5 L1880.9 1583.7 L1879.5 1584.6 L1880.8 1588.3 L1884.5 1592.4 L1888.8 1593.8 L1891.2 1591.5 L1890.7 1587.1 L1888.3 1583.5 L1886.2 1583.1 L1886.5 1586.1 L1889.7 1590.4 L1894.1 1592.9 L1897.3 1591.8 L1897.7 1587.8 L1895.7 1583.6 L1893.3 1581.9 L1892.6 1584 L1894.9 1588.2 L1899.1 1591.6 L1903 1591.7 L1904.4 1588.5 L1903.1 1584 L1900.5 1581.2 L1899.1 1582.1 L1900.4 1585.8 L1904.2 1589.9 L1908.5 1591.2 L1910.8 1589 L1910.3 1584.5 L1907.9 1580.9 L1905.8 1580.5 L1906.2 1583.6 L1909.3 1587.8 L1913.7 1590.3 L1916.9 1589.2 L1917.4 1585.1 L1915.3 1580.9 L1912.8 1579.3 L1912.2 1581.4 L1914.6 1585.6 L1918.9 1588.9 L1922.7 1588.9 L1924.1 1585.6 L1922.6 1581.1 L1919.9 1578.5 L1918.5 1579.4 L1920 1583.1 L1924 1587 L1928.3 1588.1 L1930.6 1585.7 L1929.8 1581.3 L1927.1 1577.8 L1925 1577.6 L1925.5 1580.6 L1929.1 1584.6 L1933.7 1586.6 L1936.8 1585.2 L1936.8 1581.1 L1934.3 1577.1 L1931.6 1575.9 L1931.2 1578 L1934.1 1581.8 L1938.9 1584.5 L1942.7 1584 L1943.6 1580.5 L1941.4 1576.3 L1938.2 1574.2 L1936.9 1575.4 L1939.1 1578.8 L1943.9 1581.7 L1948.5 1581.7 L1950.1 1578.7 L1948.1 1574.6 L1944.4 1572.1 L1942.2 1572.7 L1943.8 1575.5 L1948.6 1577.9 L1953.8 1577.8 L1956.1 1574.9 L1954.1 1571.1 L1949.6 1569.1 L1946.6 1569.8 L1947.6 1571.9 L1952.3 1573.1 L1957.7 1571.9 L1960.2 1568.8 L1958.4 1565.6 L1953.8 1564.2 L1950.1 1564.9 L1950 1566.7 L1954 1567.5 L1959.4 1566.2 L1962.7 1563.1 L1961.9 1560 L1957.8 1558.3 L1953.5 1558.4" fill="none" stroke="#8b8b8b" stroke-width="2.6" stroke-linejoin="round"/>
</g>
<text x="1961" y="1491.5" font-size="42" fill="#1f2b22" textLength="427" lengthAdjust="spacingAndGlyphs">outer nuclear membrane</text>
<text x="1961" y="1543" font-size="42" fill="#1f2b22" textLength="424" lengthAdjust="spacingAndGlyphs">inner nuclear membrane</text>
<text x="1962.5" y="1587" font-size="42" fill="#e08a2f" textLength="253" lengthAdjust="spacingAndGlyphs">nuclear lamina</text>
<text x="1962.5" y="1645" font-size="42" fill="#6d6e71" textLength="175" lengthAdjust="spacingAndGlyphs">chromatin</text>
<path d="M2389 1461C2408 1461 2409 1470 2409 1484L2409 1530C2409 1544 2408 1553 2389 1553" fill="none" stroke="#1a1a1a" stroke-width="5" stroke-linecap="round"/>
<text x="2429" y="1519" font-size="45" font-weight="bold" fill="#1a1a1a" textLength="61" lengthAdjust="spacingAndGlyphs">NE</text>
<text x="1947" y="332" font-size="59" font-weight="bold" fill="#111" textLength="185" lengthAdjust="spacingAndGlyphs">import</text>
<text x="278.5" y="656.5" font-size="59" font-weight="bold" fill="#111" textLength="180" lengthAdjust="spacingAndGlyphs">export</text>
<text x="1931" y="1252" font-size="53" font-weight="bold" fill="#c6cb9d" textLength="61" lengthAdjust="spacingAndGlyphs">ER</text>
<path d="M1992 222C1930 210 1850 235 1781 284C1730 320 1690 352 1642 392" fill="none" stroke="#2b2b2b" stroke-width="10" stroke-linecap="round"/>
<path d="M1594 415L1619 373L1642 405Z" fill="#2b2b2b" stroke="#2b2b2b" stroke-width="3" stroke-linejoin="round"/>
<path d="M914 648.5C850 632 750 618 640 629C590 634 550 644 520 652" fill="none" stroke="#1a1a1a" stroke-width="3.6" stroke-linecap="round"/>
<path d="M501 657L527 641L531 662Z" fill="#1a1a1a" stroke="#1a1a1a" stroke-width="2" stroke-linejoin="round"/>
</svg></body></html>
